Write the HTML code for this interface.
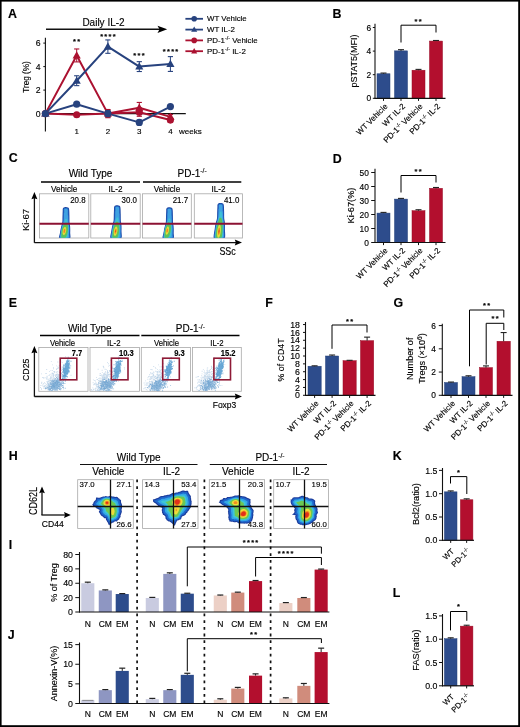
<!DOCTYPE html>
<html><head><meta charset="utf-8"><style>
html,body{margin:0;padding:0;background:#fff;}
svg{display:block;filter:blur(0.3px);font-family:"Liberation Sans", sans-serif;}
text{stroke:#000;stroke-width:0.14px;}
</style></head><body>
<svg width="520" height="727" viewBox="0 0 520 727">
<defs><clipPath id="cclip"><rect x="0" y="193.8" width="520" height="44"/></clipPath></defs>
<rect width="520" height="727" fill="#fff"/>
<rect x="0" y="0" width="520" height="1.6" fill="#000"/>
<rect x="0" y="0" width="1.6" height="727" fill="#000"/>
<rect x="518.2" y="0" width="1.8" height="727" fill="#000"/>
<rect x="0" y="725.2" width="520" height="1.8" fill="#000"/>
<text x="8" y="18" font-size="12.4" font-weight="bold" fill="#000">A</text>
<text x="332.5" y="18.3" font-size="12.4" font-weight="bold" fill="#000">B</text>
<text x="8.7" y="161.5" font-size="12.4" font-weight="bold" fill="#000">C</text>
<text x="332.8" y="163.3" font-size="12.4" font-weight="bold" fill="#000">D</text>
<text x="8.7" y="306.5" font-size="12.4" font-weight="bold" fill="#000">E</text>
<text x="265.3" y="306.5" font-size="12.4" font-weight="bold" fill="#000">F</text>
<text x="393.5" y="306.5" font-size="12.4" font-weight="bold" fill="#000">G</text>
<text x="8.7" y="460.3" font-size="12.4" font-weight="bold" fill="#000">H</text>
<text x="8.7" y="549" font-size="12.4" font-weight="bold" fill="#000">I</text>
<text x="7.8" y="638.5" font-size="12.4" font-weight="bold" fill="#000">J</text>
<text x="392.8" y="460" font-size="12.4" font-weight="bold" fill="#000">K</text>
<text x="392.8" y="597" font-size="12.4" font-weight="bold" fill="#000">L</text>
<text x="103.5" y="26" font-size="10" text-anchor="middle" fill="#000">Daily IL-2</text>
<line x1="46" y1="29.3" x2="160" y2="29.3" stroke="#111" stroke-width="1.4"/>
<path d="M167.2 29.3 L157.5 25.7 L159.5 29.3 L157.5 32.9 Z" fill="#000"/>
<line x1="45.4" y1="37.8" x2="45.4" y2="131.5" stroke="#111" stroke-width="1.1"/>
<line x1="43.3" y1="113.6" x2="45.4" y2="113.6" stroke="#111" stroke-width="1"/>
<text x="40.6" y="116.7" font-size="8.7" text-anchor="end" fill="#000">0</text>
<line x1="43.3" y1="90.1" x2="45.4" y2="90.1" stroke="#111" stroke-width="1"/>
<text x="40.6" y="93.2" font-size="8.7" text-anchor="end" fill="#000">2</text>
<line x1="43.3" y1="66.6" x2="45.4" y2="66.6" stroke="#111" stroke-width="1"/>
<text x="40.6" y="69.7" font-size="8.7" text-anchor="end" fill="#000">4</text>
<line x1="43.3" y1="43.1" x2="45.4" y2="43.1" stroke="#111" stroke-width="1"/>
<text x="40.6" y="46.2" font-size="8.7" text-anchor="end" fill="#000">6</text>
<line x1="45.4" y1="113.6" x2="185.8" y2="113.6" stroke="#111" stroke-width="1.1"/>
<text x="76.7" y="134.3" font-size="8" text-anchor="middle" fill="#000">1</text>
<text x="107.9" y="134.3" font-size="8" text-anchor="middle" fill="#000">2</text>
<text x="139.3" y="134.3" font-size="8" text-anchor="middle" fill="#000">3</text>
<text x="170.4" y="134.3" font-size="8" text-anchor="middle" fill="#000">4</text>
<text x="179" y="134.3" font-size="8" fill="#000">weeks</text>
<text x="28.5" y="77" font-size="8.2" text-anchor="middle" fill="#000" transform="rotate(-90 28.5 77)">Treg (%)</text>
<polyline points="45.4,113.6 76.7,114.77 107.9,113.6 139.3,112.19 170.4,120.06" fill="none" stroke="#ab1130" stroke-width="2" stroke-linejoin="round"/>
<polyline points="45.4,113.6 76.7,55.44 107.9,113.6 139.3,107.72 170.4,116.89" fill="none" stroke="#ab1130" stroke-width="2" stroke-linejoin="round"/>
<polyline points="45.4,113.6 76.7,104.2 107.9,113.6 139.3,122.41 170.4,106.55" fill="none" stroke="#27427e" stroke-width="2" stroke-linejoin="round"/>
<polyline points="45.4,113.6 76.7,80.7 107.9,46.62 139.3,66.6 170.4,64.02" fill="none" stroke="#27427e" stroke-width="2" stroke-linejoin="round"/>
<circle cx="45.4" cy="113.6" r="3.6" fill="#ab1130"/>
<circle cx="76.7" cy="114.77" r="3.6" fill="#ab1130"/>
<line x1="107.9" y1="110.07" x2="107.9" y2="117.12" stroke="#ab1130" stroke-width="1"/>
<line x1="105.3" y1="110.07" x2="110.5" y2="110.07" stroke="#ab1130" stroke-width="1.1"/>
<line x1="105.3" y1="117.12" x2="110.5" y2="117.12" stroke="#ab1130" stroke-width="1.1"/>
<circle cx="107.9" cy="113.6" r="3.6" fill="#ab1130"/>
<line x1="139.3" y1="108.08" x2="139.3" y2="116.3" stroke="#ab1130" stroke-width="1"/>
<line x1="136.7" y1="108.08" x2="141.9" y2="108.08" stroke="#ab1130" stroke-width="1.1"/>
<line x1="136.7" y1="116.3" x2="141.9" y2="116.3" stroke="#ab1130" stroke-width="1.1"/>
<circle cx="139.3" cy="112.19" r="3.6" fill="#ab1130"/>
<line x1="170.4" y1="117.71" x2="170.4" y2="122.41" stroke="#ab1130" stroke-width="1"/>
<line x1="167.8" y1="117.71" x2="173" y2="117.71" stroke="#ab1130" stroke-width="1.1"/>
<line x1="167.8" y1="122.41" x2="173" y2="122.41" stroke="#ab1130" stroke-width="1.1"/>
<circle cx="170.4" cy="120.06" r="3.6" fill="#ab1130"/>
<path d="M45.4 109.3 L41.31 116.61 L49.48 116.61 Z" fill="#ab1130"/>
<line x1="76.7" y1="48.97" x2="76.7" y2="61.9" stroke="#ab1130" stroke-width="1"/>
<line x1="74.1" y1="48.97" x2="79.3" y2="48.97" stroke="#ab1130" stroke-width="1.1"/>
<line x1="74.1" y1="61.9" x2="79.3" y2="61.9" stroke="#ab1130" stroke-width="1.1"/>
<path d="M76.7 51.14 L72.62 58.45 L80.78 58.45 Z" fill="#ab1130"/>
<line x1="107.9" y1="109.49" x2="107.9" y2="117.71" stroke="#ab1130" stroke-width="1"/>
<line x1="105.3" y1="109.49" x2="110.5" y2="109.49" stroke="#ab1130" stroke-width="1.1"/>
<line x1="105.3" y1="117.71" x2="110.5" y2="117.71" stroke="#ab1130" stroke-width="1.1"/>
<path d="M107.9 109.3 L103.82 116.61 L111.98 116.61 Z" fill="#ab1130"/>
<line x1="139.3" y1="102.44" x2="139.3" y2="113.01" stroke="#ab1130" stroke-width="1"/>
<line x1="136.7" y1="102.44" x2="141.9" y2="102.44" stroke="#ab1130" stroke-width="1.1"/>
<line x1="136.7" y1="113.01" x2="141.9" y2="113.01" stroke="#ab1130" stroke-width="1.1"/>
<path d="M139.3 103.42 L135.22 110.73 L143.39 110.73 Z" fill="#ab1130"/>
<line x1="170.4" y1="114.54" x2="170.4" y2="119.24" stroke="#ab1130" stroke-width="1"/>
<line x1="167.8" y1="114.54" x2="173" y2="114.54" stroke="#ab1130" stroke-width="1.1"/>
<line x1="167.8" y1="119.24" x2="173" y2="119.24" stroke="#ab1130" stroke-width="1.1"/>
<path d="M170.4 112.59 L166.31 119.9 L174.49 119.9 Z" fill="#ab1130"/>
<circle cx="45.4" cy="113.6" r="3.6" fill="#27427e"/>
<circle cx="76.7" cy="104.2" r="3.6" fill="#27427e"/>
<line x1="107.9" y1="110.66" x2="107.9" y2="116.54" stroke="#27427e" stroke-width="1"/>
<line x1="105.3" y1="110.66" x2="110.5" y2="110.66" stroke="#27427e" stroke-width="1.1"/>
<line x1="105.3" y1="116.54" x2="110.5" y2="116.54" stroke="#27427e" stroke-width="1.1"/>
<circle cx="107.9" cy="113.6" r="3.6" fill="#27427e"/>
<line x1="139.3" y1="120.06" x2="139.3" y2="124.76" stroke="#27427e" stroke-width="1"/>
<line x1="136.7" y1="120.06" x2="141.9" y2="120.06" stroke="#27427e" stroke-width="1.1"/>
<line x1="136.7" y1="124.76" x2="141.9" y2="124.76" stroke="#27427e" stroke-width="1.1"/>
<circle cx="139.3" cy="122.41" r="3.6" fill="#27427e"/>
<circle cx="170.4" cy="106.55" r="3.6" fill="#27427e"/>
<path d="M45.4 109.3 L41.31 116.61 L49.48 116.61 Z" fill="#27427e"/>
<line x1="76.7" y1="75.77" x2="76.7" y2="85.63" stroke="#27427e" stroke-width="1"/>
<line x1="74.1" y1="75.77" x2="79.3" y2="75.77" stroke="#27427e" stroke-width="1.1"/>
<line x1="74.1" y1="85.63" x2="79.3" y2="85.63" stroke="#27427e" stroke-width="1.1"/>
<path d="M76.7 76.4 L72.62 83.71 L80.78 83.71 Z" fill="#27427e"/>
<line x1="107.9" y1="39.93" x2="107.9" y2="53.32" stroke="#27427e" stroke-width="1"/>
<line x1="105.3" y1="39.93" x2="110.5" y2="39.93" stroke="#27427e" stroke-width="1.1"/>
<line x1="105.3" y1="53.32" x2="110.5" y2="53.32" stroke="#27427e" stroke-width="1.1"/>
<path d="M107.9 42.32 L103.82 49.63 L111.98 49.63 Z" fill="#27427e"/>
<line x1="139.3" y1="61.66" x2="139.3" y2="71.53" stroke="#27427e" stroke-width="1"/>
<line x1="136.7" y1="61.66" x2="141.9" y2="61.66" stroke="#27427e" stroke-width="1.1"/>
<line x1="136.7" y1="71.53" x2="141.9" y2="71.53" stroke="#27427e" stroke-width="1.1"/>
<path d="M139.3 62.3 L135.22 69.61 L143.39 69.61 Z" fill="#27427e"/>
<line x1="170.4" y1="56.61" x2="170.4" y2="71.42" stroke="#27427e" stroke-width="1"/>
<line x1="167.8" y1="56.61" x2="173" y2="56.61" stroke="#27427e" stroke-width="1.1"/>
<line x1="167.8" y1="71.42" x2="173" y2="71.42" stroke="#27427e" stroke-width="1.1"/>
<path d="M170.4 59.72 L166.31 67.03 L174.49 67.03 Z" fill="#27427e"/>
<text x="74.5" y="43.71" font-size="7.4" font-weight="bold" text-anchor="middle">*</text>
<text x="78.7" y="43.71" font-size="7.4" font-weight="bold" text-anchor="middle">*</text>
<text x="101.6" y="38.91" font-size="7.4" font-weight="bold" text-anchor="middle">*</text>
<text x="105.8" y="38.91" font-size="7.4" font-weight="bold" text-anchor="middle">*</text>
<text x="110" y="38.91" font-size="7.4" font-weight="bold" text-anchor="middle">*</text>
<text x="114.2" y="38.91" font-size="7.4" font-weight="bold" text-anchor="middle">*</text>
<text x="134.8" y="57.71" font-size="7.4" font-weight="bold" text-anchor="middle">*</text>
<text x="139" y="57.71" font-size="7.4" font-weight="bold" text-anchor="middle">*</text>
<text x="143.2" y="57.71" font-size="7.4" font-weight="bold" text-anchor="middle">*</text>
<text x="164.2" y="54.11" font-size="7.4" font-weight="bold" text-anchor="middle">*</text>
<text x="168.4" y="54.11" font-size="7.4" font-weight="bold" text-anchor="middle">*</text>
<text x="172.6" y="54.11" font-size="7.4" font-weight="bold" text-anchor="middle">*</text>
<text x="176.8" y="54.11" font-size="7.4" font-weight="bold" text-anchor="middle">*</text>
<line x1="185.4" y1="18.8" x2="203" y2="18.8" stroke="#27427e" stroke-width="1.8"/>
<circle cx="194.2" cy="18.8" r="2.8" fill="#27427e"/>
<text x="207" y="21.3" font-size="7.9" fill="#000" stroke-width="0.25">WT Vehicle</text>
<line x1="185.4" y1="29.6" x2="203" y2="29.6" stroke="#27427e" stroke-width="1.8"/>
<path d="M194.2 26.4 L191.16 31.84 L197.24 31.84 Z" fill="#27427e"/>
<text x="207" y="32.1" font-size="7.9" fill="#000" stroke-width="0.25">WT IL-2</text>
<line x1="185.4" y1="40.4" x2="203" y2="40.4" stroke="#ab1130" stroke-width="1.8"/>
<circle cx="194.2" cy="40.4" r="2.8" fill="#ab1130"/>
<text x="207" y="42.9" font-size="7.9" fill="#000" stroke-width="0.25">PD-1<tspan font-size="5.3" dy="-2.81">-/-</tspan><tspan dy="2.81"> Vehicle</tspan></text>
<line x1="185.4" y1="51.2" x2="203" y2="51.2" stroke="#ab1130" stroke-width="1.8"/>
<path d="M194.2 48 L191.16 53.44 L197.24 53.44 Z" fill="#ab1130"/>
<text x="207" y="53.7" font-size="7.9" fill="#000" stroke-width="0.25">PD-1<tspan font-size="5.3" dy="-2.81">-/-</tspan><tspan dy="2.81"> IL-2</tspan></text>
<line x1="375" y1="23.8" x2="375" y2="98.8" stroke="#111" stroke-width="1.1"/>
<line x1="372.8" y1="98.3" x2="375" y2="98.3" stroke="#111" stroke-width="1"/>
<text x="371.2" y="101.32" font-size="8.4" text-anchor="end" fill="#000">0</text>
<line x1="372.8" y1="74.7" x2="375" y2="74.7" stroke="#111" stroke-width="1"/>
<text x="371.2" y="77.72" font-size="8.4" text-anchor="end" fill="#000">2</text>
<line x1="372.8" y1="51.1" x2="375" y2="51.1" stroke="#111" stroke-width="1"/>
<text x="371.2" y="54.12" font-size="8.4" text-anchor="end" fill="#000">4</text>
<line x1="372.8" y1="27.5" x2="375" y2="27.5" stroke="#111" stroke-width="1"/>
<text x="371.2" y="30.52" font-size="8.4" text-anchor="end" fill="#000">6</text>
<rect x="377" y="73.76" width="13" height="24.54" fill="#2d4c8c" stroke="#24417a" stroke-width="0.5"/>
<line x1="383.5" y1="73.05" x2="383.5" y2="73.76" stroke="#222" stroke-width="1"/>
<line x1="380.5" y1="73.05" x2="386.5" y2="73.05" stroke="#222" stroke-width="1.1"/>
<line x1="383.5" y1="98.3" x2="383.5" y2="100.9" stroke="#111" stroke-width="1"/>
<rect x="394.5" y="50.86" width="13" height="47.44" fill="#2d4c8c" stroke="#24417a" stroke-width="0.5"/>
<line x1="401" y1="49.68" x2="401" y2="50.86" stroke="#222" stroke-width="1"/>
<line x1="398" y1="49.68" x2="404" y2="49.68" stroke="#222" stroke-width="1.1"/>
<line x1="401" y1="98.3" x2="401" y2="100.9" stroke="#111" stroke-width="1"/>
<rect x="412" y="70.22" width="13" height="28.08" fill="#b30f2e" stroke="#980a24" stroke-width="0.5"/>
<line x1="418.5" y1="69.39" x2="418.5" y2="70.22" stroke="#222" stroke-width="1"/>
<line x1="415.5" y1="69.39" x2="421.5" y2="69.39" stroke="#222" stroke-width="1.1"/>
<line x1="418.5" y1="98.3" x2="418.5" y2="100.9" stroke="#111" stroke-width="1"/>
<rect x="429.5" y="41.07" width="13" height="57.23" fill="#b30f2e" stroke="#980a24" stroke-width="0.5"/>
<line x1="436" y1="40.48" x2="436" y2="41.07" stroke="#222" stroke-width="1"/>
<line x1="433" y1="40.48" x2="439" y2="40.48" stroke="#222" stroke-width="1.1"/>
<line x1="436" y1="98.3" x2="436" y2="100.9" stroke="#111" stroke-width="1"/>
<line x1="374.5" y1="98.3" x2="445.5" y2="98.3" stroke="#111" stroke-width="1.2"/>
<path d="M401 42.5 L401 25.2 L436 25.2 L436 32.5" fill="none" stroke="#000" stroke-width="1"/>
<text x="416" y="24.11" font-size="7.4" font-weight="bold" text-anchor="middle">*</text>
<text x="420.2" y="24.11" font-size="7.4" font-weight="bold" text-anchor="middle">*</text>
<text x="357" y="61" font-size="9" text-anchor="middle" fill="#000" transform="rotate(-90 357 61)">pSTAT5(MFI)</text>
<text x="388.1" y="106.9" font-size="8" text-anchor="end" fill="#000" transform="rotate(-45 388.1 106.9)">WT Vehicle</text>
<text x="405.6" y="106.9" font-size="8" text-anchor="end" fill="#000" transform="rotate(-45 405.6 106.9)">WT IL-2</text>
<text x="423.1" y="106.9" font-size="8" text-anchor="end" fill="#000" transform="rotate(-45 423.1 106.9)">PD-1<tspan font-size="5.44" dy="-2.88">-/-</tspan><tspan dy="2.88"> Vehicle</tspan></text>
<text x="440.6" y="106.9" font-size="8" text-anchor="end" fill="#000" transform="rotate(-45 440.6 106.9)">PD-1<tspan font-size="5.44" dy="-2.88">-/-</tspan><tspan dy="2.88"> IL-2</tspan></text>
<line x1="375" y1="168.8" x2="375" y2="243" stroke="#111" stroke-width="1.1"/>
<line x1="371.2" y1="242.5" x2="375" y2="242.5" stroke="#111" stroke-width="1"/>
<text x="368.9" y="245.52" font-size="8.4" text-anchor="end" fill="#000">0</text>
<line x1="371.2" y1="228.5" x2="375" y2="228.5" stroke="#111" stroke-width="1"/>
<text x="368.9" y="231.52" font-size="8.4" text-anchor="end" fill="#000">10</text>
<line x1="371.2" y1="214.5" x2="375" y2="214.5" stroke="#111" stroke-width="1"/>
<text x="368.9" y="217.52" font-size="8.4" text-anchor="end" fill="#000">20</text>
<line x1="371.2" y1="200.5" x2="375" y2="200.5" stroke="#111" stroke-width="1"/>
<text x="368.9" y="203.52" font-size="8.4" text-anchor="end" fill="#000">30</text>
<line x1="371.2" y1="186.5" x2="375" y2="186.5" stroke="#111" stroke-width="1"/>
<text x="368.9" y="189.52" font-size="8.4" text-anchor="end" fill="#000">40</text>
<line x1="371.2" y1="172.5" x2="375" y2="172.5" stroke="#111" stroke-width="1"/>
<text x="368.9" y="175.52" font-size="8.4" text-anchor="end" fill="#000">50</text>
<rect x="377" y="213.1" width="13" height="29.4" fill="#2d4c8c" stroke="#24417a" stroke-width="0.5"/>
<line x1="383.5" y1="212.4" x2="383.5" y2="213.1" stroke="#222" stroke-width="1"/>
<line x1="380.5" y1="212.4" x2="386.5" y2="212.4" stroke="#222" stroke-width="1.1"/>
<line x1="383.5" y1="242.5" x2="383.5" y2="245.1" stroke="#111" stroke-width="1"/>
<rect x="394.5" y="199.1" width="13" height="43.4" fill="#2d4c8c" stroke="#24417a" stroke-width="0.5"/>
<line x1="401" y1="198.4" x2="401" y2="199.1" stroke="#222" stroke-width="1"/>
<line x1="398" y1="198.4" x2="404" y2="198.4" stroke="#222" stroke-width="1.1"/>
<line x1="401" y1="242.5" x2="401" y2="245.1" stroke="#111" stroke-width="1"/>
<rect x="412" y="210.72" width="13" height="31.78" fill="#b30f2e" stroke="#980a24" stroke-width="0.5"/>
<line x1="418.5" y1="209.74" x2="418.5" y2="210.72" stroke="#222" stroke-width="1"/>
<line x1="415.5" y1="209.74" x2="421.5" y2="209.74" stroke="#222" stroke-width="1.1"/>
<line x1="418.5" y1="242.5" x2="418.5" y2="245.1" stroke="#111" stroke-width="1"/>
<rect x="429.5" y="188.32" width="13" height="54.18" fill="#b30f2e" stroke="#980a24" stroke-width="0.5"/>
<line x1="436" y1="187.48" x2="436" y2="188.32" stroke="#222" stroke-width="1"/>
<line x1="433" y1="187.48" x2="439" y2="187.48" stroke="#222" stroke-width="1.1"/>
<line x1="436" y1="242.5" x2="436" y2="245.1" stroke="#111" stroke-width="1"/>
<line x1="374.5" y1="242.5" x2="445.5" y2="242.5" stroke="#111" stroke-width="1.2"/>
<path d="M401 192.5 L401 175.5 L436 175.5 L436 182.5" fill="none" stroke="#000" stroke-width="1"/>
<text x="416" y="173.71" font-size="7.4" font-weight="bold" text-anchor="middle">*</text>
<text x="420.2" y="173.71" font-size="7.4" font-weight="bold" text-anchor="middle">*</text>
<text x="354" y="205.5" font-size="9.2" text-anchor="middle" fill="#000" transform="rotate(-90 354 205.5)">Ki-67(%)</text>
<text x="388.1" y="251.1" font-size="8" text-anchor="end" fill="#000" transform="rotate(-45 388.1 251.1)">WT Vehicle</text>
<text x="405.6" y="251.1" font-size="8" text-anchor="end" fill="#000" transform="rotate(-45 405.6 251.1)">WT IL-2</text>
<text x="423.1" y="251.1" font-size="8" text-anchor="end" fill="#000" transform="rotate(-45 423.1 251.1)">PD-1<tspan font-size="5.44" dy="-2.88">-/-</tspan><tspan dy="2.88"> Vehicle</tspan></text>
<text x="440.6" y="251.1" font-size="8" text-anchor="end" fill="#000" transform="rotate(-45 440.6 251.1)">PD-1<tspan font-size="5.44" dy="-2.88">-/-</tspan><tspan dy="2.88"> IL-2</tspan></text>
<line x1="305.5" y1="322" x2="305.5" y2="395.8" stroke="#111" stroke-width="1.1"/>
<line x1="303" y1="395.3" x2="305.5" y2="395.3" stroke="#111" stroke-width="1"/>
<text x="300" y="398.47" font-size="8.8" text-anchor="end" fill="#000">0</text>
<line x1="303" y1="387.44" x2="305.5" y2="387.44" stroke="#111" stroke-width="1"/>
<text x="300" y="390.61" font-size="8.8" text-anchor="end" fill="#000">2</text>
<line x1="303" y1="379.58" x2="305.5" y2="379.58" stroke="#111" stroke-width="1"/>
<text x="300" y="382.75" font-size="8.8" text-anchor="end" fill="#000">4</text>
<line x1="303" y1="371.72" x2="305.5" y2="371.72" stroke="#111" stroke-width="1"/>
<text x="300" y="374.89" font-size="8.8" text-anchor="end" fill="#000">6</text>
<line x1="303" y1="363.86" x2="305.5" y2="363.86" stroke="#111" stroke-width="1"/>
<text x="300" y="367.03" font-size="8.8" text-anchor="end" fill="#000">8</text>
<line x1="303" y1="356" x2="305.5" y2="356" stroke="#111" stroke-width="1"/>
<text x="300" y="359.17" font-size="8.8" text-anchor="end" fill="#000">10</text>
<line x1="303" y1="348.14" x2="305.5" y2="348.14" stroke="#111" stroke-width="1"/>
<text x="300" y="351.31" font-size="8.8" text-anchor="end" fill="#000">12</text>
<line x1="303" y1="340.28" x2="305.5" y2="340.28" stroke="#111" stroke-width="1"/>
<text x="300" y="343.45" font-size="8.8" text-anchor="end" fill="#000">14</text>
<line x1="303" y1="332.42" x2="305.5" y2="332.42" stroke="#111" stroke-width="1"/>
<text x="300" y="335.59" font-size="8.8" text-anchor="end" fill="#000">16</text>
<line x1="303" y1="324.56" x2="305.5" y2="324.56" stroke="#111" stroke-width="1"/>
<text x="300" y="327.73" font-size="8.8" text-anchor="end" fill="#000">18</text>
<rect x="308" y="366.22" width="13.2" height="29.08" fill="#2d4c8c" stroke="#24417a" stroke-width="0.5"/>
<line x1="314.6" y1="365.82" x2="314.6" y2="366.22" stroke="#222" stroke-width="1"/>
<line x1="311.6" y1="365.82" x2="317.6" y2="365.82" stroke="#222" stroke-width="1.1"/>
<line x1="314.6" y1="395.3" x2="314.6" y2="397.9" stroke="#111" stroke-width="1"/>
<rect x="325.5" y="356" width="13.2" height="39.3" fill="#2d4c8c" stroke="#24417a" stroke-width="0.5"/>
<line x1="332.1" y1="355.02" x2="332.1" y2="356" stroke="#222" stroke-width="1"/>
<line x1="329.1" y1="355.02" x2="335.1" y2="355.02" stroke="#222" stroke-width="1.1"/>
<line x1="332.1" y1="395.3" x2="332.1" y2="397.9" stroke="#111" stroke-width="1"/>
<rect x="343" y="360.72" width="13.2" height="34.58" fill="#b30f2e" stroke="#980a24" stroke-width="0.5"/>
<line x1="349.6" y1="360.32" x2="349.6" y2="360.72" stroke="#222" stroke-width="1"/>
<line x1="346.6" y1="360.32" x2="352.6" y2="360.32" stroke="#222" stroke-width="1.1"/>
<line x1="349.6" y1="395.3" x2="349.6" y2="397.9" stroke="#111" stroke-width="1"/>
<rect x="360.5" y="340.67" width="13.2" height="54.63" fill="#b30f2e" stroke="#980a24" stroke-width="0.5"/>
<line x1="367.1" y1="337.14" x2="367.1" y2="340.67" stroke="#222" stroke-width="1"/>
<line x1="364.1" y1="337.14" x2="370.1" y2="337.14" stroke="#222" stroke-width="1.1"/>
<line x1="367.1" y1="395.3" x2="367.1" y2="397.9" stroke="#111" stroke-width="1"/>
<line x1="305" y1="395.3" x2="375.5" y2="395.3" stroke="#111" stroke-width="1.2"/>
<path d="M332 348.8 L332 325 L367 325 L367 332.5" fill="none" stroke="#000" stroke-width="1"/>
<text x="347.4" y="323.71" font-size="7.4" font-weight="bold" text-anchor="middle">*</text>
<text x="351.6" y="323.71" font-size="7.4" font-weight="bold" text-anchor="middle">*</text>
<text x="284.3" y="360" font-size="8.8" text-anchor="middle" fill="#000" transform="rotate(-90 284.3 360)">% of CD4T</text>
<text x="319.2" y="403.9" font-size="8" text-anchor="end" fill="#000" transform="rotate(-45 319.2 403.9)">WT Vehicle</text>
<text x="336.7" y="403.9" font-size="8" text-anchor="end" fill="#000" transform="rotate(-45 336.7 403.9)">WT IL-2</text>
<text x="354.2" y="403.9" font-size="8" text-anchor="end" fill="#000" transform="rotate(-45 354.2 403.9)">PD-1<tspan font-size="5.44" dy="-2.88">-/-</tspan><tspan dy="2.88"> Vehicle</tspan></text>
<text x="371.7" y="403.9" font-size="8" text-anchor="end" fill="#000" transform="rotate(-45 371.7 403.9)">PD-1<tspan font-size="5.44" dy="-2.88">-/-</tspan><tspan dy="2.88"> IL-2</tspan></text>
<line x1="442.3" y1="323.7" x2="442.3" y2="395.8" stroke="#111" stroke-width="1.1"/>
<line x1="438.8" y1="395.3" x2="442.3" y2="395.3" stroke="#111" stroke-width="1"/>
<text x="436" y="398.32" font-size="8.4" text-anchor="end" fill="#000">0</text>
<line x1="438.8" y1="372.06" x2="442.3" y2="372.06" stroke="#111" stroke-width="1"/>
<text x="436" y="375.08" font-size="8.4" text-anchor="end" fill="#000">2</text>
<line x1="438.8" y1="348.82" x2="442.3" y2="348.82" stroke="#111" stroke-width="1"/>
<text x="436" y="351.84" font-size="8.4" text-anchor="end" fill="#000">4</text>
<line x1="438.8" y1="325.58" x2="442.3" y2="325.58" stroke="#111" stroke-width="1"/>
<text x="436" y="328.6" font-size="8.4" text-anchor="end" fill="#000">6</text>
<rect x="444.5" y="382.52" width="13" height="12.78" fill="#2d4c8c" stroke="#24417a" stroke-width="0.5"/>
<line x1="451" y1="382.05" x2="451" y2="382.52" stroke="#222" stroke-width="1"/>
<line x1="448" y1="382.05" x2="454" y2="382.05" stroke="#222" stroke-width="1.1"/>
<line x1="451" y1="395.3" x2="451" y2="397.9" stroke="#111" stroke-width="1"/>
<rect x="462" y="376.71" width="13" height="18.59" fill="#2d4c8c" stroke="#24417a" stroke-width="0.5"/>
<line x1="468.5" y1="375.78" x2="468.5" y2="376.71" stroke="#222" stroke-width="1"/>
<line x1="465.5" y1="375.78" x2="471.5" y2="375.78" stroke="#222" stroke-width="1.1"/>
<line x1="468.5" y1="395.3" x2="468.5" y2="397.9" stroke="#111" stroke-width="1"/>
<rect x="479.5" y="367.64" width="13" height="27.66" fill="#b30f2e" stroke="#980a24" stroke-width="0.5"/>
<line x1="486" y1="365.9" x2="486" y2="367.64" stroke="#222" stroke-width="1"/>
<line x1="483" y1="365.9" x2="489" y2="365.9" stroke="#222" stroke-width="1.1"/>
<line x1="486" y1="395.3" x2="486" y2="397.9" stroke="#111" stroke-width="1"/>
<rect x="497" y="341.27" width="13.3" height="54.03" fill="#b30f2e" stroke="#980a24" stroke-width="0.5"/>
<line x1="503.65" y1="332.55" x2="503.65" y2="341.27" stroke="#222" stroke-width="1"/>
<line x1="500.65" y1="332.55" x2="506.65" y2="332.55" stroke="#222" stroke-width="1.1"/>
<line x1="503.65" y1="395.3" x2="503.65" y2="397.9" stroke="#111" stroke-width="1"/>
<line x1="441.8" y1="395.3" x2="512.5" y2="395.3" stroke="#111" stroke-width="1.2"/>
<path d="M469.5 366.3 L469.5 310 L503.8 310 L503.8 317.5" fill="none" stroke="#000" stroke-width="1"/>
<path d="M486.2 364.5 L486.2 323.3 L503.8 323.3 L503.8 330" fill="none" stroke="#000" stroke-width="1"/>
<text x="484.4" y="307.51" font-size="7.4" font-weight="bold" text-anchor="middle">*</text>
<text x="488.6" y="307.51" font-size="7.4" font-weight="bold" text-anchor="middle">*</text>
<text x="492.9" y="320.71" font-size="7.4" font-weight="bold" text-anchor="middle">*</text>
<text x="497.1" y="320.71" font-size="7.4" font-weight="bold" text-anchor="middle">*</text>
<text x="413.3" y="358.8" font-size="9.1" text-anchor="middle" fill="#000" transform="rotate(-90 413.3 358.8)">Number of</text>
<text x="425.2" y="358.5" font-size="9.1" text-anchor="middle" fill="#000" transform="rotate(-90 425.2 358.5)">Tregs (×10<tspan font-size="6.8" dy="-3.4">6</tspan><tspan dy="3.4">)</tspan></text>
<text x="455.6" y="403.9" font-size="8" text-anchor="end" fill="#000" transform="rotate(-45 455.6 403.9)">WT Vehicle</text>
<text x="473.1" y="403.9" font-size="8" text-anchor="end" fill="#000" transform="rotate(-45 473.1 403.9)">WT IL-2</text>
<text x="490.6" y="403.9" font-size="8" text-anchor="end" fill="#000" transform="rotate(-45 490.6 403.9)">PD-1<tspan font-size="5.44" dy="-2.88">-/-</tspan><tspan dy="2.88"> Vehicle</tspan></text>
<text x="508.25" y="403.9" font-size="8" text-anchor="end" fill="#000" transform="rotate(-45 508.25 403.9)">PD-1<tspan font-size="5.44" dy="-2.88">-/-</tspan><tspan dy="2.88"> IL-2</tspan></text>
<line x1="442.5" y1="468" x2="442.5" y2="540.8" stroke="#111" stroke-width="1.1"/>
<line x1="439" y1="540.3" x2="442.5" y2="540.3" stroke="#111" stroke-width="1"/>
<text x="437.4" y="543.47" font-size="8.8" text-anchor="end" fill="#000">0.0</text>
<line x1="439" y1="517" x2="442.5" y2="517" stroke="#111" stroke-width="1"/>
<text x="437.4" y="520.17" font-size="8.8" text-anchor="end" fill="#000">0.5</text>
<line x1="439" y1="493.7" x2="442.5" y2="493.7" stroke="#111" stroke-width="1"/>
<text x="437.4" y="496.87" font-size="8.8" text-anchor="end" fill="#000">1.0</text>
<line x1="439" y1="470.4" x2="442.5" y2="470.4" stroke="#111" stroke-width="1"/>
<text x="437.4" y="473.57" font-size="8.8" text-anchor="end" fill="#000">1.5</text>
<rect x="444.4" y="491.84" width="12.6" height="48.46" fill="#2d4c8c" stroke="#24417a" stroke-width="0.5"/>
<line x1="450.7" y1="490.9" x2="450.7" y2="491.84" stroke="#222" stroke-width="1"/>
<line x1="447.7" y1="490.9" x2="453.7" y2="490.9" stroke="#222" stroke-width="1.1"/>
<line x1="450.7" y1="540.3" x2="450.7" y2="542.9" stroke="#111" stroke-width="1"/>
<rect x="460.4" y="499.76" width="12.5" height="40.54" fill="#b30f2e" stroke="#980a24" stroke-width="0.5"/>
<line x1="466.65" y1="498.83" x2="466.65" y2="499.76" stroke="#222" stroke-width="1"/>
<line x1="463.65" y1="498.83" x2="469.65" y2="498.83" stroke="#222" stroke-width="1.1"/>
<line x1="466.65" y1="540.3" x2="466.65" y2="542.9" stroke="#111" stroke-width="1"/>
<line x1="442" y1="540.3" x2="474" y2="540.3" stroke="#111" stroke-width="1.2"/>
<path d="M450.5 483.5 L450.5 476.6 L466.8 476.6 L466.8 494" fill="none" stroke="#000" stroke-width="1"/>
<text x="458.5" y="474.61" font-size="7.4" font-weight="bold" text-anchor="middle">*</text>
<text x="419.3" y="504" font-size="9.2" text-anchor="middle" fill="#000" transform="rotate(-90 419.3 504)">Bcl2(ratio)</text>
<text x="454.5" y="551.8" font-size="7.8" text-anchor="end" fill="#000" transform="rotate(-45 454.5 551.8)">WT</text>
<text x="470.5" y="551.3" font-size="7.8" text-anchor="end" fill="#000" transform="rotate(-45 470.5 551.3)">PD-1<tspan font-size="5.3" dy="-2.81">-/-</tspan><tspan dy="2.81"></tspan></text>
<line x1="442.5" y1="614" x2="442.5" y2="686.3" stroke="#111" stroke-width="1.1"/>
<line x1="439" y1="685.8" x2="442.5" y2="685.8" stroke="#111" stroke-width="1"/>
<text x="437.4" y="688.97" font-size="8.8" text-anchor="end" fill="#000">0.0</text>
<line x1="439" y1="662.5" x2="442.5" y2="662.5" stroke="#111" stroke-width="1"/>
<text x="437.4" y="665.67" font-size="8.8" text-anchor="end" fill="#000">0.5</text>
<line x1="439" y1="639.2" x2="442.5" y2="639.2" stroke="#111" stroke-width="1"/>
<text x="437.4" y="642.37" font-size="8.8" text-anchor="end" fill="#000">1.0</text>
<line x1="439" y1="615.9" x2="442.5" y2="615.9" stroke="#111" stroke-width="1"/>
<text x="437.4" y="619.07" font-size="8.8" text-anchor="end" fill="#000">1.5</text>
<rect x="444.4" y="638.73" width="12.6" height="47.07" fill="#2d4c8c" stroke="#24417a" stroke-width="0.5"/>
<line x1="450.7" y1="637.8" x2="450.7" y2="638.73" stroke="#222" stroke-width="1"/>
<line x1="447.7" y1="637.8" x2="453.7" y2="637.8" stroke="#222" stroke-width="1.1"/>
<line x1="450.7" y1="685.8" x2="450.7" y2="688.4" stroke="#111" stroke-width="1"/>
<rect x="460.4" y="626.15" width="12.5" height="59.65" fill="#b30f2e" stroke="#980a24" stroke-width="0.5"/>
<line x1="466.65" y1="625.22" x2="466.65" y2="626.15" stroke="#222" stroke-width="1"/>
<line x1="463.65" y1="625.22" x2="469.65" y2="625.22" stroke="#222" stroke-width="1.1"/>
<line x1="466.65" y1="685.8" x2="466.65" y2="688.4" stroke="#111" stroke-width="1"/>
<line x1="442" y1="685.8" x2="474" y2="685.8" stroke="#111" stroke-width="1.2"/>
<path d="M450.5 630.4 L450.5 611.5 L466.8 611.5 L466.8 620.8" fill="none" stroke="#000" stroke-width="1"/>
<text x="458.5" y="609.11" font-size="7.4" font-weight="bold" text-anchor="middle">*</text>
<text x="419.3" y="650" font-size="9.2" text-anchor="middle" fill="#000" transform="rotate(-90 419.3 650)">FAS(ratio)</text>
<text x="454.5" y="697.3" font-size="7.8" text-anchor="end" fill="#000" transform="rotate(-45 454.5 697.3)">WT</text>
<text x="470.5" y="696.8" font-size="7.8" text-anchor="end" fill="#000" transform="rotate(-45 470.5 696.8)">PD-1<tspan font-size="5.3" dy="-2.81">-/-</tspan><tspan dy="2.81"></tspan></text>
<text x="90.5" y="177" font-size="10" text-anchor="middle" fill="#000" transform="translate(90.5 177) scale(1 1.06) translate(-90.5 -177)">Wild Type</text>
<text x="192.15" y="177" font-size="10" text-anchor="middle" fill="#000" transform="translate(192.15 177) scale(1 1.06) translate(-192.15 -177)">PD-1<tspan font-size="6.8" dy="-3.6">-/-</tspan><tspan dy="3.6"></tspan></text>
<line x1="41" y1="182" x2="140" y2="182" stroke="#000" stroke-width="1.4"/>
<line x1="143" y1="182" x2="241.3" y2="182" stroke="#000" stroke-width="1.4"/>
<text x="64.2" y="191.9" font-size="8.2" text-anchor="middle" fill="#000" transform="translate(64.2 191.9) scale(1 1.12) translate(-64.2 -191.9)">Vehicle</text>
<text x="115.6" y="191.9" font-size="8.2" text-anchor="middle" fill="#000" transform="translate(115.6 191.9) scale(1 1.12) translate(-115.6 -191.9)">IL-2</text>
<text x="167" y="191.9" font-size="8.2" text-anchor="middle" fill="#000" transform="translate(167 191.9) scale(1 1.12) translate(-167 -191.9)">Vehicle</text>
<text x="218.5" y="191.9" font-size="8.2" text-anchor="middle" fill="#000" transform="translate(218.5 191.9) scale(1 1.12) translate(-218.5 -191.9)">IL-2</text>
<rect x="39.5" y="193.8" width="49.3" height="44.2" fill="#fff" stroke="#a8a8a8" stroke-width="0.8"/>
<text x="85.6" y="202.9" font-size="7.9" text-anchor="end" fill="#000" transform="translate(85.6 202.9) scale(1 1.1) translate(-85.6 -202.9)">20.8</text>
<rect x="90.8" y="193.8" width="49.4" height="44.2" fill="#fff" stroke="#a8a8a8" stroke-width="0.8"/>
<text x="137" y="202.9" font-size="7.9" text-anchor="end" fill="#000" transform="translate(137 202.9) scale(1 1.1) translate(-137 -202.9)">30.0</text>
<rect x="142.5" y="193.8" width="48.8" height="44.2" fill="#fff" stroke="#a8a8a8" stroke-width="0.8"/>
<text x="188.1" y="202.9" font-size="7.9" text-anchor="end" fill="#000" transform="translate(188.1 202.9) scale(1 1.1) translate(-188.1 -202.9)">21.7</text>
<rect x="194.3" y="193.8" width="48.2" height="44.2" fill="#fff" stroke="#a8a8a8" stroke-width="0.8"/>
<text x="239.3" y="202.9" font-size="7.9" text-anchor="end" fill="#000" transform="translate(239.3 202.9) scale(1 1.1) translate(-239.3 -202.9)">41.0</text>
<g clip-path="url(#cclip)">
<path d="M62.9 208.5 L63.02 208.26 L63.17 208.04 L63.34 207.84 L63.54 207.67 L63.75 207.52 L63.98 207.39 L64.23 207.29 L64.5 207.2 L64.8 207.14 L65.14 207.09 L65.51 207.07 L65.89 207.08 L66.28 207.1 L66.65 207.14 L66.99 207.21 L67.3 207.3 L67.57 207.39 L67.83 207.46 L68.08 207.54 L68.3 207.65 L68.51 207.81 L68.69 208.04 L68.86 208.36 L69 208.8 L69.11 209.37 L69.2 210.06 L69.26 210.85 L69.3 211.71 L69.33 212.61 L69.35 213.52 L69.37 214.43 L69.4 215.3 L69.42 216.17 L69.43 217.09 L69.44 218.02 L69.44 218.96 L69.44 219.87 L69.45 220.75 L69.47 221.57 L69.5 222.3 L69.55 222.93 L69.63 223.46 L69.71 223.93 L69.8 224.36 L69.89 224.79 L69.97 225.23 L70.05 225.72 L70.1 226.3 L70.14 226.94 L70.18 227.62 L70.21 228.33 L70.23 229.07 L70.24 229.84 L70.24 230.63 L70.23 231.45 L70.2 232.3 L70.21 233.23 L70.3 234.29 L70.4 235.4 L70.48 236.53 L70.48 237.6 L70.35 238.58 L70.04 239.39 L69.5 240 L68.62 240.42 L67.41 240.72 L65.97 240.9 L64.42 240.96 L62.88 240.9 L61.47 240.72 L60.31 240.42 L59.5 240 L59.06 239.39 L58.89 238.58 L58.92 237.6 L59.1 236.53 L59.37 235.4 L59.66 234.29 L59.92 233.23 L60.1 232.3 L60.22 231.45 L60.36 230.63 L60.51 229.84 L60.68 229.07 L60.84 228.33 L61 227.62 L61.16 226.94 L61.3 226.3 L61.44 225.72 L61.58 225.21 L61.72 224.74 L61.86 224.3 L61.99 223.86 L62.11 223.39 L62.21 222.88 L62.3 222.3 L62.36 221.64 L62.41 220.92 L62.43 220.15 L62.45 219.36 L62.46 218.56 L62.47 217.78 L62.48 217.02 L62.5 216.3 L62.53 215.61 L62.55 214.93 L62.58 214.26 L62.6 213.6 L62.62 212.97 L62.65 212.37 L62.67 211.81 L62.7 211.3 L62.72 210.83 L62.72 210.41 L62.71 210.02 L62.71 209.67 L62.72 209.34 L62.75 209.04 L62.81 208.76Z" fill="#1b47a4"/>
<path d="M65.39 240.34 L64.89 240.39 L64.39 240.43 L63.89 240.46 L63.39 240.47 L62.89 240.48 L62.45 240.32 L62.14 240.24 L61.64 240.21 L61.27 240.07 L60.89 239.92 L60.41 239.82 L60.14 239.65 L59.89 239.45 L59.7 239.07 L59.64 238.6 L59.63 238.32 L59.62 237.82 L59.61 237.32 L59.64 236.84 L59.76 236.57 L59.8 236.07 L59.82 235.57 L59.96 235.32 L60.02 234.82 L60.16 234.57 L60.2 234.07 L60.36 233.57 L60.42 233.32 L60.42 232.82 L60.43 232.32 L60.64 231.85 L60.65 231.57 L60.66 231.07 L60.82 230.57 L60.89 230.32 L60.91 229.82 L61.07 229.32 L61.15 229.07 L61.17 228.57 L61.39 228.13 L61.42 227.82 L61.45 227.32 L61.64 227.01 L61.7 226.57 L61.89 226.09 L61.96 225.82 L62.01 225.32 L62.18 225.07 L62.29 224.57 L62.45 224.32 L62.54 223.82 L62.64 223.51 L62.81 223.07 L62.85 222.57 L62.89 222.09 L62.9 221.82 L63.12 221.32 L63.17 221.07 L63.19 220.57 L63.21 220.07 L63.23 219.57 L63.24 219.07 L63.24 218.57 L63.25 218.07 L63.25 217.57 L63.26 217.07 L63.26 216.57 L63.26 216.07 L63.26 215.57 L63.26 215.07 L63.26 214.57 L63.26 214.07 L63.26 213.57 L63.36 213.07 L63.48 212.82 L63.51 212.32 L63.51 211.82 L63.51 211.32 L63.51 210.82 L63.51 210.32 L63.51 209.82 L63.51 209.32 L63.61 208.82 L63.86 208.57 L64.1 208.32 L64.39 208.16 L64.64 208.05 L65.14 207.95 L65.64 207.95 L66.14 207.95 L66.64 207.95 L66.93 208.07 L67.39 208.2 L67.89 208.3 L68.05 208.57 L68.17 208.82 L68.27 209.32 L68.3 209.82 L68.42 210.07 L68.52 210.57 L68.52 211.07 L68.52 211.57 L68.52 212.07 L68.52 212.57 L68.52 213.07 L68.52 213.57 L68.52 214.07 L68.52 214.57 L68.56 215.07 L68.67 215.32 L68.77 215.82 L68.78 216.32 L68.78 216.82 L68.78 217.32 L68.79 217.82 L68.8 218.32 L68.8 218.82 L68.81 219.32 L68.82 219.82 L68.84 220.32 L68.85 220.82 L68.86 221.32 L68.87 221.82 L68.89 222.32 L68.9 222.57 L68.91 223.07 L68.97 223.57 L69.14 223.97 L69.17 224.32 L69.22 224.82 L69.39 225.27 L69.4 225.57 L69.41 226.07 L69.41 226.57 L69.46 227.07 L69.63 227.57 L69.63 228.07 L69.62 228.57 L69.62 229.07 L69.62 229.57 L69.61 230.07 L69.6 230.57 L69.6 231.07 L69.59 231.57 L69.58 232.07 L69.57 232.57 L69.57 233.07 L69.56 233.57 L69.55 234.07 L69.55 234.57 L69.54 235.07 L69.64 235.49 L69.78 235.82 L69.78 236.32 L69.77 236.82 L69.77 237.32 L69.67 237.82 L69.56 238.07 L69.52 238.57 L69.39 238.86 L69.14 239.13 L68.89 239.36 L68.46 239.57 L68.14 239.71 L67.74 239.82 L67.39 239.98 L66.89 240 L66.39 240.07 L66.14 240.23 L65.64 240.32 L65.39 240.34Z" fill="#2569c6" fill-rule="evenodd"/>
<path d="M65.64 239.84 L65.14 239.9 L64.64 239.96 L64.14 240 L63.64 240.03 L63.14 240.05 L62.64 239.95 L62.26 239.82 L61.89 239.79 L61.39 239.63 L61.14 239.51 L60.64 239.41 L60.39 239.24 L60.14 238.91 L60.09 238.57 L60.07 238.07 L60.05 237.57 L60.03 237.07 L60.14 236.77 L60.21 236.32 L60.2 235.82 L60.36 235.32 L60.39 235.06 L60.54 234.57 L60.57 234.07 L60.65 233.82 L60.76 233.32 L60.76 232.82 L60.85 232.32 L60.94 232.07 L60.98 231.57 L61 231.07 L61.14 230.69 L61.22 230.32 L61.25 229.82 L61.39 229.45 L61.48 229.07 L61.58 228.57 L61.7 228.32 L61.76 227.82 L61.89 227.32 L61.99 227.07 L62.07 226.57 L62.17 226.32 L62.34 225.82 L62.39 225.51 L62.59 225.07 L62.64 224.82 L62.88 224.32 L62.93 224.07 L63.08 223.57 L63.2 223.32 L63.28 222.82 L63.33 222.32 L63.38 221.82 L63.55 221.57 L63.64 221.27 L63.72 220.82 L63.78 220.32 L63.82 219.82 L63.86 219.32 L63.89 218.82 L63.9 218.57 L63.92 218.07 L63.94 217.57 L63.95 217.07 L63.95 216.57 L63.96 216.07 L63.96 215.57 L63.96 215.07 L63.97 214.57 L63.97 214.07 L63.97 213.57 L64.14 213.07 L64.2 212.82 L64.22 212.32 L64.22 211.82 L64.22 211.32 L64.22 210.82 L64.22 210.32 L64.22 209.82 L64.22 209.32 L64.39 209.03 L64.64 208.82 L65.14 208.65 L65.64 208.65 L66.14 208.65 L66.64 208.71 L66.9 208.82 L67.39 208.93 L67.56 209.32 L67.58 209.82 L67.64 210.07 L67.81 210.57 L67.81 211.07 L67.81 211.57 L67.81 212.07 L67.81 212.57 L67.81 213.07 L67.82 213.57 L67.82 214.07 L67.82 214.57 L67.85 215.07 L67.91 215.32 L68.08 215.82 L68.09 216.32 L68.1 216.82 L68.11 217.32 L68.13 217.82 L68.14 218.1 L68.16 218.57 L68.19 219.07 L68.22 219.57 L68.26 220.07 L68.29 220.57 L68.34 221.07 L68.38 221.57 L68.4 221.82 L68.43 222.32 L68.45 222.82 L68.48 223.32 L68.6 223.82 L68.72 224.07 L68.74 224.57 L68.85 225.07 L68.97 225.32 L68.98 225.82 L68.99 226.32 L68.99 226.82 L69.08 227.32 L69.19 227.57 L69.19 228.07 L69.19 228.57 L69.18 229.07 L69.17 229.57 L69.16 230.07 L69.15 230.57 L69.14 230.82 L69.12 231.32 L69.09 231.82 L69.07 232.32 L69.04 232.82 L69.02 233.32 L68.99 233.82 L68.97 234.32 L68.94 234.82 L68.94 235.32 L69.08 235.82 L69.12 236.32 L69.11 236.82 L69.1 237.32 L68.93 237.82 L68.86 238.07 L68.71 238.57 L68.47 238.82 L68.14 238.99 L67.89 239.08 L67.39 239.3 L67.14 239.37 L66.64 239.45 L66.26 239.57 L65.89 239.8 L65.64 239.84Z" fill="#3fa2e2" fill-rule="evenodd"/>
<path d="M63.64 239.35 L63.14 239.38 L62.88 239.32 L62.39 239.17 L61.95 239.07 L61.64 238.93 L61.39 238.78 L60.96 238.57 L60.88 238.32 L60.82 237.82 L60.76 237.32 L60.81 236.82 L60.81 236.32 L60.8 235.82 L60.86 235.32 L60.89 235 L60.95 234.57 L60.95 234.07 L61.08 233.57 L61.09 233.07 L61.1 232.57 L61.2 232.32 L61.29 231.82 L61.31 231.32 L61.39 230.9 L61.51 230.57 L61.55 230.07 L61.64 229.65 L61.77 229.32 L61.82 228.82 L61.95 228.57 L62.07 228.07 L62.13 227.57 L62.28 227.32 L62.39 226.87 L62.47 226.57 L62.64 226.21 L62.77 225.82 L62.89 225.51 L63.1 225.07 L63.21 224.82 L63.39 224.48 L63.55 224.07 L63.67 223.82 L63.89 223.4 L64.01 223.07 L64.14 222.61 L64.22 222.32 L64.39 221.9 L64.56 221.57 L64.65 221.32 L64.77 220.82 L64.86 220.32 L64.9 220.07 L65.05 219.57 L65.14 219.24 L65.56 219.07 L65.89 218.98 L66.39 218.94 L66.89 219.02 L66.96 219.32 L67.1 219.82 L67.16 220.07 L67.23 220.57 L67.3 221.07 L67.39 221.57 L67.43 221.82 L67.52 222.32 L67.6 222.82 L67.64 223.07 L67.73 223.57 L67.89 224.06 L67.99 224.32 L68.05 224.82 L68.14 225.18 L68.26 225.57 L68.29 226.07 L68.32 226.57 L68.34 227.07 L68.39 227.4 L68.48 227.82 L68.48 228.32 L68.47 228.82 L68.45 229.32 L68.43 229.82 L68.41 230.32 L68.39 230.57 L68.36 231.07 L68.32 231.57 L68.28 232.07 L68.24 232.57 L68.19 233.07 L68.14 233.54 L68.11 233.82 L68.06 234.32 L68.01 234.82 L67.97 235.32 L68 235.82 L68 236.32 L67.93 236.82 L67.88 237.07 L67.67 237.57 L67.57 237.82 L67.39 238.08 L66.89 238.32 L66.64 238.39 L66.14 238.57 L65.89 238.71 L65.64 238.87 L65.14 239.03 L64.89 239.1 L64.39 239.22 L63.89 239.32 L63.64 239.35Z" fill="#3cc2d6" fill-rule="evenodd"/>
<path d="M64.39 238.59 L63.89 238.69 L63.39 238.75 L62.89 238.66 L62.6 238.57 L62.14 238.45 L61.85 238.32 L61.49 238.07 L61.39 237.74 L61.34 237.32 L61.35 236.82 L61.31 236.32 L61.31 235.82 L61.32 235.32 L61.37 234.82 L61.37 234.32 L61.39 234.07 L61.45 233.57 L61.45 233.07 L61.48 232.57 L61.57 232.07 L61.62 231.57 L61.64 231.29 L61.74 230.82 L61.84 230.32 L61.89 229.98 L62.01 229.57 L62.13 229.07 L62.19 228.82 L62.36 228.32 L62.43 228.07 L62.57 227.57 L62.68 227.32 L62.84 226.82 L62.95 226.57 L63.14 226.14 L63.26 225.82 L63.39 225.56 L63.63 225.07 L63.78 224.82 L63.92 224.57 L64.14 224.11 L64.32 223.82 L64.47 223.57 L64.64 223.21 L64.89 222.88 L65.14 222.77 L65.64 222.66 L66.14 222.72 L66.4 222.82 L66.77 223.07 L66.95 223.32 L67.14 223.69 L67.27 224.07 L67.39 224.34 L67.5 224.82 L67.63 225.32 L67.72 225.57 L67.78 226.07 L67.82 226.57 L67.86 227.07 L67.89 227.33 L67.99 227.82 L68 228.32 L68 228.82 L67.98 229.32 L67.96 229.82 L67.93 230.32 L67.89 230.82 L67.87 231.07 L67.81 231.57 L67.73 232.07 L67.65 232.57 L67.59 232.82 L67.46 233.32 L67.38 233.57 L67.23 234.07 L67.14 234.32 L66.96 234.82 L66.86 235.07 L66.65 235.57 L66.54 235.82 L66.39 236.13 L66.16 236.57 L66.02 236.82 L65.87 237.07 L65.64 237.43 L65.39 237.78 L65.16 238.07 L64.93 238.32 L64.64 238.48 L64.39 238.59Z" fill="#5ec25a" fill-rule="evenodd"/>
<path d="M64.14 234.96 L63.64 235.05 L63.22 234.82 L63.01 234.57 L62.87 234.32 L62.7 233.82 L62.64 233.54 L62.59 233.07 L62.58 232.57 L62.62 232.07 L62.64 231.66 L62.68 231.32 L62.78 230.82 L62.87 230.32 L62.93 230.07 L63.07 229.57 L63.14 229.32 L63.32 228.82 L63.43 228.57 L63.64 228.11 L63.83 227.82 L64.02 227.57 L64.26 227.32 L64.6 227.07 L64.89 226.96 L65.39 227.03 L65.64 227.22 L65.88 227.57 L65.98 227.82 L66.13 228.32 L66.18 228.57 L66.23 229.07 L66.25 229.57 L66.24 230.07 L66.19 230.57 L66.14 230.97 L66.08 231.32 L65.97 231.82 L65.89 232.12 L65.75 232.57 L65.64 232.87 L65.45 233.32 L65.33 233.57 L65.14 233.92 L64.89 234.29 L64.65 234.57 L64.39 234.81 L64.14 234.96Z" fill="#e6dc38" fill-rule="evenodd"/>
<path d="M64.39 232.95 L63.89 233.03 L63.64 232.74 L63.52 232.32 L63.46 231.82 L63.48 231.32 L63.55 230.82 L63.64 230.43 L63.76 230.07 L63.89 229.75 L64.14 229.33 L64.38 229.07 L64.64 228.94 L65.01 229.07 L65.18 229.32 L65.31 229.82 L65.34 230.32 L65.31 230.82 L65.22 231.32 L65.14 231.64 L64.98 232.07 L64.87 232.32 L64.64 232.69 L64.39 232.95Z" fill="#f08a22" fill-rule="evenodd"/>
</g>
<g clip-path="url(#cclip)">
<path d="M114.2 206.7 L114.32 206.46 L114.47 206.24 L114.64 206.04 L114.84 205.87 L115.05 205.72 L115.28 205.59 L115.53 205.49 L115.8 205.4 L116.1 205.34 L116.44 205.29 L116.81 205.27 L117.19 205.28 L117.58 205.3 L117.95 205.34 L118.29 205.41 L118.6 205.5 L118.87 205.59 L119.13 205.66 L119.38 205.74 L119.6 205.85 L119.81 206.01 L119.99 206.24 L120.16 206.56 L120.3 207 L120.41 207.57 L120.5 208.26 L120.56 209.05 L120.6 209.91 L120.63 210.81 L120.65 211.72 L120.67 212.63 L120.7 213.5 L120.72 214.37 L120.73 215.29 L120.74 216.22 L120.74 217.16 L120.74 218.07 L120.75 218.95 L120.77 219.77 L120.8 220.5 L120.85 221.13 L120.93 221.66 L121.01 222.13 L121.1 222.56 L121.19 222.99 L121.27 223.43 L121.35 223.92 L121.4 224.5 L121.44 225.13 L121.48 225.78 L121.51 226.45 L121.53 227.16 L121.54 227.91 L121.54 228.71 L121.53 229.57 L121.5 230.5 L121.51 231.58 L121.6 232.85 L121.7 234.22 L121.78 235.62 L121.78 236.98 L121.65 238.21 L121.34 239.24 L120.8 240 L119.92 240.52 L118.71 240.89 L117.27 241.11 L115.72 241.19 L114.18 241.11 L112.77 240.89 L111.61 240.52 L110.8 240 L110.36 239.24 L110.19 238.21 L110.22 236.98 L110.4 235.62 L110.67 234.22 L110.96 232.85 L111.22 231.58 L111.4 230.5 L111.52 229.57 L111.66 228.71 L111.81 227.91 L111.98 227.16 L112.14 226.45 L112.3 225.78 L112.46 225.13 L112.6 224.5 L112.74 223.92 L112.88 223.41 L113.02 222.94 L113.16 222.5 L113.29 222.06 L113.41 221.59 L113.51 221.08 L113.6 220.5 L113.66 219.84 L113.71 219.12 L113.73 218.35 L113.75 217.56 L113.76 216.76 L113.77 215.98 L113.78 215.22 L113.8 214.5 L113.83 213.81 L113.85 213.13 L113.88 212.46 L113.9 211.8 L113.93 211.17 L113.95 210.57 L113.97 210.01 L114 209.5 L114.02 209.03 L114.02 208.61 L114.01 208.22 L114.01 207.87 L114.02 207.54 L114.05 207.24 L114.11 206.96Z" fill="#1b47a4"/>
<path d="M114.44 240.78 L113.94 240.77 L113.69 240.61 L113.4 240.52 L112.94 240.5 L112.45 240.27 L112.19 240.19 L111.81 240.02 L111.59 239.77 L111.19 239.54 L111.09 239.27 L110.94 238.97 L110.9 238.52 L110.89 238.02 L110.88 237.52 L110.87 237.02 L110.87 236.52 L110.86 236.02 L110.94 235.71 L111.07 235.27 L111.07 234.77 L111.19 234.37 L111.28 234.02 L111.28 233.52 L111.44 233.05 L111.5 232.77 L111.51 232.27 L111.68 231.77 L111.73 231.52 L111.74 231.02 L111.77 230.52 L111.94 230.21 L111.98 229.77 L112 229.27 L112.19 228.77 L112.24 228.52 L112.26 228.02 L112.44 227.54 L112.5 227.27 L112.53 226.77 L112.69 226.33 L112.78 226.02 L112.83 225.52 L112.99 225.27 L113.06 224.77 L113.19 224.41 L113.32 224.02 L113.39 223.52 L113.55 223.27 L113.66 222.77 L113.82 222.52 L113.9 222.02 L113.96 221.77 L114.17 221.27 L114.19 220.93 L114.21 220.52 L114.23 220.02 L114.44 219.55 L114.49 219.27 L114.51 218.77 L114.52 218.27 L114.53 217.77 L114.54 217.27 L114.55 216.77 L114.55 216.27 L114.56 215.77 L114.56 215.27 L114.56 214.77 L114.56 214.27 L114.56 213.77 L114.56 213.27 L114.56 212.77 L114.56 212.27 L114.56 211.77 L114.66 211.27 L114.78 211.02 L114.81 210.52 L114.81 210.02 L114.81 209.52 L114.81 209.02 L114.81 208.52 L114.81 208.02 L114.81 207.52 L114.91 207.02 L115.16 206.77 L115.4 206.52 L115.69 206.36 L115.94 206.25 L116.44 206.15 L116.94 206.15 L117.44 206.15 L117.94 206.15 L118.23 206.27 L118.69 206.4 L119.19 206.5 L119.35 206.77 L119.47 207.02 L119.57 207.52 L119.6 208.02 L119.72 208.27 L119.82 208.77 L119.82 209.27 L119.82 209.77 L119.82 210.27 L119.82 210.77 L119.82 211.27 L119.82 211.77 L119.82 212.27 L119.82 212.77 L119.86 213.27 L119.97 213.52 L120.07 214.02 L120.08 214.52 L120.08 215.02 L120.08 215.52 L120.09 216.02 L120.09 216.52 L120.1 217.02 L120.1 217.52 L120.11 218.02 L120.12 218.52 L120.13 219.02 L120.14 219.52 L120.15 220.02 L120.16 220.52 L120.17 221.02 L120.18 221.52 L120.23 221.77 L120.43 222.27 L120.44 222.77 L120.49 223.02 L120.68 223.52 L120.68 224.02 L120.69 224.52 L120.69 225.02 L120.74 225.27 L120.92 225.77 L120.92 226.27 L120.92 226.77 L120.92 227.27 L120.92 227.77 L120.92 228.27 L120.91 228.77 L120.91 229.27 L120.91 229.77 L120.9 230.27 L120.9 230.77 L120.89 231.27 L120.88 231.77 L120.88 232.27 L120.87 232.77 L120.87 233.27 L120.86 233.77 L120.89 234.27 L121.01 234.52 L121.09 235.02 L121.08 235.52 L121.08 236.02 L121.08 236.52 L121.08 237.02 L120.98 237.52 L120.86 237.77 L120.82 238.27 L120.69 238.59 L120.48 239.02 L120.36 239.27 L120.02 239.52 L119.69 239.71 L119.44 239.84 L118.94 239.98 L118.69 240.13 L118.19 240.23 L117.85 240.27 L117.44 240.49 L117.19 240.57 L116.69 240.63 L116.19 240.68 L115.69 240.72 L115.19 240.75 L114.69 240.77 L114.44 240.78Z" fill="#2569c6" fill-rule="evenodd"/>
<path d="M115.94 240.28 L115.44 240.33 L114.94 240.37 L114.44 240.39 L113.94 240.29 L113.69 240.18 L113.19 240.11 L112.83 240.02 L112.44 239.82 L112.19 239.74 L111.94 239.52 L111.63 239.27 L111.44 239.01 L111.32 238.52 L111.31 238.02 L111.3 237.52 L111.29 237.02 L111.28 236.52 L111.27 236.02 L111.44 235.52 L111.46 235.27 L111.46 234.77 L111.62 234.27 L111.65 233.77 L111.69 233.43 L111.82 233.02 L111.86 232.52 L111.94 232.06 L112.04 231.77 L112.08 231.27 L112.1 230.77 L112.19 230.52 L112.32 230.02 L112.35 229.52 L112.44 229.07 L112.55 228.77 L112.61 228.27 L112.69 227.86 L112.82 227.52 L112.89 227.02 L112.94 226.69 L113.11 226.27 L113.18 225.77 L113.29 225.52 L113.44 225.04 L113.47 224.77 L113.69 224.27 L113.73 224.02 L113.87 223.52 L113.99 223.27 L114.16 222.77 L114.27 222.52 L114.34 222.02 L114.48 221.77 L114.62 221.27 L114.67 220.77 L114.69 220.49 L114.76 220.02 L114.94 219.69 L115.05 219.27 L115.1 218.77 L115.13 218.27 L115.17 217.77 L115.19 217.28 L115.2 217.02 L115.22 216.52 L115.23 216.02 L115.24 215.52 L115.25 215.02 L115.26 214.52 L115.26 214.02 L115.26 213.52 L115.26 213.02 L115.27 212.52 L115.27 212.02 L115.33 211.52 L115.44 211.26 L115.52 210.77 L115.52 210.27 L115.52 209.77 L115.52 209.27 L115.52 208.77 L115.52 208.27 L115.52 207.77 L115.66 207.27 L115.94 207.02 L116.19 206.91 L116.69 206.85 L117.19 206.85 L117.69 206.85 L118.19 207.02 L118.44 207.08 L118.8 207.27 L118.86 207.77 L118.94 208.26 L119.05 208.52 L119.11 209.02 L119.11 209.52 L119.11 210.02 L119.11 210.52 L119.12 211.02 L119.12 211.52 L119.12 212.02 L119.12 212.52 L119.12 213.02 L119.19 213.45 L119.32 213.77 L119.38 214.27 L119.39 214.77 L119.4 215.27 L119.41 215.77 L119.43 216.27 L119.44 216.68 L119.45 217.02 L119.48 217.52 L119.5 218.02 L119.53 218.52 L119.56 219.02 L119.59 219.52 L119.63 220.02 L119.67 220.52 L119.69 220.83 L119.71 221.27 L119.75 221.77 L119.94 222.21 L119.98 222.52 L120.01 223.02 L120.19 223.45 L120.23 223.77 L120.24 224.27 L120.25 224.77 L120.28 225.27 L120.44 225.7 L120.47 226.02 L120.48 226.52 L120.48 227.02 L120.48 227.52 L120.47 228.02 L120.47 228.52 L120.46 229.02 L120.45 229.52 L120.45 230.02 L120.44 230.27 L120.42 230.77 L120.41 231.27 L120.39 231.77 L120.37 232.27 L120.34 232.77 L120.32 233.27 L120.3 233.77 L120.3 234.27 L120.44 234.77 L120.46 235.02 L120.45 235.52 L120.44 235.86 L120.43 236.27 L120.42 236.77 L120.36 237.27 L120.19 237.75 L120.16 238.02 L119.99 238.52 L119.86 238.77 L119.58 239.02 L119.19 239.25 L118.94 239.34 L118.57 239.52 L118.19 239.69 L117.85 239.77 L117.44 239.92 L117.19 240.1 L116.69 240.17 L116.19 240.25 L115.94 240.28Z" fill="#3fa2e2" fill-rule="evenodd"/>
<path d="M115.44 239.78 L114.94 239.88 L114.44 239.92 L113.94 239.79 L113.69 239.7 L113.19 239.56 L112.94 239.44 L112.69 239.25 L112.38 239.02 L112.18 238.77 L112 238.27 L111.96 237.77 L111.94 237.52 L111.9 237.02 L111.87 236.52 L111.88 236.02 L111.94 235.63 L111.95 235.27 L111.97 234.77 L112.05 234.27 L112.06 233.77 L112.15 233.27 L112.19 232.95 L112.21 232.52 L112.33 232.02 L112.41 231.52 L112.43 231.02 L112.44 230.77 L112.63 230.27 L112.67 229.77 L112.69 229.49 L112.84 229.02 L112.94 228.52 L112.97 228.27 L113.13 227.77 L113.19 227.52 L113.29 227.02 L113.44 226.57 L113.55 226.27 L113.68 225.77 L113.8 225.52 L113.94 225.07 L114.04 224.77 L114.19 224.45 L114.33 224.02 L114.44 223.75 L114.65 223.27 L114.78 223.02 L114.94 222.7 L115.09 222.27 L115.22 222.02 L115.44 221.53 L115.52 221.27 L115.63 220.77 L115.69 220.48 L115.88 220.02 L115.99 219.77 L116.12 219.27 L116.19 218.8 L116.27 218.52 L116.4 218.02 L116.55 217.77 L116.94 217.62 L117.44 217.54 L117.94 217.58 L118.21 217.77 L118.33 218.27 L118.44 218.74 L118.47 219.02 L118.53 219.52 L118.6 220.02 L118.67 220.52 L118.71 220.77 L118.78 221.27 L118.87 221.77 L118.94 222.03 L119.13 222.52 L119.19 222.94 L119.26 223.27 L119.43 223.77 L119.45 224.02 L119.49 224.52 L119.52 225.02 L119.59 225.52 L119.69 225.92 L119.72 226.27 L119.74 226.77 L119.74 227.27 L119.74 227.77 L119.74 228.27 L119.73 228.77 L119.72 229.27 L119.7 229.77 L119.69 230.02 L119.66 230.52 L119.64 231.02 L119.61 231.52 L119.57 232.02 L119.54 232.52 L119.5 233.02 L119.46 233.52 L119.44 233.77 L119.4 234.27 L119.43 234.77 L119.48 235.02 L119.47 235.52 L119.44 235.87 L119.39 236.27 L119.32 236.77 L119.23 237.27 L119.13 237.52 L118.99 238.02 L118.74 238.27 L118.44 238.43 L118.19 238.59 L117.76 238.77 L117.44 238.93 L117.19 239.1 L116.94 239.28 L116.44 239.47 L116.19 239.56 L115.69 239.72 L115.44 239.78Z" fill="#3cc2d6" fill-rule="evenodd"/>
<path d="M114.69 239.29 L114.36 239.27 L113.94 239.13 L113.61 239.02 L113.19 238.87 L112.94 238.68 L112.69 238.49 L112.52 238.02 L112.45 237.52 L112.43 237.27 L112.37 236.77 L112.34 236.27 L112.39 235.77 L112.39 235.27 L112.42 234.77 L112.45 234.52 L112.47 234.02 L112.51 233.52 L112.58 233.02 L112.61 232.52 L112.69 232.07 L112.74 231.77 L112.78 231.27 L112.85 230.77 L112.94 230.44 L113.01 230.02 L113.08 229.52 L113.19 229.11 L113.28 228.77 L113.37 228.27 L113.45 228.02 L113.61 227.52 L113.69 227.18 L113.82 226.77 L113.94 226.45 L114.07 226.02 L114.19 225.74 L114.38 225.27 L114.45 225.02 L114.69 224.53 L114.79 224.27 L114.94 223.92 L115.15 223.52 L115.28 223.27 L115.44 223 L115.67 222.52 L115.84 222.27 L116.02 222.02 L116.44 221.82 L116.69 221.75 L117.19 221.75 L117.44 221.83 L117.78 222.02 L118.05 222.27 L118.26 222.52 L118.44 222.8 L118.62 223.27 L118.73 223.52 L118.86 224.02 L118.94 224.49 L118.97 224.77 L119.03 225.27 L119.12 225.77 L119.19 226.07 L119.23 226.52 L119.25 227.02 L119.26 227.52 L119.26 228.02 L119.26 228.52 L119.25 229.02 L119.23 229.52 L119.21 230.02 L119.19 230.38 L119.16 230.77 L119.11 231.27 L119.06 231.77 L118.99 232.27 L118.94 232.62 L118.86 233.02 L118.75 233.52 L118.68 233.77 L118.56 234.27 L118.44 234.68 L118.34 235.02 L118.19 235.48 L118.09 235.77 L117.94 236.19 L117.81 236.52 L117.69 236.82 L117.49 237.27 L117.37 237.52 L117.19 237.89 L116.98 238.27 L116.84 238.52 L116.52 238.77 L116.19 238.91 L115.89 239.02 L115.44 239.16 L114.94 239.26 L114.69 239.29Z" fill="#5ec25a" fill-rule="evenodd"/>
<path d="M115.19 235.84 L114.69 235.83 L114.44 235.67 L114.19 235.34 L114.04 235.02 L113.94 234.74 L113.83 234.27 L113.76 233.77 L113.72 233.27 L113.71 232.77 L113.72 232.27 L113.79 231.77 L113.84 231.27 L113.91 230.77 L113.97 230.52 L114.08 230.02 L114.18 229.52 L114.26 229.27 L114.43 228.77 L114.53 228.52 L114.69 228.14 L114.88 227.77 L115.03 227.52 L115.19 227.27 L115.44 226.97 L115.69 226.74 L116.18 226.52 L116.22 226.52 L116.69 226.67 L116.94 226.95 L117.11 227.27 L117.22 227.52 L117.35 228.02 L117.43 228.52 L117.46 228.77 L117.49 229.27 L117.49 229.77 L117.47 230.27 L117.44 230.6 L117.39 231.02 L117.32 231.52 L117.23 232.02 L117.17 232.27 L117.04 232.77 L116.94 233.13 L116.81 233.52 L116.69 233.84 L116.5 234.27 L116.38 234.52 L116.19 234.85 L115.94 235.22 L115.69 235.5 L115.44 235.71 L115.19 235.84Z" fill="#e6dc38" fill-rule="evenodd"/>
<path d="M115.44 233.67 L114.94 233.57 L114.77 233.27 L114.68 233.02 L114.61 232.52 L114.59 232.02 L114.61 231.52 L114.67 231.02 L114.72 230.77 L114.85 230.27 L114.94 229.97 L115.13 229.52 L115.27 229.27 L115.44 229 L115.69 228.77 L116.19 228.76 L116.38 229.02 L116.48 229.27 L116.58 229.77 L116.61 230.27 L116.6 230.77 L116.54 231.27 L116.45 231.77 L116.38 232.02 L116.22 232.52 L116.12 232.77 L115.94 233.13 L115.69 233.47 L115.44 233.67Z" fill="#f08a22" fill-rule="evenodd"/>
<path d="M115.44 232.12 L115.37 232.02 L115.27 231.77 L115.24 231.52 L115.26 231.27 L115.3 231.02 L115.37 230.77 L115.44 230.55 L115.47 230.52 L115.69 230.28 L115.93 230.52 L115.94 230.54 L115.96 230.77 L115.96 231.02 L115.94 231.27 L115.94 231.27 L115.86 231.52 L115.77 231.77 L115.69 231.96 L115.59 232.02 L115.44 232.12Z" fill="#e0301c" fill-rule="evenodd"/>
</g>
<g clip-path="url(#cclip)">
<path d="M166.4 208.7 L166.52 208.46 L166.67 208.24 L166.84 208.04 L167.04 207.87 L167.25 207.72 L167.48 207.59 L167.73 207.49 L168 207.4 L168.3 207.34 L168.64 207.29 L169.01 207.27 L169.39 207.28 L169.78 207.3 L170.15 207.34 L170.49 207.41 L170.8 207.5 L171.07 207.59 L171.33 207.66 L171.58 207.74 L171.8 207.85 L172.01 208.01 L172.19 208.24 L172.36 208.56 L172.5 209 L172.61 209.57 L172.7 210.26 L172.76 211.05 L172.8 211.91 L172.83 212.81 L172.85 213.72 L172.87 214.63 L172.9 215.5 L172.92 216.37 L172.93 217.29 L172.94 218.22 L172.94 219.16 L172.94 220.07 L172.95 220.95 L172.97 221.77 L173 222.5 L173.05 223.13 L173.13 223.66 L173.21 224.13 L173.3 224.56 L173.39 224.99 L173.47 225.43 L173.55 225.92 L173.6 226.5 L173.64 227.14 L173.68 227.82 L173.71 228.54 L173.73 229.28 L173.74 230.05 L173.74 230.85 L173.73 231.66 L173.7 232.5 L173.71 233.42 L173.8 234.45 L173.9 235.53 L173.98 236.62 L173.98 237.67 L173.85 238.62 L173.54 239.41 L173 240 L172.12 240.41 L170.91 240.7 L169.47 240.88 L167.92 240.94 L166.38 240.88 L164.97 240.7 L163.81 240.41 L163 240 L162.56 239.41 L162.39 238.62 L162.42 237.67 L162.6 236.62 L162.87 235.53 L163.16 234.45 L163.42 233.42 L163.6 232.5 L163.72 231.66 L163.86 230.85 L164.01 230.05 L164.18 229.28 L164.34 228.54 L164.5 227.82 L164.66 227.14 L164.8 226.5 L164.94 225.92 L165.08 225.41 L165.22 224.94 L165.36 224.5 L165.49 224.06 L165.61 223.59 L165.71 223.08 L165.8 222.5 L165.86 221.84 L165.91 221.12 L165.93 220.35 L165.95 219.56 L165.96 218.76 L165.97 217.98 L165.98 217.22 L166 216.5 L166.03 215.81 L166.05 215.13 L166.07 214.46 L166.1 213.8 L166.13 213.17 L166.15 212.57 L166.18 212.01 L166.2 211.5 L166.22 211.03 L166.22 210.61 L166.21 210.22 L166.21 209.87 L166.22 209.54 L166.25 209.24 L166.31 208.96Z" fill="#1b47a4"/>
<path d="M167.89 240.29 L167.39 240.33 L166.89 240.36 L166.39 240.39 L165.89 240.37 L165.64 240.22 L165.14 240.16 L164.64 240.12 L164.39 239.95 L163.89 239.83 L163.64 239.65 L163.38 239.52 L163.14 239.04 L163.08 238.77 L163.06 238.27 L163.04 237.77 L163.02 237.27 L163.03 236.77 L163.17 236.52 L163.2 236.02 L163.34 235.52 L163.4 235.27 L163.39 234.84 L163.39 234.77 L163.58 234.27 L163.64 233.91 L163.78 233.52 L163.78 233.02 L163.78 232.52 L163.92 232.27 L164 231.77 L164.01 231.27 L164.14 230.79 L164.23 230.52 L164.25 230.02 L164.39 229.54 L164.48 229.27 L164.5 228.77 L164.65 228.52 L164.75 228.02 L164.78 227.52 L164.93 227.27 L165.03 226.77 L165.14 226.38 L165.3 226.02 L165.34 225.52 L165.5 225.27 L165.62 224.77 L165.78 224.52 L165.89 224.14 L165.93 223.77 L166.14 223.43 L166.2 223.02 L166.25 222.52 L166.29 222.02 L166.39 221.72 L166.58 221.27 L166.62 220.77 L166.64 220.52 L166.67 220.02 L166.69 219.52 L166.71 219.02 L166.72 218.52 L166.73 218.02 L166.74 217.52 L166.75 217.02 L166.75 216.52 L166.76 216.02 L166.76 215.52 L166.76 215.02 L166.76 214.52 L166.76 214.02 L166.76 213.52 L166.89 213.23 L167.01 212.77 L167.01 212.27 L167.01 211.77 L167.01 211.27 L167.01 210.77 L167.01 210.27 L167.01 209.77 L167.01 209.27 L167.14 209 L167.39 208.73 L167.64 208.5 L168.1 208.27 L168.39 208.15 L168.89 208.15 L169.39 208.15 L169.89 208.15 L170.39 208.25 L170.64 208.36 L171.14 208.4 L171.42 208.52 L171.64 208.98 L171.77 209.27 L171.77 209.77 L171.89 210.23 L172.02 210.52 L172.02 211.02 L172.02 211.52 L172.02 212.02 L172.02 212.52 L172.02 213.02 L172.02 213.52 L172.02 214.02 L172.02 214.52 L172.02 215.02 L172.14 215.47 L172.27 215.77 L172.27 216.27 L172.28 216.77 L172.28 217.27 L172.28 217.77 L172.29 218.27 L172.29 218.77 L172.3 219.27 L172.31 219.77 L172.31 220.27 L172.32 220.77 L172.33 221.27 L172.34 221.77 L172.35 222.27 L172.35 222.77 L172.36 223.27 L172.39 223.72 L172.54 224.02 L172.6 224.52 L172.64 225.02 L172.77 225.27 L172.84 225.77 L172.84 226.27 L172.84 226.77 L172.87 227.27 L173 227.52 L173.07 228.02 L173.07 228.52 L173.06 229.02 L173.06 229.52 L173.06 230.02 L173.05 230.52 L173.05 231.02 L173.04 231.52 L173.04 232.02 L173.04 232.52 L173.03 233.02 L173.03 233.52 L173.03 234.02 L173.03 234.52 L173.02 235.02 L173.06 235.52 L173.17 235.77 L173.27 236.27 L173.27 236.77 L173.27 237.27 L173.27 237.77 L173.14 238.07 L173.02 238.52 L172.89 238.82 L172.67 239.27 L172.39 239.44 L172.14 239.55 L171.64 239.69 L171.39 239.81 L170.89 239.91 L170.39 239.92 L170.01 240.02 L169.64 240.19 L169.14 240.21 L168.64 240.24 L168.14 240.27 L167.89 240.29Z" fill="#2569c6" fill-rule="evenodd"/>
<path d="M168.14 239.79 L167.64 239.85 L167.14 239.9 L166.64 239.93 L166.14 239.95 L165.66 239.77 L165.39 239.73 L164.89 239.71 L164.49 239.52 L164.14 239.42 L163.87 239.27 L163.64 239.02 L163.5 238.52 L163.47 238.02 L163.44 237.52 L163.42 237.02 L163.57 236.52 L163.57 236.02 L163.65 235.77 L163.74 235.27 L163.79 234.77 L163.9 234.52 L163.96 234.02 L164.1 233.52 L164.1 233.02 L164.14 232.52 L164.25 232.27 L164.3 231.77 L164.31 231.27 L164.39 230.96 L164.53 230.52 L164.55 230.02 L164.64 229.7 L164.78 229.27 L164.84 228.77 L164.98 228.52 L165.06 228.02 L165.14 227.52 L165.28 227.27 L165.36 226.77 L165.43 226.52 L165.64 226.02 L165.66 225.77 L165.89 225.27 L165.95 225.02 L166.14 224.61 L166.24 224.27 L166.39 223.77 L166.51 223.52 L166.61 223.02 L166.64 222.77 L166.7 222.27 L166.87 221.77 L166.99 221.52 L167.07 221.02 L167.12 220.52 L167.15 220.27 L167.22 219.77 L167.28 219.27 L167.33 218.77 L167.36 218.27 L167.39 217.83 L167.41 217.52 L167.42 217.02 L167.44 216.52 L167.45 216.02 L167.45 215.52 L167.46 215.02 L167.46 214.52 L167.47 214.02 L167.53 213.52 L167.64 213.25 L167.72 212.77 L167.72 212.27 L167.72 211.77 L167.72 211.27 L167.72 210.77 L167.72 210.27 L167.72 209.77 L167.86 209.27 L168.14 209.02 L168.39 208.91 L168.89 208.85 L169.39 208.85 L169.89 208.85 L170.39 209.02 L170.64 209.08 L171 209.27 L171.06 209.77 L171.14 210.26 L171.25 210.52 L171.31 211.02 L171.31 211.52 L171.31 212.02 L171.31 212.52 L171.32 213.02 L171.32 213.52 L171.32 214.02 L171.32 214.52 L171.33 215.02 L171.39 215.44 L171.53 215.77 L171.59 216.27 L171.6 216.77 L171.61 217.27 L171.62 217.77 L171.63 218.27 L171.64 218.52 L171.66 219.02 L171.68 219.52 L171.71 220.02 L171.74 220.52 L171.76 221.02 L171.79 221.52 L171.82 222.02 L171.85 222.52 L171.88 223.02 L171.89 223.3 L171.92 223.77 L172.12 224.27 L172.14 224.77 L172.15 225.02 L172.33 225.52 L172.35 226.02 L172.35 226.52 L172.35 227.02 L172.39 227.4 L172.52 227.77 L172.53 228.27 L172.52 228.77 L172.51 229.27 L172.5 229.77 L172.48 230.27 L172.47 230.77 L172.45 231.27 L172.44 231.77 L172.42 232.27 L172.41 232.77 L172.39 233.27 L172.39 233.52 L172.38 234.02 L172.36 234.52 L172.36 235.02 L172.37 235.52 L172.42 235.77 L172.58 236.27 L172.57 236.77 L172.57 237.27 L172.51 237.77 L172.39 238.07 L172.26 238.52 L172.14 238.78 L171.64 238.98 L171.39 239.05 L170.89 239.23 L170.39 239.26 L170.14 239.3 L169.65 239.52 L169.39 239.6 L168.89 239.68 L168.39 239.76 L168.14 239.79Z" fill="#3fa2e2" fill-rule="evenodd"/>
<path d="M167.39 239.03 L166.89 239.13 L166.39 239.2 L165.89 239.1 L165.39 239.03 L165.14 239 L164.64 238.78 L164.39 238.67 L164.22 238.27 L164.14 237.87 L164.08 237.52 L164.03 237.02 L164.06 236.52 L164.01 236.02 L164.09 235.52 L164.08 235.02 L164.16 234.77 L164.23 234.27 L164.38 233.77 L164.4 233.52 L164.39 233.13 L164.39 232.77 L164.47 232.52 L164.57 232.02 L164.58 231.52 L164.64 231.13 L164.76 230.77 L164.81 230.27 L164.89 229.85 L165.01 229.52 L165.07 229.02 L165.17 228.77 L165.32 228.27 L165.37 227.77 L165.47 227.52 L165.64 227.02 L165.66 226.77 L165.89 226.28 L165.95 226.02 L166.11 225.52 L166.23 225.27 L166.39 224.83 L166.56 224.52 L166.64 224.12 L166.87 223.77 L167 223.52 L167.14 223.18 L167.29 222.77 L167.39 222.48 L167.62 222.02 L167.78 221.77 L167.9 221.52 L168.06 221.02 L168.14 220.69 L168.24 220.27 L168.33 219.77 L168.39 219.41 L168.52 219.02 L168.64 218.59 L169.14 218.54 L169.64 218.6 L170.08 218.77 L170.39 218.95 L170.46 219.27 L170.56 219.77 L170.64 220.11 L170.69 220.52 L170.75 221.02 L170.81 221.52 L170.87 222.02 L170.9 222.27 L170.96 222.77 L171.01 223.27 L171.07 223.77 L171.14 224.07 L171.29 224.52 L171.33 225.02 L171.39 225.35 L171.51 225.77 L171.53 226.27 L171.54 226.77 L171.55 227.27 L171.62 227.77 L171.68 228.02 L171.67 228.52 L171.66 229.02 L171.64 229.46 L171.63 229.77 L171.6 230.27 L171.58 230.77 L171.55 231.27 L171.51 231.77 L171.48 232.27 L171.44 232.77 L171.41 233.27 L171.39 233.52 L171.33 234.02 L171.26 234.52 L171.2 235.02 L171.14 235.46 L171.04 235.77 L170.89 236.15 L170.75 236.52 L170.64 236.78 L170.43 237.27 L170.32 237.52 L170.14 237.89 L169.89 238.15 L169.64 238.34 L169.28 238.52 L168.89 238.64 L168.39 238.77 L168.14 238.84 L167.64 238.97 L167.39 239.03Z" fill="#3cc2d6" fill-rule="evenodd"/>
<path d="M166.64 238.53 L166.31 238.52 L165.89 238.45 L165.39 238.38 L165.06 238.27 L164.81 238.02 L164.68 237.52 L164.62 237.27 L164.61 236.77 L164.54 236.27 L164.55 235.77 L164.5 235.27 L164.51 234.77 L164.51 234.27 L164.59 233.77 L164.59 233.27 L164.58 232.77 L164.67 232.52 L164.76 232.02 L164.77 231.52 L164.87 231.02 L164.95 230.77 L165 230.27 L165.11 229.77 L165.2 229.52 L165.26 229.02 L165.39 228.71 L165.51 228.27 L165.56 227.77 L165.69 227.52 L165.84 227.02 L165.89 226.74 L166.13 226.27 L166.21 226.02 L166.39 225.64 L166.6 225.27 L166.73 225.02 L166.9 224.77 L167.14 224.32 L167.34 224.02 L167.52 223.77 L167.67 223.52 L167.89 223.08 L168.03 222.77 L168.14 222.52 L168.39 222.27 L168.68 222.27 L169.14 222.39 L169.39 222.53 L169.68 222.77 L169.9 223.02 L170.14 223.39 L170.34 223.77 L170.43 224.02 L170.61 224.52 L170.67 224.77 L170.76 225.27 L170.88 225.77 L170.91 226.02 L170.94 226.52 L170.96 227.02 L170.99 227.52 L171.01 228.02 L170.99 228.52 L170.96 229.02 L170.91 229.52 L170.88 229.77 L170.82 230.27 L170.74 230.77 L170.65 231.27 L170.6 231.52 L170.49 232.02 L170.39 232.41 L170.3 232.77 L170.15 233.27 L170.08 233.52 L169.9 234.02 L169.82 234.27 L169.64 234.72 L169.52 235.02 L169.39 235.31 L169.17 235.77 L169.04 236.02 L168.89 236.3 L168.64 236.72 L168.45 237.02 L168.27 237.27 L168.08 237.52 L167.87 237.77 L167.64 238.02 L167.37 238.27 L166.89 238.46 L166.64 238.53Z" fill="#5ec25a" fill-rule="evenodd"/>
<path d="M166.89 234.59 L166.39 234.64 L166.13 234.52 L165.88 234.27 L165.79 233.77 L165.7 233.27 L165.69 232.77 L165.7 232.27 L165.69 231.77 L165.74 231.27 L165.83 230.77 L165.88 230.27 L165.96 230.02 L166.09 229.52 L166.15 229.27 L166.34 228.77 L166.43 228.52 L166.6 228.02 L166.74 227.77 L166.89 227.48 L167.14 227.02 L167.34 226.77 L167.64 226.57 L168.14 226.6 L168.39 226.77 L168.64 227.1 L168.82 227.52 L168.9 227.77 L168.99 228.27 L169.04 228.77 L169.05 229.27 L169.03 229.77 L168.98 230.27 L168.91 230.77 L168.86 231.02 L168.74 231.52 L168.64 231.89 L168.51 232.27 L168.39 232.6 L168.2 233.02 L168.08 233.27 L167.89 233.6 L167.64 233.96 L167.39 234.24 L167.14 234.45 L166.89 234.59Z" fill="#e6dc38" fill-rule="evenodd"/>
<path d="M167.14 232.58 L166.64 232.59 L166.41 232.27 L166.35 232.02 L166.31 231.52 L166.35 231.02 L166.39 230.64 L166.47 230.27 L166.6 229.77 L166.69 229.52 L166.88 229.02 L167.1 228.77 L167.39 228.55 L167.89 228.74 L168.02 229.02 L168.13 229.52 L168.15 229.77 L168.14 230.09 L168.09 230.52 L167.99 231.02 L167.89 231.4 L167.74 231.77 L167.61 232.02 L167.39 232.36 L167.14 232.58Z" fill="#f08a22" fill-rule="evenodd"/>
</g>
<g clip-path="url(#cclip)">
<path d="M217.6 204.4 L217.72 204.16 L217.87 203.94 L218.04 203.74 L218.24 203.57 L218.45 203.42 L218.68 203.29 L218.93 203.19 L219.2 203.1 L219.5 203.04 L219.84 202.99 L220.21 202.97 L220.59 202.97 L220.98 203 L221.35 203.04 L221.69 203.11 L222 203.2 L222.27 203.29 L222.53 203.36 L222.78 203.44 L223 203.55 L223.21 203.71 L223.39 203.94 L223.56 204.26 L223.7 204.7 L223.81 205.27 L223.9 205.96 L223.96 206.75 L224 207.61 L224.03 208.51 L224.05 209.42 L224.07 210.33 L224.1 211.2 L224.12 212.07 L224.13 212.99 L224.14 213.92 L224.14 214.86 L224.14 215.77 L224.15 216.65 L224.17 217.47 L224.2 218.2 L224.25 218.83 L224.33 219.36 L224.41 219.83 L224.5 220.26 L224.59 220.69 L224.67 221.13 L224.75 221.62 L224.8 222.2 L224.84 222.81 L224.88 223.42 L224.91 224.05 L224.93 224.71 L224.94 225.44 L224.94 226.25 L224.93 227.16 L224.9 228.2 L224.91 229.48 L225 231.02 L225.1 232.72 L225.18 234.47 L225.18 236.18 L225.05 237.74 L224.74 239.05 L224.2 240 L223.32 240.65 L222.11 241.11 L220.67 241.38 L219.12 241.47 L217.58 241.38 L216.17 241.11 L215.01 240.65 L214.2 240 L213.76 239.05 L213.59 237.74 L213.62 236.18 L213.8 234.47 L214.07 232.72 L214.36 231.02 L214.62 229.48 L214.8 228.2 L214.92 227.16 L215.06 226.25 L215.21 225.44 L215.38 224.71 L215.54 224.05 L215.7 223.42 L215.86 222.81 L216 222.2 L216.14 221.62 L216.28 221.11 L216.42 220.64 L216.56 220.2 L216.69 219.76 L216.81 219.29 L216.91 218.78 L217 218.2 L217.06 217.54 L217.11 216.82 L217.13 216.05 L217.15 215.26 L217.16 214.46 L217.17 213.68 L217.18 212.92 L217.2 212.2 L217.22 211.51 L217.25 210.83 L217.27 210.16 L217.3 209.5 L217.32 208.87 L217.35 208.27 L217.37 207.71 L217.4 207.2 L217.42 206.73 L217.42 206.31 L217.41 205.92 L217.41 205.57 L217.42 205.24 L217.45 204.94 L217.51 204.66Z" fill="#1b47a4"/>
<path d="M220.59 240.99 L220.09 241.07 L219.59 241.12 L219.09 241.16 L218.59 241.18 L218.09 241.19 L217.59 241.19 L217.09 241.17 L216.77 240.97 L216.34 240.87 L215.94 240.72 L215.59 240.51 L215.34 240.3 L215.09 240.17 L214.84 239.92 L214.59 239.6 L214.48 239.22 L214.34 238.78 L214.26 238.47 L214.26 237.97 L214.26 237.47 L214.26 236.97 L214.26 236.47 L214.26 235.97 L214.27 235.47 L214.27 234.97 L214.31 234.47 L214.44 234.22 L214.49 233.72 L214.49 233.22 L214.59 232.87 L214.71 232.47 L214.71 231.97 L214.75 231.47 L214.89 231.22 L214.94 230.72 L214.95 230.22 L215.09 229.8 L215.17 229.47 L215.18 228.97 L215.2 228.47 L215.34 228.04 L215.42 227.72 L215.44 227.22 L215.45 226.72 L215.59 226.31 L215.68 225.97 L215.7 225.47 L215.84 225.06 L215.94 224.72 L215.98 224.22 L216.13 223.97 L216.19 223.47 L216.34 223.05 L216.43 222.72 L216.48 222.22 L216.64 221.97 L216.7 221.47 L216.84 221.07 L216.95 220.72 L217.09 220.32 L217.2 219.97 L217.25 219.47 L217.41 219.22 L217.48 218.72 L217.51 218.22 L217.53 217.72 L217.59 217.47 L217.79 216.97 L217.82 216.47 L217.84 215.97 L217.85 215.72 L217.86 215.22 L217.88 214.72 L217.89 214.22 L217.9 213.72 L217.91 213.22 L217.92 212.72 L217.93 212.22 L217.93 211.72 L217.94 211.22 L217.94 210.72 L217.95 210.22 L217.95 209.72 L217.95 209.22 L218.09 208.91 L218.21 208.47 L218.21 207.97 L218.21 207.47 L218.21 206.97 L218.21 206.47 L218.21 205.97 L218.21 205.47 L218.21 204.97 L218.34 204.7 L218.59 204.43 L218.84 204.2 L219.29 203.97 L219.59 203.85 L220.09 203.85 L220.59 203.84 L221.09 203.84 L221.59 203.94 L221.84 204.06 L222.34 204.09 L222.62 204.22 L222.84 204.67 L222.97 204.97 L222.97 205.47 L223.09 205.91 L223.22 206.22 L223.23 206.72 L223.23 207.22 L223.23 207.72 L223.23 208.22 L223.23 208.72 L223.24 209.22 L223.24 209.72 L223.25 210.22 L223.25 210.72 L223.34 211.09 L223.5 211.47 L223.51 211.97 L223.51 212.47 L223.52 212.97 L223.53 213.47 L223.53 213.97 L223.54 214.47 L223.55 214.97 L223.56 215.47 L223.56 215.97 L223.57 216.47 L223.58 216.97 L223.59 217.47 L223.59 217.77 L223.6 218.22 L223.61 218.72 L223.62 219.22 L223.8 219.72 L223.85 219.97 L223.86 220.47 L224.04 220.97 L224.09 221.47 L224.09 221.97 L224.09 222.38 L224.09 222.72 L224.27 223.22 L224.32 223.72 L224.32 224.22 L224.32 224.72 L224.32 225.22 L224.32 225.72 L224.32 226.22 L224.32 226.72 L224.32 227.22 L224.31 227.72 L224.31 228.22 L224.31 228.72 L224.31 229.22 L224.3 229.72 L224.3 230.22 L224.29 230.72 L224.29 231.22 L224.29 231.72 L224.28 232.22 L224.31 232.72 L224.43 232.97 L224.51 233.47 L224.5 233.97 L224.5 234.47 L224.5 234.97 L224.49 235.47 L224.49 235.97 L224.49 236.47 L224.4 236.97 L224.28 237.22 L224.24 237.72 L224.15 238.22 L224.03 238.47 L223.91 238.97 L223.78 239.22 L223.59 239.55 L223.26 239.72 L222.97 239.97 L222.59 240.2 L222.34 240.27 L222.04 240.47 L221.59 240.59 L221.28 240.72 L220.84 240.95 L220.59 240.99Z" fill="#2569c6" fill-rule="evenodd"/>
<path d="M219.84 240.72 L219.34 240.8 L218.84 240.85 L218.34 240.88 L217.84 240.88 L217.34 240.86 L216.99 240.72 L216.59 240.54 L216.29 240.47 L215.89 240.22 L215.59 240.01 L215.34 239.83 L215.09 239.59 L214.88 239.22 L214.84 238.94 L214.67 238.47 L214.67 237.97 L214.67 237.47 L214.66 236.97 L214.66 236.47 L214.67 235.97 L214.67 235.47 L214.67 234.97 L214.76 234.47 L214.85 234.22 L214.88 233.72 L214.88 233.22 L215.06 232.72 L215.09 232.4 L215.1 231.97 L215.19 231.47 L215.31 230.97 L215.32 230.47 L215.34 230.2 L215.5 229.72 L215.55 229.22 L215.57 228.72 L215.59 228.44 L215.75 227.97 L215.8 227.47 L215.83 226.97 L215.84 226.72 L216.02 226.22 L216.07 225.72 L216.09 225.47 L216.28 224.97 L216.33 224.47 L216.43 224.22 L216.57 223.72 L216.59 223.45 L216.78 222.97 L216.84 222.47 L216.94 222.22 L217.09 221.72 L217.1 221.47 L217.31 220.97 L217.35 220.72 L217.57 220.22 L217.61 219.97 L217.74 219.47 L217.85 219.22 L217.91 218.72 L217.94 218.22 L217.98 217.72 L218.1 217.47 L218.25 216.97 L218.28 216.47 L218.31 215.97 L218.34 215.47 L218.36 215.22 L218.4 214.72 L218.44 214.22 L218.47 213.72 L218.5 213.22 L218.53 212.72 L218.55 212.22 L218.57 211.72 L218.59 211.23 L218.6 210.97 L218.61 210.47 L218.62 209.97 L218.63 209.47 L218.8 208.97 L218.87 208.72 L218.89 208.22 L218.9 207.72 L218.9 207.22 L218.91 206.72 L218.91 206.22 L218.91 205.72 L218.91 205.22 L219.09 204.93 L219.34 204.71 L219.84 204.55 L220.34 204.54 L220.84 204.54 L221.34 204.6 L221.65 204.72 L222.09 204.82 L222.28 205.22 L222.3 205.72 L222.36 205.97 L222.53 206.47 L222.54 206.97 L222.54 207.47 L222.55 207.97 L222.56 208.47 L222.57 208.97 L222.58 209.47 L222.59 209.97 L222.6 210.22 L222.61 210.72 L222.71 211.22 L222.84 211.52 L222.89 211.97 L222.91 212.47 L222.93 212.97 L222.95 213.47 L222.97 213.97 L222.99 214.47 L223.02 214.97 L223.04 215.47 L223.07 215.97 L223.09 216.34 L223.1 216.72 L223.12 217.22 L223.13 217.72 L223.15 218.22 L223.17 218.72 L223.18 219.22 L223.28 219.72 L223.41 219.97 L223.42 220.47 L223.52 220.97 L223.64 221.22 L223.65 221.72 L223.66 222.22 L223.66 222.72 L223.75 223.22 L223.87 223.47 L223.87 223.97 L223.88 224.47 L223.88 224.97 L223.88 225.47 L223.88 225.97 L223.87 226.47 L223.87 226.97 L223.87 227.47 L223.86 227.97 L223.86 228.47 L223.85 228.97 L223.85 229.47 L223.84 229.94 L223.83 230.22 L223.82 230.72 L223.81 231.22 L223.8 231.72 L223.78 232.22 L223.79 232.72 L223.84 232.99 L223.94 233.47 L223.93 233.97 L223.92 234.47 L223.91 234.97 L223.9 235.47 L223.88 235.97 L223.87 236.47 L223.83 236.72 L223.66 237.22 L223.63 237.72 L223.58 237.97 L223.41 238.47 L223.34 238.74 L223.09 239.15 L222.84 239.33 L222.59 239.62 L222.34 239.74 L221.97 239.97 L221.59 240.12 L221.31 240.22 L220.93 240.47 L220.59 240.58 L220.09 240.68 L219.84 240.72Z" fill="#3fa2e2" fill-rule="evenodd"/>
<path d="M219.09 240.49 L218.59 240.54 L218.09 240.56 L217.59 240.54 L217.24 240.47 L216.84 240.25 L216.59 240.17 L216.15 239.97 L215.84 239.73 L215.66 239.47 L215.49 239.22 L215.35 238.72 L215.29 238.47 L215.24 237.97 L215.23 237.47 L215.22 236.97 L215.22 236.47 L215.22 235.97 L215.22 235.47 L215.22 234.97 L215.31 234.47 L215.35 234.22 L215.37 233.72 L215.41 233.22 L215.51 232.72 L215.54 232.22 L215.58 231.72 L215.64 231.47 L215.71 230.97 L215.74 230.47 L215.84 230 L215.9 229.72 L215.94 229.22 L215.98 228.72 L216.09 228.25 L216.15 227.97 L216.21 227.47 L216.26 226.97 L216.34 226.62 L216.45 226.22 L216.52 225.72 L216.59 225.41 L216.72 224.97 L216.81 224.47 L216.91 224.22 L217.02 223.72 L217.09 223.45 L217.25 222.97 L217.34 222.57 L217.47 222.22 L217.59 221.76 L217.67 221.47 L217.84 221.03 L217.95 220.72 L218.09 220.39 L218.21 219.97 L218.34 219.63 L218.5 219.22 L218.59 218.81 L218.65 218.47 L218.75 217.97 L218.86 217.72 L219.06 217.22 L219.12 216.97 L219.2 216.47 L219.28 215.97 L219.34 215.55 L219.39 215.22 L219.45 214.72 L219.51 214.22 L219.56 213.72 L219.59 213.41 L219.68 212.97 L219.77 212.47 L219.84 212.01 L220.09 211.84 L220.34 211.72 L220.84 211.6 L221.34 211.66 L221.59 211.77 L221.66 212.22 L221.74 212.72 L221.82 213.22 L221.85 213.47 L221.89 213.97 L221.94 214.47 L221.98 214.97 L222.03 215.47 L222.08 215.97 L222.11 216.22 L222.16 216.72 L222.21 217.22 L222.26 217.72 L222.31 218.22 L222.34 218.56 L222.38 218.97 L222.44 219.47 L222.57 219.97 L222.65 220.22 L222.69 220.72 L222.81 221.22 L222.88 221.47 L222.91 221.97 L222.93 222.47 L222.96 222.97 L223.05 223.47 L223.11 223.72 L223.13 224.22 L223.13 224.72 L223.14 225.22 L223.14 225.72 L223.14 226.22 L223.14 226.72 L223.14 227.22 L223.13 227.72 L223.12 228.22 L223.11 228.72 L223.1 229.22 L223.09 229.49 L223.08 229.97 L223.06 230.47 L223.04 230.97 L223.02 231.47 L223 231.97 L222.97 232.47 L222.99 232.97 L223.07 233.47 L223.05 233.97 L223.03 234.47 L223 234.97 L222.98 235.47 L222.95 235.97 L222.9 236.47 L222.82 236.72 L222.72 237.22 L222.65 237.72 L222.57 237.97 L222.36 238.47 L222.15 238.72 L221.85 238.97 L221.59 239.21 L221.34 239.38 L221.09 239.58 L220.84 239.84 L220.59 240.05 L220.33 240.22 L219.84 240.36 L219.34 240.46 L219.09 240.49Z" fill="#3cc2d6" fill-rule="evenodd"/>
<path d="M219.09 240.25 L218.59 240.31 L218.09 240.33 L217.59 240.3 L217.25 240.22 L216.88 239.97 L216.59 239.75 L216.34 239.5 L216.13 239.22 L215.96 238.97 L215.83 238.72 L215.72 238.22 L215.69 237.72 L215.68 237.22 L215.67 236.72 L215.66 236.22 L215.66 235.72 L215.66 235.22 L215.7 234.72 L215.77 234.22 L215.79 233.72 L215.84 233.22 L215.88 232.97 L215.93 232.47 L215.95 231.97 L216.05 231.47 L216.09 231.21 L216.13 230.72 L216.2 230.22 L216.29 229.72 L216.34 229.28 L216.37 228.97 L216.45 228.47 L216.56 227.97 L216.6 227.72 L216.65 227.22 L216.75 226.72 L216.84 226.38 L216.91 225.97 L217.02 225.47 L217.1 225.22 L217.21 224.72 L217.34 224.31 L217.44 223.97 L217.58 223.47 L217.66 223.22 L217.79 222.72 L217.89 222.47 L218.06 221.97 L218.12 221.72 L218.33 221.22 L218.42 220.97 L218.59 220.61 L218.74 220.22 L218.84 219.92 L219.06 219.47 L219.15 219.22 L219.28 218.72 L219.34 218.47 L219.57 217.97 L219.84 217.77 L220.09 217.67 L220.59 217.68 L220.84 217.78 L221.09 217.97 L221.34 218.26 L221.59 218.65 L221.67 218.97 L221.8 219.47 L221.88 219.72 L222.02 220.22 L222.09 220.48 L222.17 220.97 L222.3 221.47 L222.35 221.72 L222.39 222.22 L222.42 222.72 L222.47 223.22 L222.58 223.72 L222.61 223.97 L222.63 224.47 L222.64 224.97 L222.65 225.47 L222.66 225.97 L222.66 226.47 L222.66 226.97 L222.66 227.47 L222.65 227.97 L222.64 228.47 L222.63 228.97 L222.61 229.47 L222.6 229.97 L222.58 230.22 L222.56 230.72 L222.52 231.22 L222.49 231.72 L222.45 232.22 L222.41 232.72 L222.36 233.22 L222.32 233.47 L222.26 233.97 L222.18 234.47 L222.09 234.97 L222.05 235.22 L221.96 235.72 L221.86 236.22 L221.81 236.47 L221.71 236.97 L221.59 237.47 L221.53 237.72 L221.41 238.22 L221.34 238.48 L221.09 238.82 L220.84 239.06 L220.59 239.34 L220.34 239.53 L220.06 239.72 L219.68 239.97 L219.34 240.17 L219.09 240.25Z" fill="#5ec25a" fill-rule="evenodd"/>
<path d="M218.59 237.99 L218.09 237.98 L217.84 237.75 L217.69 237.47 L217.57 237.22 L217.42 236.72 L217.34 236.41 L217.27 235.97 L217.2 235.47 L217.16 234.97 L217.13 234.47 L217.11 233.97 L217.11 233.47 L217.12 232.97 L217.14 232.47 L217.17 231.97 L217.21 231.47 L217.26 230.97 L217.32 230.47 L217.36 230.22 L217.43 229.72 L217.52 229.22 L217.59 228.84 L217.67 228.47 L217.79 227.97 L217.85 227.72 L217.99 227.22 L218.09 226.89 L218.24 226.47 L218.34 226.19 L218.55 225.72 L218.68 225.47 L218.84 225.2 L219.09 224.87 L219.34 224.65 L219.84 224.58 L220.09 224.77 L220.34 225.16 L220.46 225.47 L220.59 225.89 L220.66 226.22 L220.75 226.72 L220.81 227.22 L220.84 227.55 L220.87 227.97 L220.89 228.47 L220.89 228.97 L220.88 229.47 L220.87 229.97 L220.84 230.45 L220.82 230.72 L220.78 231.22 L220.73 231.72 L220.66 232.22 L220.59 232.72 L220.55 232.97 L220.46 233.47 L220.36 233.97 L220.31 234.22 L220.19 234.72 L220.09 235.1 L219.98 235.47 L219.84 235.92 L219.73 236.22 L219.59 236.57 L219.4 236.97 L219.26 237.22 L219.09 237.51 L218.84 237.8 L218.59 237.99Z" fill="#e6dc38" fill-rule="evenodd"/>
<path d="M218.84 234.87 L218.34 234.72 L218.24 234.47 L218.09 233.98 L218.05 233.72 L218.01 233.22 L217.99 232.72 L217.99 232.22 L218.02 231.72 L218.06 231.22 L218.09 230.9 L218.16 230.47 L218.25 229.97 L218.34 229.53 L218.43 229.22 L218.58 228.72 L218.69 228.47 L218.84 228.13 L219.09 227.79 L219.34 227.66 L219.59 227.78 L219.8 228.22 L219.87 228.47 L219.95 228.97 L220 229.47 L220.01 229.97 L220 230.47 L219.98 230.97 L219.93 231.47 L219.87 231.97 L219.83 232.22 L219.73 232.72 L219.62 233.22 L219.55 233.47 L219.38 233.97 L219.27 234.22 L219.09 234.58 L218.84 234.87Z" fill="#f08a22" fill-rule="evenodd"/>
<path d="M218.84 232.63 L218.76 232.47 L218.68 232.22 L218.65 231.97 L218.64 231.72 L218.65 231.47 L218.68 231.22 L218.71 230.97 L218.76 230.72 L218.81 230.47 L218.84 230.37 L218.93 230.22 L219.09 229.97 L219.09 229.97 L219.1 229.97 L219.29 230.22 L219.34 230.36 L219.35 230.47 L219.37 230.72 L219.37 230.97 L219.35 231.22 L219.34 231.39 L219.33 231.47 L219.27 231.72 L219.21 231.97 L219.14 232.22 L219.09 232.4 L219.01 232.47 L218.84 232.63Z" fill="#e0301c" fill-rule="evenodd"/>
</g>
<line x1="39.5" y1="223.7" x2="88.8" y2="223.7" stroke="#8c1233" stroke-width="1.9"/>
<line x1="90.8" y1="223.7" x2="140.2" y2="223.7" stroke="#8c1233" stroke-width="1.9"/>
<line x1="142.5" y1="223.7" x2="191.3" y2="223.7" stroke="#8c1233" stroke-width="1.9"/>
<line x1="194.3" y1="223.7" x2="242.5" y2="223.7" stroke="#8c1233" stroke-width="1.9"/>
<line x1="34.4" y1="196" x2="34.4" y2="242.8" stroke="#111" stroke-width="1.3"/>
<path d="M34.4 192 L31.4 199.2 L34.4 198.2 L37.4 199.2 Z" fill="#000"/>
<line x1="34.4" y1="242.6" x2="237" y2="242.6" stroke="#111" stroke-width="1.3"/>
<path d="M242 242.6 L234.8 239.6 L235.8 242.6 L234.8 245.6 Z" fill="#000"/>
<text x="29.1" y="220" font-size="9.5" text-anchor="middle" fill="#000" transform="rotate(-90 29.1 220)">Ki-67</text>
<text x="227.6" y="254.8" font-size="8.9" text-anchor="middle" fill="#000" transform="translate(227.6 254.8) scale(1 1.14) translate(-227.6 -254.8)">SSc</text>
<text x="89.75" y="332.5" font-size="10" text-anchor="middle" fill="#000" transform="translate(89.75 332.5) scale(1 1.06) translate(-89.75 -332.5)">Wild Type</text>
<text x="190.4" y="332.5" font-size="10" text-anchor="middle" fill="#000" transform="translate(190.4 332.5) scale(1 1.06) translate(-190.4 -332.5)">PD-1<tspan font-size="6.8" dy="-3.6">-/-</tspan><tspan dy="3.6"></tspan></text>
<line x1="40" y1="335.5" x2="139.5" y2="335.5" stroke="#000" stroke-width="1.4"/>
<line x1="141.3" y1="335.5" x2="239.5" y2="335.5" stroke="#000" stroke-width="1.4"/>
<text x="62.5" y="345.8" font-size="7.8" text-anchor="middle" fill="#000" transform="translate(62.5 345.8) scale(1 1.12) translate(-62.5 -345.8)">Vehicle</text>
<text x="113.8" y="345.8" font-size="7.8" text-anchor="middle" fill="#000" transform="translate(113.8 345.8) scale(1 1.12) translate(-113.8 -345.8)">IL-2</text>
<text x="166.5" y="345.8" font-size="7.8" text-anchor="middle" fill="#000" transform="translate(166.5 345.8) scale(1 1.12) translate(-166.5 -345.8)">Vehicle</text>
<text x="217" y="345.8" font-size="7.8" text-anchor="middle" fill="#000" transform="translate(217 345.8) scale(1 1.12) translate(-217 -345.8)">IL-2</text>
<rect x="38.8" y="347.5" width="49.2" height="43.8" fill="#fff" stroke="#a8a8a8" stroke-width="0.8"/>
<path d="M51.6 384.2h.85v.85h-.85zM51.8 379.1h.85v.85h-.85zM47.3 382.9h.85v.85h-.85zM60.5 377.5h.85v.85h-.85zM60.0 376.8h.85v.85h-.85zM55.9 379.3h.85v.85h-.85zM56.6 380.7h.85v.85h-.85zM42.3 377.1h.85v.85h-.85zM47.5 381.2h.85v.85h-.85zM55.3 378.4h.85v.85h-.85zM56.7 373.8h.85v.85h-.85zM55.3 381.0h.85v.85h-.85zM56.9 384.7h.85v.85h-.85zM49.3 378.4h.85v.85h-.85zM51.1 380.9h.85v.85h-.85zM57.4 378.6h.85v.85h-.85zM50.4 376.3h.85v.85h-.85zM49.9 389.7h.85v.85h-.85zM48.0 385.1h.85v.85h-.85zM56.1 369.1h.85v.85h-.85zM53.6 387.6h.85v.85h-.85zM40.2 387.1h.85v.85h-.85zM52.6 375.6h.85v.85h-.85zM56.5 377.4h.85v.85h-.85zM57.7 382.7h.85v.85h-.85zM62.7 375.7h.85v.85h-.85zM54.1 371.7h.85v.85h-.85zM57.3 373.6h.85v.85h-.85zM50.4 374.4h.85v.85h-.85zM47.0 381.2h.85v.85h-.85zM61.7 362.0h.85v.85h-.85zM43.8 388.0h.85v.85h-.85zM62.7 377.0h.85v.85h-.85zM41.0 373.4h.85v.85h-.85zM55.6 374.0h.85v.85h-.85zM60.5 376.0h.85v.85h-.85zM54.9 381.5h.85v.85h-.85zM63.7 376.5h.85v.85h-.85zM56.7 381.0h.85v.85h-.85zM59.5 378.9h.85v.85h-.85zM40.5 385.1h.85v.85h-.85zM58.8 365.3h.85v.85h-.85zM52.1 386.9h.85v.85h-.85zM56.9 376.6h.85v.85h-.85zM55.4 382.4h.85v.85h-.85zM54.1 386.3h.85v.85h-.85zM49.0 380.5h.85v.85h-.85zM60.1 375.5h.85v.85h-.85zM47.6 389.6h.85v.85h-.85zM62.8 370.7h.85v.85h-.85zM44.3 385.4h.85v.85h-.85zM52.3 378.9h.85v.85h-.85zM62.4 367.5h.85v.85h-.85zM61.5 366.7h.85v.85h-.85zM48.2 387.3h.85v.85h-.85zM60.6 380.1h.85v.85h-.85zM55.5 379.3h.85v.85h-.85zM54.3 382.8h.85v.85h-.85zM52.2 382.5h.85v.85h-.85zM57.0 377.4h.85v.85h-.85zM58.3 380.0h.85v.85h-.85zM66.4 372.9h.85v.85h-.85zM50.5 379.7h.85v.85h-.85zM53.2 385.6h.85v.85h-.85zM51.1 383.8h.85v.85h-.85zM65.2 356.3h.85v.85h-.85zM46.0 386.5h.85v.85h-.85zM55.9 379.6h.85v.85h-.85zM50.5 385.9h.85v.85h-.85zM55.1 375.6h.85v.85h-.85zM69.1 371.2h.85v.85h-.85zM49.7 381.9h.85v.85h-.85zM51.8 380.6h.85v.85h-.85zM59.9 368.5h.85v.85h-.85zM52.9 386.0h.85v.85h-.85zM58.9 385.1h.85v.85h-.85zM42.2 385.5h.85v.85h-.85zM51.1 385.3h.85v.85h-.85zM60.4 359.0h.85v.85h-.85zM60.4 366.4h.85v.85h-.85zM57.7 368.0h.85v.85h-.85zM54.4 386.4h.85v.85h-.85zM52.3 381.8h.85v.85h-.85zM58.5 377.3h.85v.85h-.85zM52.7 389.6h.85v.85h-.85zM60.1 373.5h.85v.85h-.85zM71.1 360.8h.85v.85h-.85zM59.2 374.3h.85v.85h-.85zM54.2 383.6h.85v.85h-.85zM54.7 382.8h.85v.85h-.85zM43.4 377.8h.85v.85h-.85zM57.3 371.5h.85v.85h-.85zM46.6 375.8h.85v.85h-.85zM61.5 378.8h.85v.85h-.85zM62.9 367.7h.85v.85h-.85zM53.3 373.2h.85v.85h-.85zM58.3 386.1h.85v.85h-.85zM59.7 374.5h.85v.85h-.85zM52.7 376.8h.85v.85h-.85zM55.9 380.7h.85v.85h-.85zM63.0 367.1h.85v.85h-.85zM60.7 383.8h.85v.85h-.85zM62.7 372.4h.85v.85h-.85zM48.5 389.5h.85v.85h-.85zM54.0 380.2h.85v.85h-.85zM62.6 372.0h.85v.85h-.85zM55.4 374.9h.85v.85h-.85zM53.2 385.0h.85v.85h-.85zM53.8 387.6h.85v.85h-.85zM52.9 386.5h.85v.85h-.85zM63.0 382.9h.85v.85h-.85zM48.9 388.3h.85v.85h-.85zM41.1 381.9h.85v.85h-.85zM45.3 385.5h.85v.85h-.85zM52.1 380.7h.85v.85h-.85zM49.5 384.1h.85v.85h-.85zM64.9 372.2h.85v.85h-.85zM56.8 383.6h.85v.85h-.85zM52.0 373.3h.85v.85h-.85zM49.7 388.9h.85v.85h-.85zM42.6 383.8h.85v.85h-.85zM59.8 380.2h.85v.85h-.85zM53.3 384.8h.85v.85h-.85zM54.4 372.2h.85v.85h-.85zM43.1 383.2h.85v.85h-.85zM59.3 372.5h.85v.85h-.85zM47.4 379.4h.85v.85h-.85zM43.3 386.2h.85v.85h-.85zM45.6 387.5h.85v.85h-.85zM49.1 371.2h.85v.85h-.85zM58.0 375.1h.85v.85h-.85zM55.2 375.9h.85v.85h-.85zM58.4 381.0h.85v.85h-.85zM57.6 379.0h.85v.85h-.85zM62.0 378.0h.85v.85h-.85zM56.2 365.5h.85v.85h-.85zM59.1 383.8h.85v.85h-.85zM51.4 378.5h.85v.85h-.85zM65.9 360.7h.85v.85h-.85zM47.3 388.3h.85v.85h-.85zM65.6 370.8h.85v.85h-.85zM56.9 382.9h.85v.85h-.85zM47.4 383.5h.85v.85h-.85zM55.2 383.6h.85v.85h-.85zM53.1 379.0h.85v.85h-.85zM46.7 382.4h.85v.85h-.85zM59.1 376.6h.85v.85h-.85zM47.8 378.8h.85v.85h-.85zM70.6 374.8h.85v.85h-.85zM57.4 361.6h.85v.85h-.85zM57.3 380.1h.85v.85h-.85zM64.2 375.0h.85v.85h-.85zM52.9 383.4h.85v.85h-.85zM55.4 374.3h.85v.85h-.85zM61.9 384.9h.85v.85h-.85zM44.2 382.3h.85v.85h-.85zM55.2 379.8h.85v.85h-.85zM50.7 375.9h.85v.85h-.85zM67.1 376.7h.85v.85h-.85zM45.5 377.3h.85v.85h-.85zM64.4 378.3h.85v.85h-.85zM65.1 376.7h.85v.85h-.85zM47.6 385.5h.85v.85h-.85zM52.9 383.4h.85v.85h-.85zM48.6 382.5h.85v.85h-.85zM56.3 380.2h.85v.85h-.85zM57.4 378.4h.85v.85h-.85zM51.2 386.2h.85v.85h-.85zM53.6 374.8h.85v.85h-.85zM49.2 382.8h.85v.85h-.85zM52.6 381.4h.85v.85h-.85zM53.3 381.1h.85v.85h-.85zM52.4 373.1h.85v.85h-.85zM56.0 384.4h.85v.85h-.85zM56.1 376.9h.85v.85h-.85zM56.2 372.2h.85v.85h-.85zM41.0 388.9h.85v.85h-.85zM47.3 388.6h.85v.85h-.85zM46.3 369.1h.85v.85h-.85zM50.8 373.5h.85v.85h-.85zM48.3 386.6h.85v.85h-.85zM56.5 378.8h.85v.85h-.85zM62.9 377.6h.85v.85h-.85zM53.2 383.7h.85v.85h-.85zM64.1 378.4h.85v.85h-.85zM60.0 368.9h.85v.85h-.85zM52.3 385.0h.85v.85h-.85zM51.4 387.7h.85v.85h-.85zM57.2 382.8h.85v.85h-.85zM61.4 373.1h.85v.85h-.85zM51.1 386.8h.85v.85h-.85zM59.7 375.6h.85v.85h-.85zM45.7 386.4h.85v.85h-.85zM55.6 385.2h.85v.85h-.85zM58.4 376.6h.85v.85h-.85zM58.8 379.4h.85v.85h-.85zM54.6 379.4h.85v.85h-.85zM51.7 385.2h.85v.85h-.85zM46.4 381.0h.85v.85h-.85zM53.3 371.2h.85v.85h-.85zM50.5 369.9h.85v.85h-.85zM48.9 386.5h.85v.85h-.85zM57.0 377.1h.85v.85h-.85zM51.8 372.5h.85v.85h-.85zM65.2 374.9h.85v.85h-.85zM60.4 369.8h.85v.85h-.85zM52.1 369.9h.85v.85h-.85zM58.4 382.1h.85v.85h-.85zM41.0 388.2h.85v.85h-.85zM57.4 366.6h.85v.85h-.85zM41.4 381.8h.85v.85h-.85zM49.2 374.4h.85v.85h-.85zM53.5 381.4h.85v.85h-.85zM57.4 381.4h.85v.85h-.85zM63.1 380.2h.85v.85h-.85zM44.8 382.9h.85v.85h-.85zM46.4 378.3h.85v.85h-.85zM52.8 380.4h.85v.85h-.85zM56.5 368.3h.85v.85h-.85zM45.3 385.4h.85v.85h-.85zM52.0 379.0h.85v.85h-.85zM52.9 375.7h.85v.85h-.85zM57.9 379.0h.85v.85h-.85zM52.7 376.4h.85v.85h-.85zM52.2 364.5h.85v.85h-.85zM46.9 384.6h.85v.85h-.85zM43.5 388.0h.85v.85h-.85zM54.3 371.1h.85v.85h-.85zM51.7 379.2h.85v.85h-.85zM56.3 381.6h.85v.85h-.85zM53.1 375.1h.85v.85h-.85zM52.4 380.3h.85v.85h-.85zM58.1 378.5h.85v.85h-.85zM48.6 375.1h.85v.85h-.85zM50.9 377.2h.85v.85h-.85zM46.1 384.3h.85v.85h-.85zM50.1 382.8h.85v.85h-.85zM56.7 375.2h.85v.85h-.85zM68.4 367.6h.85v.85h-.85zM60.5 375.8h.85v.85h-.85zM60.6 360.7h.85v.85h-.85zM48.4 384.9h.85v.85h-.85zM55.4 386.2h.85v.85h-.85zM58.3 382.2h.85v.85h-.85zM56.6 376.8h.85v.85h-.85zM56.6 371.2h.85v.85h-.85zM61.0 368.6h.85v.85h-.85zM51.8 381.1h.85v.85h-.85zM60.9 374.9h.85v.85h-.85zM48.1 385.2h.85v.85h-.85zM57.1 381.6h.85v.85h-.85zM64.1 372.6h.85v.85h-.85zM55.0 376.2h.85v.85h-.85zM62.5 369.4h.85v.85h-.85zM57.7 374.1h.85v.85h-.85zM48.8 387.4h.85v.85h-.85zM62.0 373.9h.85v.85h-.85zM48.9 387.9h.85v.85h-.85zM53.0 382.1h.85v.85h-.85zM63.2 379.9h.85v.85h-.85zM53.3 384.7h.85v.85h-.85zM49.1 382.6h.85v.85h-.85zM62.2 366.6h.85v.85h-.85zM43.5 377.0h.85v.85h-.85zM60.9 372.0h.85v.85h-.85zM52.9 378.4h.85v.85h-.85zM52.5 374.0h.85v.85h-.85zM53.5 371.3h.85v.85h-.85zM52.8 382.2h.85v.85h-.85zM56.3 376.5h.85v.85h-.85zM47.4 385.0h.85v.85h-.85zM58.3 375.9h.85v.85h-.85zM50.2 377.9h.85v.85h-.85zM47.2 382.1h.85v.85h-.85zM55.2 381.8h.85v.85h-.85zM57.0 390.0h.85v.85h-.85zM48.7 383.2h.85v.85h-.85zM71.5 356.2h.85v.85h-.85zM49.9 383.4h.85v.85h-.85zM54.3 381.8h.85v.85h-.85zM51.7 383.3h.85v.85h-.85zM53.6 384.4h.85v.85h-.85zM41.0 383.2h.85v.85h-.85zM53.3 373.8h.85v.85h-.85zM46.5 388.5h.85v.85h-.85zM49.1 386.7h.85v.85h-.85zM58.1 378.5h.85v.85h-.85zM56.6 377.1h.85v.85h-.85zM44.1 386.2h.85v.85h-.85zM56.3 374.8h.85v.85h-.85zM52.7 384.9h.85v.85h-.85zM47.6 387.8h.85v.85h-.85zM65.4 368.3h.85v.85h-.85zM54.3 378.4h.85v.85h-.85zM63.3 375.0h.85v.85h-.85zM59.1 371.8h.85v.85h-.85zM53.2 380.0h.85v.85h-.85zM59.1 365.5h.85v.85h-.85zM58.1 375.9h.85v.85h-.85zM56.2 380.2h.85v.85h-.85zM43.6 385.5h.85v.85h-.85zM63.0 369.8h.85v.85h-.85zM46.7 376.4h.85v.85h-.85zM45.4 387.5h.85v.85h-.85zM64.3 375.0h.85v.85h-.85zM49.9 378.3h.85v.85h-.85zM56.7 380.9h.85v.85h-.85zM46.7 377.5h.85v.85h-.85zM55.2 380.2h.85v.85h-.85zM44.8 384.7h.85v.85h-.85zM49.8 385.2h.85v.85h-.85zM52.5 380.0h.85v.85h-.85zM51.0 387.9h.85v.85h-.85zM62.3 371.5h.85v.85h-.85zM58.8 371.6h.85v.85h-.85zM53.8 384.2h.85v.85h-.85zM63.1 370.9h.85v.85h-.85zM52.8 381.5h.85v.85h-.85zM43.6 386.8h.85v.85h-.85zM48.9 385.3h.85v.85h-.85zM46.0 373.2h.85v.85h-.85zM53.5 381.4h.85v.85h-.85zM49.7 387.8h.85v.85h-.85zM51.5 377.6h.85v.85h-.85zM56.4 368.4h.85v.85h-.85zM48.9 382.9h.85v.85h-.85zM58.8 375.2h.85v.85h-.85zM55.3 374.7h.85v.85h-.85zM55.3 388.6h.85v.85h-.85zM49.1 383.0h.85v.85h-.85zM54.4 385.4h.85v.85h-.85zM45.3 373.0h.85v.85h-.85zM57.2 382.0h.85v.85h-.85zM54.6 380.6h.85v.85h-.85zM59.3 378.0h.85v.85h-.85zM64.1 365.1h.85v.85h-.85zM50.9 361.0h.85v.85h-.85zM58.6 374.1h.85v.85h-.85zM59.3 388.8h.85v.85h-.85zM53.3 378.5h.85v.85h-.85zM50.1 377.2h.85v.85h-.85zM49.2 386.7h.85v.85h-.85zM53.5 380.2h.85v.85h-.85zM52.2 386.3h.85v.85h-.85zM56.5 376.9h.85v.85h-.85zM57.6 376.1h.85v.85h-.85zM56.3 372.2h.85v.85h-.85zM60.3 377.2h.85v.85h-.85zM55.5 383.8h.85v.85h-.85zM54.6 378.2h.85v.85h-.85zM53.5 378.1h.85v.85h-.85zM55.6 378.9h.85v.85h-.85zM57.7 374.7h.85v.85h-.85zM53.1 367.3h.85v.85h-.85zM50.5 386.0h.85v.85h-.85zM62.0 371.8h.85v.85h-.85zM52.5 390.0h.85v.85h-.85zM51.2 385.9h.85v.85h-.85zM64.2 372.7h.85v.85h-.85zM61.3 370.2h.85v.85h-.85zM54.6 378.6h.85v.85h-.85zM54.0 386.3h.85v.85h-.85zM68.8 365.3h.85v.85h-.85zM49.6 385.6h.85v.85h-.85zM46.4 387.7h.85v.85h-.85zM57.0 375.8h.85v.85h-.85zM56.8 368.3h.85v.85h-.85zM58.2 367.3h.85v.85h-.85zM48.8 379.8h.85v.85h-.85zM50.7 387.0h.85v.85h-.85zM53.8 377.2h.85v.85h-.85zM56.8 387.0h.85v.85h-.85zM53.3 382.2h.85v.85h-.85zM61.4 376.0h.85v.85h-.85zM67.7 358.2h.85v.85h-.85zM53.0 382.7h.85v.85h-.85zM59.6 379.7h.85v.85h-.85zM51.5 374.9h.85v.85h-.85zM54.0 385.7h.85v.85h-.85zM46.2 378.7h.85v.85h-.85zM53.1 368.5h.85v.85h-.85zM51.6 378.6h.85v.85h-.85zM56.2 373.8h.85v.85h-.85zM47.6 381.6h.85v.85h-.85zM53.0 376.2h.85v.85h-.85zM53.4 384.4h.85v.85h-.85z" fill="#7fa9d0" fill-opacity="0.45"/>
<path d="M59.8 388.5h.85v.85h-.85zM52.3 384.6h.85v.85h-.85zM52.5 385.7h.85v.85h-.85zM57.3 380.6h.85v.85h-.85zM57.1 384.4h.85v.85h-.85zM48.4 387.7h.85v.85h-.85zM59.8 378.5h.85v.85h-.85zM58.4 384.7h.85v.85h-.85zM57.1 385.7h.85v.85h-.85zM60.3 383.0h.85v.85h-.85zM58.6 382.9h.85v.85h-.85zM58.1 381.9h.85v.85h-.85zM54.9 390.0h.85v.85h-.85zM57.0 384.1h.85v.85h-.85zM50.9 384.0h.85v.85h-.85zM56.0 387.4h.85v.85h-.85zM56.9 386.0h.85v.85h-.85zM55.1 388.8h.85v.85h-.85zM53.8 383.9h.85v.85h-.85zM58.7 384.2h.85v.85h-.85zM54.2 383.7h.85v.85h-.85zM54.3 387.0h.85v.85h-.85zM56.6 381.2h.85v.85h-.85zM56.9 385.1h.85v.85h-.85zM51.5 388.2h.85v.85h-.85zM54.2 384.4h.85v.85h-.85zM58.3 387.9h.85v.85h-.85zM52.7 387.0h.85v.85h-.85zM53.4 388.9h.85v.85h-.85zM52.8 388.0h.85v.85h-.85zM63.7 375.5h.85v.85h-.85zM53.6 386.9h.85v.85h-.85zM54.9 383.2h.85v.85h-.85zM63.5 383.0h.85v.85h-.85zM49.1 389.1h.85v.85h-.85zM48.8 390.0h.85v.85h-.85zM53.1 386.0h.85v.85h-.85zM60.1 384.0h.85v.85h-.85zM50.0 381.7h.85v.85h-.85zM59.8 385.8h.85v.85h-.85zM52.2 388.3h.85v.85h-.85zM57.2 386.3h.85v.85h-.85zM46.7 386.5h.85v.85h-.85zM58.7 386.1h.85v.85h-.85zM58.6 377.2h.85v.85h-.85zM55.9 386.2h.85v.85h-.85zM65.0 379.6h.85v.85h-.85zM54.0 385.4h.85v.85h-.85zM58.7 382.8h.85v.85h-.85zM59.7 381.6h.85v.85h-.85zM56.3 383.2h.85v.85h-.85zM55.9 382.9h.85v.85h-.85zM49.2 389.7h.85v.85h-.85zM56.5 383.1h.85v.85h-.85zM56.1 387.6h.85v.85h-.85zM51.6 385.7h.85v.85h-.85zM57.3 385.9h.85v.85h-.85zM54.0 379.4h.85v.85h-.85zM60.0 384.6h.85v.85h-.85zM55.3 384.2h.85v.85h-.85zM56.3 383.5h.85v.85h-.85zM51.4 384.0h.85v.85h-.85zM53.0 383.9h.85v.85h-.85zM50.9 388.0h.85v.85h-.85zM50.3 388.2h.85v.85h-.85zM51.4 387.1h.85v.85h-.85zM60.5 384.1h.85v.85h-.85zM52.5 385.9h.85v.85h-.85zM55.9 380.0h.85v.85h-.85zM53.0 386.1h.85v.85h-.85zM53.5 385.7h.85v.85h-.85zM58.1 386.4h.85v.85h-.85zM58.7 385.7h.85v.85h-.85zM54.2 385.3h.85v.85h-.85zM54.3 384.4h.85v.85h-.85zM54.6 380.3h.85v.85h-.85zM54.0 385.3h.85v.85h-.85zM51.6 386.0h.85v.85h-.85zM57.3 384.0h.85v.85h-.85zM63.2 375.5h.85v.85h-.85zM54.5 380.1h.85v.85h-.85zM45.8 388.0h.85v.85h-.85zM57.3 383.6h.85v.85h-.85zM57.4 378.1h.85v.85h-.85zM58.5 385.2h.85v.85h-.85zM55.4 383.3h.85v.85h-.85zM57.7 383.0h.85v.85h-.85zM56.1 383.3h.85v.85h-.85zM46.8 387.3h.85v.85h-.85zM56.1 386.9h.85v.85h-.85zM52.0 385.8h.85v.85h-.85zM57.6 384.8h.85v.85h-.85zM60.0 389.3h.85v.85h-.85zM51.8 380.6h.85v.85h-.85zM58.6 388.4h.85v.85h-.85zM58.8 386.3h.85v.85h-.85zM52.9 383.6h.85v.85h-.85zM58.7 381.5h.85v.85h-.85zM48.4 384.1h.85v.85h-.85zM64.8 387.8h.85v.85h-.85zM52.7 383.7h.85v.85h-.85zM56.2 382.7h.85v.85h-.85zM60.3 383.4h.85v.85h-.85zM51.2 389.8h.85v.85h-.85zM53.1 386.2h.85v.85h-.85zM55.3 384.1h.85v.85h-.85zM56.5 382.7h.85v.85h-.85zM48.3 380.7h.85v.85h-.85zM50.5 384.2h.85v.85h-.85zM55.2 385.2h.85v.85h-.85zM57.4 384.8h.85v.85h-.85zM52.3 383.8h.85v.85h-.85zM47.2 386.7h.85v.85h-.85zM57.1 386.0h.85v.85h-.85zM54.8 384.6h.85v.85h-.85zM58.9 384.1h.85v.85h-.85zM58.1 385.9h.85v.85h-.85zM56.1 388.4h.85v.85h-.85zM53.1 384.6h.85v.85h-.85zM52.2 383.6h.85v.85h-.85zM61.2 388.3h.85v.85h-.85zM55.4 386.6h.85v.85h-.85zM59.8 386.0h.85v.85h-.85zM59.9 380.2h.85v.85h-.85zM52.9 386.9h.85v.85h-.85zM60.8 383.8h.85v.85h-.85zM52.0 384.9h.85v.85h-.85zM52.8 383.3h.85v.85h-.85zM61.0 381.7h.85v.85h-.85zM59.8 384.7h.85v.85h-.85zM53.0 386.8h.85v.85h-.85zM61.5 385.0h.85v.85h-.85zM60.1 384.0h.85v.85h-.85zM57.3 383.9h.85v.85h-.85zM56.9 388.2h.85v.85h-.85zM49.9 386.3h.85v.85h-.85zM56.2 383.1h.85v.85h-.85zM54.1 387.5h.85v.85h-.85zM62.9 384.7h.85v.85h-.85zM56.5 380.3h.85v.85h-.85zM62.6 383.2h.85v.85h-.85zM55.2 381.9h.85v.85h-.85zM55.1 382.0h.85v.85h-.85zM55.6 386.2h.85v.85h-.85zM55.4 385.8h.85v.85h-.85zM52.1 389.9h.85v.85h-.85zM52.8 380.6h.85v.85h-.85zM54.6 383.1h.85v.85h-.85zM51.5 385.1h.85v.85h-.85zM56.4 381.4h.85v.85h-.85zM54.8 389.2h.85v.85h-.85zM57.9 383.9h.85v.85h-.85zM55.8 384.5h.85v.85h-.85zM55.1 387.1h.85v.85h-.85zM54.9 378.3h.85v.85h-.85zM55.2 382.5h.85v.85h-.85zM57.8 382.6h.85v.85h-.85zM51.3 382.9h.85v.85h-.85zM49.9 379.8h.85v.85h-.85zM48.2 388.0h.85v.85h-.85zM52.9 380.4h.85v.85h-.85zM49.7 388.3h.85v.85h-.85zM52.4 384.8h.85v.85h-.85zM56.6 388.5h.85v.85h-.85zM62.7 385.9h.85v.85h-.85zM55.8 385.4h.85v.85h-.85zM62.1 387.1h.85v.85h-.85zM54.1 386.6h.85v.85h-.85zM56.4 384.8h.85v.85h-.85zM53.4 381.8h.85v.85h-.85zM53.3 381.2h.85v.85h-.85zM60.0 385.2h.85v.85h-.85zM50.7 390.2h.85v.85h-.85zM58.7 378.7h.85v.85h-.85zM62.3 385.3h.85v.85h-.85zM63.1 379.4h.85v.85h-.85zM57.3 385.6h.85v.85h-.85zM56.1 385.3h.85v.85h-.85zM59.3 379.7h.85v.85h-.85zM50.6 382.4h.85v.85h-.85zM53.2 383.9h.85v.85h-.85zM56.7 385.4h.85v.85h-.85zM55.4 383.1h.85v.85h-.85zM53.6 388.1h.85v.85h-.85zM58.2 384.5h.85v.85h-.85zM54.1 389.7h.85v.85h-.85zM53.0 387.4h.85v.85h-.85zM59.7 383.0h.85v.85h-.85zM58.4 381.0h.85v.85h-.85zM59.1 384.5h.85v.85h-.85zM49.3 388.5h.85v.85h-.85zM51.9 389.5h.85v.85h-.85zM52.7 385.3h.85v.85h-.85zM56.4 383.8h.85v.85h-.85zM56.3 383.2h.85v.85h-.85zM57.9 384.3h.85v.85h-.85zM56.1 377.0h.85v.85h-.85zM59.7 383.9h.85v.85h-.85zM48.5 387.1h.85v.85h-.85zM57.1 387.5h.85v.85h-.85zM54.7 387.1h.85v.85h-.85zM53.9 382.2h.85v.85h-.85zM59.5 386.4h.85v.85h-.85zM61.1 385.8h.85v.85h-.85zM53.1 380.9h.85v.85h-.85zM52.8 383.8h.85v.85h-.85zM52.2 387.5h.85v.85h-.85zM56.5 383.9h.85v.85h-.85zM56.0 384.4h.85v.85h-.85zM56.1 386.9h.85v.85h-.85zM58.9 382.1h.85v.85h-.85zM55.7 388.0h.85v.85h-.85zM49.1 385.8h.85v.85h-.85zM55.4 380.9h.85v.85h-.85zM53.3 387.6h.85v.85h-.85zM59.4 388.3h.85v.85h-.85zM52.0 382.0h.85v.85h-.85zM57.3 387.1h.85v.85h-.85zM56.0 381.1h.85v.85h-.85zM58.3 386.4h.85v.85h-.85zM57.4 383.1h.85v.85h-.85zM56.5 386.9h.85v.85h-.85zM53.2 380.4h.85v.85h-.85zM56.5 386.0h.85v.85h-.85zM55.4 387.5h.85v.85h-.85zM53.1 385.4h.85v.85h-.85zM54.1 386.9h.85v.85h-.85zM61.4 382.6h.85v.85h-.85zM63.1 387.1h.85v.85h-.85zM58.3 385.8h.85v.85h-.85zM62.0 382.6h.85v.85h-.85zM54.9 382.1h.85v.85h-.85zM57.1 388.3h.85v.85h-.85zM57.3 385.6h.85v.85h-.85zM54.5 385.7h.85v.85h-.85zM49.9 389.4h.85v.85h-.85zM53.7 382.3h.85v.85h-.85zM52.4 383.5h.85v.85h-.85zM58.6 387.1h.85v.85h-.85zM50.1 389.0h.85v.85h-.85zM58.7 382.4h.85v.85h-.85zM49.7 384.5h.85v.85h-.85zM52.9 386.6h.85v.85h-.85zM53.9 379.7h.85v.85h-.85zM56.2 380.4h.85v.85h-.85zM58.7 380.7h.85v.85h-.85zM52.7 383.3h.85v.85h-.85zM53.2 389.2h.85v.85h-.85zM58.5 385.8h.85v.85h-.85zM56.5 380.3h.85v.85h-.85zM53.3 384.0h.85v.85h-.85zM51.6 387.5h.85v.85h-.85zM52.5 383.8h.85v.85h-.85zM51.3 380.3h.85v.85h-.85zM57.6 388.1h.85v.85h-.85zM56.0 382.1h.85v.85h-.85zM45.0 388.3h.85v.85h-.85zM59.9 384.6h.85v.85h-.85zM58.8 388.2h.85v.85h-.85zM59.6 382.6h.85v.85h-.85zM59.3 386.1h.85v.85h-.85zM49.5 385.5h.85v.85h-.85zM49.9 386.2h.85v.85h-.85zM57.5 381.4h.85v.85h-.85zM56.7 388.7h.85v.85h-.85zM50.3 389.4h.85v.85h-.85zM63.2 388.5h.85v.85h-.85zM54.5 386.0h.85v.85h-.85zM54.7 388.0h.85v.85h-.85zM59.2 384.2h.85v.85h-.85zM50.1 388.5h.85v.85h-.85zM53.5 387.3h.85v.85h-.85zM56.3 389.3h.85v.85h-.85zM59.6 382.5h.85v.85h-.85zM56.6 389.6h.85v.85h-.85zM53.3 386.8h.85v.85h-.85zM59.8 387.3h.85v.85h-.85zM57.3 380.7h.85v.85h-.85zM50.5 387.0h.85v.85h-.85zM52.0 389.1h.85v.85h-.85zM58.2 379.5h.85v.85h-.85zM52.2 386.3h.85v.85h-.85zM53.4 385.1h.85v.85h-.85zM57.1 382.2h.85v.85h-.85zM57.1 382.7h.85v.85h-.85zM53.2 387.1h.85v.85h-.85zM53.1 386.4h.85v.85h-.85zM61.4 383.4h.85v.85h-.85zM54.7 387.2h.85v.85h-.85zM53.9 388.4h.85v.85h-.85zM50.4 388.1h.85v.85h-.85zM53.4 383.3h.85v.85h-.85zM62.0 380.8h.85v.85h-.85zM62.0 385.0h.85v.85h-.85zM60.8 380.7h.85v.85h-.85zM59.9 387.8h.85v.85h-.85zM54.9 384.8h.85v.85h-.85zM64.6 382.9h.85v.85h-.85zM53.7 383.7h.85v.85h-.85zM57.0 385.5h.85v.85h-.85zM56.0 389.7h.85v.85h-.85zM54.1 386.7h.85v.85h-.85zM60.8 380.6h.85v.85h-.85zM59.2 389.1h.85v.85h-.85zM50.2 383.3h.85v.85h-.85zM51.4 380.9h.85v.85h-.85zM57.0 379.3h.85v.85h-.85zM57.2 388.6h.85v.85h-.85zM49.2 385.8h.85v.85h-.85zM48.0 389.2h.85v.85h-.85zM52.5 385.0h.85v.85h-.85zM55.5 386.5h.85v.85h-.85zM54.0 385.4h.85v.85h-.85zM53.2 385.9h.85v.85h-.85zM50.8 386.4h.85v.85h-.85zM48.0 385.7h.85v.85h-.85zM62.6 383.2h.85v.85h-.85zM50.5 387.0h.85v.85h-.85zM51.6 381.4h.85v.85h-.85zM52.5 387.8h.85v.85h-.85zM56.8 384.3h.85v.85h-.85zM51.8 382.9h.85v.85h-.85zM60.4 384.3h.85v.85h-.85zM51.7 380.1h.85v.85h-.85zM50.9 386.0h.85v.85h-.85zM56.1 384.3h.85v.85h-.85zM54.2 381.4h.85v.85h-.85zM52.4 388.2h.85v.85h-.85zM48.9 386.0h.85v.85h-.85zM56.3 387.6h.85v.85h-.85zM51.0 387.9h.85v.85h-.85zM56.8 382.5h.85v.85h-.85zM57.1 382.0h.85v.85h-.85zM52.3 385.8h.85v.85h-.85zM45.0 387.5h.85v.85h-.85zM51.5 381.9h.85v.85h-.85zM53.7 387.6h.85v.85h-.85zM53.8 389.0h.85v.85h-.85zM50.9 382.5h.85v.85h-.85zM61.2 384.5h.85v.85h-.85zM58.9 381.7h.85v.85h-.85zM58.4 384.9h.85v.85h-.85zM57.8 384.4h.85v.85h-.85zM59.9 381.9h.85v.85h-.85zM51.6 381.9h.85v.85h-.85zM59.7 381.7h.85v.85h-.85zM51.3 383.5h.85v.85h-.85zM53.6 381.9h.85v.85h-.85zM54.2 383.5h.85v.85h-.85zM53.2 382.9h.85v.85h-.85zM55.4 383.7h.85v.85h-.85zM55.7 385.6h.85v.85h-.85zM56.6 378.5h.85v.85h-.85zM53.3 383.3h.85v.85h-.85zM58.2 379.8h.85v.85h-.85zM52.6 384.9h.85v.85h-.85zM54.0 388.1h.85v.85h-.85zM53.6 388.2h.85v.85h-.85zM49.7 381.4h.85v.85h-.85zM59.9 384.9h.85v.85h-.85zM57.2 384.8h.85v.85h-.85zM57.1 381.1h.85v.85h-.85zM58.9 382.5h.85v.85h-.85zM59.0 384.2h.85v.85h-.85zM47.8 383.5h.85v.85h-.85zM59.6 383.4h.85v.85h-.85zM53.8 386.1h.85v.85h-.85zM53.7 383.9h.85v.85h-.85z" fill="#3f86c2" fill-opacity="0.6"/>
<path d="M66.0 369.5h.85v.85h-.85zM68.1 366.3h.85v.85h-.85zM68.6 371.7h.85v.85h-.85zM68.4 369.4h.85v.85h-.85zM66.0 369.4h.85v.85h-.85zM65.6 366.9h.85v.85h-.85zM65.7 367.1h.85v.85h-.85zM68.3 367.7h.85v.85h-.85zM65.1 363.3h.85v.85h-.85zM65.7 367.8h.85v.85h-.85zM64.2 367.4h.85v.85h-.85zM62.4 375.8h.85v.85h-.85zM65.7 378.5h.85v.85h-.85zM65.8 368.7h.85v.85h-.85zM68.0 366.7h.85v.85h-.85zM66.1 367.5h.85v.85h-.85zM64.9 375.8h.85v.85h-.85zM67.3 373.2h.85v.85h-.85zM65.3 370.0h.85v.85h-.85zM64.5 374.4h.85v.85h-.85zM63.7 374.1h.85v.85h-.85zM67.4 372.0h.85v.85h-.85zM64.4 375.0h.85v.85h-.85zM64.7 368.0h.85v.85h-.85zM63.8 376.0h.85v.85h-.85zM68.3 363.7h.85v.85h-.85zM64.7 369.6h.85v.85h-.85zM69.6 367.6h.85v.85h-.85zM65.0 363.9h.85v.85h-.85zM64.8 374.8h.85v.85h-.85zM68.6 364.4h.85v.85h-.85zM64.8 368.8h.85v.85h-.85zM63.0 376.3h.85v.85h-.85zM64.2 375.2h.85v.85h-.85zM63.2 368.2h.85v.85h-.85zM66.2 365.9h.85v.85h-.85zM67.0 367.6h.85v.85h-.85zM64.0 373.8h.85v.85h-.85zM67.1 360.7h.85v.85h-.85zM68.5 367.2h.85v.85h-.85zM66.9 361.0h.85v.85h-.85zM64.7 369.4h.85v.85h-.85zM67.4 361.8h.85v.85h-.85zM64.5 363.8h.85v.85h-.85zM65.4 370.9h.85v.85h-.85zM63.3 370.6h.85v.85h-.85zM66.6 373.8h.85v.85h-.85zM66.8 366.8h.85v.85h-.85zM64.0 368.3h.85v.85h-.85zM64.8 371.1h.85v.85h-.85zM65.7 375.2h.85v.85h-.85zM66.2 364.8h.85v.85h-.85zM68.1 369.4h.85v.85h-.85zM66.0 366.4h.85v.85h-.85zM63.0 369.4h.85v.85h-.85zM67.2 364.5h.85v.85h-.85zM63.8 372.6h.85v.85h-.85zM66.2 370.9h.85v.85h-.85zM66.8 372.9h.85v.85h-.85zM64.5 374.4h.85v.85h-.85zM64.3 373.7h.85v.85h-.85zM66.1 369.7h.85v.85h-.85zM67.3 367.2h.85v.85h-.85zM67.5 370.0h.85v.85h-.85zM66.0 366.9h.85v.85h-.85zM64.7 368.9h.85v.85h-.85zM65.5 369.5h.85v.85h-.85zM70.3 365.4h.85v.85h-.85zM67.0 364.6h.85v.85h-.85zM64.7 369.5h.85v.85h-.85zM66.1 365.1h.85v.85h-.85zM68.2 363.9h.85v.85h-.85zM67.4 358.7h.85v.85h-.85zM65.8 370.2h.85v.85h-.85zM66.1 370.9h.85v.85h-.85zM66.2 369.2h.85v.85h-.85zM63.0 370.5h.85v.85h-.85zM62.3 376.2h.85v.85h-.85zM66.3 367.9h.85v.85h-.85zM64.6 368.8h.85v.85h-.85zM68.6 371.6h.85v.85h-.85zM65.7 373.9h.85v.85h-.85zM63.4 365.6h.85v.85h-.85zM65.1 367.1h.85v.85h-.85zM65.0 371.0h.85v.85h-.85zM70.3 360.7h.85v.85h-.85zM65.9 370.1h.85v.85h-.85zM65.7 372.6h.85v.85h-.85zM68.5 361.1h.85v.85h-.85zM66.0 367.9h.85v.85h-.85zM66.3 363.0h.85v.85h-.85zM63.2 364.6h.85v.85h-.85zM66.6 368.8h.85v.85h-.85zM65.9 360.6h.85v.85h-.85zM65.2 367.3h.85v.85h-.85zM63.7 368.8h.85v.85h-.85zM66.8 369.7h.85v.85h-.85zM65.8 371.1h.85v.85h-.85zM64.9 370.7h.85v.85h-.85zM65.9 371.1h.85v.85h-.85zM65.7 368.8h.85v.85h-.85zM65.6 367.2h.85v.85h-.85zM69.2 366.4h.85v.85h-.85zM66.4 376.5h.85v.85h-.85zM67.9 360.8h.85v.85h-.85zM66.8 370.7h.85v.85h-.85zM68.6 370.0h.85v.85h-.85zM67.0 363.4h.85v.85h-.85zM64.5 371.9h.85v.85h-.85zM66.6 364.5h.85v.85h-.85zM65.2 368.6h.85v.85h-.85zM65.9 370.3h.85v.85h-.85zM65.4 365.4h.85v.85h-.85zM67.7 372.3h.85v.85h-.85zM65.6 373.1h.85v.85h-.85zM66.5 370.6h.85v.85h-.85zM66.5 365.5h.85v.85h-.85zM66.7 371.6h.85v.85h-.85zM64.5 378.0h.85v.85h-.85zM68.9 371.4h.85v.85h-.85zM68.8 367.8h.85v.85h-.85zM65.3 367.8h.85v.85h-.85zM64.6 371.3h.85v.85h-.85zM65.8 371.6h.85v.85h-.85zM62.8 381.6h.85v.85h-.85zM69.2 364.4h.85v.85h-.85zM66.8 369.5h.85v.85h-.85zM66.2 367.9h.85v.85h-.85zM65.6 366.5h.85v.85h-.85zM66.1 368.7h.85v.85h-.85zM66.3 365.5h.85v.85h-.85zM65.9 369.3h.85v.85h-.85zM66.7 364.2h.85v.85h-.85zM66.4 371.8h.85v.85h-.85zM66.7 366.7h.85v.85h-.85zM65.1 369.4h.85v.85h-.85zM66.9 373.2h.85v.85h-.85zM65.6 367.2h.85v.85h-.85zM66.4 369.2h.85v.85h-.85zM64.4 368.4h.85v.85h-.85zM65.6 371.8h.85v.85h-.85zM64.0 368.0h.85v.85h-.85zM66.5 363.8h.85v.85h-.85zM66.0 370.2h.85v.85h-.85zM65.6 365.8h.85v.85h-.85zM65.7 368.1h.85v.85h-.85zM66.3 365.5h.85v.85h-.85zM67.4 361.0h.85v.85h-.85zM65.5 369.6h.85v.85h-.85zM67.2 365.1h.85v.85h-.85zM66.6 366.1h.85v.85h-.85zM66.9 373.9h.85v.85h-.85zM65.2 371.6h.85v.85h-.85zM64.4 374.6h.85v.85h-.85zM67.6 366.8h.85v.85h-.85zM64.1 373.0h.85v.85h-.85zM67.5 370.7h.85v.85h-.85zM67.0 361.0h.85v.85h-.85zM64.8 375.6h.85v.85h-.85zM64.0 375.7h.85v.85h-.85zM68.6 368.0h.85v.85h-.85zM67.5 365.7h.85v.85h-.85zM64.0 371.3h.85v.85h-.85zM65.5 369.4h.85v.85h-.85zM66.8 367.3h.85v.85h-.85zM66.1 370.3h.85v.85h-.85zM65.8 375.8h.85v.85h-.85zM66.5 368.6h.85v.85h-.85zM65.5 367.4h.85v.85h-.85zM67.8 367.0h.85v.85h-.85zM64.2 369.4h.85v.85h-.85zM65.6 367.9h.85v.85h-.85zM67.4 362.9h.85v.85h-.85zM66.5 368.7h.85v.85h-.85zM64.0 371.8h.85v.85h-.85zM65.7 371.2h.85v.85h-.85zM65.1 371.2h.85v.85h-.85zM63.3 368.8h.85v.85h-.85zM67.0 371.3h.85v.85h-.85zM65.8 367.1h.85v.85h-.85zM67.4 359.6h.85v.85h-.85zM64.6 373.2h.85v.85h-.85zM66.8 364.2h.85v.85h-.85zM63.0 378.2h.85v.85h-.85zM66.0 365.7h.85v.85h-.85zM65.9 372.3h.85v.85h-.85zM61.9 378.5h.85v.85h-.85zM66.9 360.3h.85v.85h-.85zM67.0 361.3h.85v.85h-.85zM67.5 368.3h.85v.85h-.85zM69.2 362.4h.85v.85h-.85zM65.8 372.9h.85v.85h-.85zM64.8 368.0h.85v.85h-.85zM65.2 369.7h.85v.85h-.85zM64.2 373.1h.85v.85h-.85zM66.6 368.3h.85v.85h-.85zM68.4 364.6h.85v.85h-.85zM67.8 364.6h.85v.85h-.85zM66.9 360.8h.85v.85h-.85zM66.1 368.2h.85v.85h-.85zM65.1 368.0h.85v.85h-.85zM65.3 367.4h.85v.85h-.85zM62.5 371.6h.85v.85h-.85zM65.0 368.5h.85v.85h-.85zM64.2 370.9h.85v.85h-.85zM67.0 366.7h.85v.85h-.85zM65.1 375.0h.85v.85h-.85zM67.3 370.5h.85v.85h-.85zM67.5 365.7h.85v.85h-.85zM65.6 373.4h.85v.85h-.85zM65.0 369.9h.85v.85h-.85zM66.4 369.7h.85v.85h-.85zM65.4 373.3h.85v.85h-.85zM65.5 372.1h.85v.85h-.85zM67.4 369.3h.85v.85h-.85zM66.9 363.6h.85v.85h-.85zM63.8 369.7h.85v.85h-.85zM66.5 373.6h.85v.85h-.85zM64.0 372.8h.85v.85h-.85zM64.5 368.4h.85v.85h-.85zM65.4 372.2h.85v.85h-.85zM66.1 373.0h.85v.85h-.85zM64.3 374.4h.85v.85h-.85zM67.2 367.5h.85v.85h-.85zM66.5 366.2h.85v.85h-.85zM64.2 370.0h.85v.85h-.85zM64.8 380.8h.85v.85h-.85zM65.1 376.1h.85v.85h-.85zM66.1 369.9h.85v.85h-.85zM66.9 364.9h.85v.85h-.85zM67.2 368.7h.85v.85h-.85zM63.5 374.4h.85v.85h-.85zM66.6 369.7h.85v.85h-.85zM68.2 364.5h.85v.85h-.85zM66.6 370.8h.85v.85h-.85zM64.4 375.3h.85v.85h-.85zM63.6 367.6h.85v.85h-.85zM66.6 364.3h.85v.85h-.85zM65.6 363.6h.85v.85h-.85zM65.9 365.0h.85v.85h-.85zM66.3 363.1h.85v.85h-.85zM66.5 367.3h.85v.85h-.85zM65.9 368.8h.85v.85h-.85zM66.0 364.2h.85v.85h-.85zM62.0 374.6h.85v.85h-.85zM64.4 369.5h.85v.85h-.85zM66.4 361.3h.85v.85h-.85zM64.7 368.6h.85v.85h-.85zM64.2 372.5h.85v.85h-.85zM65.6 366.6h.85v.85h-.85zM64.3 374.1h.85v.85h-.85zM64.8 372.6h.85v.85h-.85zM66.5 361.6h.85v.85h-.85zM64.2 371.4h.85v.85h-.85zM66.3 371.3h.85v.85h-.85zM67.0 371.2h.85v.85h-.85zM65.2 369.2h.85v.85h-.85zM67.0 366.1h.85v.85h-.85zM67.4 361.4h.85v.85h-.85zM66.8 367.2h.85v.85h-.85zM62.8 376.7h.85v.85h-.85zM66.3 368.6h.85v.85h-.85zM64.2 369.8h.85v.85h-.85zM68.1 363.2h.85v.85h-.85zM60.6 373.3h.85v.85h-.85zM64.0 371.2h.85v.85h-.85zM65.2 366.8h.85v.85h-.85zM64.5 374.6h.85v.85h-.85zM63.6 379.1h.85v.85h-.85zM65.0 366.4h.85v.85h-.85zM67.0 369.6h.85v.85h-.85zM64.2 374.0h.85v.85h-.85zM63.0 369.7h.85v.85h-.85zM67.5 366.0h.85v.85h-.85zM63.8 373.7h.85v.85h-.85zM67.2 367.2h.85v.85h-.85zM63.1 371.7h.85v.85h-.85zM66.4 371.1h.85v.85h-.85zM68.6 364.5h.85v.85h-.85zM65.1 370.1h.85v.85h-.85zM67.6 363.4h.85v.85h-.85zM67.8 356.8h.85v.85h-.85zM67.0 365.2h.85v.85h-.85zM66.5 370.7h.85v.85h-.85zM64.0 371.3h.85v.85h-.85zM66.2 370.8h.85v.85h-.85zM64.4 367.6h.85v.85h-.85zM62.9 382.2h.85v.85h-.85zM65.5 368.8h.85v.85h-.85zM63.6 375.6h.85v.85h-.85zM65.0 375.4h.85v.85h-.85zM67.1 367.5h.85v.85h-.85zM66.9 363.8h.85v.85h-.85zM65.3 367.8h.85v.85h-.85zM63.9 371.9h.85v.85h-.85zM65.6 374.6h.85v.85h-.85zM60.8 373.7h.85v.85h-.85zM64.4 369.4h.85v.85h-.85zM66.4 369.8h.85v.85h-.85zM65.8 367.5h.85v.85h-.85zM66.5 369.5h.85v.85h-.85zM63.0 372.0h.85v.85h-.85zM63.7 367.8h.85v.85h-.85zM66.0 369.1h.85v.85h-.85zM66.0 365.9h.85v.85h-.85zM65.5 366.4h.85v.85h-.85zM66.4 370.9h.85v.85h-.85zM68.4 370.1h.85v.85h-.85zM64.6 369.2h.85v.85h-.85zM64.4 372.2h.85v.85h-.85zM68.8 367.7h.85v.85h-.85zM62.5 369.2h.85v.85h-.85zM63.9 373.7h.85v.85h-.85zM65.8 370.3h.85v.85h-.85zM68.5 362.6h.85v.85h-.85zM64.5 377.9h.85v.85h-.85zM66.3 365.7h.85v.85h-.85zM62.8 367.9h.85v.85h-.85zM62.1 374.5h.85v.85h-.85zM65.9 372.6h.85v.85h-.85zM65.6 367.0h.85v.85h-.85zM64.7 377.5h.85v.85h-.85zM63.2 373.4h.85v.85h-.85zM65.8 371.3h.85v.85h-.85zM65.2 371.8h.85v.85h-.85zM67.0 367.0h.85v.85h-.85zM65.1 369.5h.85v.85h-.85zM64.4 370.4h.85v.85h-.85zM65.3 370.6h.85v.85h-.85zM67.8 371.1h.85v.85h-.85zM65.1 372.3h.85v.85h-.85zM66.2 371.3h.85v.85h-.85zM65.8 370.1h.85v.85h-.85zM65.1 367.4h.85v.85h-.85zM67.1 372.0h.85v.85h-.85zM66.8 369.4h.85v.85h-.85zM66.2 367.1h.85v.85h-.85zM63.1 375.2h.85v.85h-.85zM66.1 366.8h.85v.85h-.85zM64.4 375.7h.85v.85h-.85zM63.1 379.2h.85v.85h-.85zM66.8 376.3h.85v.85h-.85zM64.7 370.6h.85v.85h-.85zM65.0 370.8h.85v.85h-.85zM65.5 367.0h.85v.85h-.85zM67.4 364.2h.85v.85h-.85zM65.0 372.2h.85v.85h-.85zM65.0 368.8h.85v.85h-.85zM66.3 367.2h.85v.85h-.85zM63.9 371.4h.85v.85h-.85zM65.5 375.7h.85v.85h-.85zM64.2 374.9h.85v.85h-.85zM64.6 369.5h.85v.85h-.85zM65.3 370.8h.85v.85h-.85zM67.1 373.6h.85v.85h-.85zM64.8 375.2h.85v.85h-.85zM67.3 370.0h.85v.85h-.85zM64.7 374.0h.85v.85h-.85zM65.6 370.7h.85v.85h-.85zM65.4 372.1h.85v.85h-.85zM67.5 370.9h.85v.85h-.85zM65.5 373.2h.85v.85h-.85zM68.0 362.9h.85v.85h-.85zM68.0 361.4h.85v.85h-.85zM66.6 370.2h.85v.85h-.85zM68.0 367.1h.85v.85h-.85zM65.1 367.4h.85v.85h-.85zM63.9 374.5h.85v.85h-.85zM65.4 367.1h.85v.85h-.85zM66.6 365.4h.85v.85h-.85zM65.1 368.5h.85v.85h-.85zM68.3 371.0h.85v.85h-.85zM65.6 363.9h.85v.85h-.85zM66.2 368.9h.85v.85h-.85zM66.3 370.5h.85v.85h-.85zM65.3 373.1h.85v.85h-.85zM67.1 368.2h.85v.85h-.85zM65.2 368.3h.85v.85h-.85zM66.8 363.9h.85v.85h-.85zM65.6 366.9h.85v.85h-.85zM63.7 374.2h.85v.85h-.85zM65.8 369.4h.85v.85h-.85zM67.1 362.1h.85v.85h-.85zM65.7 370.4h.85v.85h-.85zM67.0 363.6h.85v.85h-.85zM66.9 368.5h.85v.85h-.85zM67.8 370.5h.85v.85h-.85zM66.6 375.7h.85v.85h-.85zM65.8 367.7h.85v.85h-.85zM65.3 366.6h.85v.85h-.85zM65.8 362.6h.85v.85h-.85zM65.7 370.9h.85v.85h-.85zM67.3 365.9h.85v.85h-.85zM67.9 364.0h.85v.85h-.85zM65.6 362.8h.85v.85h-.85zM64.7 368.0h.85v.85h-.85zM68.0 368.0h.85v.85h-.85zM64.2 373.3h.85v.85h-.85zM66.5 367.4h.85v.85h-.85zM65.8 368.1h.85v.85h-.85zM65.0 364.1h.85v.85h-.85zM65.7 373.8h.85v.85h-.85zM67.9 365.4h.85v.85h-.85zM64.7 370.0h.85v.85h-.85zM67.1 368.6h.85v.85h-.85zM64.9 371.6h.85v.85h-.85zM65.5 371.4h.85v.85h-.85zM65.2 364.9h.85v.85h-.85zM65.9 371.7h.85v.85h-.85zM64.2 371.0h.85v.85h-.85zM67.1 366.1h.85v.85h-.85zM64.8 377.5h.85v.85h-.85zM67.0 371.1h.85v.85h-.85zM64.4 376.7h.85v.85h-.85zM63.4 370.7h.85v.85h-.85zM66.9 372.3h.85v.85h-.85zM64.4 368.8h.85v.85h-.85zM66.1 362.1h.85v.85h-.85zM66.7 369.9h.85v.85h-.85zM65.1 371.9h.85v.85h-.85zM66.9 368.7h.85v.85h-.85zM66.6 373.4h.85v.85h-.85zM65.1 370.7h.85v.85h-.85zM65.0 373.8h.85v.85h-.85zM65.2 371.6h.85v.85h-.85zM66.0 369.2h.85v.85h-.85zM68.3 365.5h.85v.85h-.85zM67.9 369.2h.85v.85h-.85zM67.7 366.0h.85v.85h-.85zM67.1 370.0h.85v.85h-.85zM64.9 371.3h.85v.85h-.85zM65.6 369.3h.85v.85h-.85zM67.7 364.1h.85v.85h-.85zM63.4 366.6h.85v.85h-.85zM65.1 367.9h.85v.85h-.85zM65.8 371.1h.85v.85h-.85zM68.3 366.8h.85v.85h-.85zM66.5 365.8h.85v.85h-.85zM66.6 372.7h.85v.85h-.85zM67.7 359.9h.85v.85h-.85zM67.1 372.9h.85v.85h-.85zM67.0 362.4h.85v.85h-.85zM65.4 371.8h.85v.85h-.85zM66.4 365.6h.85v.85h-.85zM64.5 374.3h.85v.85h-.85zM63.9 376.7h.85v.85h-.85zM65.8 370.2h.85v.85h-.85zM63.9 369.8h.85v.85h-.85zM66.8 362.8h.85v.85h-.85zM68.8 360.3h.85v.85h-.85zM64.0 371.8h.85v.85h-.85zM66.5 370.8h.85v.85h-.85zM65.3 369.2h.85v.85h-.85zM65.5 367.7h.85v.85h-.85zM62.1 377.6h.85v.85h-.85zM66.2 369.2h.85v.85h-.85zM64.9 371.3h.85v.85h-.85zM65.8 369.0h.85v.85h-.85zM67.4 361.1h.85v.85h-.85zM66.2 365.1h.85v.85h-.85zM65.3 374.9h.85v.85h-.85zM64.2 371.0h.85v.85h-.85zM64.9 373.6h.85v.85h-.85zM64.4 365.4h.85v.85h-.85zM66.5 367.0h.85v.85h-.85zM65.3 373.5h.85v.85h-.85zM64.5 369.7h.85v.85h-.85zM66.0 370.3h.85v.85h-.85zM65.1 373.7h.85v.85h-.85zM69.0 363.4h.85v.85h-.85zM68.5 358.3h.85v.85h-.85zM67.8 365.3h.85v.85h-.85zM66.0 367.8h.85v.85h-.85zM64.9 366.1h.85v.85h-.85zM65.2 374.4h.85v.85h-.85zM67.4 365.8h.85v.85h-.85zM65.0 367.8h.85v.85h-.85zM64.1 377.7h.85v.85h-.85zM66.8 368.3h.85v.85h-.85zM65.1 366.7h.85v.85h-.85z" fill="#2f86c6" fill-opacity="0.72"/>
<rect x="60.2" y="358.2" width="16.6" height="21.6" fill="none" stroke="#8e1a36" stroke-width="1.6"/>
<text x="82.2" y="356" font-size="7.6" text-anchor="end" font-weight="bold" fill="#000" transform="translate(82.2 356) scale(1 1.1) translate(-82.2 -356)">7.7</text>
<rect x="90" y="347.5" width="49.5" height="43.8" fill="#fff" stroke="#a8a8a8" stroke-width="0.8"/>
<path d="M112.7 378.8h.85v.85h-.85zM98.6 389.8h.85v.85h-.85zM97.6 388.5h.85v.85h-.85zM98.5 381.8h.85v.85h-.85zM107.6 380.4h.85v.85h-.85zM110.8 370.8h.85v.85h-.85zM114.4 380.9h.85v.85h-.85zM104.4 382.7h.85v.85h-.85zM99.6 382.5h.85v.85h-.85zM96.3 386.2h.85v.85h-.85zM105.7 386.9h.85v.85h-.85zM110.4 380.6h.85v.85h-.85zM102.2 380.3h.85v.85h-.85zM102.4 382.8h.85v.85h-.85zM94.7 383.8h.85v.85h-.85zM104.6 376.9h.85v.85h-.85zM114.9 372.3h.85v.85h-.85zM114.3 380.0h.85v.85h-.85zM101.4 384.5h.85v.85h-.85zM112.6 372.5h.85v.85h-.85zM105.1 376.4h.85v.85h-.85zM104.9 377.7h.85v.85h-.85zM105.0 385.4h.85v.85h-.85zM113.2 374.7h.85v.85h-.85zM105.8 384.1h.85v.85h-.85zM102.7 375.2h.85v.85h-.85zM111.4 369.8h.85v.85h-.85zM110.3 370.4h.85v.85h-.85zM115.9 366.1h.85v.85h-.85zM109.8 385.0h.85v.85h-.85zM99.4 373.4h.85v.85h-.85zM109.0 380.9h.85v.85h-.85zM103.2 366.3h.85v.85h-.85zM104.2 378.5h.85v.85h-.85zM102.1 380.0h.85v.85h-.85zM93.3 384.5h.85v.85h-.85zM115.7 381.1h.85v.85h-.85zM102.2 377.5h.85v.85h-.85zM107.0 384.4h.85v.85h-.85zM109.0 370.1h.85v.85h-.85zM105.5 380.1h.85v.85h-.85zM113.5 380.7h.85v.85h-.85zM107.8 384.7h.85v.85h-.85zM101.8 384.1h.85v.85h-.85zM110.2 370.8h.85v.85h-.85zM100.1 372.9h.85v.85h-.85zM105.5 379.0h.85v.85h-.85zM102.5 384.3h.85v.85h-.85zM91.3 389.0h.85v.85h-.85zM105.0 378.1h.85v.85h-.85zM109.5 386.7h.85v.85h-.85zM101.7 376.5h.85v.85h-.85zM100.7 383.1h.85v.85h-.85zM108.2 372.5h.85v.85h-.85zM110.7 369.8h.85v.85h-.85zM109.7 378.9h.85v.85h-.85zM102.9 380.2h.85v.85h-.85zM107.5 382.9h.85v.85h-.85zM96.1 387.4h.85v.85h-.85zM99.9 386.8h.85v.85h-.85zM113.0 374.4h.85v.85h-.85zM103.8 381.5h.85v.85h-.85zM108.0 378.5h.85v.85h-.85zM102.0 377.5h.85v.85h-.85zM103.4 387.8h.85v.85h-.85zM103.9 388.2h.85v.85h-.85zM106.2 378.7h.85v.85h-.85zM94.1 383.3h.85v.85h-.85zM112.3 367.2h.85v.85h-.85zM98.3 378.0h.85v.85h-.85zM101.1 386.1h.85v.85h-.85zM108.2 365.7h.85v.85h-.85zM113.6 370.3h.85v.85h-.85zM104.0 373.2h.85v.85h-.85zM100.5 378.6h.85v.85h-.85zM98.2 382.4h.85v.85h-.85zM110.0 378.2h.85v.85h-.85zM98.3 384.9h.85v.85h-.85zM104.7 384.2h.85v.85h-.85zM102.5 384.0h.85v.85h-.85zM117.6 371.5h.85v.85h-.85zM97.7 386.6h.85v.85h-.85zM99.5 381.3h.85v.85h-.85zM105.7 381.1h.85v.85h-.85zM102.7 386.1h.85v.85h-.85zM103.3 373.3h.85v.85h-.85zM110.0 374.1h.85v.85h-.85zM112.1 371.0h.85v.85h-.85zM108.1 379.3h.85v.85h-.85zM111.3 378.1h.85v.85h-.85zM108.7 374.2h.85v.85h-.85zM104.4 381.3h.85v.85h-.85zM107.1 382.3h.85v.85h-.85zM103.2 376.9h.85v.85h-.85zM101.0 384.8h.85v.85h-.85zM94.1 380.0h.85v.85h-.85zM101.9 378.6h.85v.85h-.85zM102.8 365.8h.85v.85h-.85zM102.4 380.0h.85v.85h-.85zM109.3 365.2h.85v.85h-.85zM102.6 384.1h.85v.85h-.85zM107.6 384.8h.85v.85h-.85zM111.1 369.4h.85v.85h-.85zM108.5 375.3h.85v.85h-.85zM100.6 377.8h.85v.85h-.85zM102.0 376.8h.85v.85h-.85zM110.8 377.8h.85v.85h-.85zM113.3 376.3h.85v.85h-.85zM100.7 388.7h.85v.85h-.85zM100.4 380.2h.85v.85h-.85zM103.5 381.0h.85v.85h-.85zM112.0 371.3h.85v.85h-.85zM106.7 378.3h.85v.85h-.85zM96.6 379.1h.85v.85h-.85zM103.1 383.3h.85v.85h-.85zM106.5 381.4h.85v.85h-.85zM104.8 377.2h.85v.85h-.85zM107.2 372.4h.85v.85h-.85zM96.1 383.9h.85v.85h-.85zM95.5 383.2h.85v.85h-.85zM99.8 380.0h.85v.85h-.85zM104.2 375.6h.85v.85h-.85zM101.9 371.9h.85v.85h-.85zM105.4 374.3h.85v.85h-.85zM107.0 361.9h.85v.85h-.85zM99.5 384.9h.85v.85h-.85zM105.1 380.2h.85v.85h-.85zM95.1 387.8h.85v.85h-.85zM105.4 373.7h.85v.85h-.85zM109.2 376.5h.85v.85h-.85zM104.6 377.3h.85v.85h-.85zM107.9 378.2h.85v.85h-.85zM111.6 377.7h.85v.85h-.85zM100.6 381.4h.85v.85h-.85zM110.3 373.9h.85v.85h-.85zM106.9 381.4h.85v.85h-.85zM103.4 367.3h.85v.85h-.85zM105.3 380.7h.85v.85h-.85zM105.4 375.0h.85v.85h-.85zM112.1 374.0h.85v.85h-.85zM100.6 378.6h.85v.85h-.85zM106.8 372.1h.85v.85h-.85zM112.7 380.4h.85v.85h-.85zM113.1 377.5h.85v.85h-.85zM112.3 377.5h.85v.85h-.85zM113.1 371.2h.85v.85h-.85zM105.3 384.0h.85v.85h-.85zM104.0 386.8h.85v.85h-.85zM105.0 383.7h.85v.85h-.85zM105.0 371.0h.85v.85h-.85zM106.3 386.4h.85v.85h-.85zM111.7 385.0h.85v.85h-.85zM108.0 374.1h.85v.85h-.85zM104.6 368.8h.85v.85h-.85zM103.3 386.1h.85v.85h-.85zM109.7 384.1h.85v.85h-.85zM98.7 380.2h.85v.85h-.85zM92.7 382.3h.85v.85h-.85zM107.9 389.7h.85v.85h-.85zM107.2 375.3h.85v.85h-.85zM118.3 355.7h.85v.85h-.85zM104.1 381.6h.85v.85h-.85zM117.9 381.2h.85v.85h-.85zM118.8 370.9h.85v.85h-.85zM110.7 383.7h.85v.85h-.85zM107.7 379.9h.85v.85h-.85zM103.3 378.4h.85v.85h-.85zM101.7 369.8h.85v.85h-.85zM106.2 378.6h.85v.85h-.85zM105.6 389.8h.85v.85h-.85zM103.8 378.9h.85v.85h-.85zM99.8 383.1h.85v.85h-.85zM101.7 383.1h.85v.85h-.85zM124.2 368.6h.85v.85h-.85zM110.0 381.0h.85v.85h-.85zM109.0 381.7h.85v.85h-.85zM108.8 385.3h.85v.85h-.85zM110.9 383.5h.85v.85h-.85zM101.3 382.2h.85v.85h-.85zM99.9 388.8h.85v.85h-.85zM109.8 373.6h.85v.85h-.85zM112.3 368.1h.85v.85h-.85zM103.9 384.1h.85v.85h-.85zM104.3 382.4h.85v.85h-.85zM112.0 376.7h.85v.85h-.85zM97.6 389.0h.85v.85h-.85zM103.9 381.1h.85v.85h-.85zM100.9 374.4h.85v.85h-.85zM96.6 383.4h.85v.85h-.85zM97.7 368.8h.85v.85h-.85zM111.8 368.2h.85v.85h-.85zM99.9 386.3h.85v.85h-.85zM99.6 387.2h.85v.85h-.85zM101.5 383.9h.85v.85h-.85zM105.2 379.5h.85v.85h-.85zM92.9 379.4h.85v.85h-.85zM104.2 388.4h.85v.85h-.85zM101.0 385.5h.85v.85h-.85zM105.5 382.1h.85v.85h-.85zM110.8 366.9h.85v.85h-.85zM106.2 377.8h.85v.85h-.85zM102.5 376.4h.85v.85h-.85zM99.5 377.4h.85v.85h-.85zM115.3 372.6h.85v.85h-.85zM109.2 371.0h.85v.85h-.85zM105.4 387.8h.85v.85h-.85zM104.2 374.3h.85v.85h-.85zM103.0 375.2h.85v.85h-.85zM95.7 384.8h.85v.85h-.85zM102.0 377.0h.85v.85h-.85zM98.9 378.4h.85v.85h-.85zM106.0 387.1h.85v.85h-.85zM94.3 388.7h.85v.85h-.85zM97.2 384.1h.85v.85h-.85zM105.1 382.8h.85v.85h-.85zM111.7 371.8h.85v.85h-.85zM96.6 384.3h.85v.85h-.85zM106.4 374.6h.85v.85h-.85zM110.2 385.9h.85v.85h-.85zM95.5 388.4h.85v.85h-.85zM110.9 364.3h.85v.85h-.85zM105.8 377.8h.85v.85h-.85zM105.9 376.2h.85v.85h-.85zM107.3 381.8h.85v.85h-.85zM109.4 380.0h.85v.85h-.85zM107.1 371.3h.85v.85h-.85zM101.8 382.6h.85v.85h-.85zM102.1 375.5h.85v.85h-.85zM93.0 389.4h.85v.85h-.85zM104.7 376.4h.85v.85h-.85zM101.9 376.6h.85v.85h-.85zM99.8 382.7h.85v.85h-.85zM100.4 386.8h.85v.85h-.85zM103.6 381.4h.85v.85h-.85zM107.1 385.7h.85v.85h-.85zM108.3 378.7h.85v.85h-.85zM103.5 376.0h.85v.85h-.85zM102.3 385.5h.85v.85h-.85zM105.9 376.7h.85v.85h-.85zM96.1 376.9h.85v.85h-.85zM106.5 384.6h.85v.85h-.85zM106.9 370.3h.85v.85h-.85zM103.2 382.2h.85v.85h-.85zM98.7 386.1h.85v.85h-.85zM103.2 376.0h.85v.85h-.85zM96.6 390.2h.85v.85h-.85zM106.8 373.2h.85v.85h-.85zM98.1 389.7h.85v.85h-.85zM108.3 375.6h.85v.85h-.85zM114.6 371.3h.85v.85h-.85zM103.3 382.8h.85v.85h-.85zM104.7 374.0h.85v.85h-.85zM97.0 384.1h.85v.85h-.85zM113.4 368.0h.85v.85h-.85zM113.1 375.3h.85v.85h-.85zM97.5 386.4h.85v.85h-.85zM108.1 372.3h.85v.85h-.85zM97.5 387.4h.85v.85h-.85zM92.4 387.5h.85v.85h-.85zM99.4 374.9h.85v.85h-.85zM103.0 382.1h.85v.85h-.85zM101.0 375.5h.85v.85h-.85zM105.8 368.9h.85v.85h-.85zM107.9 380.5h.85v.85h-.85zM115.1 377.8h.85v.85h-.85zM106.7 380.0h.85v.85h-.85zM104.7 372.1h.85v.85h-.85zM113.7 376.7h.85v.85h-.85zM102.7 374.6h.85v.85h-.85zM113.9 376.6h.85v.85h-.85zM97.0 389.1h.85v.85h-.85zM116.5 371.6h.85v.85h-.85zM107.0 375.8h.85v.85h-.85zM100.5 389.0h.85v.85h-.85zM123.9 367.2h.85v.85h-.85zM103.7 385.2h.85v.85h-.85zM102.6 385.6h.85v.85h-.85zM109.7 370.5h.85v.85h-.85zM97.7 384.3h.85v.85h-.85zM109.8 378.0h.85v.85h-.85zM112.3 366.6h.85v.85h-.85zM107.6 374.2h.85v.85h-.85zM105.1 381.4h.85v.85h-.85zM98.4 382.9h.85v.85h-.85zM97.2 386.6h.85v.85h-.85zM99.1 380.8h.85v.85h-.85zM105.9 375.2h.85v.85h-.85zM111.7 371.3h.85v.85h-.85zM109.9 377.9h.85v.85h-.85zM98.0 383.2h.85v.85h-.85zM99.2 381.5h.85v.85h-.85zM107.3 370.4h.85v.85h-.85zM111.0 377.8h.85v.85h-.85zM103.2 379.5h.85v.85h-.85zM106.1 377.1h.85v.85h-.85zM101.1 380.2h.85v.85h-.85zM111.9 371.3h.85v.85h-.85zM106.9 371.7h.85v.85h-.85zM100.0 375.1h.85v.85h-.85zM103.3 384.8h.85v.85h-.85zM106.4 375.8h.85v.85h-.85zM108.3 375.3h.85v.85h-.85zM106.8 380.0h.85v.85h-.85zM107.9 363.3h.85v.85h-.85zM96.3 390.2h.85v.85h-.85zM103.0 377.8h.85v.85h-.85zM113.9 376.7h.85v.85h-.85zM116.4 374.7h.85v.85h-.85zM103.2 385.1h.85v.85h-.85zM99.5 380.8h.85v.85h-.85zM101.0 381.1h.85v.85h-.85zM109.4 373.8h.85v.85h-.85zM106.5 375.7h.85v.85h-.85zM110.1 360.2h.85v.85h-.85zM103.2 381.9h.85v.85h-.85zM105.9 386.5h.85v.85h-.85zM110.5 379.5h.85v.85h-.85zM103.6 374.3h.85v.85h-.85zM103.1 378.3h.85v.85h-.85zM106.1 376.2h.85v.85h-.85zM123.7 357.4h.85v.85h-.85zM111.9 372.2h.85v.85h-.85zM103.0 386.4h.85v.85h-.85zM104.5 373.0h.85v.85h-.85zM107.1 377.1h.85v.85h-.85zM91.6 390.1h.85v.85h-.85zM97.9 380.3h.85v.85h-.85zM107.5 379.6h.85v.85h-.85zM107.1 374.6h.85v.85h-.85zM106.0 378.3h.85v.85h-.85zM103.3 379.2h.85v.85h-.85zM101.0 388.1h.85v.85h-.85zM104.7 389.8h.85v.85h-.85zM109.4 386.1h.85v.85h-.85zM103.8 382.7h.85v.85h-.85zM101.8 380.9h.85v.85h-.85zM93.6 384.1h.85v.85h-.85zM98.5 380.4h.85v.85h-.85zM112.1 376.2h.85v.85h-.85zM112.2 379.6h.85v.85h-.85zM110.3 381.8h.85v.85h-.85zM100.7 387.3h.85v.85h-.85zM102.5 378.3h.85v.85h-.85zM112.0 387.3h.85v.85h-.85zM109.7 371.5h.85v.85h-.85zM106.2 381.0h.85v.85h-.85zM106.9 376.3h.85v.85h-.85zM96.4 385.8h.85v.85h-.85zM109.9 380.8h.85v.85h-.85zM108.6 383.5h.85v.85h-.85zM98.3 384.1h.85v.85h-.85zM106.6 384.3h.85v.85h-.85zM105.5 382.3h.85v.85h-.85zM90.8 389.3h.85v.85h-.85zM120.0 370.6h.85v.85h-.85zM93.0 388.7h.85v.85h-.85zM95.5 382.3h.85v.85h-.85zM105.9 388.9h.85v.85h-.85zM107.4 381.9h.85v.85h-.85zM110.9 376.7h.85v.85h-.85zM99.1 383.1h.85v.85h-.85zM106.6 376.9h.85v.85h-.85zM100.3 380.8h.85v.85h-.85zM95.1 380.6h.85v.85h-.85zM103.9 378.3h.85v.85h-.85zM104.7 387.9h.85v.85h-.85zM106.4 378.5h.85v.85h-.85zM97.2 378.9h.85v.85h-.85zM106.9 373.3h.85v.85h-.85zM107.2 371.9h.85v.85h-.85zM105.3 379.0h.85v.85h-.85zM110.7 373.4h.85v.85h-.85zM102.2 383.0h.85v.85h-.85zM104.8 389.5h.85v.85h-.85zM102.9 378.0h.85v.85h-.85zM102.5 384.1h.85v.85h-.85zM106.0 383.0h.85v.85h-.85zM116.0 371.9h.85v.85h-.85z" fill="#7fa9d0" fill-opacity="0.45"/>
<path d="M102.1 386.6h.85v.85h-.85zM108.0 378.5h.85v.85h-.85zM106.5 381.0h.85v.85h-.85zM108.2 388.3h.85v.85h-.85zM110.3 379.9h.85v.85h-.85zM111.6 386.1h.85v.85h-.85zM105.2 386.7h.85v.85h-.85zM112.0 382.6h.85v.85h-.85zM106.4 383.5h.85v.85h-.85zM110.7 378.0h.85v.85h-.85zM111.7 380.9h.85v.85h-.85zM109.9 379.7h.85v.85h-.85zM103.1 384.3h.85v.85h-.85zM109.5 379.8h.85v.85h-.85zM108.7 382.7h.85v.85h-.85zM111.0 382.9h.85v.85h-.85zM108.3 384.0h.85v.85h-.85zM113.1 382.2h.85v.85h-.85zM106.4 390.4h.85v.85h-.85zM106.8 386.8h.85v.85h-.85zM103.8 386.3h.85v.85h-.85zM98.2 387.6h.85v.85h-.85zM104.1 381.6h.85v.85h-.85zM101.3 389.5h.85v.85h-.85zM108.1 380.5h.85v.85h-.85zM113.1 381.3h.85v.85h-.85zM105.2 386.0h.85v.85h-.85zM102.3 381.8h.85v.85h-.85zM103.8 388.9h.85v.85h-.85zM110.0 379.8h.85v.85h-.85zM110.9 383.9h.85v.85h-.85zM108.3 384.6h.85v.85h-.85zM108.0 381.9h.85v.85h-.85zM103.2 384.0h.85v.85h-.85zM105.2 387.0h.85v.85h-.85zM104.2 384.0h.85v.85h-.85zM109.1 385.5h.85v.85h-.85zM105.3 382.4h.85v.85h-.85zM102.8 381.7h.85v.85h-.85zM110.7 386.8h.85v.85h-.85zM113.3 384.5h.85v.85h-.85zM107.7 386.7h.85v.85h-.85zM110.0 383.3h.85v.85h-.85zM100.3 382.9h.85v.85h-.85zM103.0 388.0h.85v.85h-.85zM110.8 382.9h.85v.85h-.85zM109.0 384.2h.85v.85h-.85zM107.6 383.2h.85v.85h-.85zM106.4 385.0h.85v.85h-.85zM110.6 389.9h.85v.85h-.85zM99.9 388.3h.85v.85h-.85zM106.5 387.6h.85v.85h-.85zM110.4 386.0h.85v.85h-.85zM109.5 381.6h.85v.85h-.85zM110.9 381.2h.85v.85h-.85zM111.2 385.5h.85v.85h-.85zM97.5 389.9h.85v.85h-.85zM102.9 389.2h.85v.85h-.85zM104.0 383.7h.85v.85h-.85zM100.8 386.0h.85v.85h-.85zM110.2 382.2h.85v.85h-.85zM113.3 385.0h.85v.85h-.85zM104.5 382.3h.85v.85h-.85zM100.5 388.2h.85v.85h-.85zM111.3 380.8h.85v.85h-.85zM106.5 384.2h.85v.85h-.85zM105.6 386.6h.85v.85h-.85zM114.2 381.2h.85v.85h-.85zM109.6 387.1h.85v.85h-.85zM105.5 384.9h.85v.85h-.85zM101.6 389.3h.85v.85h-.85zM104.6 383.8h.85v.85h-.85zM106.7 382.6h.85v.85h-.85zM102.7 385.2h.85v.85h-.85zM111.9 382.9h.85v.85h-.85zM108.4 380.5h.85v.85h-.85zM105.0 381.2h.85v.85h-.85zM106.1 386.8h.85v.85h-.85zM100.2 384.4h.85v.85h-.85zM107.5 382.2h.85v.85h-.85zM109.4 386.8h.85v.85h-.85zM108.1 383.4h.85v.85h-.85zM106.3 383.3h.85v.85h-.85zM106.0 386.0h.85v.85h-.85zM105.4 387.9h.85v.85h-.85zM116.0 380.9h.85v.85h-.85zM107.8 386.9h.85v.85h-.85zM108.9 383.7h.85v.85h-.85zM104.7 388.2h.85v.85h-.85zM108.8 385.7h.85v.85h-.85zM103.6 387.5h.85v.85h-.85zM109.4 383.7h.85v.85h-.85zM108.9 390.2h.85v.85h-.85zM99.6 388.6h.85v.85h-.85zM102.2 382.5h.85v.85h-.85zM105.6 386.7h.85v.85h-.85zM106.7 381.8h.85v.85h-.85zM101.2 384.9h.85v.85h-.85zM106.6 382.7h.85v.85h-.85zM103.4 385.4h.85v.85h-.85zM104.5 384.0h.85v.85h-.85zM106.6 384.2h.85v.85h-.85zM108.8 381.2h.85v.85h-.85zM106.2 387.2h.85v.85h-.85zM110.8 385.3h.85v.85h-.85zM106.6 380.7h.85v.85h-.85zM100.6 389.3h.85v.85h-.85zM109.0 385.9h.85v.85h-.85zM100.4 380.9h.85v.85h-.85zM102.6 382.9h.85v.85h-.85zM107.1 382.1h.85v.85h-.85zM112.3 381.7h.85v.85h-.85zM104.4 387.9h.85v.85h-.85zM107.7 382.2h.85v.85h-.85zM109.5 389.4h.85v.85h-.85zM102.0 385.6h.85v.85h-.85zM102.5 380.8h.85v.85h-.85zM108.8 386.3h.85v.85h-.85zM110.1 385.2h.85v.85h-.85zM99.1 387.0h.85v.85h-.85zM104.0 382.5h.85v.85h-.85zM102.4 388.2h.85v.85h-.85zM108.2 379.3h.85v.85h-.85zM109.8 387.5h.85v.85h-.85zM106.6 381.7h.85v.85h-.85zM113.0 379.6h.85v.85h-.85zM106.2 379.9h.85v.85h-.85zM101.9 381.6h.85v.85h-.85zM110.5 387.1h.85v.85h-.85zM105.0 381.7h.85v.85h-.85zM106.3 386.1h.85v.85h-.85zM100.9 383.4h.85v.85h-.85zM106.1 387.0h.85v.85h-.85zM106.8 386.2h.85v.85h-.85zM101.9 379.5h.85v.85h-.85zM107.7 382.2h.85v.85h-.85zM106.0 384.1h.85v.85h-.85zM108.3 382.4h.85v.85h-.85zM111.9 383.6h.85v.85h-.85zM108.5 386.2h.85v.85h-.85zM110.3 385.0h.85v.85h-.85zM100.0 385.1h.85v.85h-.85zM113.4 384.4h.85v.85h-.85zM108.6 385.7h.85v.85h-.85zM104.1 383.8h.85v.85h-.85zM104.1 388.8h.85v.85h-.85zM107.9 389.5h.85v.85h-.85zM108.4 389.7h.85v.85h-.85zM108.2 381.3h.85v.85h-.85zM113.0 384.1h.85v.85h-.85zM110.9 384.4h.85v.85h-.85zM105.3 385.8h.85v.85h-.85zM102.3 382.9h.85v.85h-.85zM103.2 384.5h.85v.85h-.85zM101.4 386.1h.85v.85h-.85zM107.6 390.3h.85v.85h-.85zM113.4 383.0h.85v.85h-.85zM109.8 383.5h.85v.85h-.85zM108.0 384.5h.85v.85h-.85zM104.5 385.8h.85v.85h-.85zM101.0 387.7h.85v.85h-.85zM105.4 382.3h.85v.85h-.85zM105.2 386.9h.85v.85h-.85zM104.0 387.0h.85v.85h-.85zM108.6 388.7h.85v.85h-.85zM102.4 385.8h.85v.85h-.85zM108.4 388.6h.85v.85h-.85zM107.5 386.8h.85v.85h-.85zM101.0 384.9h.85v.85h-.85zM112.7 382.5h.85v.85h-.85zM114.6 380.7h.85v.85h-.85zM105.5 380.9h.85v.85h-.85zM108.9 385.1h.85v.85h-.85zM114.1 383.4h.85v.85h-.85zM105.6 381.4h.85v.85h-.85zM106.2 387.7h.85v.85h-.85zM109.3 387.6h.85v.85h-.85zM109.7 384.0h.85v.85h-.85zM108.8 384.9h.85v.85h-.85zM107.9 381.7h.85v.85h-.85zM107.9 385.4h.85v.85h-.85zM110.2 388.0h.85v.85h-.85zM95.1 389.7h.85v.85h-.85zM112.2 380.8h.85v.85h-.85zM99.5 387.7h.85v.85h-.85zM107.8 385.6h.85v.85h-.85zM102.3 384.9h.85v.85h-.85zM107.2 386.9h.85v.85h-.85zM114.7 383.5h.85v.85h-.85zM104.2 379.1h.85v.85h-.85zM110.5 383.5h.85v.85h-.85zM106.1 382.4h.85v.85h-.85zM109.3 379.2h.85v.85h-.85zM106.9 385.2h.85v.85h-.85zM107.6 388.3h.85v.85h-.85zM106.1 385.4h.85v.85h-.85zM109.7 379.8h.85v.85h-.85zM105.4 385.5h.85v.85h-.85zM110.1 381.8h.85v.85h-.85zM109.5 385.2h.85v.85h-.85zM100.9 382.4h.85v.85h-.85zM101.1 386.9h.85v.85h-.85zM107.3 386.8h.85v.85h-.85zM109.6 382.6h.85v.85h-.85zM110.5 386.2h.85v.85h-.85zM108.3 385.8h.85v.85h-.85zM101.6 387.4h.85v.85h-.85zM102.6 382.7h.85v.85h-.85zM105.2 385.8h.85v.85h-.85zM106.3 384.1h.85v.85h-.85zM102.7 386.6h.85v.85h-.85zM103.7 381.8h.85v.85h-.85zM106.9 389.0h.85v.85h-.85zM105.0 382.5h.85v.85h-.85zM111.7 388.3h.85v.85h-.85zM105.4 384.7h.85v.85h-.85zM107.0 387.6h.85v.85h-.85zM108.2 379.4h.85v.85h-.85zM102.3 382.7h.85v.85h-.85zM108.1 384.8h.85v.85h-.85zM113.3 382.4h.85v.85h-.85zM107.7 384.9h.85v.85h-.85zM107.6 388.8h.85v.85h-.85zM111.4 381.9h.85v.85h-.85zM109.1 383.2h.85v.85h-.85zM106.9 385.3h.85v.85h-.85zM106.6 383.7h.85v.85h-.85zM112.4 382.6h.85v.85h-.85zM109.2 389.0h.85v.85h-.85zM108.9 387.2h.85v.85h-.85zM111.8 386.6h.85v.85h-.85zM113.0 379.2h.85v.85h-.85zM113.9 383.0h.85v.85h-.85zM99.9 385.0h.85v.85h-.85zM101.2 386.4h.85v.85h-.85zM100.9 383.7h.85v.85h-.85zM107.6 385.1h.85v.85h-.85zM103.5 385.2h.85v.85h-.85zM106.1 385.3h.85v.85h-.85zM106.5 384.4h.85v.85h-.85zM109.8 379.6h.85v.85h-.85zM104.6 385.9h.85v.85h-.85zM105.0 383.9h.85v.85h-.85zM104.8 386.0h.85v.85h-.85zM111.2 383.2h.85v.85h-.85zM105.5 386.3h.85v.85h-.85zM105.6 379.8h.85v.85h-.85zM107.5 383.7h.85v.85h-.85zM104.3 387.4h.85v.85h-.85zM106.7 383.4h.85v.85h-.85zM98.2 382.5h.85v.85h-.85zM106.6 384.7h.85v.85h-.85zM108.2 385.2h.85v.85h-.85zM104.7 381.9h.85v.85h-.85zM102.3 385.8h.85v.85h-.85zM102.1 388.3h.85v.85h-.85zM101.5 381.4h.85v.85h-.85zM105.8 380.2h.85v.85h-.85zM112.7 380.5h.85v.85h-.85zM106.3 384.4h.85v.85h-.85zM103.4 380.9h.85v.85h-.85zM99.4 389.4h.85v.85h-.85zM110.4 390.0h.85v.85h-.85zM100.9 388.1h.85v.85h-.85zM106.4 387.4h.85v.85h-.85zM104.5 387.6h.85v.85h-.85zM109.9 385.8h.85v.85h-.85zM112.0 383.0h.85v.85h-.85zM112.4 381.4h.85v.85h-.85zM112.8 375.5h.85v.85h-.85zM106.6 382.7h.85v.85h-.85zM106.5 387.9h.85v.85h-.85zM109.2 384.5h.85v.85h-.85zM113.0 379.1h.85v.85h-.85zM103.4 390.1h.85v.85h-.85zM107.7 378.8h.85v.85h-.85zM107.8 381.3h.85v.85h-.85zM112.1 386.7h.85v.85h-.85zM104.4 389.2h.85v.85h-.85zM103.3 388.5h.85v.85h-.85zM108.7 384.0h.85v.85h-.85zM101.1 385.7h.85v.85h-.85zM97.8 385.8h.85v.85h-.85zM99.5 390.4h.85v.85h-.85zM102.8 379.2h.85v.85h-.85zM108.7 385.4h.85v.85h-.85zM109.4 384.4h.85v.85h-.85zM104.0 377.4h.85v.85h-.85zM108.3 387.2h.85v.85h-.85zM104.3 381.7h.85v.85h-.85zM106.3 380.3h.85v.85h-.85zM106.5 387.2h.85v.85h-.85zM112.2 384.2h.85v.85h-.85zM107.2 386.9h.85v.85h-.85zM111.8 382.6h.85v.85h-.85zM101.8 384.1h.85v.85h-.85zM101.7 383.8h.85v.85h-.85zM106.0 386.1h.85v.85h-.85zM107.1 385.0h.85v.85h-.85zM105.1 386.6h.85v.85h-.85zM109.9 386.2h.85v.85h-.85zM112.2 382.6h.85v.85h-.85zM105.5 390.0h.85v.85h-.85zM107.3 385.9h.85v.85h-.85zM105.2 388.1h.85v.85h-.85zM105.0 382.6h.85v.85h-.85zM106.3 383.8h.85v.85h-.85zM109.7 383.1h.85v.85h-.85zM107.0 384.3h.85v.85h-.85zM107.8 382.9h.85v.85h-.85zM110.7 379.8h.85v.85h-.85zM105.0 383.4h.85v.85h-.85zM109.0 384.4h.85v.85h-.85zM108.3 383.6h.85v.85h-.85zM103.8 382.6h.85v.85h-.85zM105.2 383.8h.85v.85h-.85zM107.6 385.7h.85v.85h-.85zM110.2 383.7h.85v.85h-.85zM103.7 382.8h.85v.85h-.85zM106.7 385.9h.85v.85h-.85zM113.9 383.5h.85v.85h-.85zM113.2 388.4h.85v.85h-.85zM102.5 389.5h.85v.85h-.85zM110.8 387.6h.85v.85h-.85zM106.5 387.7h.85v.85h-.85zM104.7 385.3h.85v.85h-.85zM106.6 390.0h.85v.85h-.85zM105.7 387.9h.85v.85h-.85zM106.8 382.9h.85v.85h-.85zM107.4 386.6h.85v.85h-.85zM103.8 387.5h.85v.85h-.85zM103.8 383.3h.85v.85h-.85zM107.3 384.1h.85v.85h-.85zM102.8 381.5h.85v.85h-.85zM106.6 385.7h.85v.85h-.85zM104.8 386.0h.85v.85h-.85zM100.7 387.7h.85v.85h-.85zM108.1 385.3h.85v.85h-.85zM104.2 385.9h.85v.85h-.85zM107.0 387.9h.85v.85h-.85zM107.5 385.4h.85v.85h-.85zM103.8 388.2h.85v.85h-.85zM111.0 382.4h.85v.85h-.85zM108.9 385.2h.85v.85h-.85zM106.3 381.4h.85v.85h-.85zM113.2 377.9h.85v.85h-.85zM107.7 383.6h.85v.85h-.85zM110.8 382.6h.85v.85h-.85zM106.6 386.7h.85v.85h-.85zM108.2 383.1h.85v.85h-.85zM109.1 385.4h.85v.85h-.85zM110.3 382.5h.85v.85h-.85zM106.3 384.0h.85v.85h-.85zM103.3 386.6h.85v.85h-.85zM108.1 388.6h.85v.85h-.85zM105.3 386.4h.85v.85h-.85zM110.8 383.5h.85v.85h-.85zM106.7 385.3h.85v.85h-.85zM103.9 383.0h.85v.85h-.85zM110.7 384.3h.85v.85h-.85zM106.2 381.6h.85v.85h-.85zM106.9 388.2h.85v.85h-.85zM102.1 383.7h.85v.85h-.85zM110.7 387.8h.85v.85h-.85zM112.4 381.8h.85v.85h-.85zM108.8 382.3h.85v.85h-.85zM108.5 383.4h.85v.85h-.85zM107.2 388.5h.85v.85h-.85z" fill="#3f86c2" fill-opacity="0.6"/>
<path d="M117.5 367.7h.85v.85h-.85zM117.1 370.0h.85v.85h-.85zM116.2 371.0h.85v.85h-.85zM117.9 373.5h.85v.85h-.85zM113.9 369.2h.85v.85h-.85zM115.2 374.8h.85v.85h-.85zM120.6 364.9h.85v.85h-.85zM117.2 373.0h.85v.85h-.85zM113.4 373.5h.85v.85h-.85zM112.4 376.1h.85v.85h-.85zM116.2 368.5h.85v.85h-.85zM117.5 366.4h.85v.85h-.85zM118.7 366.9h.85v.85h-.85zM117.6 377.4h.85v.85h-.85zM116.3 373.4h.85v.85h-.85zM115.8 375.3h.85v.85h-.85zM118.4 367.7h.85v.85h-.85zM118.5 372.9h.85v.85h-.85zM119.1 366.4h.85v.85h-.85zM116.9 373.2h.85v.85h-.85zM114.8 370.1h.85v.85h-.85zM117.7 370.2h.85v.85h-.85zM119.8 371.6h.85v.85h-.85zM117.5 370.1h.85v.85h-.85zM115.0 371.2h.85v.85h-.85zM117.4 367.9h.85v.85h-.85zM117.1 371.2h.85v.85h-.85zM115.6 369.1h.85v.85h-.85zM114.4 376.8h.85v.85h-.85zM115.4 365.4h.85v.85h-.85zM118.1 366.9h.85v.85h-.85zM118.4 365.9h.85v.85h-.85zM120.2 367.4h.85v.85h-.85zM117.2 369.3h.85v.85h-.85zM116.7 372.5h.85v.85h-.85zM120.0 363.7h.85v.85h-.85zM115.4 373.5h.85v.85h-.85zM118.6 361.8h.85v.85h-.85zM116.0 367.1h.85v.85h-.85zM117.8 369.8h.85v.85h-.85zM115.9 366.7h.85v.85h-.85zM118.0 360.6h.85v.85h-.85zM118.0 367.4h.85v.85h-.85zM119.8 368.8h.85v.85h-.85zM116.1 369.4h.85v.85h-.85zM116.6 367.2h.85v.85h-.85zM117.1 372.4h.85v.85h-.85zM114.8 371.5h.85v.85h-.85zM119.2 368.8h.85v.85h-.85zM115.8 368.0h.85v.85h-.85zM115.7 365.3h.85v.85h-.85zM118.7 367.1h.85v.85h-.85zM116.0 365.6h.85v.85h-.85zM116.4 368.2h.85v.85h-.85zM119.5 364.1h.85v.85h-.85zM117.2 372.7h.85v.85h-.85zM118.0 367.2h.85v.85h-.85zM113.8 378.5h.85v.85h-.85zM117.9 366.5h.85v.85h-.85zM116.9 366.0h.85v.85h-.85zM115.7 365.8h.85v.85h-.85zM117.7 370.0h.85v.85h-.85zM117.3 371.6h.85v.85h-.85zM117.8 368.5h.85v.85h-.85zM115.7 373.0h.85v.85h-.85zM118.8 369.0h.85v.85h-.85zM118.8 365.0h.85v.85h-.85zM115.6 375.5h.85v.85h-.85zM116.1 371.2h.85v.85h-.85zM116.7 369.7h.85v.85h-.85zM116.6 367.9h.85v.85h-.85zM114.4 379.4h.85v.85h-.85zM117.3 362.1h.85v.85h-.85zM115.7 367.1h.85v.85h-.85zM115.9 361.8h.85v.85h-.85zM117.8 373.8h.85v.85h-.85zM116.6 372.3h.85v.85h-.85zM117.9 363.7h.85v.85h-.85zM118.8 360.9h.85v.85h-.85zM116.2 369.1h.85v.85h-.85zM118.8 367.1h.85v.85h-.85zM116.8 366.7h.85v.85h-.85zM117.1 369.2h.85v.85h-.85zM118.1 372.6h.85v.85h-.85zM118.1 367.8h.85v.85h-.85zM116.8 375.1h.85v.85h-.85zM117.3 368.7h.85v.85h-.85zM119.6 371.0h.85v.85h-.85zM117.8 367.7h.85v.85h-.85zM116.1 374.2h.85v.85h-.85zM116.3 373.4h.85v.85h-.85zM115.9 371.1h.85v.85h-.85zM117.6 368.9h.85v.85h-.85zM117.3 370.1h.85v.85h-.85zM115.4 367.6h.85v.85h-.85zM116.8 375.8h.85v.85h-.85zM116.8 366.2h.85v.85h-.85zM116.0 370.6h.85v.85h-.85zM118.7 364.9h.85v.85h-.85zM117.8 368.7h.85v.85h-.85zM116.5 366.6h.85v.85h-.85zM116.8 367.0h.85v.85h-.85zM117.8 362.0h.85v.85h-.85zM118.7 369.6h.85v.85h-.85zM117.8 373.2h.85v.85h-.85zM117.9 362.1h.85v.85h-.85zM117.1 370.7h.85v.85h-.85zM116.0 366.6h.85v.85h-.85zM117.6 370.1h.85v.85h-.85zM116.4 369.2h.85v.85h-.85zM116.3 368.2h.85v.85h-.85zM116.9 373.0h.85v.85h-.85zM114.6 371.2h.85v.85h-.85zM119.4 367.1h.85v.85h-.85zM117.2 371.8h.85v.85h-.85zM115.5 367.0h.85v.85h-.85zM114.6 367.5h.85v.85h-.85zM117.4 371.6h.85v.85h-.85zM116.4 367.7h.85v.85h-.85zM117.6 370.5h.85v.85h-.85zM117.4 362.1h.85v.85h-.85zM116.2 361.5h.85v.85h-.85zM117.4 365.8h.85v.85h-.85zM116.0 375.7h.85v.85h-.85zM118.9 368.2h.85v.85h-.85zM117.4 369.2h.85v.85h-.85zM116.1 370.2h.85v.85h-.85zM119.8 362.4h.85v.85h-.85zM116.0 371.1h.85v.85h-.85zM118.3 370.3h.85v.85h-.85zM115.6 370.7h.85v.85h-.85zM116.6 365.5h.85v.85h-.85zM117.1 367.4h.85v.85h-.85zM118.3 368.9h.85v.85h-.85zM115.9 371.0h.85v.85h-.85zM116.5 367.7h.85v.85h-.85zM116.3 373.8h.85v.85h-.85zM116.4 364.1h.85v.85h-.85zM115.9 373.5h.85v.85h-.85zM120.1 361.3h.85v.85h-.85zM116.5 368.8h.85v.85h-.85zM114.9 373.4h.85v.85h-.85zM116.9 370.3h.85v.85h-.85zM120.3 363.8h.85v.85h-.85zM118.2 370.5h.85v.85h-.85zM116.1 368.4h.85v.85h-.85zM119.3 368.6h.85v.85h-.85zM117.2 365.1h.85v.85h-.85zM118.3 369.3h.85v.85h-.85zM120.2 369.9h.85v.85h-.85zM118.2 368.5h.85v.85h-.85zM117.1 367.2h.85v.85h-.85zM117.5 369.4h.85v.85h-.85zM118.0 371.7h.85v.85h-.85zM117.5 366.7h.85v.85h-.85zM118.2 373.0h.85v.85h-.85zM115.8 372.3h.85v.85h-.85zM117.8 370.0h.85v.85h-.85zM117.7 367.9h.85v.85h-.85zM116.9 375.2h.85v.85h-.85zM119.5 360.9h.85v.85h-.85zM113.3 375.8h.85v.85h-.85zM116.0 368.8h.85v.85h-.85zM114.7 373.6h.85v.85h-.85zM116.9 367.4h.85v.85h-.85zM118.3 375.8h.85v.85h-.85zM119.2 370.3h.85v.85h-.85zM116.4 372.3h.85v.85h-.85zM116.9 373.3h.85v.85h-.85zM117.8 367.9h.85v.85h-.85zM117.8 365.6h.85v.85h-.85zM118.2 372.8h.85v.85h-.85zM116.5 371.8h.85v.85h-.85zM114.6 375.8h.85v.85h-.85zM118.3 363.9h.85v.85h-.85zM119.5 366.1h.85v.85h-.85zM114.5 367.9h.85v.85h-.85zM118.3 366.5h.85v.85h-.85zM118.6 361.7h.85v.85h-.85zM116.9 372.8h.85v.85h-.85zM116.0 372.9h.85v.85h-.85zM116.5 371.1h.85v.85h-.85zM117.5 376.3h.85v.85h-.85zM115.2 374.4h.85v.85h-.85zM118.9 362.7h.85v.85h-.85zM117.1 377.0h.85v.85h-.85zM118.5 356.9h.85v.85h-.85zM116.7 363.8h.85v.85h-.85zM117.4 366.1h.85v.85h-.85zM116.2 367.4h.85v.85h-.85zM117.4 367.0h.85v.85h-.85zM115.7 370.2h.85v.85h-.85zM117.6 365.4h.85v.85h-.85zM118.6 361.3h.85v.85h-.85zM117.6 367.0h.85v.85h-.85zM119.3 363.8h.85v.85h-.85zM116.0 365.9h.85v.85h-.85zM119.9 367.4h.85v.85h-.85zM115.4 370.2h.85v.85h-.85zM115.6 376.4h.85v.85h-.85zM117.6 361.3h.85v.85h-.85zM117.3 371.9h.85v.85h-.85zM117.0 370.8h.85v.85h-.85zM116.8 370.1h.85v.85h-.85zM117.3 366.3h.85v.85h-.85zM117.5 369.1h.85v.85h-.85zM116.9 366.9h.85v.85h-.85zM115.5 372.1h.85v.85h-.85zM118.2 359.2h.85v.85h-.85zM116.2 374.9h.85v.85h-.85zM118.3 364.9h.85v.85h-.85zM119.0 363.1h.85v.85h-.85zM115.8 377.5h.85v.85h-.85zM116.4 369.3h.85v.85h-.85zM114.6 369.0h.85v.85h-.85zM115.3 371.1h.85v.85h-.85zM114.3 376.5h.85v.85h-.85zM116.5 367.8h.85v.85h-.85zM116.1 373.0h.85v.85h-.85zM119.2 364.7h.85v.85h-.85zM119.4 371.5h.85v.85h-.85zM119.0 367.6h.85v.85h-.85zM114.8 374.5h.85v.85h-.85zM116.4 370.7h.85v.85h-.85zM114.3 372.0h.85v.85h-.85zM117.3 365.5h.85v.85h-.85zM117.4 374.4h.85v.85h-.85zM117.3 366.4h.85v.85h-.85zM120.5 357.0h.85v.85h-.85zM115.7 372.4h.85v.85h-.85zM116.1 362.5h.85v.85h-.85zM117.4 371.6h.85v.85h-.85zM115.8 375.9h.85v.85h-.85zM117.7 372.3h.85v.85h-.85zM114.8 372.2h.85v.85h-.85zM119.3 373.0h.85v.85h-.85zM118.9 366.6h.85v.85h-.85zM117.3 366.7h.85v.85h-.85zM118.6 364.6h.85v.85h-.85zM117.2 361.8h.85v.85h-.85zM114.8 378.4h.85v.85h-.85zM117.1 369.8h.85v.85h-.85zM113.8 373.5h.85v.85h-.85zM120.0 359.9h.85v.85h-.85zM113.5 373.4h.85v.85h-.85zM116.2 369.5h.85v.85h-.85zM115.2 367.0h.85v.85h-.85zM115.2 373.9h.85v.85h-.85zM116.9 372.1h.85v.85h-.85zM115.4 373.4h.85v.85h-.85zM116.4 370.4h.85v.85h-.85zM118.4 367.4h.85v.85h-.85zM116.5 364.1h.85v.85h-.85zM117.1 371.8h.85v.85h-.85zM116.1 370.2h.85v.85h-.85zM114.4 368.1h.85v.85h-.85zM117.6 372.9h.85v.85h-.85zM116.5 364.0h.85v.85h-.85zM116.4 364.5h.85v.85h-.85zM116.6 376.5h.85v.85h-.85zM117.4 368.1h.85v.85h-.85zM118.5 365.8h.85v.85h-.85zM117.5 369.2h.85v.85h-.85zM117.7 363.2h.85v.85h-.85zM118.0 370.8h.85v.85h-.85zM113.6 364.3h.85v.85h-.85zM115.7 376.2h.85v.85h-.85zM117.0 371.5h.85v.85h-.85zM117.8 371.2h.85v.85h-.85zM116.1 368.4h.85v.85h-.85zM117.6 370.6h.85v.85h-.85zM117.8 369.2h.85v.85h-.85zM116.3 374.0h.85v.85h-.85zM117.7 372.0h.85v.85h-.85zM113.3 377.8h.85v.85h-.85zM113.4 374.9h.85v.85h-.85zM116.0 371.0h.85v.85h-.85zM116.3 369.1h.85v.85h-.85zM117.3 370.0h.85v.85h-.85zM115.8 362.0h.85v.85h-.85zM115.8 372.7h.85v.85h-.85zM115.8 372.4h.85v.85h-.85zM116.5 366.6h.85v.85h-.85zM118.7 372.6h.85v.85h-.85zM116.8 369.2h.85v.85h-.85zM118.4 362.6h.85v.85h-.85zM115.7 374.9h.85v.85h-.85zM118.3 365.6h.85v.85h-.85zM115.8 372.0h.85v.85h-.85zM114.9 370.3h.85v.85h-.85zM116.7 361.0h.85v.85h-.85zM117.9 370.7h.85v.85h-.85zM118.6 362.0h.85v.85h-.85zM115.1 368.9h.85v.85h-.85zM115.1 379.1h.85v.85h-.85zM115.6 370.1h.85v.85h-.85zM117.3 370.4h.85v.85h-.85zM119.2 362.4h.85v.85h-.85zM118.3 367.9h.85v.85h-.85zM115.3 372.1h.85v.85h-.85zM114.9 377.8h.85v.85h-.85zM115.9 374.2h.85v.85h-.85zM118.9 364.4h.85v.85h-.85zM115.7 371.5h.85v.85h-.85zM115.4 374.5h.85v.85h-.85zM117.3 366.2h.85v.85h-.85zM116.0 373.2h.85v.85h-.85zM114.8 378.1h.85v.85h-.85zM115.8 370.1h.85v.85h-.85zM115.6 376.8h.85v.85h-.85zM118.2 372.1h.85v.85h-.85zM118.0 368.2h.85v.85h-.85zM119.5 368.1h.85v.85h-.85zM117.7 370.3h.85v.85h-.85zM118.1 368.7h.85v.85h-.85zM116.8 363.9h.85v.85h-.85zM120.1 360.4h.85v.85h-.85zM113.8 371.1h.85v.85h-.85zM119.9 369.6h.85v.85h-.85zM116.1 371.4h.85v.85h-.85zM117.0 362.2h.85v.85h-.85zM116.5 370.9h.85v.85h-.85zM118.8 362.5h.85v.85h-.85zM113.6 368.2h.85v.85h-.85zM117.5 368.8h.85v.85h-.85zM117.2 369.4h.85v.85h-.85zM116.5 365.1h.85v.85h-.85zM117.7 369.6h.85v.85h-.85zM117.9 372.4h.85v.85h-.85zM115.1 363.4h.85v.85h-.85zM114.3 380.4h.85v.85h-.85zM115.6 372.5h.85v.85h-.85zM117.0 371.8h.85v.85h-.85zM121.8 360.8h.85v.85h-.85zM116.7 367.4h.85v.85h-.85zM117.4 370.5h.85v.85h-.85zM115.5 375.9h.85v.85h-.85zM118.7 368.4h.85v.85h-.85zM116.8 368.6h.85v.85h-.85zM114.5 374.9h.85v.85h-.85zM115.5 369.4h.85v.85h-.85zM118.5 363.9h.85v.85h-.85zM116.2 373.3h.85v.85h-.85zM119.8 362.9h.85v.85h-.85zM118.7 364.6h.85v.85h-.85zM117.6 370.1h.85v.85h-.85zM115.3 375.2h.85v.85h-.85zM119.7 365.7h.85v.85h-.85zM117.4 364.5h.85v.85h-.85zM119.7 365.8h.85v.85h-.85zM115.1 374.5h.85v.85h-.85zM114.8 369.8h.85v.85h-.85zM113.8 378.5h.85v.85h-.85zM120.3 362.4h.85v.85h-.85zM116.0 368.5h.85v.85h-.85zM116.2 372.3h.85v.85h-.85zM119.2 362.6h.85v.85h-.85zM117.7 361.9h.85v.85h-.85zM119.3 365.8h.85v.85h-.85zM115.9 376.1h.85v.85h-.85zM116.8 374.3h.85v.85h-.85zM118.6 372.9h.85v.85h-.85zM115.8 371.0h.85v.85h-.85zM117.6 367.8h.85v.85h-.85zM119.3 363.5h.85v.85h-.85zM118.5 372.0h.85v.85h-.85zM114.1 369.8h.85v.85h-.85zM115.6 369.1h.85v.85h-.85zM117.6 367.8h.85v.85h-.85zM117.1 367.4h.85v.85h-.85zM116.9 371.1h.85v.85h-.85zM118.1 364.9h.85v.85h-.85zM116.8 366.7h.85v.85h-.85zM116.7 364.5h.85v.85h-.85zM118.4 369.6h.85v.85h-.85zM116.8 367.0h.85v.85h-.85zM116.3 367.8h.85v.85h-.85zM114.7 378.2h.85v.85h-.85zM121.9 358.1h.85v.85h-.85zM115.2 373.6h.85v.85h-.85zM117.9 362.4h.85v.85h-.85zM114.1 375.1h.85v.85h-.85zM114.0 378.3h.85v.85h-.85zM116.3 370.5h.85v.85h-.85zM117.0 367.2h.85v.85h-.85zM116.8 368.4h.85v.85h-.85zM118.9 366.3h.85v.85h-.85zM117.0 367.4h.85v.85h-.85zM116.0 367.9h.85v.85h-.85zM117.0 375.7h.85v.85h-.85zM118.7 367.8h.85v.85h-.85zM119.5 369.4h.85v.85h-.85zM117.3 368.2h.85v.85h-.85zM115.4 372.3h.85v.85h-.85zM116.5 364.2h.85v.85h-.85zM115.1 378.7h.85v.85h-.85zM117.3 370.5h.85v.85h-.85zM117.3 367.1h.85v.85h-.85zM117.7 372.1h.85v.85h-.85zM116.5 371.7h.85v.85h-.85zM118.5 365.4h.85v.85h-.85zM117.3 366.2h.85v.85h-.85zM117.9 366.7h.85v.85h-.85zM118.7 364.1h.85v.85h-.85zM119.5 364.6h.85v.85h-.85zM115.7 367.7h.85v.85h-.85zM118.0 364.8h.85v.85h-.85zM119.7 370.1h.85v.85h-.85zM117.8 363.1h.85v.85h-.85zM117.0 366.7h.85v.85h-.85zM114.3 374.4h.85v.85h-.85zM120.3 362.8h.85v.85h-.85zM118.2 372.1h.85v.85h-.85zM115.6 370.0h.85v.85h-.85zM117.4 370.3h.85v.85h-.85zM115.3 372.3h.85v.85h-.85zM116.8 372.8h.85v.85h-.85zM114.6 370.5h.85v.85h-.85zM116.2 369.1h.85v.85h-.85zM118.1 365.5h.85v.85h-.85zM121.1 361.1h.85v.85h-.85zM118.3 371.1h.85v.85h-.85zM118.4 366.5h.85v.85h-.85zM115.8 370.0h.85v.85h-.85zM118.0 368.3h.85v.85h-.85zM117.9 370.0h.85v.85h-.85zM115.7 367.7h.85v.85h-.85zM119.2 364.5h.85v.85h-.85zM114.6 379.1h.85v.85h-.85zM115.7 367.6h.85v.85h-.85zM118.5 363.2h.85v.85h-.85zM115.7 374.7h.85v.85h-.85zM115.8 379.8h.85v.85h-.85zM117.1 378.5h.85v.85h-.85zM117.2 369.1h.85v.85h-.85zM116.0 369.7h.85v.85h-.85zM116.2 370.1h.85v.85h-.85zM118.2 363.1h.85v.85h-.85zM115.6 363.6h.85v.85h-.85zM119.3 365.9h.85v.85h-.85zM117.0 369.0h.85v.85h-.85zM118.5 368.3h.85v.85h-.85zM118.3 366.9h.85v.85h-.85zM116.8 369.3h.85v.85h-.85zM114.2 376.9h.85v.85h-.85zM114.6 368.9h.85v.85h-.85zM118.0 368.0h.85v.85h-.85zM118.2 373.6h.85v.85h-.85zM119.8 370.3h.85v.85h-.85zM116.7 376.9h.85v.85h-.85zM115.7 370.7h.85v.85h-.85zM118.5 366.4h.85v.85h-.85zM116.8 368.2h.85v.85h-.85zM119.0 357.6h.85v.85h-.85zM118.9 370.4h.85v.85h-.85zM116.9 371.3h.85v.85h-.85zM115.5 375.1h.85v.85h-.85zM121.6 359.7h.85v.85h-.85zM119.1 366.1h.85v.85h-.85zM116.5 368.2h.85v.85h-.85zM116.7 365.1h.85v.85h-.85zM115.0 377.9h.85v.85h-.85zM117.0 371.2h.85v.85h-.85zM117.5 370.3h.85v.85h-.85zM114.7 369.0h.85v.85h-.85zM117.9 371.4h.85v.85h-.85zM115.3 369.5h.85v.85h-.85zM115.4 373.7h.85v.85h-.85zM117.5 368.6h.85v.85h-.85zM116.0 371.8h.85v.85h-.85zM117.0 366.5h.85v.85h-.85zM117.5 366.2h.85v.85h-.85zM118.4 369.5h.85v.85h-.85zM116.0 372.7h.85v.85h-.85zM117.1 366.6h.85v.85h-.85zM115.6 365.2h.85v.85h-.85zM115.3 372.7h.85v.85h-.85zM118.8 364.5h.85v.85h-.85zM117.2 370.1h.85v.85h-.85zM118.2 369.2h.85v.85h-.85zM118.8 369.4h.85v.85h-.85zM115.9 372.2h.85v.85h-.85zM113.5 373.4h.85v.85h-.85zM117.0 371.2h.85v.85h-.85zM116.5 372.8h.85v.85h-.85zM119.0 363.5h.85v.85h-.85zM116.2 371.2h.85v.85h-.85zM117.7 368.7h.85v.85h-.85zM118.2 363.3h.85v.85h-.85zM118.2 371.8h.85v.85h-.85zM118.7 368.4h.85v.85h-.85zM116.6 371.1h.85v.85h-.85zM116.9 363.7h.85v.85h-.85zM116.1 370.3h.85v.85h-.85zM116.2 366.9h.85v.85h-.85zM116.7 368.4h.85v.85h-.85zM117.1 368.9h.85v.85h-.85zM117.3 372.4h.85v.85h-.85zM117.2 370.4h.85v.85h-.85zM115.2 361.2h.85v.85h-.85zM116.4 372.4h.85v.85h-.85zM116.5 367.7h.85v.85h-.85zM115.1 374.9h.85v.85h-.85zM116.2 371.2h.85v.85h-.85zM118.7 368.8h.85v.85h-.85zM120.4 364.1h.85v.85h-.85zM118.4 369.7h.85v.85h-.85zM116.0 370.7h.85v.85h-.85zM116.2 366.7h.85v.85h-.85zM117.4 365.8h.85v.85h-.85zM119.5 363.1h.85v.85h-.85zM116.2 370.6h.85v.85h-.85zM116.2 370.5h.85v.85h-.85zM116.1 365.4h.85v.85h-.85zM113.4 369.6h.85v.85h-.85zM119.3 367.7h.85v.85h-.85zM117.2 367.2h.85v.85h-.85zM116.8 370.6h.85v.85h-.85zM114.9 369.2h.85v.85h-.85zM115.7 375.5h.85v.85h-.85zM115.4 375.5h.85v.85h-.85zM116.3 379.8h.85v.85h-.85zM116.9 369.5h.85v.85h-.85zM119.0 369.5h.85v.85h-.85zM118.4 363.5h.85v.85h-.85zM118.7 372.8h.85v.85h-.85zM116.8 367.7h.85v.85h-.85zM115.4 375.1h.85v.85h-.85zM117.4 368.6h.85v.85h-.85zM115.1 377.5h.85v.85h-.85zM118.3 367.3h.85v.85h-.85zM119.2 362.8h.85v.85h-.85zM118.3 363.8h.85v.85h-.85zM119.1 365.3h.85v.85h-.85zM118.8 365.2h.85v.85h-.85zM117.6 372.4h.85v.85h-.85zM115.6 371.4h.85v.85h-.85zM115.7 373.9h.85v.85h-.85zM116.1 369.1h.85v.85h-.85zM116.7 373.8h.85v.85h-.85zM115.4 371.2h.85v.85h-.85zM116.5 367.9h.85v.85h-.85zM115.8 370.2h.85v.85h-.85zM117.3 363.3h.85v.85h-.85zM117.4 364.5h.85v.85h-.85zM117.0 377.3h.85v.85h-.85zM115.5 370.9h.85v.85h-.85zM116.6 373.2h.85v.85h-.85zM116.3 363.8h.85v.85h-.85zM114.6 373.1h.85v.85h-.85zM117.4 372.5h.85v.85h-.85zM116.2 372.7h.85v.85h-.85zM115.4 376.0h.85v.85h-.85zM116.9 366.9h.85v.85h-.85zM117.3 375.0h.85v.85h-.85zM115.7 366.5h.85v.85h-.85zM115.5 367.2h.85v.85h-.85zM116.9 370.5h.85v.85h-.85zM116.8 370.2h.85v.85h-.85zM118.8 365.7h.85v.85h-.85zM115.1 363.7h.85v.85h-.85zM117.4 366.3h.85v.85h-.85zM116.6 371.2h.85v.85h-.85zM117.7 362.7h.85v.85h-.85zM115.6 371.4h.85v.85h-.85zM116.8 373.6h.85v.85h-.85zM116.2 362.9h.85v.85h-.85zM118.8 361.0h.85v.85h-.85zM115.5 372.6h.85v.85h-.85zM115.4 380.2h.85v.85h-.85zM117.4 370.6h.85v.85h-.85zM116.3 378.0h.85v.85h-.85zM117.8 365.5h.85v.85h-.85zM118.9 360.6h.85v.85h-.85zM116.1 371.4h.85v.85h-.85zM117.2 365.5h.85v.85h-.85zM119.4 371.2h.85v.85h-.85zM115.6 372.4h.85v.85h-.85zM116.0 369.0h.85v.85h-.85zM118.5 367.6h.85v.85h-.85zM116.8 369.8h.85v.85h-.85zM115.2 375.9h.85v.85h-.85zM115.9 375.4h.85v.85h-.85zM116.3 368.5h.85v.85h-.85zM119.2 366.8h.85v.85h-.85zM116.0 368.6h.85v.85h-.85zM117.9 374.6h.85v.85h-.85zM117.9 366.5h.85v.85h-.85zM115.3 369.1h.85v.85h-.85zM116.8 370.3h.85v.85h-.85zM116.0 375.1h.85v.85h-.85zM115.6 368.6h.85v.85h-.85zM117.7 369.9h.85v.85h-.85zM116.4 373.4h.85v.85h-.85zM114.9 377.9h.85v.85h-.85zM120.3 371.6h.85v.85h-.85zM117.2 375.9h.85v.85h-.85zM117.1 373.8h.85v.85h-.85zM116.7 370.3h.85v.85h-.85zM117.8 361.9h.85v.85h-.85zM116.7 375.7h.85v.85h-.85zM112.6 376.6h.85v.85h-.85zM118.4 368.5h.85v.85h-.85zM117.3 373.7h.85v.85h-.85zM117.5 361.8h.85v.85h-.85zM115.6 370.1h.85v.85h-.85zM117.2 367.3h.85v.85h-.85zM116.8 375.3h.85v.85h-.85zM112.6 379.3h.85v.85h-.85zM118.4 369.4h.85v.85h-.85zM117.0 369.4h.85v.85h-.85zM117.5 369.3h.85v.85h-.85zM115.9 373.5h.85v.85h-.85zM115.8 370.7h.85v.85h-.85zM116.5 365.8h.85v.85h-.85zM117.9 367.7h.85v.85h-.85zM115.3 371.3h.85v.85h-.85zM114.9 377.1h.85v.85h-.85zM117.8 375.2h.85v.85h-.85zM116.2 372.9h.85v.85h-.85z" fill="#2f86c6" fill-opacity="0.72"/>
<rect x="111.4" y="358.2" width="16.6" height="21.6" fill="none" stroke="#8e1a36" stroke-width="1.6"/>
<text x="133.7" y="356" font-size="7.6" text-anchor="end" font-weight="bold" fill="#000" transform="translate(133.7 356) scale(1 1.1) translate(-133.7 -356)">10.3</text>
<rect x="141.3" y="347.5" width="49.2" height="43.8" fill="#fff" stroke="#a8a8a8" stroke-width="0.8"/>
<path d="M149.5 379.2h.85v.85h-.85zM155.2 382.9h.85v.85h-.85zM161.8 374.2h.85v.85h-.85zM163.0 380.8h.85v.85h-.85zM150.1 382.9h.85v.85h-.85zM152.2 387.8h.85v.85h-.85zM161.7 374.4h.85v.85h-.85zM152.6 384.2h.85v.85h-.85zM150.8 375.9h.85v.85h-.85zM149.5 386.4h.85v.85h-.85zM157.0 389.7h.85v.85h-.85zM160.3 377.6h.85v.85h-.85zM165.3 371.2h.85v.85h-.85zM152.4 376.1h.85v.85h-.85zM151.6 383.6h.85v.85h-.85zM160.2 384.6h.85v.85h-.85zM154.1 376.8h.85v.85h-.85zM153.6 378.9h.85v.85h-.85zM152.8 379.7h.85v.85h-.85zM150.2 383.6h.85v.85h-.85zM152.5 381.3h.85v.85h-.85zM146.8 387.1h.85v.85h-.85zM159.5 381.3h.85v.85h-.85zM152.3 375.7h.85v.85h-.85zM147.4 378.8h.85v.85h-.85zM151.6 381.0h.85v.85h-.85zM145.9 382.8h.85v.85h-.85zM151.1 388.2h.85v.85h-.85zM167.7 369.7h.85v.85h-.85zM154.0 378.9h.85v.85h-.85zM154.5 379.9h.85v.85h-.85zM171.7 362.5h.85v.85h-.85zM155.1 375.8h.85v.85h-.85zM158.1 375.3h.85v.85h-.85zM159.5 371.0h.85v.85h-.85zM169.4 371.8h.85v.85h-.85zM152.8 375.2h.85v.85h-.85zM158.6 375.0h.85v.85h-.85zM160.6 373.5h.85v.85h-.85zM161.6 376.9h.85v.85h-.85zM158.1 379.3h.85v.85h-.85zM153.5 379.5h.85v.85h-.85zM158.7 382.2h.85v.85h-.85zM166.7 365.7h.85v.85h-.85zM162.8 374.7h.85v.85h-.85zM157.3 374.3h.85v.85h-.85zM166.4 367.8h.85v.85h-.85zM155.3 376.1h.85v.85h-.85zM168.2 378.8h.85v.85h-.85zM147.3 383.2h.85v.85h-.85zM158.1 375.8h.85v.85h-.85zM153.5 375.2h.85v.85h-.85zM157.4 372.4h.85v.85h-.85zM158.2 374.4h.85v.85h-.85zM153.6 375.9h.85v.85h-.85zM156.5 383.6h.85v.85h-.85zM161.8 374.2h.85v.85h-.85zM148.1 384.9h.85v.85h-.85zM166.5 374.2h.85v.85h-.85zM155.4 368.0h.85v.85h-.85zM153.0 385.1h.85v.85h-.85zM152.2 377.4h.85v.85h-.85zM152.1 382.0h.85v.85h-.85zM162.2 372.2h.85v.85h-.85zM144.4 387.5h.85v.85h-.85zM159.1 386.8h.85v.85h-.85zM160.1 379.7h.85v.85h-.85zM150.9 378.2h.85v.85h-.85zM149.7 389.7h.85v.85h-.85zM157.2 385.3h.85v.85h-.85zM167.4 372.1h.85v.85h-.85zM147.5 383.2h.85v.85h-.85zM153.4 379.4h.85v.85h-.85zM156.7 374.4h.85v.85h-.85zM163.2 366.9h.85v.85h-.85zM150.6 373.7h.85v.85h-.85zM146.8 389.7h.85v.85h-.85zM159.8 376.1h.85v.85h-.85zM161.2 379.9h.85v.85h-.85zM152.1 382.3h.85v.85h-.85zM158.1 390.2h.85v.85h-.85zM153.0 384.2h.85v.85h-.85zM159.3 384.8h.85v.85h-.85zM158.5 384.5h.85v.85h-.85zM149.0 383.2h.85v.85h-.85zM143.4 388.3h.85v.85h-.85zM170.7 371.1h.85v.85h-.85zM156.4 381.2h.85v.85h-.85zM156.7 371.6h.85v.85h-.85zM151.4 382.1h.85v.85h-.85zM156.9 374.2h.85v.85h-.85zM155.1 376.2h.85v.85h-.85zM147.4 382.0h.85v.85h-.85zM150.7 388.5h.85v.85h-.85zM164.4 377.5h.85v.85h-.85zM154.4 377.7h.85v.85h-.85zM145.8 383.9h.85v.85h-.85zM165.8 379.9h.85v.85h-.85zM157.2 377.6h.85v.85h-.85zM155.8 382.5h.85v.85h-.85zM155.8 382.6h.85v.85h-.85zM150.9 383.7h.85v.85h-.85zM153.6 387.9h.85v.85h-.85zM155.3 377.5h.85v.85h-.85zM155.9 380.7h.85v.85h-.85zM154.3 383.6h.85v.85h-.85zM152.1 372.7h.85v.85h-.85zM160.2 376.8h.85v.85h-.85zM166.4 374.9h.85v.85h-.85zM151.4 386.3h.85v.85h-.85zM170.0 376.6h.85v.85h-.85zM148.8 384.3h.85v.85h-.85zM159.4 371.6h.85v.85h-.85zM158.7 383.5h.85v.85h-.85zM161.0 372.6h.85v.85h-.85zM151.4 376.5h.85v.85h-.85zM147.5 387.6h.85v.85h-.85zM156.1 387.5h.85v.85h-.85zM157.6 376.9h.85v.85h-.85zM156.9 379.1h.85v.85h-.85zM149.4 378.4h.85v.85h-.85zM159.8 371.6h.85v.85h-.85zM159.5 381.1h.85v.85h-.85zM153.4 372.3h.85v.85h-.85zM158.4 386.4h.85v.85h-.85zM150.5 376.3h.85v.85h-.85zM162.8 376.1h.85v.85h-.85zM151.8 390.0h.85v.85h-.85zM154.0 383.9h.85v.85h-.85zM153.2 377.4h.85v.85h-.85zM157.2 374.1h.85v.85h-.85zM144.5 384.7h.85v.85h-.85zM163.7 381.0h.85v.85h-.85zM169.7 376.2h.85v.85h-.85zM166.1 374.4h.85v.85h-.85zM153.0 384.7h.85v.85h-.85zM149.7 388.5h.85v.85h-.85zM152.9 383.5h.85v.85h-.85zM150.4 383.0h.85v.85h-.85zM162.1 374.5h.85v.85h-.85zM151.5 384.7h.85v.85h-.85zM161.4 375.1h.85v.85h-.85zM148.3 376.1h.85v.85h-.85zM155.2 383.2h.85v.85h-.85zM162.6 377.0h.85v.85h-.85zM158.9 375.0h.85v.85h-.85zM155.2 383.8h.85v.85h-.85zM149.0 383.9h.85v.85h-.85zM168.6 366.3h.85v.85h-.85zM156.4 387.2h.85v.85h-.85zM154.3 381.8h.85v.85h-.85zM153.0 389.5h.85v.85h-.85zM155.2 378.3h.85v.85h-.85zM158.6 376.8h.85v.85h-.85zM162.1 376.4h.85v.85h-.85zM161.0 381.3h.85v.85h-.85zM159.5 377.8h.85v.85h-.85zM156.3 382.1h.85v.85h-.85zM159.4 379.6h.85v.85h-.85zM152.3 382.1h.85v.85h-.85zM158.7 372.4h.85v.85h-.85zM155.7 384.5h.85v.85h-.85zM156.9 377.7h.85v.85h-.85zM155.7 377.4h.85v.85h-.85zM162.1 373.6h.85v.85h-.85zM145.2 380.4h.85v.85h-.85zM157.7 380.0h.85v.85h-.85zM152.8 374.6h.85v.85h-.85zM154.9 375.9h.85v.85h-.85zM151.6 383.0h.85v.85h-.85zM150.9 385.3h.85v.85h-.85zM151.1 380.7h.85v.85h-.85zM154.4 389.5h.85v.85h-.85zM165.8 378.6h.85v.85h-.85zM151.1 383.4h.85v.85h-.85zM161.6 380.7h.85v.85h-.85zM145.4 386.9h.85v.85h-.85zM151.1 387.7h.85v.85h-.85zM159.9 374.2h.85v.85h-.85zM169.4 369.1h.85v.85h-.85zM171.3 368.4h.85v.85h-.85zM152.5 379.7h.85v.85h-.85zM165.2 373.4h.85v.85h-.85zM158.8 370.8h.85v.85h-.85zM167.2 377.9h.85v.85h-.85zM158.1 382.6h.85v.85h-.85zM152.6 379.6h.85v.85h-.85zM145.8 389.1h.85v.85h-.85zM163.7 379.6h.85v.85h-.85zM161.7 380.1h.85v.85h-.85zM149.9 376.7h.85v.85h-.85zM159.9 378.2h.85v.85h-.85zM162.1 374.2h.85v.85h-.85zM150.2 386.5h.85v.85h-.85zM152.3 373.2h.85v.85h-.85zM151.9 377.7h.85v.85h-.85zM148.7 381.9h.85v.85h-.85zM161.8 389.4h.85v.85h-.85zM166.8 370.1h.85v.85h-.85zM163.1 374.7h.85v.85h-.85zM158.4 374.5h.85v.85h-.85zM155.3 370.8h.85v.85h-.85zM167.2 367.8h.85v.85h-.85zM159.5 374.2h.85v.85h-.85zM157.5 372.2h.85v.85h-.85zM153.4 387.0h.85v.85h-.85zM159.6 366.4h.85v.85h-.85zM161.2 368.9h.85v.85h-.85zM157.6 381.8h.85v.85h-.85zM151.7 381.1h.85v.85h-.85zM154.2 383.5h.85v.85h-.85zM161.6 383.9h.85v.85h-.85zM157.9 390.0h.85v.85h-.85zM154.1 385.6h.85v.85h-.85zM155.0 381.1h.85v.85h-.85zM150.0 386.4h.85v.85h-.85zM168.7 372.0h.85v.85h-.85zM155.7 380.2h.85v.85h-.85zM160.3 375.8h.85v.85h-.85zM155.8 381.3h.85v.85h-.85zM164.1 379.8h.85v.85h-.85zM149.1 381.1h.85v.85h-.85zM155.9 384.8h.85v.85h-.85zM162.0 374.7h.85v.85h-.85zM169.3 369.8h.85v.85h-.85zM164.7 382.0h.85v.85h-.85zM166.0 374.2h.85v.85h-.85zM159.5 368.9h.85v.85h-.85zM144.5 384.5h.85v.85h-.85zM160.4 383.0h.85v.85h-.85zM155.1 386.5h.85v.85h-.85zM159.5 386.2h.85v.85h-.85zM145.7 382.4h.85v.85h-.85zM149.7 378.4h.85v.85h-.85zM166.3 367.6h.85v.85h-.85zM150.5 381.5h.85v.85h-.85zM161.4 373.6h.85v.85h-.85zM160.5 380.0h.85v.85h-.85zM151.7 369.5h.85v.85h-.85zM150.0 377.0h.85v.85h-.85zM166.2 368.8h.85v.85h-.85zM149.0 387.0h.85v.85h-.85zM156.1 374.5h.85v.85h-.85zM162.8 380.5h.85v.85h-.85zM157.6 374.5h.85v.85h-.85zM150.2 372.3h.85v.85h-.85zM158.2 380.6h.85v.85h-.85zM149.9 384.3h.85v.85h-.85zM176.7 359.2h.85v.85h-.85zM153.1 379.2h.85v.85h-.85zM159.8 376.6h.85v.85h-.85zM162.1 378.6h.85v.85h-.85zM163.2 375.6h.85v.85h-.85zM157.4 371.1h.85v.85h-.85zM156.2 384.8h.85v.85h-.85zM149.3 384.8h.85v.85h-.85zM151.1 377.6h.85v.85h-.85zM151.9 390.1h.85v.85h-.85zM160.2 376.9h.85v.85h-.85zM155.3 381.2h.85v.85h-.85zM157.6 379.9h.85v.85h-.85zM150.3 369.0h.85v.85h-.85zM160.3 370.1h.85v.85h-.85zM154.9 380.2h.85v.85h-.85zM152.0 385.7h.85v.85h-.85zM154.1 379.7h.85v.85h-.85zM149.7 382.7h.85v.85h-.85zM149.2 384.9h.85v.85h-.85zM164.2 380.0h.85v.85h-.85zM158.5 370.4h.85v.85h-.85zM162.4 380.9h.85v.85h-.85zM169.0 358.1h.85v.85h-.85zM155.9 378.1h.85v.85h-.85zM162.7 369.1h.85v.85h-.85zM162.2 364.3h.85v.85h-.85zM155.9 387.8h.85v.85h-.85zM151.9 386.2h.85v.85h-.85zM156.4 371.3h.85v.85h-.85zM151.8 389.3h.85v.85h-.85zM163.4 371.4h.85v.85h-.85zM163.0 371.0h.85v.85h-.85zM157.4 378.8h.85v.85h-.85zM147.8 387.4h.85v.85h-.85zM153.3 366.1h.85v.85h-.85zM150.5 378.9h.85v.85h-.85zM150.5 378.2h.85v.85h-.85zM151.4 369.1h.85v.85h-.85zM161.5 376.5h.85v.85h-.85zM157.4 377.4h.85v.85h-.85zM156.2 378.3h.85v.85h-.85zM148.8 376.2h.85v.85h-.85zM156.3 385.5h.85v.85h-.85zM157.3 388.2h.85v.85h-.85zM147.1 384.6h.85v.85h-.85zM151.9 389.8h.85v.85h-.85zM166.6 369.6h.85v.85h-.85zM160.5 375.4h.85v.85h-.85zM149.4 383.8h.85v.85h-.85zM159.6 384.2h.85v.85h-.85zM158.1 364.5h.85v.85h-.85zM160.9 377.0h.85v.85h-.85zM162.3 385.4h.85v.85h-.85zM149.3 389.1h.85v.85h-.85zM157.9 377.6h.85v.85h-.85zM154.0 384.3h.85v.85h-.85zM159.5 381.2h.85v.85h-.85zM153.2 374.3h.85v.85h-.85zM164.2 381.6h.85v.85h-.85zM152.2 382.3h.85v.85h-.85zM161.0 366.4h.85v.85h-.85zM157.5 374.8h.85v.85h-.85zM168.9 371.0h.85v.85h-.85zM157.2 376.6h.85v.85h-.85zM157.0 368.9h.85v.85h-.85zM147.6 377.2h.85v.85h-.85zM161.6 375.5h.85v.85h-.85zM163.2 363.2h.85v.85h-.85zM150.7 372.8h.85v.85h-.85zM151.0 381.3h.85v.85h-.85zM155.7 387.6h.85v.85h-.85zM164.3 383.1h.85v.85h-.85zM159.5 374.6h.85v.85h-.85zM152.6 373.7h.85v.85h-.85zM163.9 381.6h.85v.85h-.85zM156.4 374.5h.85v.85h-.85zM160.1 379.8h.85v.85h-.85zM156.8 372.7h.85v.85h-.85zM157.3 375.7h.85v.85h-.85zM160.5 380.2h.85v.85h-.85zM158.6 375.6h.85v.85h-.85zM165.5 377.7h.85v.85h-.85zM163.9 379.2h.85v.85h-.85zM160.0 379.3h.85v.85h-.85zM149.0 374.3h.85v.85h-.85zM149.8 387.7h.85v.85h-.85zM161.6 377.0h.85v.85h-.85zM156.4 390.2h.85v.85h-.85zM153.3 371.5h.85v.85h-.85zM145.9 385.0h.85v.85h-.85zM160.3 381.1h.85v.85h-.85zM154.4 385.7h.85v.85h-.85zM155.5 376.1h.85v.85h-.85zM153.4 386.0h.85v.85h-.85zM161.9 369.3h.85v.85h-.85zM149.5 385.1h.85v.85h-.85zM169.4 363.9h.85v.85h-.85zM147.8 387.9h.85v.85h-.85zM159.0 374.2h.85v.85h-.85zM155.6 382.9h.85v.85h-.85zM144.7 387.6h.85v.85h-.85zM159.6 382.7h.85v.85h-.85zM163.2 374.4h.85v.85h-.85zM160.7 372.9h.85v.85h-.85zM162.4 381.4h.85v.85h-.85zM154.9 367.0h.85v.85h-.85zM152.8 377.7h.85v.85h-.85zM150.5 383.2h.85v.85h-.85zM148.9 387.0h.85v.85h-.85zM167.8 364.8h.85v.85h-.85zM162.4 372.4h.85v.85h-.85zM159.3 376.9h.85v.85h-.85zM164.0 370.3h.85v.85h-.85zM160.5 372.3h.85v.85h-.85zM157.3 378.9h.85v.85h-.85zM162.7 366.1h.85v.85h-.85zM158.3 388.1h.85v.85h-.85zM149.2 385.8h.85v.85h-.85zM159.6 387.5h.85v.85h-.85zM155.5 377.7h.85v.85h-.85zM160.4 376.3h.85v.85h-.85zM151.0 387.7h.85v.85h-.85zM143.7 382.6h.85v.85h-.85zM164.5 371.1h.85v.85h-.85zM153.7 383.6h.85v.85h-.85zM162.9 378.1h.85v.85h-.85zM149.7 381.0h.85v.85h-.85zM162.5 374.7h.85v.85h-.85zM151.8 387.8h.85v.85h-.85zM163.1 387.5h.85v.85h-.85zM149.0 380.7h.85v.85h-.85zM151.4 385.1h.85v.85h-.85zM152.8 388.5h.85v.85h-.85zM151.7 381.2h.85v.85h-.85zM159.4 378.7h.85v.85h-.85zM159.5 374.6h.85v.85h-.85zM157.1 372.7h.85v.85h-.85z" fill="#7fa9d0" fill-opacity="0.45"/>
<path d="M153.2 385.5h.85v.85h-.85zM159.2 384.9h.85v.85h-.85zM154.9 382.1h.85v.85h-.85zM159.2 382.5h.85v.85h-.85zM162.2 385.2h.85v.85h-.85zM156.3 383.8h.85v.85h-.85zM162.0 384.7h.85v.85h-.85zM163.9 384.3h.85v.85h-.85zM155.6 384.0h.85v.85h-.85zM155.2 386.4h.85v.85h-.85zM158.7 386.4h.85v.85h-.85zM159.5 381.7h.85v.85h-.85zM157.0 382.7h.85v.85h-.85zM159.6 381.0h.85v.85h-.85zM155.6 383.3h.85v.85h-.85zM155.5 384.9h.85v.85h-.85zM163.4 382.8h.85v.85h-.85zM152.5 385.7h.85v.85h-.85zM160.6 385.7h.85v.85h-.85zM158.7 390.1h.85v.85h-.85zM161.9 384.1h.85v.85h-.85zM162.3 380.1h.85v.85h-.85zM157.2 382.8h.85v.85h-.85zM158.5 389.2h.85v.85h-.85zM156.0 389.8h.85v.85h-.85zM154.0 389.9h.85v.85h-.85zM151.5 384.4h.85v.85h-.85zM161.5 383.7h.85v.85h-.85zM158.3 384.8h.85v.85h-.85zM158.5 384.3h.85v.85h-.85zM154.2 385.2h.85v.85h-.85zM158.2 382.5h.85v.85h-.85zM159.5 389.3h.85v.85h-.85zM151.7 385.2h.85v.85h-.85zM156.8 385.3h.85v.85h-.85zM158.2 382.9h.85v.85h-.85zM157.7 385.1h.85v.85h-.85zM157.5 389.2h.85v.85h-.85zM158.3 380.9h.85v.85h-.85zM152.0 388.2h.85v.85h-.85zM156.5 383.7h.85v.85h-.85zM152.8 385.6h.85v.85h-.85zM157.5 383.2h.85v.85h-.85zM156.5 387.7h.85v.85h-.85zM160.7 385.7h.85v.85h-.85zM157.2 381.5h.85v.85h-.85zM160.7 388.2h.85v.85h-.85zM162.5 386.8h.85v.85h-.85zM158.8 385.7h.85v.85h-.85zM157.8 388.4h.85v.85h-.85zM160.7 383.3h.85v.85h-.85zM157.8 380.7h.85v.85h-.85zM155.1 384.9h.85v.85h-.85zM166.8 380.3h.85v.85h-.85zM161.2 384.3h.85v.85h-.85zM156.7 387.0h.85v.85h-.85zM150.4 389.6h.85v.85h-.85zM164.9 383.8h.85v.85h-.85zM157.6 385.5h.85v.85h-.85zM160.2 383.0h.85v.85h-.85zM158.2 386.2h.85v.85h-.85zM156.5 386.4h.85v.85h-.85zM159.0 386.6h.85v.85h-.85zM154.2 384.6h.85v.85h-.85zM156.2 388.7h.85v.85h-.85zM158.7 380.3h.85v.85h-.85zM159.1 381.2h.85v.85h-.85zM154.4 386.3h.85v.85h-.85zM163.1 387.9h.85v.85h-.85zM156.5 384.6h.85v.85h-.85zM164.9 380.4h.85v.85h-.85zM163.6 384.3h.85v.85h-.85zM158.1 388.4h.85v.85h-.85zM159.6 382.3h.85v.85h-.85zM152.2 386.6h.85v.85h-.85zM159.7 388.2h.85v.85h-.85zM160.1 388.5h.85v.85h-.85zM160.7 384.8h.85v.85h-.85zM159.4 385.6h.85v.85h-.85zM155.5 385.3h.85v.85h-.85zM158.3 383.7h.85v.85h-.85zM152.4 382.6h.85v.85h-.85zM159.7 385.9h.85v.85h-.85zM158.2 381.7h.85v.85h-.85zM160.9 383.1h.85v.85h-.85zM159.8 383.3h.85v.85h-.85zM149.1 385.5h.85v.85h-.85zM163.3 387.2h.85v.85h-.85zM158.8 380.1h.85v.85h-.85zM156.4 384.6h.85v.85h-.85zM159.5 384.2h.85v.85h-.85zM159.1 380.2h.85v.85h-.85zM155.4 389.5h.85v.85h-.85zM152.4 389.0h.85v.85h-.85zM166.3 384.4h.85v.85h-.85zM152.7 389.8h.85v.85h-.85zM151.0 387.8h.85v.85h-.85zM156.3 388.8h.85v.85h-.85zM162.1 384.3h.85v.85h-.85zM164.4 385.8h.85v.85h-.85zM156.0 382.8h.85v.85h-.85zM166.9 381.4h.85v.85h-.85zM159.3 384.3h.85v.85h-.85zM156.1 381.1h.85v.85h-.85zM157.3 384.8h.85v.85h-.85zM161.4 382.6h.85v.85h-.85zM152.0 383.7h.85v.85h-.85zM157.7 385.7h.85v.85h-.85zM160.5 383.2h.85v.85h-.85zM159.8 384.8h.85v.85h-.85zM164.0 383.1h.85v.85h-.85zM158.3 386.4h.85v.85h-.85zM162.3 381.3h.85v.85h-.85zM156.1 384.7h.85v.85h-.85zM161.8 384.0h.85v.85h-.85zM170.2 385.0h.85v.85h-.85zM165.3 387.2h.85v.85h-.85zM161.1 380.2h.85v.85h-.85zM163.5 384.6h.85v.85h-.85zM153.4 386.4h.85v.85h-.85zM160.6 386.9h.85v.85h-.85zM158.4 383.4h.85v.85h-.85zM160.6 382.2h.85v.85h-.85zM157.5 387.1h.85v.85h-.85zM152.5 387.5h.85v.85h-.85zM150.6 384.5h.85v.85h-.85zM153.3 386.0h.85v.85h-.85zM160.4 384.1h.85v.85h-.85zM161.2 384.3h.85v.85h-.85zM157.0 386.5h.85v.85h-.85zM156.9 385.6h.85v.85h-.85zM161.6 382.4h.85v.85h-.85zM162.1 380.8h.85v.85h-.85zM157.0 380.5h.85v.85h-.85zM155.8 389.8h.85v.85h-.85zM159.1 388.1h.85v.85h-.85zM152.4 383.8h.85v.85h-.85zM159.5 386.8h.85v.85h-.85zM160.9 379.6h.85v.85h-.85zM159.7 384.3h.85v.85h-.85zM158.2 386.2h.85v.85h-.85zM156.8 380.7h.85v.85h-.85zM153.9 382.2h.85v.85h-.85zM152.9 386.0h.85v.85h-.85zM162.6 381.7h.85v.85h-.85zM155.0 382.7h.85v.85h-.85zM151.4 386.9h.85v.85h-.85zM156.0 384.8h.85v.85h-.85zM154.2 387.3h.85v.85h-.85zM153.4 387.7h.85v.85h-.85zM155.4 387.8h.85v.85h-.85zM154.5 387.1h.85v.85h-.85zM159.4 384.3h.85v.85h-.85zM163.8 383.8h.85v.85h-.85zM154.5 387.8h.85v.85h-.85zM154.8 384.4h.85v.85h-.85zM157.8 385.5h.85v.85h-.85zM164.1 378.5h.85v.85h-.85zM156.8 388.3h.85v.85h-.85zM157.2 386.0h.85v.85h-.85zM163.4 380.1h.85v.85h-.85zM158.0 387.1h.85v.85h-.85zM155.6 380.8h.85v.85h-.85zM154.1 386.5h.85v.85h-.85zM158.5 389.8h.85v.85h-.85zM162.7 379.4h.85v.85h-.85zM161.6 386.4h.85v.85h-.85zM163.8 382.9h.85v.85h-.85zM155.7 386.0h.85v.85h-.85zM163.5 385.1h.85v.85h-.85zM164.1 385.4h.85v.85h-.85zM155.6 382.9h.85v.85h-.85zM164.7 379.0h.85v.85h-.85zM156.5 384.5h.85v.85h-.85zM154.4 384.4h.85v.85h-.85zM157.6 383.6h.85v.85h-.85zM158.3 387.4h.85v.85h-.85zM154.8 384.7h.85v.85h-.85zM151.3 388.7h.85v.85h-.85zM160.3 388.4h.85v.85h-.85zM161.0 383.4h.85v.85h-.85zM156.4 384.6h.85v.85h-.85zM153.3 388.3h.85v.85h-.85zM155.6 383.7h.85v.85h-.85zM159.7 384.8h.85v.85h-.85zM155.6 385.0h.85v.85h-.85zM156.0 389.2h.85v.85h-.85zM161.5 382.0h.85v.85h-.85zM157.7 388.8h.85v.85h-.85zM156.7 390.1h.85v.85h-.85zM159.4 386.4h.85v.85h-.85zM150.1 389.4h.85v.85h-.85zM159.1 386.2h.85v.85h-.85zM159.6 385.9h.85v.85h-.85zM155.9 388.0h.85v.85h-.85zM158.0 382.1h.85v.85h-.85zM154.0 386.5h.85v.85h-.85zM159.0 378.7h.85v.85h-.85zM150.2 390.0h.85v.85h-.85zM152.1 385.9h.85v.85h-.85zM155.6 387.1h.85v.85h-.85zM163.0 387.9h.85v.85h-.85zM154.1 389.4h.85v.85h-.85zM153.3 387.1h.85v.85h-.85zM158.4 386.5h.85v.85h-.85zM154.8 389.5h.85v.85h-.85zM157.5 385.0h.85v.85h-.85zM156.8 382.4h.85v.85h-.85zM160.5 385.2h.85v.85h-.85zM159.5 389.6h.85v.85h-.85zM154.6 385.1h.85v.85h-.85zM157.8 387.3h.85v.85h-.85zM157.1 387.7h.85v.85h-.85zM159.5 379.7h.85v.85h-.85zM155.3 380.2h.85v.85h-.85zM156.7 384.2h.85v.85h-.85zM160.0 384.9h.85v.85h-.85zM157.6 388.5h.85v.85h-.85zM160.0 381.0h.85v.85h-.85zM155.2 386.6h.85v.85h-.85zM164.1 382.7h.85v.85h-.85zM157.2 385.9h.85v.85h-.85zM160.7 384.0h.85v.85h-.85zM158.9 383.6h.85v.85h-.85zM155.8 383.4h.85v.85h-.85zM160.2 382.8h.85v.85h-.85zM159.8 385.5h.85v.85h-.85zM161.4 376.7h.85v.85h-.85zM154.2 382.7h.85v.85h-.85zM157.2 387.4h.85v.85h-.85zM167.2 386.6h.85v.85h-.85zM162.8 384.6h.85v.85h-.85zM156.4 386.9h.85v.85h-.85zM149.7 389.8h.85v.85h-.85zM157.8 386.7h.85v.85h-.85zM154.0 383.1h.85v.85h-.85zM155.4 385.5h.85v.85h-.85zM159.1 383.7h.85v.85h-.85zM159.1 386.5h.85v.85h-.85zM153.5 385.9h.85v.85h-.85zM152.0 385.1h.85v.85h-.85zM161.2 382.1h.85v.85h-.85zM164.7 384.5h.85v.85h-.85zM161.1 384.4h.85v.85h-.85zM161.0 387.1h.85v.85h-.85zM158.2 383.4h.85v.85h-.85zM157.1 383.9h.85v.85h-.85zM155.2 381.1h.85v.85h-.85zM155.9 386.4h.85v.85h-.85zM156.0 383.4h.85v.85h-.85zM159.3 385.8h.85v.85h-.85zM156.2 386.3h.85v.85h-.85zM154.2 388.3h.85v.85h-.85zM154.1 385.1h.85v.85h-.85zM158.3 383.7h.85v.85h-.85zM163.4 378.7h.85v.85h-.85zM158.3 381.4h.85v.85h-.85zM159.0 381.1h.85v.85h-.85zM160.0 385.9h.85v.85h-.85zM164.1 386.5h.85v.85h-.85zM156.1 388.1h.85v.85h-.85zM156.1 385.2h.85v.85h-.85zM155.9 380.7h.85v.85h-.85zM160.0 378.8h.85v.85h-.85zM156.9 386.7h.85v.85h-.85zM158.2 380.6h.85v.85h-.85zM155.4 387.5h.85v.85h-.85zM161.9 388.2h.85v.85h-.85zM151.1 388.1h.85v.85h-.85zM156.0 387.6h.85v.85h-.85zM151.5 386.3h.85v.85h-.85zM160.4 382.5h.85v.85h-.85zM156.5 382.7h.85v.85h-.85zM161.9 380.2h.85v.85h-.85zM154.4 385.0h.85v.85h-.85zM158.8 382.4h.85v.85h-.85zM160.0 385.3h.85v.85h-.85zM158.8 384.5h.85v.85h-.85zM159.5 381.3h.85v.85h-.85zM153.3 385.1h.85v.85h-.85zM153.7 388.1h.85v.85h-.85zM165.0 386.4h.85v.85h-.85zM159.5 385.5h.85v.85h-.85zM155.3 382.1h.85v.85h-.85zM159.8 380.4h.85v.85h-.85zM158.9 384.3h.85v.85h-.85zM160.6 384.4h.85v.85h-.85zM158.2 383.3h.85v.85h-.85zM151.4 385.8h.85v.85h-.85zM160.4 387.1h.85v.85h-.85zM162.9 380.9h.85v.85h-.85zM154.3 387.9h.85v.85h-.85zM159.0 380.5h.85v.85h-.85zM155.7 389.9h.85v.85h-.85zM151.0 387.3h.85v.85h-.85zM156.1 382.6h.85v.85h-.85zM151.5 384.8h.85v.85h-.85zM148.3 386.3h.85v.85h-.85zM165.9 383.0h.85v.85h-.85zM156.8 382.1h.85v.85h-.85zM159.1 383.4h.85v.85h-.85zM154.7 389.7h.85v.85h-.85zM159.4 382.1h.85v.85h-.85zM163.3 383.3h.85v.85h-.85zM159.7 384.9h.85v.85h-.85zM162.2 385.5h.85v.85h-.85zM156.5 387.3h.85v.85h-.85zM156.3 385.8h.85v.85h-.85zM163.9 380.4h.85v.85h-.85zM154.0 385.0h.85v.85h-.85zM155.9 389.1h.85v.85h-.85zM163.7 382.1h.85v.85h-.85zM158.5 383.8h.85v.85h-.85zM160.3 386.1h.85v.85h-.85zM160.6 386.3h.85v.85h-.85zM165.0 382.6h.85v.85h-.85zM160.4 383.8h.85v.85h-.85zM157.9 385.6h.85v.85h-.85zM157.6 386.0h.85v.85h-.85zM154.6 385.5h.85v.85h-.85zM155.6 382.4h.85v.85h-.85zM155.2 384.4h.85v.85h-.85zM157.2 380.9h.85v.85h-.85zM156.8 382.2h.85v.85h-.85zM154.8 386.4h.85v.85h-.85zM161.9 384.6h.85v.85h-.85zM156.0 384.3h.85v.85h-.85zM162.8 379.2h.85v.85h-.85zM162.0 379.7h.85v.85h-.85zM155.4 385.8h.85v.85h-.85zM157.0 389.8h.85v.85h-.85zM159.6 384.4h.85v.85h-.85zM161.3 384.1h.85v.85h-.85zM154.8 388.9h.85v.85h-.85zM163.4 387.0h.85v.85h-.85zM156.3 387.5h.85v.85h-.85zM162.2 390.3h.85v.85h-.85zM151.8 383.9h.85v.85h-.85zM162.2 385.1h.85v.85h-.85zM156.6 377.3h.85v.85h-.85zM159.4 384.0h.85v.85h-.85zM148.5 386.0h.85v.85h-.85zM157.8 385.6h.85v.85h-.85zM160.6 383.5h.85v.85h-.85zM154.5 384.9h.85v.85h-.85zM150.0 384.1h.85v.85h-.85zM165.2 381.1h.85v.85h-.85zM157.5 390.3h.85v.85h-.85zM161.7 384.3h.85v.85h-.85zM160.5 383.5h.85v.85h-.85zM154.4 388.7h.85v.85h-.85zM158.3 389.3h.85v.85h-.85zM156.8 384.2h.85v.85h-.85zM159.1 384.1h.85v.85h-.85zM156.6 382.9h.85v.85h-.85zM158.7 385.6h.85v.85h-.85zM164.6 383.0h.85v.85h-.85zM151.3 388.1h.85v.85h-.85zM166.3 381.4h.85v.85h-.85zM154.8 385.4h.85v.85h-.85zM147.1 387.0h.85v.85h-.85zM157.1 381.0h.85v.85h-.85z" fill="#3f86c2" fill-opacity="0.6"/>
<path d="M169.1 365.0h.85v.85h-.85zM165.6 370.4h.85v.85h-.85zM169.2 374.6h.85v.85h-.85zM170.1 367.4h.85v.85h-.85zM167.5 369.3h.85v.85h-.85zM169.7 365.5h.85v.85h-.85zM168.9 371.7h.85v.85h-.85zM167.0 369.0h.85v.85h-.85zM169.0 368.3h.85v.85h-.85zM168.1 367.6h.85v.85h-.85zM168.2 375.8h.85v.85h-.85zM170.3 360.9h.85v.85h-.85zM168.4 369.4h.85v.85h-.85zM168.4 364.3h.85v.85h-.85zM168.1 370.0h.85v.85h-.85zM167.3 371.7h.85v.85h-.85zM164.7 368.9h.85v.85h-.85zM168.4 370.4h.85v.85h-.85zM168.1 367.9h.85v.85h-.85zM168.6 372.6h.85v.85h-.85zM169.6 367.1h.85v.85h-.85zM167.6 373.8h.85v.85h-.85zM169.1 371.2h.85v.85h-.85zM167.9 366.8h.85v.85h-.85zM168.6 366.7h.85v.85h-.85zM170.0 369.9h.85v.85h-.85zM165.1 375.9h.85v.85h-.85zM170.3 370.1h.85v.85h-.85zM167.6 367.2h.85v.85h-.85zM169.7 370.8h.85v.85h-.85zM168.4 365.1h.85v.85h-.85zM166.1 373.2h.85v.85h-.85zM167.1 368.5h.85v.85h-.85zM169.0 372.0h.85v.85h-.85zM165.3 371.0h.85v.85h-.85zM170.2 366.4h.85v.85h-.85zM167.8 372.1h.85v.85h-.85zM166.6 367.2h.85v.85h-.85zM168.3 374.6h.85v.85h-.85zM169.8 367.1h.85v.85h-.85zM169.8 365.7h.85v.85h-.85zM166.6 365.7h.85v.85h-.85zM168.7 371.8h.85v.85h-.85zM168.8 368.3h.85v.85h-.85zM167.7 373.8h.85v.85h-.85zM168.2 364.3h.85v.85h-.85zM170.3 364.2h.85v.85h-.85zM168.9 368.4h.85v.85h-.85zM169.9 367.9h.85v.85h-.85zM170.1 367.5h.85v.85h-.85zM167.6 368.4h.85v.85h-.85zM169.3 365.0h.85v.85h-.85zM169.7 366.5h.85v.85h-.85zM166.9 368.0h.85v.85h-.85zM168.1 375.6h.85v.85h-.85zM169.4 367.7h.85v.85h-.85zM167.0 377.7h.85v.85h-.85zM167.9 369.8h.85v.85h-.85zM167.7 374.7h.85v.85h-.85zM168.6 367.3h.85v.85h-.85zM168.6 365.4h.85v.85h-.85zM166.7 370.8h.85v.85h-.85zM164.1 379.1h.85v.85h-.85zM171.2 361.3h.85v.85h-.85zM168.1 364.0h.85v.85h-.85zM168.6 369.6h.85v.85h-.85zM169.4 363.1h.85v.85h-.85zM167.4 368.2h.85v.85h-.85zM167.9 377.6h.85v.85h-.85zM168.0 369.5h.85v.85h-.85zM167.6 373.0h.85v.85h-.85zM172.1 368.1h.85v.85h-.85zM170.6 362.4h.85v.85h-.85zM169.9 367.2h.85v.85h-.85zM170.1 370.4h.85v.85h-.85zM169.3 362.0h.85v.85h-.85zM168.5 367.2h.85v.85h-.85zM169.0 368.4h.85v.85h-.85zM169.8 361.5h.85v.85h-.85zM167.2 370.4h.85v.85h-.85zM168.8 367.1h.85v.85h-.85zM168.3 369.5h.85v.85h-.85zM169.8 366.7h.85v.85h-.85zM168.7 362.4h.85v.85h-.85zM164.4 369.4h.85v.85h-.85zM168.8 360.5h.85v.85h-.85zM168.9 368.0h.85v.85h-.85zM168.3 366.7h.85v.85h-.85zM167.7 372.9h.85v.85h-.85zM168.8 368.4h.85v.85h-.85zM167.6 370.9h.85v.85h-.85zM170.1 366.7h.85v.85h-.85zM167.8 365.8h.85v.85h-.85zM168.4 365.8h.85v.85h-.85zM166.2 375.1h.85v.85h-.85zM167.4 363.4h.85v.85h-.85zM167.2 377.1h.85v.85h-.85zM168.1 364.8h.85v.85h-.85zM166.7 373.9h.85v.85h-.85zM168.9 369.1h.85v.85h-.85zM168.0 371.3h.85v.85h-.85zM170.6 367.8h.85v.85h-.85zM168.1 364.7h.85v.85h-.85zM169.0 373.8h.85v.85h-.85zM169.3 363.5h.85v.85h-.85zM168.6 373.4h.85v.85h-.85zM167.4 372.2h.85v.85h-.85zM170.1 372.5h.85v.85h-.85zM166.0 366.3h.85v.85h-.85zM168.9 370.9h.85v.85h-.85zM167.8 369.8h.85v.85h-.85zM167.7 374.2h.85v.85h-.85zM165.0 374.6h.85v.85h-.85zM166.4 369.4h.85v.85h-.85zM166.0 369.1h.85v.85h-.85zM168.3 369.3h.85v.85h-.85zM170.9 364.8h.85v.85h-.85zM168.8 369.7h.85v.85h-.85zM168.7 373.8h.85v.85h-.85zM168.5 369.4h.85v.85h-.85zM168.1 369.4h.85v.85h-.85zM168.2 372.8h.85v.85h-.85zM168.3 369.4h.85v.85h-.85zM168.2 371.9h.85v.85h-.85zM167.6 373.4h.85v.85h-.85zM167.5 372.8h.85v.85h-.85zM171.1 366.1h.85v.85h-.85zM168.2 365.2h.85v.85h-.85zM169.4 367.8h.85v.85h-.85zM169.6 365.1h.85v.85h-.85zM169.1 374.5h.85v.85h-.85zM168.9 367.2h.85v.85h-.85zM166.4 371.8h.85v.85h-.85zM169.3 370.0h.85v.85h-.85zM166.6 367.9h.85v.85h-.85zM166.9 367.6h.85v.85h-.85zM167.9 370.7h.85v.85h-.85zM171.1 366.0h.85v.85h-.85zM170.5 360.5h.85v.85h-.85zM170.6 368.9h.85v.85h-.85zM169.0 371.2h.85v.85h-.85zM169.2 374.7h.85v.85h-.85zM169.5 361.5h.85v.85h-.85zM165.7 378.4h.85v.85h-.85zM168.2 374.0h.85v.85h-.85zM167.8 367.6h.85v.85h-.85zM167.8 371.0h.85v.85h-.85zM168.6 366.7h.85v.85h-.85zM169.1 370.3h.85v.85h-.85zM166.9 367.2h.85v.85h-.85zM165.4 372.1h.85v.85h-.85zM168.3 366.7h.85v.85h-.85zM167.4 370.0h.85v.85h-.85zM168.3 371.1h.85v.85h-.85zM169.5 369.0h.85v.85h-.85zM170.0 363.5h.85v.85h-.85zM169.2 369.3h.85v.85h-.85zM166.8 368.9h.85v.85h-.85zM169.0 368.6h.85v.85h-.85zM166.4 369.8h.85v.85h-.85zM170.6 369.1h.85v.85h-.85zM168.4 373.8h.85v.85h-.85zM167.0 370.4h.85v.85h-.85zM169.7 366.1h.85v.85h-.85zM166.6 373.5h.85v.85h-.85zM170.7 357.1h.85v.85h-.85zM168.5 364.5h.85v.85h-.85zM167.9 364.9h.85v.85h-.85zM172.2 361.5h.85v.85h-.85zM168.4 366.6h.85v.85h-.85zM166.8 369.6h.85v.85h-.85zM168.6 374.9h.85v.85h-.85zM168.7 374.1h.85v.85h-.85zM166.7 371.6h.85v.85h-.85zM167.7 364.6h.85v.85h-.85zM173.8 360.8h.85v.85h-.85zM168.7 366.1h.85v.85h-.85zM167.4 366.7h.85v.85h-.85zM169.8 365.7h.85v.85h-.85zM168.1 370.1h.85v.85h-.85zM166.5 372.5h.85v.85h-.85zM168.0 371.1h.85v.85h-.85zM167.7 370.1h.85v.85h-.85zM169.1 371.5h.85v.85h-.85zM167.3 374.0h.85v.85h-.85zM166.8 370.5h.85v.85h-.85zM168.5 369.4h.85v.85h-.85zM164.6 370.8h.85v.85h-.85zM168.0 372.8h.85v.85h-.85zM167.3 375.9h.85v.85h-.85zM165.6 373.1h.85v.85h-.85zM169.1 368.2h.85v.85h-.85zM168.7 371.9h.85v.85h-.85zM167.1 372.9h.85v.85h-.85zM169.9 366.2h.85v.85h-.85zM164.9 369.7h.85v.85h-.85zM167.0 367.2h.85v.85h-.85zM168.9 365.5h.85v.85h-.85zM172.0 366.2h.85v.85h-.85zM166.4 370.8h.85v.85h-.85zM170.6 368.5h.85v.85h-.85zM166.8 374.9h.85v.85h-.85zM167.6 377.9h.85v.85h-.85zM167.5 372.4h.85v.85h-.85zM169.1 366.5h.85v.85h-.85zM168.1 373.6h.85v.85h-.85zM169.0 368.0h.85v.85h-.85zM169.0 374.4h.85v.85h-.85zM169.7 369.0h.85v.85h-.85zM168.8 363.0h.85v.85h-.85zM168.5 367.2h.85v.85h-.85zM169.4 365.6h.85v.85h-.85zM169.0 364.6h.85v.85h-.85zM169.6 364.8h.85v.85h-.85zM168.3 371.3h.85v.85h-.85zM167.8 369.9h.85v.85h-.85zM169.9 373.3h.85v.85h-.85zM165.6 369.7h.85v.85h-.85zM169.3 371.1h.85v.85h-.85zM167.6 370.5h.85v.85h-.85zM168.0 377.6h.85v.85h-.85zM168.0 365.4h.85v.85h-.85zM166.0 367.9h.85v.85h-.85zM170.2 365.2h.85v.85h-.85zM171.2 367.5h.85v.85h-.85zM168.9 370.7h.85v.85h-.85zM169.5 370.8h.85v.85h-.85zM166.9 369.2h.85v.85h-.85zM167.5 370.7h.85v.85h-.85zM167.9 365.4h.85v.85h-.85zM167.3 376.9h.85v.85h-.85zM171.4 361.9h.85v.85h-.85zM168.9 368.3h.85v.85h-.85zM167.0 373.4h.85v.85h-.85zM168.2 375.2h.85v.85h-.85zM169.0 367.2h.85v.85h-.85zM164.4 374.2h.85v.85h-.85zM169.6 365.0h.85v.85h-.85zM169.6 369.8h.85v.85h-.85zM165.7 372.1h.85v.85h-.85zM168.8 371.2h.85v.85h-.85zM168.5 368.8h.85v.85h-.85zM167.8 368.9h.85v.85h-.85zM168.3 365.5h.85v.85h-.85zM169.3 366.8h.85v.85h-.85zM169.1 366.4h.85v.85h-.85zM168.9 368.8h.85v.85h-.85zM169.6 369.0h.85v.85h-.85zM169.7 366.7h.85v.85h-.85zM168.2 368.4h.85v.85h-.85zM166.4 371.3h.85v.85h-.85zM169.9 369.7h.85v.85h-.85zM167.0 372.0h.85v.85h-.85zM169.4 362.9h.85v.85h-.85zM168.8 369.6h.85v.85h-.85zM169.4 368.6h.85v.85h-.85zM165.7 365.7h.85v.85h-.85zM171.2 363.8h.85v.85h-.85zM170.2 371.1h.85v.85h-.85zM168.4 365.0h.85v.85h-.85zM170.3 366.3h.85v.85h-.85zM169.1 369.8h.85v.85h-.85zM169.7 370.8h.85v.85h-.85zM166.2 367.1h.85v.85h-.85zM168.5 368.9h.85v.85h-.85zM169.5 367.2h.85v.85h-.85zM168.0 376.7h.85v.85h-.85zM170.3 370.5h.85v.85h-.85zM169.8 364.3h.85v.85h-.85zM168.2 369.1h.85v.85h-.85zM166.7 368.4h.85v.85h-.85zM168.5 364.6h.85v.85h-.85zM169.1 369.8h.85v.85h-.85zM168.0 368.5h.85v.85h-.85zM169.2 369.7h.85v.85h-.85zM168.8 364.2h.85v.85h-.85zM165.9 379.6h.85v.85h-.85zM167.3 369.2h.85v.85h-.85zM165.6 370.1h.85v.85h-.85zM167.2 373.5h.85v.85h-.85zM164.4 369.7h.85v.85h-.85zM167.7 368.3h.85v.85h-.85zM167.2 369.2h.85v.85h-.85zM166.0 373.3h.85v.85h-.85zM170.1 367.3h.85v.85h-.85zM167.5 374.7h.85v.85h-.85zM169.0 364.6h.85v.85h-.85zM167.5 368.2h.85v.85h-.85zM168.2 373.5h.85v.85h-.85zM167.3 370.1h.85v.85h-.85zM168.5 364.8h.85v.85h-.85zM167.6 372.3h.85v.85h-.85zM170.0 360.4h.85v.85h-.85zM169.3 366.8h.85v.85h-.85zM170.2 368.8h.85v.85h-.85zM171.2 366.3h.85v.85h-.85zM167.7 367.1h.85v.85h-.85zM166.2 374.0h.85v.85h-.85zM169.1 371.0h.85v.85h-.85zM168.8 363.3h.85v.85h-.85zM167.7 369.2h.85v.85h-.85zM168.5 371.6h.85v.85h-.85zM170.4 367.3h.85v.85h-.85zM165.2 369.8h.85v.85h-.85zM165.1 370.9h.85v.85h-.85zM166.5 372.5h.85v.85h-.85zM168.0 373.5h.85v.85h-.85zM169.9 365.4h.85v.85h-.85zM169.7 367.3h.85v.85h-.85zM169.0 373.0h.85v.85h-.85zM166.6 371.3h.85v.85h-.85zM170.6 363.4h.85v.85h-.85zM168.6 369.2h.85v.85h-.85zM167.7 365.5h.85v.85h-.85zM167.3 367.2h.85v.85h-.85zM169.9 367.9h.85v.85h-.85zM169.3 363.6h.85v.85h-.85zM169.0 368.7h.85v.85h-.85zM169.9 364.6h.85v.85h-.85zM169.5 372.3h.85v.85h-.85zM171.0 362.3h.85v.85h-.85zM166.6 366.4h.85v.85h-.85zM169.7 369.3h.85v.85h-.85zM168.8 365.5h.85v.85h-.85zM170.2 372.3h.85v.85h-.85zM168.2 368.9h.85v.85h-.85zM170.1 368.6h.85v.85h-.85zM170.3 365.1h.85v.85h-.85zM168.8 367.3h.85v.85h-.85zM167.5 369.3h.85v.85h-.85zM167.9 371.5h.85v.85h-.85zM167.9 370.1h.85v.85h-.85zM167.1 366.6h.85v.85h-.85zM170.4 362.9h.85v.85h-.85zM171.0 368.8h.85v.85h-.85zM164.9 371.6h.85v.85h-.85zM167.7 370.1h.85v.85h-.85zM168.0 367.5h.85v.85h-.85zM170.2 366.2h.85v.85h-.85zM169.7 364.9h.85v.85h-.85zM167.3 375.2h.85v.85h-.85zM167.9 366.0h.85v.85h-.85zM168.0 373.2h.85v.85h-.85zM168.1 367.0h.85v.85h-.85zM169.2 371.3h.85v.85h-.85zM168.0 368.5h.85v.85h-.85zM167.8 379.3h.85v.85h-.85zM168.0 375.6h.85v.85h-.85zM168.1 370.9h.85v.85h-.85zM165.3 373.9h.85v.85h-.85zM168.4 368.0h.85v.85h-.85zM167.7 365.3h.85v.85h-.85zM166.1 372.8h.85v.85h-.85zM167.4 370.2h.85v.85h-.85zM168.0 367.8h.85v.85h-.85zM167.2 377.1h.85v.85h-.85zM166.7 369.7h.85v.85h-.85zM167.9 365.8h.85v.85h-.85zM166.9 374.1h.85v.85h-.85zM169.7 367.8h.85v.85h-.85zM173.1 365.5h.85v.85h-.85zM170.1 363.9h.85v.85h-.85zM169.9 372.9h.85v.85h-.85zM167.7 376.2h.85v.85h-.85zM167.1 366.9h.85v.85h-.85zM168.2 366.5h.85v.85h-.85zM169.2 364.1h.85v.85h-.85zM168.4 362.2h.85v.85h-.85zM168.3 372.9h.85v.85h-.85zM167.9 370.8h.85v.85h-.85zM169.9 363.2h.85v.85h-.85zM166.4 372.1h.85v.85h-.85zM168.7 367.7h.85v.85h-.85zM166.9 375.4h.85v.85h-.85zM166.6 370.6h.85v.85h-.85zM168.2 371.8h.85v.85h-.85zM167.6 367.3h.85v.85h-.85zM171.3 362.2h.85v.85h-.85zM169.5 367.0h.85v.85h-.85zM167.6 370.0h.85v.85h-.85zM167.9 370.8h.85v.85h-.85zM164.5 374.3h.85v.85h-.85zM168.4 365.7h.85v.85h-.85zM167.7 378.1h.85v.85h-.85zM171.0 367.7h.85v.85h-.85zM168.6 367.7h.85v.85h-.85zM170.4 364.8h.85v.85h-.85zM167.1 373.3h.85v.85h-.85zM166.9 368.4h.85v.85h-.85zM170.4 360.7h.85v.85h-.85zM168.2 369.7h.85v.85h-.85zM168.7 363.6h.85v.85h-.85zM168.0 368.5h.85v.85h-.85zM171.2 368.8h.85v.85h-.85zM167.2 373.8h.85v.85h-.85zM169.3 367.5h.85v.85h-.85zM167.9 368.7h.85v.85h-.85zM166.0 370.1h.85v.85h-.85zM169.7 372.3h.85v.85h-.85zM171.1 364.1h.85v.85h-.85zM169.2 359.6h.85v.85h-.85zM167.9 365.4h.85v.85h-.85zM169.5 361.8h.85v.85h-.85zM166.8 367.5h.85v.85h-.85zM168.9 371.3h.85v.85h-.85zM166.9 377.3h.85v.85h-.85zM168.5 366.0h.85v.85h-.85zM168.8 368.4h.85v.85h-.85zM169.5 368.7h.85v.85h-.85zM171.5 368.8h.85v.85h-.85zM167.4 373.2h.85v.85h-.85zM169.4 364.2h.85v.85h-.85zM167.2 367.9h.85v.85h-.85zM164.7 376.4h.85v.85h-.85zM168.0 373.9h.85v.85h-.85zM167.5 370.6h.85v.85h-.85zM169.4 371.1h.85v.85h-.85zM168.8 364.9h.85v.85h-.85zM171.6 367.7h.85v.85h-.85zM170.3 372.0h.85v.85h-.85zM170.4 367.8h.85v.85h-.85zM169.0 370.4h.85v.85h-.85zM166.1 375.1h.85v.85h-.85zM166.9 372.6h.85v.85h-.85zM166.8 373.7h.85v.85h-.85zM167.6 378.8h.85v.85h-.85zM168.6 370.6h.85v.85h-.85zM167.0 370.0h.85v.85h-.85zM168.2 368.3h.85v.85h-.85zM167.7 367.0h.85v.85h-.85zM169.4 366.3h.85v.85h-.85zM167.1 372.1h.85v.85h-.85zM167.1 370.2h.85v.85h-.85zM167.6 367.0h.85v.85h-.85zM168.0 366.8h.85v.85h-.85zM166.5 372.9h.85v.85h-.85zM167.9 364.7h.85v.85h-.85zM167.7 370.6h.85v.85h-.85zM168.9 369.6h.85v.85h-.85zM168.7 370.7h.85v.85h-.85zM167.6 367.4h.85v.85h-.85zM169.2 366.5h.85v.85h-.85zM168.3 371.4h.85v.85h-.85zM169.7 371.5h.85v.85h-.85zM167.3 369.3h.85v.85h-.85zM169.1 363.1h.85v.85h-.85zM166.5 373.8h.85v.85h-.85zM167.4 367.2h.85v.85h-.85zM169.5 369.4h.85v.85h-.85zM169.7 366.2h.85v.85h-.85zM167.9 368.6h.85v.85h-.85zM168.8 361.6h.85v.85h-.85zM167.3 373.0h.85v.85h-.85zM167.2 370.5h.85v.85h-.85zM168.5 370.7h.85v.85h-.85zM167.6 366.2h.85v.85h-.85zM172.0 361.7h.85v.85h-.85zM170.8 359.7h.85v.85h-.85zM168.5 368.3h.85v.85h-.85zM171.1 372.4h.85v.85h-.85zM169.8 363.7h.85v.85h-.85zM167.1 368.2h.85v.85h-.85zM167.6 371.1h.85v.85h-.85zM167.2 369.9h.85v.85h-.85zM170.5 371.2h.85v.85h-.85zM165.6 369.7h.85v.85h-.85zM167.8 374.4h.85v.85h-.85zM167.8 376.4h.85v.85h-.85zM168.9 373.4h.85v.85h-.85zM167.0 369.8h.85v.85h-.85zM169.8 369.1h.85v.85h-.85zM165.6 372.0h.85v.85h-.85zM168.6 371.0h.85v.85h-.85zM167.4 376.5h.85v.85h-.85zM168.5 373.9h.85v.85h-.85zM168.9 368.7h.85v.85h-.85zM167.8 365.8h.85v.85h-.85zM169.6 370.1h.85v.85h-.85zM169.7 366.0h.85v.85h-.85zM166.8 369.9h.85v.85h-.85z" fill="#2f86c6" fill-opacity="0.72"/>
<rect x="162.7" y="358.2" width="16.6" height="21.6" fill="none" stroke="#8e1a36" stroke-width="1.6"/>
<text x="184.7" y="356" font-size="7.6" text-anchor="end" font-weight="bold" fill="#000" transform="translate(184.7 356) scale(1 1.1) translate(-184.7 -356)">9.3</text>
<rect x="192.5" y="347.5" width="48.8" height="43.8" fill="#fff" stroke="#a8a8a8" stroke-width="0.8"/>
<path d="M205.1 381.3h.85v.85h-.85zM213.3 370.3h.85v.85h-.85zM204.0 386.1h.85v.85h-.85zM212.8 388.9h.85v.85h-.85zM210.4 372.7h.85v.85h-.85zM200.4 380.0h.85v.85h-.85zM207.5 381.1h.85v.85h-.85zM206.6 376.7h.85v.85h-.85zM205.9 380.3h.85v.85h-.85zM210.9 377.8h.85v.85h-.85zM201.9 376.7h.85v.85h-.85zM216.5 372.9h.85v.85h-.85zM206.0 380.6h.85v.85h-.85zM214.3 373.2h.85v.85h-.85zM208.2 377.8h.85v.85h-.85zM210.8 371.5h.85v.85h-.85zM208.4 385.0h.85v.85h-.85zM214.6 378.3h.85v.85h-.85zM209.0 387.8h.85v.85h-.85zM211.6 385.0h.85v.85h-.85zM199.4 378.9h.85v.85h-.85zM212.2 374.9h.85v.85h-.85zM204.3 376.3h.85v.85h-.85zM216.5 366.5h.85v.85h-.85zM207.8 371.4h.85v.85h-.85zM222.6 366.3h.85v.85h-.85zM201.6 373.4h.85v.85h-.85zM209.3 372.2h.85v.85h-.85zM202.4 377.0h.85v.85h-.85zM208.2 378.1h.85v.85h-.85zM214.2 375.6h.85v.85h-.85zM217.2 379.5h.85v.85h-.85zM218.4 378.6h.85v.85h-.85zM207.5 382.8h.85v.85h-.85zM207.2 370.8h.85v.85h-.85zM199.6 389.4h.85v.85h-.85zM198.9 385.2h.85v.85h-.85zM200.5 386.0h.85v.85h-.85zM205.8 378.1h.85v.85h-.85zM201.7 370.8h.85v.85h-.85zM207.6 372.1h.85v.85h-.85zM205.2 383.4h.85v.85h-.85zM213.8 379.4h.85v.85h-.85zM216.5 365.2h.85v.85h-.85zM211.4 386.1h.85v.85h-.85zM209.6 371.8h.85v.85h-.85zM209.6 375.2h.85v.85h-.85zM203.0 389.0h.85v.85h-.85zM206.0 374.2h.85v.85h-.85zM201.7 387.6h.85v.85h-.85zM208.2 385.9h.85v.85h-.85zM205.3 375.7h.85v.85h-.85zM203.0 376.8h.85v.85h-.85zM223.6 369.7h.85v.85h-.85zM205.1 388.7h.85v.85h-.85zM211.3 376.0h.85v.85h-.85zM211.1 378.8h.85v.85h-.85zM214.3 384.6h.85v.85h-.85zM205.1 381.1h.85v.85h-.85zM205.9 387.8h.85v.85h-.85zM209.5 382.8h.85v.85h-.85zM212.8 372.3h.85v.85h-.85zM207.9 387.4h.85v.85h-.85zM213.0 380.6h.85v.85h-.85zM205.3 379.1h.85v.85h-.85zM201.7 382.1h.85v.85h-.85zM206.7 371.9h.85v.85h-.85zM214.5 370.4h.85v.85h-.85zM208.7 382.3h.85v.85h-.85zM203.6 371.9h.85v.85h-.85zM213.2 378.1h.85v.85h-.85zM205.5 387.6h.85v.85h-.85zM212.8 370.5h.85v.85h-.85zM206.6 370.1h.85v.85h-.85zM205.4 389.3h.85v.85h-.85zM201.8 388.4h.85v.85h-.85zM197.5 384.9h.85v.85h-.85zM213.1 385.8h.85v.85h-.85zM210.0 382.3h.85v.85h-.85zM218.0 358.2h.85v.85h-.85zM222.8 372.6h.85v.85h-.85zM207.5 381.2h.85v.85h-.85zM207.3 376.2h.85v.85h-.85zM207.0 379.3h.85v.85h-.85zM211.4 381.0h.85v.85h-.85zM213.3 379.0h.85v.85h-.85zM209.2 375.4h.85v.85h-.85zM219.0 365.4h.85v.85h-.85zM199.7 382.1h.85v.85h-.85zM209.8 382.7h.85v.85h-.85zM207.8 383.3h.85v.85h-.85zM202.7 379.5h.85v.85h-.85zM207.9 371.6h.85v.85h-.85zM208.3 376.8h.85v.85h-.85zM211.4 371.1h.85v.85h-.85zM203.8 379.0h.85v.85h-.85zM204.8 375.8h.85v.85h-.85zM205.5 373.2h.85v.85h-.85zM210.5 381.5h.85v.85h-.85zM207.0 378.9h.85v.85h-.85zM201.5 378.3h.85v.85h-.85zM205.7 375.7h.85v.85h-.85zM199.7 386.1h.85v.85h-.85zM207.0 377.7h.85v.85h-.85zM202.0 383.2h.85v.85h-.85zM202.7 380.5h.85v.85h-.85zM208.3 383.3h.85v.85h-.85zM211.9 373.1h.85v.85h-.85zM214.7 368.0h.85v.85h-.85zM206.0 388.2h.85v.85h-.85zM222.1 370.3h.85v.85h-.85zM204.8 379.3h.85v.85h-.85zM199.5 384.4h.85v.85h-.85zM204.4 377.4h.85v.85h-.85zM214.7 370.2h.85v.85h-.85zM217.8 377.4h.85v.85h-.85zM211.1 373.7h.85v.85h-.85zM203.9 370.6h.85v.85h-.85zM208.8 377.2h.85v.85h-.85zM209.5 374.4h.85v.85h-.85zM210.2 369.1h.85v.85h-.85zM213.9 357.0h.85v.85h-.85zM215.2 372.3h.85v.85h-.85zM206.1 371.7h.85v.85h-.85zM200.8 388.4h.85v.85h-.85zM202.5 382.9h.85v.85h-.85zM212.7 368.4h.85v.85h-.85zM204.1 375.4h.85v.85h-.85zM198.4 382.0h.85v.85h-.85zM214.0 375.4h.85v.85h-.85zM211.3 376.2h.85v.85h-.85zM204.4 382.3h.85v.85h-.85zM218.4 374.3h.85v.85h-.85zM210.9 365.8h.85v.85h-.85zM202.1 388.1h.85v.85h-.85zM214.8 372.3h.85v.85h-.85zM205.7 378.3h.85v.85h-.85zM212.1 376.6h.85v.85h-.85zM216.5 380.3h.85v.85h-.85zM205.2 377.8h.85v.85h-.85zM205.6 375.9h.85v.85h-.85zM204.5 381.4h.85v.85h-.85zM212.7 366.9h.85v.85h-.85zM198.3 381.5h.85v.85h-.85zM205.2 383.9h.85v.85h-.85zM203.8 381.0h.85v.85h-.85zM207.4 386.5h.85v.85h-.85zM209.0 378.8h.85v.85h-.85zM203.7 383.3h.85v.85h-.85zM209.6 376.2h.85v.85h-.85zM206.9 369.4h.85v.85h-.85zM203.8 389.1h.85v.85h-.85zM216.0 373.4h.85v.85h-.85zM204.5 387.6h.85v.85h-.85zM214.3 368.7h.85v.85h-.85zM205.7 373.9h.85v.85h-.85zM208.8 376.4h.85v.85h-.85zM197.7 380.4h.85v.85h-.85zM208.6 370.0h.85v.85h-.85zM213.9 377.9h.85v.85h-.85zM206.0 388.9h.85v.85h-.85zM201.3 388.0h.85v.85h-.85zM198.6 383.9h.85v.85h-.85zM211.1 374.1h.85v.85h-.85zM206.4 384.2h.85v.85h-.85zM216.6 380.9h.85v.85h-.85zM209.9 376.5h.85v.85h-.85zM218.8 359.3h.85v.85h-.85zM212.5 375.9h.85v.85h-.85zM211.5 378.7h.85v.85h-.85zM205.9 380.8h.85v.85h-.85zM206.8 386.9h.85v.85h-.85zM205.4 377.9h.85v.85h-.85zM211.2 380.9h.85v.85h-.85zM209.8 379.7h.85v.85h-.85zM216.3 380.1h.85v.85h-.85zM208.4 377.8h.85v.85h-.85zM211.2 366.2h.85v.85h-.85zM203.8 378.1h.85v.85h-.85zM208.1 377.0h.85v.85h-.85zM222.5 373.6h.85v.85h-.85zM207.1 378.1h.85v.85h-.85zM214.8 379.5h.85v.85h-.85zM212.9 383.0h.85v.85h-.85zM204.8 377.7h.85v.85h-.85zM202.6 383.7h.85v.85h-.85zM213.3 369.5h.85v.85h-.85zM203.7 374.5h.85v.85h-.85zM219.6 376.0h.85v.85h-.85zM208.4 371.9h.85v.85h-.85zM200.6 380.7h.85v.85h-.85zM207.3 372.4h.85v.85h-.85zM205.6 388.1h.85v.85h-.85zM207.1 380.5h.85v.85h-.85zM194.0 387.4h.85v.85h-.85zM206.1 376.6h.85v.85h-.85zM198.4 385.5h.85v.85h-.85zM200.7 381.2h.85v.85h-.85zM197.1 386.3h.85v.85h-.85zM212.7 371.1h.85v.85h-.85zM209.1 369.7h.85v.85h-.85zM210.7 380.6h.85v.85h-.85zM204.6 386.8h.85v.85h-.85zM201.6 384.0h.85v.85h-.85zM217.6 372.5h.85v.85h-.85zM210.4 376.0h.85v.85h-.85zM195.7 376.8h.85v.85h-.85zM208.9 373.7h.85v.85h-.85zM214.3 383.5h.85v.85h-.85zM201.8 386.4h.85v.85h-.85zM196.8 389.3h.85v.85h-.85zM218.4 363.9h.85v.85h-.85zM207.4 376.0h.85v.85h-.85zM206.5 380.9h.85v.85h-.85zM208.8 384.0h.85v.85h-.85zM210.3 383.9h.85v.85h-.85zM213.4 382.0h.85v.85h-.85zM202.8 385.3h.85v.85h-.85zM204.7 376.7h.85v.85h-.85zM219.3 373.2h.85v.85h-.85zM207.3 367.5h.85v.85h-.85zM205.6 385.5h.85v.85h-.85zM205.8 377.7h.85v.85h-.85zM216.3 371.8h.85v.85h-.85zM205.0 380.8h.85v.85h-.85zM205.6 387.1h.85v.85h-.85zM210.6 377.1h.85v.85h-.85zM204.8 380.2h.85v.85h-.85zM217.6 370.9h.85v.85h-.85zM211.1 367.9h.85v.85h-.85zM209.1 382.6h.85v.85h-.85zM215.0 376.3h.85v.85h-.85zM210.7 379.4h.85v.85h-.85zM213.7 387.3h.85v.85h-.85zM208.3 374.3h.85v.85h-.85zM210.8 376.7h.85v.85h-.85zM211.0 381.7h.85v.85h-.85zM208.0 376.7h.85v.85h-.85zM209.0 371.3h.85v.85h-.85zM208.8 373.6h.85v.85h-.85zM209.9 378.7h.85v.85h-.85zM205.7 373.9h.85v.85h-.85zM207.4 375.8h.85v.85h-.85zM206.2 384.6h.85v.85h-.85zM213.0 368.3h.85v.85h-.85zM212.9 383.9h.85v.85h-.85zM214.1 376.7h.85v.85h-.85zM205.1 372.4h.85v.85h-.85zM207.6 381.2h.85v.85h-.85zM200.6 377.3h.85v.85h-.85zM219.4 372.1h.85v.85h-.85zM211.9 373.2h.85v.85h-.85zM197.6 385.4h.85v.85h-.85zM215.4 370.3h.85v.85h-.85zM195.9 386.7h.85v.85h-.85zM205.3 381.3h.85v.85h-.85zM200.6 382.6h.85v.85h-.85zM203.7 387.5h.85v.85h-.85zM208.0 384.4h.85v.85h-.85zM206.8 367.7h.85v.85h-.85zM212.5 381.3h.85v.85h-.85zM206.6 369.8h.85v.85h-.85zM204.0 384.4h.85v.85h-.85zM215.6 372.0h.85v.85h-.85zM203.6 377.8h.85v.85h-.85zM213.4 380.7h.85v.85h-.85zM201.3 375.3h.85v.85h-.85zM197.2 382.6h.85v.85h-.85zM221.5 384.9h.85v.85h-.85zM199.3 381.4h.85v.85h-.85zM208.1 381.7h.85v.85h-.85zM204.1 372.7h.85v.85h-.85zM204.5 377.7h.85v.85h-.85zM195.9 388.5h.85v.85h-.85zM198.0 376.1h.85v.85h-.85zM216.5 378.9h.85v.85h-.85zM216.1 374.4h.85v.85h-.85zM204.5 381.2h.85v.85h-.85zM198.6 390.2h.85v.85h-.85zM208.8 377.0h.85v.85h-.85zM195.4 387.4h.85v.85h-.85zM217.2 381.4h.85v.85h-.85zM212.5 374.1h.85v.85h-.85zM207.9 382.6h.85v.85h-.85zM208.3 385.2h.85v.85h-.85zM202.9 369.2h.85v.85h-.85zM198.5 389.8h.85v.85h-.85zM213.8 375.3h.85v.85h-.85zM210.4 378.1h.85v.85h-.85zM208.2 376.4h.85v.85h-.85zM204.6 388.7h.85v.85h-.85zM205.4 380.9h.85v.85h-.85zM214.5 380.6h.85v.85h-.85zM204.6 383.1h.85v.85h-.85zM200.8 385.1h.85v.85h-.85zM209.0 378.6h.85v.85h-.85zM208.1 381.4h.85v.85h-.85zM207.5 376.7h.85v.85h-.85zM201.1 382.7h.85v.85h-.85zM217.1 371.7h.85v.85h-.85zM203.0 379.9h.85v.85h-.85zM199.7 387.9h.85v.85h-.85zM200.9 389.5h.85v.85h-.85zM212.7 379.4h.85v.85h-.85zM213.5 375.0h.85v.85h-.85zM196.1 387.2h.85v.85h-.85zM211.1 368.1h.85v.85h-.85zM209.8 386.0h.85v.85h-.85zM211.2 377.5h.85v.85h-.85zM209.7 383.1h.85v.85h-.85zM206.9 378.8h.85v.85h-.85zM209.0 376.7h.85v.85h-.85zM222.1 365.1h.85v.85h-.85zM197.6 378.9h.85v.85h-.85zM213.6 373.1h.85v.85h-.85zM208.1 378.0h.85v.85h-.85zM208.8 370.2h.85v.85h-.85zM207.6 376.2h.85v.85h-.85zM213.9 378.9h.85v.85h-.85zM199.2 379.7h.85v.85h-.85zM210.6 384.5h.85v.85h-.85zM211.9 375.7h.85v.85h-.85zM214.0 361.3h.85v.85h-.85zM203.7 376.5h.85v.85h-.85zM200.6 387.7h.85v.85h-.85zM208.8 380.4h.85v.85h-.85zM206.3 384.2h.85v.85h-.85zM212.0 373.2h.85v.85h-.85zM212.9 370.4h.85v.85h-.85zM218.1 364.7h.85v.85h-.85zM205.3 374.8h.85v.85h-.85zM207.3 387.5h.85v.85h-.85zM215.9 376.1h.85v.85h-.85zM203.4 387.8h.85v.85h-.85zM213.1 375.5h.85v.85h-.85zM222.7 365.2h.85v.85h-.85zM198.7 384.5h.85v.85h-.85zM210.7 387.4h.85v.85h-.85zM196.0 388.5h.85v.85h-.85zM215.0 370.5h.85v.85h-.85zM204.2 374.8h.85v.85h-.85zM211.9 381.5h.85v.85h-.85zM210.8 378.8h.85v.85h-.85zM213.3 374.9h.85v.85h-.85zM211.6 381.6h.85v.85h-.85zM215.3 377.3h.85v.85h-.85zM207.6 383.7h.85v.85h-.85zM197.3 376.3h.85v.85h-.85zM217.3 373.7h.85v.85h-.85zM200.5 381.1h.85v.85h-.85zM206.1 381.0h.85v.85h-.85zM202.3 389.1h.85v.85h-.85zM211.3 367.1h.85v.85h-.85zM199.4 385.6h.85v.85h-.85zM208.8 376.3h.85v.85h-.85zM207.2 380.8h.85v.85h-.85zM199.9 385.3h.85v.85h-.85zM221.4 366.2h.85v.85h-.85zM200.7 388.3h.85v.85h-.85zM215.6 380.2h.85v.85h-.85zM203.1 382.3h.85v.85h-.85zM208.4 377.8h.85v.85h-.85zM209.6 384.6h.85v.85h-.85zM210.6 377.5h.85v.85h-.85zM211.8 377.2h.85v.85h-.85zM214.8 380.0h.85v.85h-.85zM220.3 360.2h.85v.85h-.85zM207.7 377.7h.85v.85h-.85zM202.5 383.6h.85v.85h-.85zM210.5 380.7h.85v.85h-.85zM206.2 372.7h.85v.85h-.85zM210.6 381.1h.85v.85h-.85zM220.6 376.1h.85v.85h-.85zM207.2 373.1h.85v.85h-.85zM224.4 363.9h.85v.85h-.85zM208.3 383.5h.85v.85h-.85zM210.3 385.6h.85v.85h-.85zM200.5 380.4h.85v.85h-.85zM208.2 371.9h.85v.85h-.85zM209.0 378.0h.85v.85h-.85zM203.4 382.7h.85v.85h-.85zM206.9 373.7h.85v.85h-.85zM212.1 368.9h.85v.85h-.85zM215.3 372.3h.85v.85h-.85z" fill="#7fa9d0" fill-opacity="0.45"/>
<path d="M200.5 383.0h.85v.85h-.85zM210.1 382.3h.85v.85h-.85zM215.8 387.0h.85v.85h-.85zM216.9 385.3h.85v.85h-.85zM214.1 381.9h.85v.85h-.85zM213.9 382.4h.85v.85h-.85zM208.9 381.3h.85v.85h-.85zM209.3 386.0h.85v.85h-.85zM208.8 382.0h.85v.85h-.85zM212.4 386.6h.85v.85h-.85zM208.7 387.3h.85v.85h-.85zM212.8 381.2h.85v.85h-.85zM208.9 379.8h.85v.85h-.85zM205.2 387.3h.85v.85h-.85zM205.7 387.0h.85v.85h-.85zM210.4 378.9h.85v.85h-.85zM207.2 389.7h.85v.85h-.85zM209.1 385.3h.85v.85h-.85zM206.4 381.3h.85v.85h-.85zM208.4 382.8h.85v.85h-.85zM209.5 379.5h.85v.85h-.85zM214.3 388.3h.85v.85h-.85zM206.2 386.7h.85v.85h-.85zM205.6 388.3h.85v.85h-.85zM205.9 385.5h.85v.85h-.85zM214.0 385.1h.85v.85h-.85zM207.8 381.1h.85v.85h-.85zM203.0 390.0h.85v.85h-.85zM211.0 384.6h.85v.85h-.85zM213.8 384.1h.85v.85h-.85zM206.3 385.5h.85v.85h-.85zM208.7 385.0h.85v.85h-.85zM218.5 384.0h.85v.85h-.85zM210.1 384.0h.85v.85h-.85zM206.5 382.9h.85v.85h-.85zM201.9 385.7h.85v.85h-.85zM203.3 381.4h.85v.85h-.85zM205.5 380.3h.85v.85h-.85zM214.3 387.0h.85v.85h-.85zM211.6 377.2h.85v.85h-.85zM209.1 382.2h.85v.85h-.85zM202.4 386.1h.85v.85h-.85zM213.4 385.0h.85v.85h-.85zM203.5 384.7h.85v.85h-.85zM206.2 389.0h.85v.85h-.85zM208.7 382.3h.85v.85h-.85zM205.6 380.4h.85v.85h-.85zM205.8 388.4h.85v.85h-.85zM201.8 387.5h.85v.85h-.85zM208.6 387.4h.85v.85h-.85zM204.7 388.7h.85v.85h-.85zM214.9 389.8h.85v.85h-.85zM202.8 386.6h.85v.85h-.85zM208.2 385.6h.85v.85h-.85zM205.3 388.4h.85v.85h-.85zM218.0 386.8h.85v.85h-.85zM205.4 384.4h.85v.85h-.85zM211.8 384.6h.85v.85h-.85zM206.1 389.3h.85v.85h-.85zM211.0 387.3h.85v.85h-.85zM208.4 388.8h.85v.85h-.85zM207.3 382.3h.85v.85h-.85zM209.0 381.1h.85v.85h-.85zM213.8 385.7h.85v.85h-.85zM202.6 387.2h.85v.85h-.85zM212.3 383.1h.85v.85h-.85zM210.6 382.9h.85v.85h-.85zM208.8 384.8h.85v.85h-.85zM210.9 381.8h.85v.85h-.85zM204.7 387.1h.85v.85h-.85zM207.1 387.0h.85v.85h-.85zM207.1 381.8h.85v.85h-.85zM211.8 385.0h.85v.85h-.85zM211.8 383.3h.85v.85h-.85zM207.7 388.9h.85v.85h-.85zM211.0 384.3h.85v.85h-.85zM209.4 386.6h.85v.85h-.85zM206.1 386.6h.85v.85h-.85zM205.4 380.8h.85v.85h-.85zM209.8 385.1h.85v.85h-.85zM211.5 385.9h.85v.85h-.85zM211.7 386.5h.85v.85h-.85zM205.0 389.5h.85v.85h-.85zM219.2 380.6h.85v.85h-.85zM204.2 388.3h.85v.85h-.85zM212.5 386.9h.85v.85h-.85zM214.9 379.5h.85v.85h-.85zM210.5 385.9h.85v.85h-.85zM213.8 381.2h.85v.85h-.85zM209.1 383.9h.85v.85h-.85zM208.4 384.8h.85v.85h-.85zM208.4 380.2h.85v.85h-.85zM208.9 385.2h.85v.85h-.85zM207.5 375.4h.85v.85h-.85zM206.4 383.9h.85v.85h-.85zM212.6 383.5h.85v.85h-.85zM205.3 387.4h.85v.85h-.85zM206.7 389.8h.85v.85h-.85zM213.3 383.5h.85v.85h-.85zM211.4 382.1h.85v.85h-.85zM203.0 389.0h.85v.85h-.85zM215.3 382.4h.85v.85h-.85zM207.0 380.5h.85v.85h-.85zM217.2 379.3h.85v.85h-.85zM205.3 385.5h.85v.85h-.85zM213.6 383.9h.85v.85h-.85zM208.9 385.1h.85v.85h-.85zM212.3 384.0h.85v.85h-.85zM209.6 384.6h.85v.85h-.85zM204.8 390.0h.85v.85h-.85zM206.4 382.0h.85v.85h-.85zM207.3 385.5h.85v.85h-.85zM212.1 380.0h.85v.85h-.85zM204.2 386.8h.85v.85h-.85zM210.5 381.5h.85v.85h-.85zM204.7 386.7h.85v.85h-.85zM208.5 380.6h.85v.85h-.85zM205.7 390.1h.85v.85h-.85zM205.0 389.1h.85v.85h-.85zM215.1 381.5h.85v.85h-.85zM206.4 387.5h.85v.85h-.85zM204.3 387.9h.85v.85h-.85zM213.7 384.5h.85v.85h-.85zM210.2 384.2h.85v.85h-.85zM212.8 381.6h.85v.85h-.85zM215.1 383.3h.85v.85h-.85zM207.8 380.7h.85v.85h-.85zM207.3 386.1h.85v.85h-.85zM213.8 379.1h.85v.85h-.85zM208.5 383.2h.85v.85h-.85zM204.4 386.3h.85v.85h-.85zM206.1 388.3h.85v.85h-.85zM198.7 389.9h.85v.85h-.85zM201.7 381.5h.85v.85h-.85zM211.0 383.5h.85v.85h-.85zM209.5 382.1h.85v.85h-.85zM205.0 384.0h.85v.85h-.85zM208.8 382.7h.85v.85h-.85zM207.4 383.0h.85v.85h-.85zM209.9 381.5h.85v.85h-.85zM201.1 379.8h.85v.85h-.85zM208.9 385.3h.85v.85h-.85zM212.7 381.9h.85v.85h-.85zM204.7 382.0h.85v.85h-.85zM211.9 382.4h.85v.85h-.85zM212.8 383.7h.85v.85h-.85zM208.0 380.0h.85v.85h-.85zM206.4 387.9h.85v.85h-.85zM206.7 387.6h.85v.85h-.85zM202.7 389.6h.85v.85h-.85zM219.6 385.2h.85v.85h-.85zM210.2 381.2h.85v.85h-.85zM207.0 383.7h.85v.85h-.85zM209.7 379.1h.85v.85h-.85zM205.7 388.1h.85v.85h-.85zM209.6 386.9h.85v.85h-.85zM212.3 380.9h.85v.85h-.85zM203.9 387.7h.85v.85h-.85zM209.1 385.2h.85v.85h-.85zM205.9 388.7h.85v.85h-.85zM210.9 387.7h.85v.85h-.85zM207.7 387.3h.85v.85h-.85zM208.8 382.4h.85v.85h-.85zM208.7 380.4h.85v.85h-.85zM208.3 385.7h.85v.85h-.85zM211.7 381.3h.85v.85h-.85zM203.9 384.3h.85v.85h-.85zM201.1 385.3h.85v.85h-.85zM219.0 382.6h.85v.85h-.85zM206.1 383.9h.85v.85h-.85zM215.7 379.9h.85v.85h-.85zM208.6 384.9h.85v.85h-.85zM206.2 383.7h.85v.85h-.85zM202.6 384.4h.85v.85h-.85zM214.0 387.6h.85v.85h-.85zM207.9 387.3h.85v.85h-.85zM210.8 384.8h.85v.85h-.85zM208.5 388.6h.85v.85h-.85zM211.2 383.8h.85v.85h-.85zM208.1 387.9h.85v.85h-.85zM206.7 383.6h.85v.85h-.85zM208.0 383.9h.85v.85h-.85zM213.8 384.7h.85v.85h-.85zM208.7 383.6h.85v.85h-.85zM214.4 384.8h.85v.85h-.85zM216.9 385.4h.85v.85h-.85zM208.2 383.7h.85v.85h-.85zM207.9 385.8h.85v.85h-.85zM212.0 385.5h.85v.85h-.85zM215.0 379.1h.85v.85h-.85zM209.1 381.0h.85v.85h-.85zM205.1 384.4h.85v.85h-.85zM206.5 383.0h.85v.85h-.85zM203.2 389.8h.85v.85h-.85zM207.8 388.1h.85v.85h-.85zM204.8 379.6h.85v.85h-.85zM206.7 388.1h.85v.85h-.85zM206.9 386.7h.85v.85h-.85zM204.9 390.1h.85v.85h-.85zM210.6 387.5h.85v.85h-.85zM207.9 388.9h.85v.85h-.85zM209.3 383.5h.85v.85h-.85zM206.6 385.8h.85v.85h-.85zM205.5 382.6h.85v.85h-.85zM209.5 386.9h.85v.85h-.85zM207.9 387.7h.85v.85h-.85zM215.0 379.8h.85v.85h-.85zM210.0 382.0h.85v.85h-.85zM206.5 386.2h.85v.85h-.85zM200.0 389.2h.85v.85h-.85zM212.2 385.6h.85v.85h-.85zM211.5 389.4h.85v.85h-.85zM207.6 388.5h.85v.85h-.85zM214.5 384.9h.85v.85h-.85zM202.2 386.4h.85v.85h-.85zM207.9 380.7h.85v.85h-.85zM208.8 387.2h.85v.85h-.85zM208.0 384.8h.85v.85h-.85zM214.6 381.7h.85v.85h-.85zM205.4 386.1h.85v.85h-.85zM213.3 385.5h.85v.85h-.85zM209.3 383.5h.85v.85h-.85zM213.7 386.2h.85v.85h-.85zM202.4 387.8h.85v.85h-.85zM211.3 382.6h.85v.85h-.85zM204.1 385.5h.85v.85h-.85zM202.3 388.4h.85v.85h-.85zM207.1 380.6h.85v.85h-.85zM208.9 388.4h.85v.85h-.85zM204.2 385.3h.85v.85h-.85zM215.9 383.6h.85v.85h-.85zM206.9 386.1h.85v.85h-.85zM212.0 381.3h.85v.85h-.85zM208.6 380.5h.85v.85h-.85zM203.0 382.3h.85v.85h-.85zM212.2 385.0h.85v.85h-.85zM211.8 387.7h.85v.85h-.85zM209.2 385.6h.85v.85h-.85zM210.5 385.9h.85v.85h-.85zM204.9 385.3h.85v.85h-.85zM208.4 385.3h.85v.85h-.85zM206.1 385.4h.85v.85h-.85zM210.1 385.2h.85v.85h-.85zM211.2 386.7h.85v.85h-.85zM211.1 387.1h.85v.85h-.85zM212.2 388.0h.85v.85h-.85zM211.4 382.6h.85v.85h-.85zM217.9 385.7h.85v.85h-.85zM213.8 385.7h.85v.85h-.85zM209.2 381.7h.85v.85h-.85zM210.7 383.5h.85v.85h-.85zM207.5 379.4h.85v.85h-.85zM214.9 380.1h.85v.85h-.85zM204.8 387.5h.85v.85h-.85zM211.2 382.2h.85v.85h-.85zM209.0 385.7h.85v.85h-.85zM209.6 386.3h.85v.85h-.85zM212.0 383.1h.85v.85h-.85zM207.5 382.6h.85v.85h-.85zM211.9 385.9h.85v.85h-.85zM208.9 385.9h.85v.85h-.85zM210.2 384.0h.85v.85h-.85zM210.2 381.0h.85v.85h-.85zM200.5 384.9h.85v.85h-.85zM212.3 382.9h.85v.85h-.85zM206.8 381.4h.85v.85h-.85zM208.5 384.6h.85v.85h-.85zM206.6 381.3h.85v.85h-.85zM209.6 386.0h.85v.85h-.85zM213.3 385.2h.85v.85h-.85zM214.8 386.8h.85v.85h-.85zM208.6 382.2h.85v.85h-.85zM210.6 387.2h.85v.85h-.85zM203.1 383.1h.85v.85h-.85zM211.6 382.7h.85v.85h-.85zM214.6 384.1h.85v.85h-.85zM206.9 381.8h.85v.85h-.85zM211.3 379.5h.85v.85h-.85zM204.0 382.7h.85v.85h-.85zM215.5 388.0h.85v.85h-.85zM208.2 384.2h.85v.85h-.85zM211.7 387.8h.85v.85h-.85zM208.2 388.4h.85v.85h-.85zM200.0 387.3h.85v.85h-.85zM208.2 381.6h.85v.85h-.85zM216.4 381.0h.85v.85h-.85zM209.0 381.5h.85v.85h-.85zM211.6 384.8h.85v.85h-.85zM207.9 384.2h.85v.85h-.85zM206.8 383.6h.85v.85h-.85zM203.6 389.9h.85v.85h-.85zM212.4 380.1h.85v.85h-.85zM204.6 387.4h.85v.85h-.85zM217.6 382.0h.85v.85h-.85zM207.8 384.6h.85v.85h-.85zM209.9 384.2h.85v.85h-.85zM213.1 386.6h.85v.85h-.85zM211.1 388.9h.85v.85h-.85zM208.1 383.7h.85v.85h-.85zM220.4 376.4h.85v.85h-.85zM203.0 380.0h.85v.85h-.85zM210.4 381.6h.85v.85h-.85zM213.0 378.0h.85v.85h-.85zM208.5 384.0h.85v.85h-.85zM204.9 389.3h.85v.85h-.85zM207.5 386.7h.85v.85h-.85zM207.0 386.0h.85v.85h-.85zM207.3 385.7h.85v.85h-.85zM208.6 383.2h.85v.85h-.85zM210.7 384.0h.85v.85h-.85zM205.3 383.1h.85v.85h-.85zM210.7 388.3h.85v.85h-.85zM204.0 385.2h.85v.85h-.85zM210.7 387.5h.85v.85h-.85zM211.7 380.9h.85v.85h-.85zM209.1 387.5h.85v.85h-.85zM209.9 384.1h.85v.85h-.85zM204.5 386.7h.85v.85h-.85zM208.7 385.2h.85v.85h-.85zM214.7 386.8h.85v.85h-.85zM206.0 386.5h.85v.85h-.85zM207.8 385.6h.85v.85h-.85zM215.2 385.9h.85v.85h-.85zM209.2 383.1h.85v.85h-.85zM208.4 386.2h.85v.85h-.85zM207.1 388.6h.85v.85h-.85zM209.1 381.6h.85v.85h-.85zM216.8 374.7h.85v.85h-.85zM208.0 384.9h.85v.85h-.85zM212.8 387.1h.85v.85h-.85zM214.6 387.9h.85v.85h-.85zM210.2 385.0h.85v.85h-.85zM212.9 383.9h.85v.85h-.85zM204.2 385.0h.85v.85h-.85zM211.5 386.0h.85v.85h-.85zM204.8 389.5h.85v.85h-.85zM210.2 380.4h.85v.85h-.85zM210.8 387.3h.85v.85h-.85zM211.0 383.6h.85v.85h-.85zM205.9 389.0h.85v.85h-.85zM209.9 384.7h.85v.85h-.85zM207.5 382.5h.85v.85h-.85zM201.8 386.0h.85v.85h-.85zM213.2 386.0h.85v.85h-.85zM206.4 390.0h.85v.85h-.85zM208.1 382.4h.85v.85h-.85zM212.7 387.9h.85v.85h-.85zM207.5 382.0h.85v.85h-.85zM208.8 378.2h.85v.85h-.85zM209.2 389.2h.85v.85h-.85zM210.0 382.6h.85v.85h-.85zM211.7 382.9h.85v.85h-.85zM213.8 382.7h.85v.85h-.85zM216.8 381.9h.85v.85h-.85zM209.7 382.1h.85v.85h-.85zM204.1 387.3h.85v.85h-.85zM210.3 381.9h.85v.85h-.85zM211.1 383.2h.85v.85h-.85zM206.9 385.4h.85v.85h-.85zM210.5 386.6h.85v.85h-.85zM213.7 384.8h.85v.85h-.85zM206.2 383.8h.85v.85h-.85zM210.4 381.2h.85v.85h-.85zM208.3 384.1h.85v.85h-.85zM208.6 385.6h.85v.85h-.85z" fill="#3f86c2" fill-opacity="0.6"/>
<path d="M221.1 372.9h.85v.85h-.85zM220.8 371.0h.85v.85h-.85zM217.9 375.1h.85v.85h-.85zM221.5 361.7h.85v.85h-.85zM223.3 362.0h.85v.85h-.85zM215.9 380.4h.85v.85h-.85zM219.6 366.2h.85v.85h-.85zM218.6 374.2h.85v.85h-.85zM219.9 367.3h.85v.85h-.85zM221.2 363.5h.85v.85h-.85zM218.2 368.9h.85v.85h-.85zM218.4 373.2h.85v.85h-.85zM219.2 365.9h.85v.85h-.85zM218.8 363.1h.85v.85h-.85zM219.7 369.2h.85v.85h-.85zM220.4 367.1h.85v.85h-.85zM220.1 365.1h.85v.85h-.85zM219.5 369.7h.85v.85h-.85zM217.7 373.8h.85v.85h-.85zM219.7 369.1h.85v.85h-.85zM218.8 377.3h.85v.85h-.85zM219.5 366.5h.85v.85h-.85zM218.2 373.0h.85v.85h-.85zM219.2 366.8h.85v.85h-.85zM218.4 374.0h.85v.85h-.85zM219.6 372.8h.85v.85h-.85zM219.5 365.0h.85v.85h-.85zM220.8 368.5h.85v.85h-.85zM218.5 369.4h.85v.85h-.85zM218.0 374.1h.85v.85h-.85zM218.9 371.8h.85v.85h-.85zM219.9 367.7h.85v.85h-.85zM220.1 367.6h.85v.85h-.85zM217.7 370.1h.85v.85h-.85zM217.7 374.3h.85v.85h-.85zM220.5 365.8h.85v.85h-.85zM220.4 368.8h.85v.85h-.85zM221.0 363.9h.85v.85h-.85zM219.5 365.6h.85v.85h-.85zM218.5 375.5h.85v.85h-.85zM216.5 370.1h.85v.85h-.85zM220.2 371.0h.85v.85h-.85zM218.3 363.6h.85v.85h-.85zM216.9 374.0h.85v.85h-.85zM221.2 370.2h.85v.85h-.85zM218.4 375.5h.85v.85h-.85zM219.2 371.8h.85v.85h-.85zM219.2 375.2h.85v.85h-.85zM218.7 362.6h.85v.85h-.85zM219.0 370.5h.85v.85h-.85zM219.9 366.1h.85v.85h-.85zM219.2 365.6h.85v.85h-.85zM219.1 370.0h.85v.85h-.85zM219.9 374.5h.85v.85h-.85zM216.5 375.1h.85v.85h-.85zM220.1 364.2h.85v.85h-.85zM219.6 369.0h.85v.85h-.85zM218.0 373.8h.85v.85h-.85zM222.4 367.7h.85v.85h-.85zM220.7 371.4h.85v.85h-.85zM219.3 372.9h.85v.85h-.85zM218.3 371.5h.85v.85h-.85zM220.6 372.4h.85v.85h-.85zM219.1 368.8h.85v.85h-.85zM220.2 368.0h.85v.85h-.85zM219.7 371.8h.85v.85h-.85zM218.4 373.9h.85v.85h-.85zM220.1 367.5h.85v.85h-.85zM217.6 369.5h.85v.85h-.85zM219.4 372.6h.85v.85h-.85zM216.6 375.7h.85v.85h-.85zM219.8 364.8h.85v.85h-.85zM220.8 368.9h.85v.85h-.85zM220.2 364.8h.85v.85h-.85zM217.8 374.7h.85v.85h-.85zM221.6 367.6h.85v.85h-.85zM219.2 368.0h.85v.85h-.85zM216.9 376.2h.85v.85h-.85zM219.4 373.7h.85v.85h-.85zM218.4 374.4h.85v.85h-.85zM218.4 372.7h.85v.85h-.85zM221.6 363.9h.85v.85h-.85zM220.9 367.3h.85v.85h-.85zM218.1 371.8h.85v.85h-.85zM220.5 365.4h.85v.85h-.85zM219.1 367.7h.85v.85h-.85zM218.4 370.0h.85v.85h-.85zM220.7 365.8h.85v.85h-.85zM221.4 365.3h.85v.85h-.85zM218.5 374.4h.85v.85h-.85zM221.6 364.0h.85v.85h-.85zM220.4 363.9h.85v.85h-.85zM218.9 368.7h.85v.85h-.85zM220.6 363.3h.85v.85h-.85zM218.7 367.8h.85v.85h-.85zM219.6 364.7h.85v.85h-.85zM217.5 381.9h.85v.85h-.85zM219.8 363.5h.85v.85h-.85zM220.7 362.9h.85v.85h-.85zM216.7 378.9h.85v.85h-.85zM221.4 363.7h.85v.85h-.85zM217.9 373.1h.85v.85h-.85zM222.5 367.2h.85v.85h-.85zM220.5 363.7h.85v.85h-.85zM216.9 374.2h.85v.85h-.85zM221.0 367.6h.85v.85h-.85zM219.5 374.1h.85v.85h-.85zM218.3 374.8h.85v.85h-.85zM220.7 365.3h.85v.85h-.85zM219.7 369.3h.85v.85h-.85zM220.4 364.6h.85v.85h-.85zM219.2 370.0h.85v.85h-.85zM219.5 369.2h.85v.85h-.85zM219.9 368.0h.85v.85h-.85zM218.8 373.8h.85v.85h-.85zM218.5 369.4h.85v.85h-.85zM218.2 367.0h.85v.85h-.85zM220.2 368.1h.85v.85h-.85zM219.3 371.1h.85v.85h-.85zM219.2 371.9h.85v.85h-.85zM222.2 366.8h.85v.85h-.85zM219.1 375.5h.85v.85h-.85zM220.5 361.9h.85v.85h-.85zM221.5 367.2h.85v.85h-.85zM220.8 363.4h.85v.85h-.85zM218.2 368.6h.85v.85h-.85zM220.3 364.1h.85v.85h-.85zM218.5 374.0h.85v.85h-.85zM218.5 370.9h.85v.85h-.85zM218.2 365.1h.85v.85h-.85zM219.4 368.9h.85v.85h-.85zM217.4 375.5h.85v.85h-.85zM220.7 370.6h.85v.85h-.85zM218.7 366.2h.85v.85h-.85zM219.4 370.0h.85v.85h-.85zM219.2 367.5h.85v.85h-.85zM218.0 368.6h.85v.85h-.85zM219.4 367.7h.85v.85h-.85zM222.0 364.9h.85v.85h-.85zM220.2 366.7h.85v.85h-.85zM219.2 366.2h.85v.85h-.85zM218.8 364.9h.85v.85h-.85zM216.4 378.1h.85v.85h-.85zM217.9 372.8h.85v.85h-.85zM219.3 367.5h.85v.85h-.85zM220.6 365.8h.85v.85h-.85zM220.1 367.0h.85v.85h-.85zM220.9 370.6h.85v.85h-.85zM219.6 372.9h.85v.85h-.85zM220.2 373.6h.85v.85h-.85zM219.3 364.1h.85v.85h-.85zM219.8 369.6h.85v.85h-.85zM219.0 369.2h.85v.85h-.85zM219.1 365.4h.85v.85h-.85zM222.0 363.0h.85v.85h-.85zM217.9 365.8h.85v.85h-.85zM218.3 370.8h.85v.85h-.85zM221.7 368.3h.85v.85h-.85zM218.4 366.3h.85v.85h-.85zM217.9 371.2h.85v.85h-.85zM220.8 365.8h.85v.85h-.85zM221.9 372.7h.85v.85h-.85zM219.7 361.3h.85v.85h-.85zM221.1 366.7h.85v.85h-.85zM220.5 371.3h.85v.85h-.85zM218.0 371.4h.85v.85h-.85zM219.8 366.2h.85v.85h-.85zM220.5 367.4h.85v.85h-.85zM218.9 376.5h.85v.85h-.85zM219.7 374.5h.85v.85h-.85zM219.3 373.1h.85v.85h-.85zM218.4 371.2h.85v.85h-.85zM221.1 359.5h.85v.85h-.85zM220.3 367.2h.85v.85h-.85zM221.1 367.6h.85v.85h-.85zM219.4 364.9h.85v.85h-.85zM223.8 360.7h.85v.85h-.85zM219.0 367.3h.85v.85h-.85zM219.1 370.6h.85v.85h-.85zM217.5 375.6h.85v.85h-.85zM219.1 371.8h.85v.85h-.85zM216.4 371.6h.85v.85h-.85zM219.1 368.4h.85v.85h-.85zM218.5 371.6h.85v.85h-.85zM220.1 365.0h.85v.85h-.85zM216.6 375.7h.85v.85h-.85zM219.0 373.6h.85v.85h-.85zM220.8 367.1h.85v.85h-.85zM217.4 370.8h.85v.85h-.85zM218.4 375.0h.85v.85h-.85zM217.0 375.8h.85v.85h-.85zM217.2 370.3h.85v.85h-.85zM217.4 369.6h.85v.85h-.85zM218.8 371.4h.85v.85h-.85zM218.6 372.8h.85v.85h-.85zM222.1 366.3h.85v.85h-.85zM217.8 370.9h.85v.85h-.85zM219.3 368.2h.85v.85h-.85zM221.2 370.9h.85v.85h-.85zM222.4 367.0h.85v.85h-.85zM215.6 374.1h.85v.85h-.85zM220.5 365.1h.85v.85h-.85zM218.6 373.6h.85v.85h-.85zM219.7 365.0h.85v.85h-.85zM218.6 359.7h.85v.85h-.85zM219.5 365.0h.85v.85h-.85zM219.4 365.2h.85v.85h-.85zM218.1 369.3h.85v.85h-.85zM223.6 359.5h.85v.85h-.85zM217.8 369.7h.85v.85h-.85zM221.0 369.9h.85v.85h-.85zM220.5 366.7h.85v.85h-.85zM219.7 366.3h.85v.85h-.85zM219.2 366.8h.85v.85h-.85zM217.4 368.7h.85v.85h-.85zM222.3 366.7h.85v.85h-.85zM218.4 370.3h.85v.85h-.85zM218.8 374.3h.85v.85h-.85zM219.4 367.1h.85v.85h-.85zM220.5 369.0h.85v.85h-.85zM218.5 367.9h.85v.85h-.85zM219.7 363.2h.85v.85h-.85zM218.2 374.5h.85v.85h-.85zM220.8 371.4h.85v.85h-.85zM218.8 368.0h.85v.85h-.85zM219.1 368.1h.85v.85h-.85zM221.4 365.9h.85v.85h-.85zM221.5 364.0h.85v.85h-.85zM220.0 374.1h.85v.85h-.85zM218.4 368.4h.85v.85h-.85zM218.6 364.8h.85v.85h-.85zM219.1 367.6h.85v.85h-.85zM222.7 363.1h.85v.85h-.85zM216.4 376.8h.85v.85h-.85zM220.9 367.2h.85v.85h-.85zM219.9 371.1h.85v.85h-.85zM218.7 370.5h.85v.85h-.85zM219.7 374.7h.85v.85h-.85zM221.5 367.0h.85v.85h-.85zM217.5 375.0h.85v.85h-.85zM219.4 373.4h.85v.85h-.85zM219.6 369.7h.85v.85h-.85zM220.4 365.4h.85v.85h-.85zM218.5 378.5h.85v.85h-.85zM218.2 374.2h.85v.85h-.85zM220.5 370.7h.85v.85h-.85zM221.5 361.8h.85v.85h-.85zM220.9 360.1h.85v.85h-.85zM219.6 370.3h.85v.85h-.85zM221.0 370.9h.85v.85h-.85zM218.1 370.1h.85v.85h-.85zM219.3 367.1h.85v.85h-.85zM218.3 368.5h.85v.85h-.85zM221.2 371.6h.85v.85h-.85zM220.6 373.6h.85v.85h-.85zM219.6 365.2h.85v.85h-.85zM218.5 371.2h.85v.85h-.85zM221.0 371.4h.85v.85h-.85zM218.2 374.3h.85v.85h-.85zM218.7 372.3h.85v.85h-.85zM220.8 372.5h.85v.85h-.85zM218.7 371.1h.85v.85h-.85zM220.1 366.9h.85v.85h-.85zM219.6 371.1h.85v.85h-.85zM217.1 370.3h.85v.85h-.85zM222.8 366.2h.85v.85h-.85zM218.7 363.9h.85v.85h-.85zM218.1 372.9h.85v.85h-.85zM220.5 369.4h.85v.85h-.85zM220.3 365.9h.85v.85h-.85zM221.8 362.1h.85v.85h-.85zM220.2 367.3h.85v.85h-.85zM217.0 375.8h.85v.85h-.85zM219.1 372.2h.85v.85h-.85zM221.3 367.3h.85v.85h-.85zM218.5 369.8h.85v.85h-.85zM219.4 374.4h.85v.85h-.85zM220.7 373.0h.85v.85h-.85zM220.6 365.0h.85v.85h-.85zM220.8 370.7h.85v.85h-.85zM219.3 371.1h.85v.85h-.85zM219.0 365.5h.85v.85h-.85zM219.3 372.1h.85v.85h-.85zM219.0 362.1h.85v.85h-.85zM218.3 374.6h.85v.85h-.85zM219.8 372.7h.85v.85h-.85zM218.4 369.3h.85v.85h-.85zM218.0 368.5h.85v.85h-.85zM220.2 368.7h.85v.85h-.85zM218.8 371.2h.85v.85h-.85zM217.6 370.5h.85v.85h-.85zM217.3 367.0h.85v.85h-.85zM217.5 368.1h.85v.85h-.85zM221.8 370.9h.85v.85h-.85zM221.3 364.7h.85v.85h-.85zM220.4 364.0h.85v.85h-.85zM218.7 371.2h.85v.85h-.85zM217.1 373.1h.85v.85h-.85zM220.4 360.8h.85v.85h-.85zM215.9 373.1h.85v.85h-.85zM219.3 370.0h.85v.85h-.85zM217.8 373.5h.85v.85h-.85zM219.7 366.4h.85v.85h-.85zM221.9 366.9h.85v.85h-.85zM220.6 374.2h.85v.85h-.85zM218.8 369.4h.85v.85h-.85zM216.9 371.9h.85v.85h-.85zM220.1 377.1h.85v.85h-.85zM220.3 368.8h.85v.85h-.85zM217.6 368.8h.85v.85h-.85zM216.8 368.1h.85v.85h-.85zM219.6 370.1h.85v.85h-.85zM218.1 370.3h.85v.85h-.85zM218.3 373.0h.85v.85h-.85zM220.4 366.0h.85v.85h-.85zM218.8 365.8h.85v.85h-.85zM218.8 377.8h.85v.85h-.85zM219.5 372.3h.85v.85h-.85zM220.3 373.2h.85v.85h-.85zM219.0 366.7h.85v.85h-.85zM221.0 370.4h.85v.85h-.85zM218.5 374.4h.85v.85h-.85zM219.5 369.1h.85v.85h-.85zM222.2 367.4h.85v.85h-.85zM219.9 367.5h.85v.85h-.85zM219.8 372.5h.85v.85h-.85zM220.1 365.7h.85v.85h-.85zM220.1 367.9h.85v.85h-.85zM219.9 367.9h.85v.85h-.85zM216.3 367.9h.85v.85h-.85zM218.9 362.3h.85v.85h-.85zM217.3 379.4h.85v.85h-.85zM220.5 366.2h.85v.85h-.85zM220.0 360.7h.85v.85h-.85zM219.8 372.2h.85v.85h-.85zM219.8 364.3h.85v.85h-.85zM220.9 365.4h.85v.85h-.85zM218.6 371.1h.85v.85h-.85zM219.0 377.0h.85v.85h-.85zM219.3 377.1h.85v.85h-.85zM220.1 364.0h.85v.85h-.85zM219.5 369.4h.85v.85h-.85zM221.6 370.9h.85v.85h-.85zM223.2 361.8h.85v.85h-.85zM218.8 378.3h.85v.85h-.85zM218.2 372.3h.85v.85h-.85zM221.8 362.4h.85v.85h-.85zM219.0 367.3h.85v.85h-.85zM220.2 369.6h.85v.85h-.85zM219.4 371.6h.85v.85h-.85zM218.3 369.5h.85v.85h-.85zM220.2 375.4h.85v.85h-.85zM219.4 369.5h.85v.85h-.85zM221.4 366.9h.85v.85h-.85zM221.4 367.5h.85v.85h-.85zM221.2 367.6h.85v.85h-.85zM218.1 368.1h.85v.85h-.85zM220.1 375.0h.85v.85h-.85zM222.2 364.4h.85v.85h-.85zM223.1 360.3h.85v.85h-.85zM218.2 374.2h.85v.85h-.85zM217.2 375.5h.85v.85h-.85zM220.0 370.7h.85v.85h-.85zM217.7 373.0h.85v.85h-.85zM220.9 367.2h.85v.85h-.85zM221.0 367.3h.85v.85h-.85zM220.0 367.4h.85v.85h-.85zM217.5 371.4h.85v.85h-.85zM220.2 365.6h.85v.85h-.85zM216.6 367.7h.85v.85h-.85zM221.4 365.8h.85v.85h-.85zM218.4 375.1h.85v.85h-.85zM219.2 364.3h.85v.85h-.85zM218.8 367.0h.85v.85h-.85zM219.2 366.4h.85v.85h-.85zM219.6 370.7h.85v.85h-.85zM218.6 369.7h.85v.85h-.85zM219.2 372.5h.85v.85h-.85zM218.4 373.3h.85v.85h-.85zM221.3 366.0h.85v.85h-.85zM218.1 370.1h.85v.85h-.85zM216.9 370.9h.85v.85h-.85zM217.7 371.0h.85v.85h-.85zM218.9 371.8h.85v.85h-.85zM219.6 370.5h.85v.85h-.85zM219.4 370.3h.85v.85h-.85zM217.8 373.8h.85v.85h-.85zM221.4 370.5h.85v.85h-.85zM217.5 373.4h.85v.85h-.85zM217.1 375.2h.85v.85h-.85zM219.2 368.0h.85v.85h-.85zM218.4 369.9h.85v.85h-.85zM219.5 365.8h.85v.85h-.85zM219.6 370.0h.85v.85h-.85zM220.3 368.0h.85v.85h-.85zM219.5 377.4h.85v.85h-.85zM221.0 368.3h.85v.85h-.85zM217.4 374.2h.85v.85h-.85zM220.3 358.7h.85v.85h-.85zM219.2 370.9h.85v.85h-.85zM219.5 369.5h.85v.85h-.85zM219.3 374.4h.85v.85h-.85zM220.0 367.5h.85v.85h-.85zM219.1 377.1h.85v.85h-.85zM218.2 369.1h.85v.85h-.85zM220.0 369.1h.85v.85h-.85zM219.9 373.4h.85v.85h-.85zM221.2 368.4h.85v.85h-.85zM219.5 368.9h.85v.85h-.85zM219.1 373.3h.85v.85h-.85zM217.6 368.1h.85v.85h-.85zM218.8 366.7h.85v.85h-.85zM218.4 375.0h.85v.85h-.85zM216.2 375.8h.85v.85h-.85zM217.5 371.0h.85v.85h-.85zM218.6 366.9h.85v.85h-.85zM217.3 372.5h.85v.85h-.85zM215.1 367.7h.85v.85h-.85zM218.9 373.9h.85v.85h-.85zM222.2 364.4h.85v.85h-.85zM218.3 369.8h.85v.85h-.85zM220.2 371.6h.85v.85h-.85zM218.1 372.8h.85v.85h-.85zM219.4 373.3h.85v.85h-.85zM218.9 369.3h.85v.85h-.85zM218.2 366.3h.85v.85h-.85zM219.9 371.2h.85v.85h-.85zM221.1 367.9h.85v.85h-.85zM218.8 366.9h.85v.85h-.85zM217.8 369.0h.85v.85h-.85zM220.0 368.9h.85v.85h-.85zM216.1 373.5h.85v.85h-.85zM219.1 366.1h.85v.85h-.85zM219.5 371.2h.85v.85h-.85zM218.0 366.5h.85v.85h-.85zM219.0 370.8h.85v.85h-.85zM219.1 375.2h.85v.85h-.85zM219.7 365.4h.85v.85h-.85zM220.6 365.4h.85v.85h-.85zM220.5 368.2h.85v.85h-.85zM221.3 363.2h.85v.85h-.85zM220.6 369.3h.85v.85h-.85zM218.1 373.6h.85v.85h-.85zM222.8 365.9h.85v.85h-.85zM218.3 370.2h.85v.85h-.85zM221.4 367.5h.85v.85h-.85zM221.7 363.9h.85v.85h-.85zM221.4 361.0h.85v.85h-.85zM219.2 368.5h.85v.85h-.85zM218.8 374.6h.85v.85h-.85zM218.6 371.7h.85v.85h-.85zM222.2 368.4h.85v.85h-.85zM218.9 367.5h.85v.85h-.85zM216.5 374.6h.85v.85h-.85zM220.8 371.4h.85v.85h-.85zM219.8 376.4h.85v.85h-.85zM220.6 359.4h.85v.85h-.85zM218.2 373.8h.85v.85h-.85zM218.9 373.0h.85v.85h-.85zM223.3 361.3h.85v.85h-.85zM222.8 364.4h.85v.85h-.85zM217.3 372.6h.85v.85h-.85zM220.8 365.3h.85v.85h-.85zM221.8 362.9h.85v.85h-.85zM219.2 372.9h.85v.85h-.85zM219.2 367.7h.85v.85h-.85zM219.5 371.6h.85v.85h-.85zM222.1 370.5h.85v.85h-.85zM222.3 365.3h.85v.85h-.85zM217.0 372.4h.85v.85h-.85zM218.9 366.5h.85v.85h-.85zM218.7 370.0h.85v.85h-.85zM219.6 372.4h.85v.85h-.85zM218.1 375.1h.85v.85h-.85zM219.6 371.7h.85v.85h-.85zM221.3 362.3h.85v.85h-.85zM221.9 363.4h.85v.85h-.85zM220.1 372.3h.85v.85h-.85zM220.9 361.8h.85v.85h-.85zM219.7 372.9h.85v.85h-.85zM219.3 369.2h.85v.85h-.85zM219.6 374.9h.85v.85h-.85zM218.7 367.0h.85v.85h-.85zM217.8 369.6h.85v.85h-.85zM219.1 370.9h.85v.85h-.85zM219.4 363.3h.85v.85h-.85zM217.1 374.8h.85v.85h-.85zM220.6 362.9h.85v.85h-.85zM220.9 358.7h.85v.85h-.85zM223.0 366.6h.85v.85h-.85zM217.0 374.4h.85v.85h-.85zM219.4 367.7h.85v.85h-.85zM218.9 369.2h.85v.85h-.85zM219.3 366.2h.85v.85h-.85zM218.6 372.4h.85v.85h-.85zM220.3 363.4h.85v.85h-.85zM218.8 375.8h.85v.85h-.85zM220.6 373.6h.85v.85h-.85zM217.5 368.3h.85v.85h-.85zM216.2 366.8h.85v.85h-.85zM218.9 366.2h.85v.85h-.85zM217.9 369.0h.85v.85h-.85zM219.2 372.5h.85v.85h-.85zM220.3 361.8h.85v.85h-.85zM221.7 365.0h.85v.85h-.85zM218.0 371.1h.85v.85h-.85zM218.9 365.1h.85v.85h-.85zM221.8 364.0h.85v.85h-.85zM218.6 372.3h.85v.85h-.85zM222.0 367.5h.85v.85h-.85zM218.1 372.6h.85v.85h-.85zM221.2 368.3h.85v.85h-.85zM220.5 366.2h.85v.85h-.85zM219.4 363.4h.85v.85h-.85zM218.4 366.6h.85v.85h-.85zM219.5 374.5h.85v.85h-.85zM216.1 369.1h.85v.85h-.85zM218.1 370.8h.85v.85h-.85zM221.2 364.1h.85v.85h-.85zM218.3 375.1h.85v.85h-.85zM220.1 370.3h.85v.85h-.85zM220.7 364.9h.85v.85h-.85zM219.8 366.4h.85v.85h-.85zM218.4 371.2h.85v.85h-.85zM220.2 363.8h.85v.85h-.85zM218.3 373.0h.85v.85h-.85zM219.7 371.2h.85v.85h-.85zM219.0 367.0h.85v.85h-.85zM220.7 369.7h.85v.85h-.85zM215.2 378.1h.85v.85h-.85zM218.4 373.1h.85v.85h-.85zM221.9 365.0h.85v.85h-.85zM218.0 372.1h.85v.85h-.85zM219.6 371.0h.85v.85h-.85zM217.4 373.0h.85v.85h-.85zM220.8 369.9h.85v.85h-.85zM220.4 372.2h.85v.85h-.85zM218.3 375.3h.85v.85h-.85zM219.8 365.2h.85v.85h-.85zM219.1 370.8h.85v.85h-.85zM220.0 373.3h.85v.85h-.85zM219.8 367.0h.85v.85h-.85zM222.8 363.5h.85v.85h-.85zM218.3 374.2h.85v.85h-.85zM218.9 367.3h.85v.85h-.85zM217.9 375.6h.85v.85h-.85zM217.9 371.8h.85v.85h-.85zM218.8 369.5h.85v.85h-.85zM218.3 371.4h.85v.85h-.85zM220.4 371.7h.85v.85h-.85zM219.0 365.8h.85v.85h-.85zM217.3 372.3h.85v.85h-.85zM215.8 379.1h.85v.85h-.85zM219.5 369.6h.85v.85h-.85zM217.4 369.8h.85v.85h-.85zM218.4 373.1h.85v.85h-.85zM218.9 372.3h.85v.85h-.85zM220.3 361.3h.85v.85h-.85zM219.1 374.2h.85v.85h-.85zM218.7 370.7h.85v.85h-.85zM219.3 365.1h.85v.85h-.85zM222.8 364.3h.85v.85h-.85zM220.5 366.3h.85v.85h-.85zM221.6 370.4h.85v.85h-.85zM221.3 370.2h.85v.85h-.85zM220.6 372.7h.85v.85h-.85zM220.1 368.9h.85v.85h-.85zM220.7 364.4h.85v.85h-.85zM215.7 377.3h.85v.85h-.85zM219.7 366.4h.85v.85h-.85zM219.1 366.4h.85v.85h-.85zM218.2 371.6h.85v.85h-.85zM219.7 371.9h.85v.85h-.85zM219.4 371.7h.85v.85h-.85zM220.5 365.3h.85v.85h-.85zM217.0 370.3h.85v.85h-.85zM219.1 367.9h.85v.85h-.85zM222.8 362.3h.85v.85h-.85zM220.2 365.5h.85v.85h-.85zM220.5 363.3h.85v.85h-.85zM220.9 367.9h.85v.85h-.85zM218.9 365.8h.85v.85h-.85zM222.0 363.7h.85v.85h-.85zM221.7 357.7h.85v.85h-.85zM217.7 378.1h.85v.85h-.85zM222.2 365.6h.85v.85h-.85zM221.0 369.3h.85v.85h-.85zM219.0 370.4h.85v.85h-.85zM217.8 366.8h.85v.85h-.85zM219.7 371.6h.85v.85h-.85zM219.7 364.6h.85v.85h-.85zM220.8 367.8h.85v.85h-.85zM220.6 366.7h.85v.85h-.85zM219.1 373.5h.85v.85h-.85zM221.6 362.1h.85v.85h-.85zM217.8 375.0h.85v.85h-.85zM220.0 368.7h.85v.85h-.85zM218.0 374.8h.85v.85h-.85zM219.8 369.6h.85v.85h-.85zM220.1 366.6h.85v.85h-.85zM220.1 368.9h.85v.85h-.85zM220.6 369.1h.85v.85h-.85zM217.6 369.4h.85v.85h-.85zM219.1 373.9h.85v.85h-.85zM218.5 374.6h.85v.85h-.85zM221.1 370.1h.85v.85h-.85zM222.9 364.6h.85v.85h-.85zM220.0 372.9h.85v.85h-.85zM220.1 371.9h.85v.85h-.85zM219.3 374.5h.85v.85h-.85zM220.0 361.7h.85v.85h-.85zM221.1 366.3h.85v.85h-.85zM218.2 370.0h.85v.85h-.85zM219.1 373.9h.85v.85h-.85zM220.0 368.3h.85v.85h-.85zM219.5 366.1h.85v.85h-.85zM218.5 368.9h.85v.85h-.85zM219.2 365.6h.85v.85h-.85zM218.9 373.6h.85v.85h-.85zM220.2 368.3h.85v.85h-.85z" fill="#2f86c6" fill-opacity="0.72"/>
<rect x="213.9" y="358.2" width="16.6" height="21.6" fill="none" stroke="#8e1a36" stroke-width="1.6"/>
<text x="235.5" y="356" font-size="7.6" text-anchor="end" font-weight="bold" fill="#000" transform="translate(235.5 356) scale(1 1.1) translate(-235.5 -356)">15.2</text>
<line x1="34.4" y1="350" x2="34.4" y2="396.7" stroke="#111" stroke-width="1.3"/>
<path d="M34.4 346 L31.4 353.2 L34.4 352.2 L37.4 353.2 Z" fill="#000"/>
<line x1="34.4" y1="396.5" x2="237" y2="396.5" stroke="#111" stroke-width="1.3"/>
<path d="M242 396.5 L234.8 393.5 L235.8 396.5 L234.8 399.5 Z" fill="#000"/>
<text x="29.2" y="369.8" font-size="8.8" text-anchor="middle" fill="#000" transform="translate(29.2 369.8) rotate(-90) scale(1 1.1) translate(-29.2 -369.8)">CD25</text>
<text x="224.5" y="407.8" font-size="8.5" text-anchor="middle" fill="#000" transform="translate(224.5 407.8) scale(1 1.13) translate(-224.5 -407.8)">Foxp3</text>
<text x="138.7" y="461.2" font-size="10" text-anchor="middle" fill="#000">Wild Type</text>
<text x="270" y="461.2" font-size="10" text-anchor="middle" fill="#000">PD-1<tspan font-size="6.8" dy="-3.6">-/-</tspan><tspan dy="3.6"></tspan></text>
<line x1="80" y1="464.5" x2="197.5" y2="464.5" stroke="#111" stroke-width="1.1"/>
<line x1="209.8" y1="464.5" x2="327" y2="464.5" stroke="#111" stroke-width="1.1"/>
<text x="108.3" y="475.3" font-size="10" text-anchor="middle" fill="#000">Vehicle</text>
<text x="171.5" y="475.3" font-size="10" text-anchor="middle" fill="#000">IL-2</text>
<text x="238.1" y="475.3" font-size="10" text-anchor="middle" fill="#000">Vehicle</text>
<text x="301" y="475.3" font-size="10" text-anchor="middle" fill="#000">IL-2</text>
<rect x="77.7" y="479.7" width="55.6" height="48.8" fill="#fff" stroke="#a8a8a8" stroke-width="0.8"/>
<path d="M92.48 504.12 L93.15 503.72 L93.35 502.99 L93.57 502.16 L94.07 501.41 L94.72 500.73 L95.44 500.15 L95.88 499.42 L95.96 498.47 L96.11 497.61 L97.01 497.55 L98.06 497.74 L98.83 497.66 L99.64 497.65 L100.41 497.61 L101.03 497.29 L101.68 496.96 L102.42 496.75 L103.18 496.56 L104.02 496.57 L104.81 496.38 L105.6 496 L106.5 496.15 L107.41 496.5 L108.3 496.45 L109.29 496.02 L110.36 495.86 L111.36 496.29 L112.4 496.46 L113.48 496.46 L114.38 496.8 L115.33 496.89 L116.35 496.76 L117.11 496.97 L117.75 497.26 L118.13 497.8 L118.45 498.33 L119.18 498.43 L119.56 498.89 L119.81 499.49 L120.56 499.74 L121.04 500.29 L121 501.28 L121.02 502.25 L121.32 503.1 L121.72 503.95 L122.07 504.88 L122.07 505.92 L122 506.94 L122.03 507.93 L121.71 508.97 L121.53 509.98 L121.81 511.02 L121.83 512.05 L121.44 512.97 L121.18 513.86 L120.84 514.66 L120.47 515.4 L120.65 516.39 L120.45 517.21 L119.81 517.74 L119.48 518.44 L119.23 519.19 L118.75 519.74 L117.99 519.99 L117.53 520.51 L117.29 521.37 L116.47 521.57 L115.36 521.29 L114.66 521.59 L114.08 522.07 L113.45 522.44 L112.87 522.78 L112.25 522.85 L111.73 523.06 L111.34 523.6 L110.99 524.25 L110.59 524.48 L110.15 524.26 L109.81 524.47 L109.53 525.13 L109.21 525.24 L108.88 524.94 L108.58 524.62 L108.29 523.94 L108.01 523.11 L107.75 522.47 L107.48 522.29 L107.2 522.07 L106.96 521.28 L106.74 520.7 L106.49 520.49 L106.22 520.23 L105.99 519.66 L105.82 518.66 L105.56 518.04 L105.02 518.13 L104.35 518.17 L103.77 517.71 L103.27 517.05 L102.69 516.53 L102.04 516.14 L101.38 515.78 L100.85 515.33 L100.57 514.75 L100.29 514.23 L100 513.74 L99.81 513.18 L99.45 512.67 L98.96 512.15 L98.84 511.51 L99.31 510.83 L99.8 510.27 L99.5 509.87 L98.74 509.52 L98.34 509.2 L97.95 508.91 L96.85 508.57 L96.19 508.25 L96.3 508.01 L96.05 507.69 L95.4 507.29 L94.59 506.85 L93.65 506.37 L93.04 505.93 L92.93 505.58 L92.74 505.16 L92.34 504.6Z" fill="#1c3d9c"/>
<path d="M109.34 523.41 L109.27 523.11 L109.09 522.72 L108.93 522.36 L108.75 522.11 L108.5 521.86 L108.27 521.61 L108.09 521.24 L107.99 520.86 L107.84 520.51 L107.65 520.11 L107.48 519.86 L107.24 519.61 L107.02 519.36 L107.01 518.86 L106.89 518.36 L106.76 518.11 L106.64 517.61 L106.48 517.36 L106.2 517.11 L105.84 516.92 L105.34 516.89 L104.84 516.96 L104.57 516.86 L104.32 516.61 L104.07 516.36 L103.83 516.11 L103.58 515.86 L103.33 515.61 L103.08 515.36 L102.59 515.11 L102.34 514.94 L102.08 514.86 L101.83 514.61 L101.59 514.11 L101.5 513.86 L101.33 513.61 L101.08 513.36 L101 512.86 L100.83 512.61 L100.58 512.36 L100.34 511.86 L100.25 511.61 L100.34 511.35 L100.59 511.1 L100.82 510.61 L100.83 510.11 L100.75 509.61 L100.58 509.36 L100.33 509.11 L100.07 508.86 L99.59 508.61 L99.34 508.44 L99.08 508.36 L98.83 508.11 L98.34 507.86 L98.09 507.69 L97.59 507.61 L97.34 507.44 L97.09 507.11 L96.84 506.86 L96.59 506.61 L96.34 506.44 L96.08 506.36 L95.59 506.11 L95.34 505.86 L95.09 505.69 L94.83 505.61 L94.34 505.36 L94.09 505.19 L93.84 504.86 L93.83 504.61 L94.08 504.36 L94.25 504.11 L94.33 503.61 L94.5 503.36 L94.58 502.86 L94.75 502.61 L94.84 502.35 L95.09 502.1 L95.34 501.85 L95.59 501.6 L95.84 501.35 L96.09 501.1 L96.34 500.85 L96.59 500.6 L96.83 500.11 L97 499.86 L97.08 499.36 L97.08 498.86 L97.34 498.85 L97.84 498.85 L98.34 498.84 L98.84 498.83 L99.34 498.82 L99.84 498.79 L100.34 498.76 L100.82 498.61 L101.09 498.44 L101.34 498.31 L101.68 498.11 L102.09 497.87 L102.34 497.74 L102.74 497.61 L103.09 497.53 L103.47 497.36 L103.84 497.27 L104.34 497.23 L104.84 497.19 L105.18 497.11 L105.59 496.91 L105.84 496.81 L106.09 496.89 L106.59 496.96 L107.07 497.11 L107.34 497.11 L107.84 497.12 L108.34 497.14 L108.65 497.11 L109.09 496.95 L109.45 496.86 L109.84 496.84 L110.09 496.86 L110.59 496.99 L110.84 497.11 L111.34 497.27 L111.59 497.39 L112.09 497.46 L112.59 497.5 L113.09 497.53 L113.46 497.61 L113.84 497.79 L114.34 497.82 L114.59 497.98 L115.09 498.08 L115.59 498.07 L116.07 497.86 L116.11 497.86 L116.59 498.08 L116.85 498.11 L117.1 498.36 L117.34 498.84 L117.59 499.09 L117.84 499.27 L118.1 499.36 L118.59 499.6 L118.68 499.86 L118.85 500.11 L119.1 500.36 L119.59 500.6 L119.84 500.84 L119.84 501.11 L119.84 501.61 L119.85 502.11 L119.86 502.61 L120.09 503.09 L120.11 503.36 L120.34 503.84 L120.43 504.11 L120.6 504.36 L120.84 504.84 L120.85 505.11 L120.85 505.61 L120.85 506.11 L120.85 506.61 L120.85 507.11 L120.86 507.61 L120.84 507.89 L120.63 508.36 L120.62 508.86 L120.59 509.17 L120.4 509.61 L120.38 510.11 L120.47 510.61 L120.62 510.86 L120.62 511.36 L120.63 511.86 L120.59 512.18 L120.39 512.61 L120.24 512.86 L120.15 513.36 L120.01 513.61 L119.91 514.11 L119.77 514.36 L119.59 514.78 L119.46 515.11 L119.43 515.61 L119.44 516.11 L119.42 516.61 L119.2 516.86 L118.97 517.11 L118.81 517.36 L118.59 517.82 L118.47 518.11 L118.34 518.57 L118.09 518.84 L117.84 519 L117.59 519.13 L117.3 519.36 L117.06 519.61 L116.82 519.86 L116.59 520.23 L116.34 520.53 L115.84 520.36 L115.59 520.35 L115.34 520.37 L114.84 520.53 L114.59 520.68 L114.24 520.86 L113.94 521.11 L113.59 521.26 L113.34 521.39 L112.91 521.61 L112.59 521.82 L112.09 521.84 L111.84 521.93 L111.45 522.11 L111.09 522.3 L110.84 522.52 L110.59 522.74 L110.34 523.01 L110.09 523.17 L109.59 523.25 L109.34 523.41Z" fill="#1f66cc" fill-rule="evenodd"/>
<path d="M110.59 520.87 L110.09 521.08 L109.65 520.86 L109.48 520.61 L109.34 520.23 L109.15 519.86 L109.01 519.61 L108.84 519.3 L108.59 518.93 L108.43 518.61 L108.34 518.25 L108.19 517.86 L108.09 517.59 L107.93 517.11 L107.81 516.86 L107.59 516.47 L107.34 516.14 L107.09 515.87 L106.84 515.66 L106.59 515.5 L106.3 515.36 L105.84 515.21 L105.34 515.15 L105.09 514.91 L104.84 514.65 L104.59 514.38 L104.34 514.12 L104.09 513.91 L103.84 513.75 L103.57 513.61 L103.2 513.36 L103.08 513.11 L102.84 512.67 L102.69 512.36 L102.59 512.11 L102.34 511.61 L102.34 511.6 L102.51 511.11 L102.59 510.62 L102.6 510.36 L102.59 510.03 L102.54 509.61 L102.39 509.11 L102.27 508.86 L102.09 508.55 L101.84 508.22 L101.59 507.96 L101.34 507.72 L101.09 507.51 L100.84 507.33 L100.42 507.11 L100.09 506.91 L99.84 506.71 L99.59 506.54 L99.25 506.36 L98.84 506.13 L98.59 506.03 L98.33 505.86 L98.09 505.61 L97.84 505.36 L97.52 505.11 L97.09 504.86 L96.84 504.74 L96.59 504.59 L96.28 504.36 L96.19 503.86 L96.34 503.38 L96.59 503.12 L96.84 502.86 L97.09 502.61 L97.34 502.36 L97.58 502.11 L97.82 501.86 L98.01 501.61 L98.17 501.36 L98.34 501.01 L98.55 500.61 L98.84 500.56 L99.34 500.5 L99.84 500.42 L100.1 500.36 L100.59 500.2 L100.84 500.08 L101.17 499.86 L101.48 499.61 L101.78 499.36 L102.09 499.11 L102.34 498.92 L102.59 498.73 L102.84 498.57 L103.31 498.36 L103.59 498.2 L103.84 498.08 L104.34 497.93 L104.63 497.86 L105.09 497.74 L105.51 497.61 L105.84 497.48 L106.34 497.49 L106.84 497.57 L107.34 497.58 L107.84 497.6 L108.09 497.62 L108.59 497.68 L109.09 497.7 L109.59 497.7 L110.09 497.79 L110.34 497.91 L110.76 498.11 L111.09 498.3 L111.34 498.43 L111.74 498.61 L112.09 498.73 L112.5 498.86 L112.84 498.95 L113.17 499.11 L113.59 499.3 L113.84 499.38 L114.34 499.6 L114.59 499.69 L115.09 499.78 L115.59 499.8 L115.93 499.86 L116.14 500.11 L116.4 500.36 L116.72 500.61 L117.09 500.81 L117.34 500.99 L117.59 501.32 L117.84 501.58 L118.09 501.84 L118.1 502.11 L118.12 502.61 L118.22 503.11 L118.34 503.45 L118.48 503.86 L118.59 504.18 L118.8 504.61 L118.91 504.86 L119.09 505.22 L119.14 505.61 L119.16 506.11 L119.17 506.61 L119.19 507.11 L119.14 507.61 L119.08 507.86 L119.02 508.36 L118.98 508.86 L118.88 509.36 L118.86 509.86 L118.89 510.36 L118.97 510.86 L119.09 511.33 L119.1 511.61 L119.05 511.86 L118.86 512.36 L118.8 512.61 L118.67 513.11 L118.59 513.43 L118.48 513.86 L118.34 514.21 L118.21 514.61 L118.11 515.11 L118.08 515.36 L118.05 515.86 L117.84 516.34 L117.69 516.61 L117.58 516.86 L117.34 517.36 L117.24 517.61 L117.09 517.87 L116.79 518.11 L116.53 518.36 L116.31 518.61 L116.08 518.86 L115.72 519.11 L115.34 519.19 L114.84 519.35 L114.59 519.46 L114.31 519.61 L113.84 519.83 L113.59 519.97 L113.34 520.13 L112.84 520.33 L112.59 520.4 L112.09 520.58 L111.76 520.61 L111.34 520.68 L110.84 520.81 L110.59 520.87Z" fill="#33a6e6" fill-rule="evenodd"/>
<path d="M110.59 519.37 L110.34 519.29 L110.09 518.89 L109.9 518.61 L109.73 518.36 L109.59 518.07 L109.4 517.61 L109.29 517.36 L109.1 516.86 L108.99 516.61 L108.84 516.27 L108.62 515.86 L108.47 515.61 L108.32 515.36 L108.09 515.03 L107.84 514.72 L107.59 514.44 L107.34 514.21 L107.09 514.01 L106.84 513.85 L106.35 513.61 L106.09 513.52 L105.84 513.27 L105.59 512.98 L105.34 512.72 L105.09 512.5 L104.84 512.32 L104.54 512.11 L104.34 511.74 L104.25 511.36 L104.32 510.86 L104.34 510.36 L104.31 509.86 L104.21 509.36 L104.09 508.97 L103.92 508.61 L103.78 508.36 L103.59 508.07 L103.34 507.75 L103.09 507.46 L102.84 507.21 L102.59 506.97 L102.34 506.73 L102.09 506.51 L101.84 506.29 L101.59 506.1 L101.24 505.86 L100.9 505.61 L100.61 505.36 L100.34 505.14 L100.09 504.97 L99.84 504.81 L99.52 504.61 L99.23 504.36 L99 504.11 L98.73 503.86 L98.54 503.61 L98.76 503.36 L98.98 503.11 L99.16 502.86 L99.34 502.58 L99.59 502.2 L99.88 502.11 L100.34 501.93 L100.59 501.8 L100.87 501.61 L101.16 501.36 L101.42 501.11 L101.65 500.86 L101.87 500.61 L102.09 500.36 L102.34 500.09 L102.59 499.84 L102.84 499.6 L103.16 499.36 L103.56 499.11 L103.84 498.92 L104.09 498.8 L104.59 498.61 L104.84 498.52 L105.34 498.37 L105.59 498.28 L106.09 498.16 L106.59 498.18 L107.09 498.19 L107.59 498.21 L108.09 498.27 L108.54 498.36 L108.84 498.41 L109.34 498.49 L109.84 498.58 L110.09 498.68 L110.4 498.86 L110.79 499.11 L111.09 499.31 L111.34 499.48 L111.59 499.64 L111.96 499.86 L112.34 500.07 L112.59 500.2 L112.84 500.37 L113.19 500.61 L113.59 500.83 L113.84 500.99 L114.09 501.13 L114.59 501.32 L114.84 501.39 L115.34 501.59 L115.59 501.81 L115.84 502 L116.09 502.17 L116.34 502.42 L116.49 502.86 L116.59 503.31 L116.68 503.61 L116.84 504.02 L116.97 504.36 L117.09 504.68 L117.29 505.11 L117.42 505.36 L117.59 505.84 L117.61 506.11 L117.66 506.61 L117.71 507.11 L117.66 507.61 L117.64 508.11 L117.63 508.61 L117.59 509.11 L117.59 509.36 L117.59 509.61 L117.62 510.11 L117.67 510.61 L117.75 511.11 L117.78 511.61 L117.67 512.11 L117.59 512.55 L117.52 512.86 L117.42 513.36 L117.34 513.61 L117.19 514.11 L117.09 514.49 L117.02 514.86 L116.94 515.36 L116.84 515.76 L116.66 516.11 L116.55 516.36 L116.34 516.79 L116.13 517.11 L115.89 517.36 L115.66 517.61 L115.41 517.86 L115.09 518 L114.83 518.11 L114.34 518.32 L114.09 518.44 L113.73 518.61 L113.34 518.77 L113.09 518.88 L112.59 519.09 L112.34 519.17 L111.84 519.27 L111.34 519.32 L110.84 519.35 L110.59 519.37Z" fill="#3fc7d6" fill-rule="evenodd"/>
<path d="M112.59 517.86 L112.09 518 L111.59 518.08 L111.09 518.1 L110.72 517.86 L110.58 517.61 L110.34 517.13 L110.2 516.86 L110.09 516.6 L109.86 516.11 L109.73 515.86 L109.59 515.56 L109.35 515.11 L109.21 514.86 L109.07 514.61 L108.84 514.21 L108.61 513.86 L108.44 513.61 L108.26 513.36 L108.06 513.11 L107.84 512.85 L107.59 512.59 L107.31 512.36 L106.94 512.11 L106.67 511.86 L106.47 511.61 L106.25 511.36 L106 511.11 L105.97 510.61 L105.96 510.11 L105.9 509.61 L105.84 509.32 L105.68 508.86 L105.56 508.61 L105.34 508.26 L105.09 507.93 L104.84 507.65 L104.59 507.4 L104.34 507.16 L104.09 506.93 L103.84 506.71 L103.59 506.49 L103.34 506.27 L103.09 506.04 L102.84 505.81 L102.59 505.57 L102.34 505.34 L102.09 505.1 L101.82 504.86 L101.55 504.61 L101.33 504.36 L101.09 504.09 L100.84 503.81 L100.84 503.48 L101.09 503.24 L101.34 502.94 L101.56 502.61 L101.72 502.36 L101.87 502.11 L102.09 501.74 L102.31 501.36 L102.47 501.11 L102.65 500.86 L102.84 500.61 L103.09 500.31 L103.34 500.07 L103.6 499.86 L103.92 499.61 L104.34 499.36 L104.59 499.24 L104.91 499.11 L105.34 498.95 L105.61 498.86 L106.09 498.73 L106.59 498.72 L107.09 498.72 L107.59 498.75 L108.09 498.82 L108.34 498.87 L108.84 499 L109.21 499.11 L109.59 499.22 L109.94 499.36 L110.34 499.59 L110.59 499.8 L110.84 500.01 L111.09 500.23 L111.34 500.45 L111.59 500.68 L111.84 500.9 L112.09 501.12 L112.37 501.36 L112.65 501.61 L112.91 501.86 L113.21 502.11 L113.53 502.36 L113.84 502.56 L114.09 502.7 L114.48 502.86 L114.84 503.09 L115.06 503.36 L115.14 503.61 L115.32 504.11 L115.43 504.36 L115.59 504.68 L115.77 505.11 L115.89 505.36 L116.09 505.72 L116.26 506.11 L116.34 506.53 L116.4 506.86 L116.42 507.36 L116.45 507.86 L116.49 508.36 L116.5 508.86 L116.53 509.36 L116.58 509.86 L116.61 510.11 L116.67 510.61 L116.74 511.11 L116.75 511.61 L116.68 512.11 L116.59 512.61 L116.55 512.86 L116.42 513.36 L116.34 513.67 L116.23 514.11 L116.11 514.61 L116.06 514.86 L115.95 515.36 L115.83 515.61 L115.59 516.11 L115.44 516.36 L115.21 516.61 L114.96 516.86 L114.59 517.06 L114.34 517.18 L113.95 517.36 L113.59 517.52 L113.34 517.62 L112.84 517.79 L112.59 517.86Z" fill="#6cc853" fill-rule="evenodd"/>
<path d="M108.59 506.39 L108.09 506.45 L107.59 506.48 L107.09 506.47 L106.59 506.38 L106.34 506.27 L106.02 506.11 L105.59 505.87 L105.34 505.73 L105.09 505.57 L104.79 505.36 L104.47 505.11 L104.19 504.86 L103.94 504.61 L103.71 504.36 L103.51 504.11 L103.42 503.61 L103.43 503.11 L103.5 502.61 L103.59 502.26 L103.73 501.86 L103.86 501.61 L104.09 501.25 L104.34 500.94 L104.59 500.71 L104.84 500.51 L105.09 500.35 L105.55 500.11 L105.84 499.98 L106.34 499.87 L106.59 499.85 L107.09 499.83 L107.42 499.86 L107.84 499.92 L108.34 500.07 L108.59 500.17 L108.96 500.36 L109.34 500.59 L109.59 500.78 L109.84 500.99 L110.09 501.24 L110.32 501.61 L110.46 501.86 L110.59 502.12 L110.78 502.61 L110.87 502.86 L111.01 503.36 L111.09 503.65 L111.22 504.11 L111.19 504.61 L111.07 504.86 L110.84 505.22 L110.59 505.52 L110.34 505.74 L110.09 505.9 L109.67 506.11 L109.34 506.22 L108.84 506.34 L108.59 506.39ZM112.59 515.14 L112.09 515.19 L111.84 515.01 L111.59 514.64 L111.41 514.36 L111.26 514.11 L111.09 513.79 L110.87 513.36 L110.75 513.11 L110.59 512.75 L110.42 512.36 L110.32 512.11 L110.13 511.61 L110.09 511.36 L110.12 511.11 L110.22 510.61 L110.34 510.17 L110.44 509.86 L110.59 509.48 L110.77 509.11 L110.91 508.86 L111.09 508.58 L111.34 508.28 L111.59 508.05 L111.92 507.86 L112.34 507.72 L112.84 507.72 L113.34 507.85 L113.59 507.96 L113.84 508.24 L113.96 508.61 L114.09 509 L114.2 509.36 L114.34 509.84 L114.41 510.11 L114.53 510.61 L114.59 510.89 L114.65 511.36 L114.61 511.86 L114.58 512.11 L114.48 512.61 L114.35 513.11 L114.27 513.36 L114.12 513.86 L114.03 514.11 L113.84 514.61 L113.59 514.82 L113.34 514.93 L112.84 515.09 L112.59 515.14Z" fill="#eedc3a" fill-rule="evenodd"/>
<path d="M107.34 504.87 L106.84 504.87 L106.59 504.84 L106.09 504.72 L105.81 504.61 L105.36 504.36 L105.17 504.11 L105.03 503.86 L104.86 503.36 L104.83 503.11 L104.84 502.75 L104.92 502.36 L105.09 501.97 L105.34 501.61 L105.59 501.36 L105.84 501.17 L106.09 501.04 L106.59 500.92 L107.09 500.89 L107.59 500.96 L107.99 501.11 L108.34 501.31 L108.59 501.52 L108.84 501.8 L109.03 502.11 L109.14 502.36 L109.25 502.86 L109.24 503.36 L109.1 503.86 L108.97 504.11 L108.78 504.36 L108.34 504.61 L108.09 504.71 L107.59 504.84 L107.34 504.87Z" fill="#f08c22" fill-rule="evenodd"/>
<path d="M107.34 503.9 L107.09 503.94 L106.84 503.93 L106.59 503.87 L106.56 503.86 L106.34 503.75 L106.14 503.61 L106.09 503.56 L105.94 503.36 L105.84 503.12 L105.83 503.11 L105.8 502.86 L105.82 502.61 L105.84 502.52 L105.9 502.36 L106.05 502.11 L106.09 502.07 L106.34 501.88 L106.38 501.86 L106.59 501.77 L106.84 501.72 L107.09 501.71 L107.34 501.75 L107.59 501.85 L107.6 501.86 L107.84 502.03 L107.92 502.11 L108.09 502.35 L108.09 502.36 L108.18 502.61 L108.2 502.86 L108.17 503.11 L108.09 503.32 L108.07 503.36 L107.88 503.61 L107.84 503.64 L107.59 503.81 L107.48 503.86 L107.34 503.9Z" fill="#e2301a" fill-rule="evenodd"/>
<line x1="77.7" y1="506.5" x2="133.3" y2="506.5" stroke="#111" stroke-width="1.3"/>
<line x1="110.5" y1="479.7" x2="110.5" y2="528.5" stroke="#111" stroke-width="1.3"/>
<text x="79.5" y="487" font-size="7.8" fill="#000">37.0</text>
<text x="131.7" y="487" font-size="7.8" text-anchor="end" fill="#000">27.1</text>
<text x="131.7" y="527" font-size="7.8" text-anchor="end" fill="#000">26.6</text>
<rect x="142.6" y="479.7" width="55.4" height="48.8" fill="#fff" stroke="#a8a8a8" stroke-width="0.8"/>
<path d="M153.09 500.7 L152.91 500.11 L152.92 499.51 L153.84 499.2 L155.08 499.02 L155.86 498.62 L156.6 498.18 L157.58 497.88 L158.53 497.61 L159.14 497.15 L159.7 496.58 L160.51 496.16 L161.6 495.97 L162.88 495.99 L163.87 495.74 L164.75 495.34 L165.83 495.26 L166.75 494.93 L167.73 494.71 L168.79 494.74 L169.73 494.49 L170.61 494.06 L171.5 493.59 L172.4 493.11 L173.3 492.96 L174.14 493.17 L174.93 493.01 L175.74 492.56 L176.51 492.4 L177.2 492.51 L178.02 492.16 L178.88 491.83 L179.71 491.73 L180.76 491.25 L181.85 490.85 L182.94 490.56 L183.9 490.54 L184.62 490.85 L185.48 490.91 L186.52 490.73 L187.49 490.68 L188.08 491.1 L188.34 491.92 L188.64 492.7 L189.01 493.41 L189.41 494.12 L189.82 494.83 L190.41 495.41 L190.9 496.04 L190.85 497.01 L190.92 497.89 L191.17 498.68 L191.15 499.59 L191.3 500.4 L191.66 501.14 L191.66 501.98 L191.54 502.82 L191.64 503.59 L191.44 504.44 L191.21 505.29 L191.17 506.11 L190.96 506.95 L190.59 507.76 L190.03 508.51 L189.56 509.21 L189.1 509.83 L188.72 510.41 L188.48 510.99 L187.78 511.42 L187.4 511.93 L187.47 512.6 L186.75 513.01 L186.12 513.46 L185.98 514.19 L185.46 514.76 L184.77 515.23 L184.02 515.64 L183.24 515.99 L182.46 516.26 L181.84 516.65 L181.56 517.38 L181.33 518.22 L181.1 519.13 L180.56 519.61 L179.77 519.62 L179.15 519.88 L178.58 520.18 L177.97 520.34 L177.41 520.5 L176.96 520.94 L176.57 521.69 L176.2 522.5 L175.83 523.34 L175.48 524.2 L175.13 525.03 L174.76 525.4 L174.41 525.62 L174.12 525.85 L173.86 525.62 L173.64 525.14 L173.44 524.72 L173.21 524.49 L172.94 524.36 L172.6 523.98 L172.18 523.52 L171.63 523.05 L170.99 522.53 L170.29 522 L169.53 521.6 L168.66 521.5 L167.91 521.12 L167.28 520.59 L166.71 520.17 L166.36 519.55 L166 519.05 L165.6 518.67 L165.51 517.91 L165.46 517.14 L165.31 516.54 L165.07 516.06 L164.56 515.84 L164.28 515.38 L163.9 515.04 L163.09 515.02 L162.78 514.62 L162.89 513.95 L162.68 513.52 L162.17 513.23 L161.96 512.76 L162.14 512.09 L162.07 511.54 L161.81 511.04 L161.8 510.45 L161.74 509.86 L161.84 509.25 L162.12 508.66 L162.25 508.14 L162 507.72 L160.91 507.33 L159.95 506.93 L159.51 506.55 L158.64 506.14 L157.92 505.73 L157.64 505.34 L157.2 504.9 L156.68 504.42 L156.14 503.92 L155.32 503.36 L154.36 502.74 L153.47 502.11 L153.02 501.57 L153.06 501.15Z" fill="#1c3d9c"/>
<path d="M174.41 523.87 L174.1 523.79 L173.82 523.54 L173.52 523.29 L173.34 523.04 L173.09 522.79 L172.84 522.54 L172.56 522.29 L172.16 522.08 L171.91 521.84 L171.66 521.58 L171.41 521.33 L171.16 521.16 L170.85 521.04 L170.41 520.81 L170.16 520.64 L169.66 520.55 L169.41 520.38 L168.91 520.29 L168.66 520.12 L168.4 520.04 L168.15 519.79 L167.9 519.54 L167.57 519.29 L167.4 519.04 L167.16 518.54 L166.91 518.29 L166.66 518.04 L166.65 517.79 L166.65 517.29 L166.64 516.79 L166.41 516.29 L166.39 516.04 L166.16 515.54 L165.91 515.29 L165.66 515.04 L165.41 514.87 L165.16 514.54 L164.91 514.29 L164.66 514.12 L164.4 514.04 L163.91 513.79 L163.9 513.54 L163.82 513.04 L163.65 512.79 L163.4 512.54 L163.15 512.29 L163.15 511.79 L163.15 511.29 L163.07 510.79 L162.9 510.54 L162.9 510.04 L162.91 509.78 L163.14 509.29 L163.16 509.03 L163.39 508.54 L163.4 508.04 L163.32 507.54 L163.15 507.29 L162.9 507.04 L162.65 506.79 L162.16 506.54 L161.91 506.37 L161.41 506.29 L161.16 506.12 L160.9 506.04 L160.41 505.79 L160.16 505.54 L159.91 505.37 L159.65 505.29 L159.16 505.04 L158.91 504.87 L158.65 504.79 L158.4 504.54 L158.15 504.29 L157.9 504.04 L157.65 503.79 L157.4 503.54 L157.15 503.29 L156.9 503.04 L156.65 502.79 L156.16 502.54 L155.91 502.29 L155.66 502.12 L155.4 502.04 L155.15 501.79 L154.66 501.54 L154.41 501.29 L154.16 501.04 L154.15 500.79 L154.15 500.29 L154.41 500.28 L154.91 500.28 L155.41 500.2 L155.66 500.03 L156.15 499.79 L156.41 499.7 L156.66 499.53 L157.15 499.29 L157.41 499.2 L157.66 499.03 L158.16 499.02 L158.65 498.79 L158.91 498.7 L159.16 498.53 L159.65 498.29 L159.9 498.04 L160.15 497.79 L160.4 497.54 L160.66 497.45 L160.91 497.28 L161.41 497.27 L161.9 497.04 L162.16 497.03 L162.66 497.03 L163.16 497.03 L163.66 497.03 L164.16 496.95 L164.41 496.78 L164.9 496.54 L165.16 496.53 L165.66 496.52 L166.15 496.29 L166.41 496.28 L166.91 496.2 L167.16 496.03 L167.66 495.94 L167.91 495.78 L168.41 495.77 L168.91 495.76 L169.41 495.75 L169.91 495.65 L170.16 495.48 L170.54 495.29 L170.91 495.2 L171.25 495.04 L171.55 494.79 L171.91 494.6 L172.16 494.44 L172.49 494.29 L172.91 494.17 L173.41 494.15 L173.91 494.15 L174.41 494.13 L174.91 494.08 L175.16 493.98 L175.57 493.79 L175.91 493.62 L176.16 493.52 L176.66 493.41 L177.16 493.4 L177.66 493.4 L178.16 493.3 L178.41 493.17 L178.74 493.04 L179.16 492.96 L179.66 492.87 L179.91 492.74 L180.41 492.65 L180.66 492.5 L181.16 492.42 L181.41 492.26 L181.88 492.04 L182.16 492.01 L182.64 491.79 L182.91 491.78 L183.41 491.78 L183.91 491.78 L184.16 491.95 L184.66 492.03 L185.16 492.03 L185.66 492.03 L186.16 492.03 L186.66 491.95 L186.91 491.78 L187.16 492.03 L187.17 492.29 L187.41 492.78 L187.49 493.04 L187.66 493.29 L187.91 493.78 L187.99 494.04 L188.16 494.29 L188.41 494.78 L188.49 495.04 L188.66 495.29 L188.91 495.54 L189.16 495.79 L189.41 496.04 L189.66 496.29 L189.66 496.79 L189.66 497.29 L189.68 497.79 L189.91 498.28 L189.91 498.54 L189.99 499.04 L189.91 499.54 L189.99 500.04 L190.16 500.29 L190.18 500.79 L190.41 501.28 L190.49 501.54 L190.41 502.04 L190.41 502.54 L190.41 503.04 L190.41 503.54 L190.41 504.04 L190.24 504.29 L190.16 504.79 L190.16 505.29 L190.16 505.54 L189.92 506.04 L189.91 506.54 L189.74 506.79 L189.66 507.04 L189.41 507.29 L189.16 507.79 L188.91 508.04 L188.74 508.29 L188.66 508.54 L188.41 508.79 L188.16 509.04 L187.91 509.54 L187.74 509.79 L187.66 510.04 L187.41 510.29 L187.16 510.54 L186.91 510.79 L186.66 511.04 L186.43 511.54 L186.41 511.79 L186.16 512.04 L185.67 512.29 L185.41 512.54 L185.17 512.79 L185 513.04 L184.91 513.54 L184.75 513.79 L184.43 514.04 L184.18 514.29 L183.91 514.4 L183.66 514.57 L183.25 514.79 L182.91 514.87 L182.58 515.04 L182.16 515.29 L181.91 515.46 L181.66 515.6 L181.41 515.81 L181.16 516.1 L180.93 516.54 L180.8 516.79 L180.66 517.22 L180.54 517.54 L180.41 517.89 L180.37 518.29 L180.16 518.63 L179.73 518.79 L179.41 518.83 L178.91 519.01 L178.66 519.17 L178.41 519.29 L177.93 519.54 L177.66 519.66 L177.16 519.72 L176.91 519.83 L176.66 520.05 L176.38 520.29 L176.16 520.67 L175.91 520.9 L175.66 521.28 L175.59 521.54 L175.41 521.88 L175.16 522.28 L175.02 522.54 L174.85 522.79 L174.66 523.17 L174.48 523.54 L174.41 523.87Z" fill="#1f66cc" fill-rule="evenodd"/>
<path d="M173.91 521.15 L173.53 521.04 L173.16 520.79 L172.91 520.58 L172.66 520.32 L172.41 520.08 L172.16 519.89 L171.91 519.72 L171.58 519.54 L171.16 519.29 L170.91 519.14 L170.66 519.02 L170.16 518.84 L169.91 518.73 L169.41 518.55 L169.16 518.3 L168.91 518.06 L168.76 517.79 L168.6 517.54 L168.42 517.04 L168.4 516.79 L168.32 516.29 L168.16 515.81 L168.07 515.54 L167.91 515.06 L167.77 514.79 L167.61 514.54 L167.41 514.28 L167.16 514.02 L166.91 513.77 L166.62 513.54 L166.41 513.27 L166.16 513.02 L165.85 512.79 L165.52 512.54 L165.41 512.28 L165.16 511.84 L164.93 511.54 L164.92 511.04 L164.89 510.79 L164.76 510.29 L164.83 509.79 L164.91 509.54 L165.08 509.04 L165.16 508.63 L165.18 508.29 L165.17 507.79 L165.14 507.54 L165.01 507.04 L164.91 506.78 L164.66 506.34 L164.42 506.04 L164.17 505.79 L163.92 505.54 L163.66 505.32 L163.41 505.16 L163.16 505.03 L162.66 504.79 L162.41 504.68 L161.91 504.54 L161.66 504.41 L161.41 504.27 L161.1 504.04 L160.66 503.79 L160.41 503.66 L160.16 503.53 L159.68 503.29 L159.42 503.04 L159.17 502.79 L158.92 502.54 L158.67 502.29 L158.42 502.04 L158.17 501.79 L157.92 501.54 L157.66 501.32 L157.66 501.05 L157.91 500.91 L158.25 500.79 L158.66 500.71 L159.16 500.54 L159.41 500.41 L159.66 500.29 L160.16 500.04 L160.41 499.91 L160.66 499.75 L160.92 499.54 L161.17 499.29 L161.5 499.04 L161.91 498.96 L162.41 498.81 L162.91 498.81 L163.41 498.81 L163.91 498.8 L164.16 498.77 L164.66 498.64 L164.91 498.54 L165.41 498.31 L165.72 498.29 L166.16 498.21 L166.66 498.04 L166.91 498 L167.41 497.86 L167.66 497.75 L168.16 497.59 L168.41 497.5 L168.91 497.47 L169.41 497.42 L169.91 497.31 L170.16 497.21 L170.51 497.04 L170.9 496.79 L171.16 496.64 L171.41 496.54 L171.86 496.29 L172.16 496.08 L172.41 495.88 L172.66 495.72 L173.01 495.54 L173.41 495.45 L173.91 495.37 L174.41 495.29 L174.66 495.25 L175.16 495.15 L175.51 495.04 L175.91 494.88 L176.19 494.79 L176.66 494.62 L177.16 494.6 L177.66 494.6 L178.16 494.58 L178.46 494.54 L178.91 494.43 L179.41 494.34 L179.91 494.31 L180.16 494.27 L180.66 494.18 L181.16 494.07 L181.41 494.03 L181.91 493.9 L182.19 493.79 L182.66 493.65 L183.08 493.54 L183.41 493.52 L183.66 493.6 L184.16 493.74 L184.58 493.79 L184.91 493.79 L185.41 493.8 L185.91 493.82 L186.16 494.27 L186.29 494.54 L186.41 494.79 L186.66 495.26 L186.79 495.54 L186.92 495.79 L187.16 496.21 L187.4 496.54 L187.65 496.79 L187.89 497.04 L187.89 497.54 L187.91 497.79 L187.99 498.29 L188.16 498.78 L188.19 499.04 L188.16 499.4 L188.16 499.64 L188.19 500.04 L188.32 500.54 L188.41 500.79 L188.49 501.29 L188.65 501.79 L188.64 502.29 L188.64 502.79 L188.64 503.29 L188.56 503.79 L188.43 504.29 L188.4 504.54 L188.39 505.04 L188.23 505.54 L188.16 505.99 L187.95 506.29 L187.79 506.54 L187.65 506.79 L187.41 507.1 L187.16 507.52 L186.91 507.78 L186.7 508.04 L186.54 508.29 L186.41 508.55 L186.16 509.02 L185.91 509.28 L185.66 509.53 L185.41 509.78 L185.21 510.04 L185.05 510.29 L184.91 510.57 L184.66 510.85 L184.41 511.06 L184.16 511.32 L183.91 511.59 L183.66 511.96 L183.49 512.29 L183.39 512.54 L183.16 512.9 L182.91 513.08 L182.56 513.29 L182.16 513.51 L181.91 513.71 L181.66 513.93 L181.41 514.16 L181.16 514.4 L180.91 514.67 L180.66 515 L180.47 515.29 L180.31 515.54 L180.16 515.82 L179.94 516.29 L179.82 516.54 L179.66 516.98 L179.51 517.29 L179.4 517.54 L179.13 517.79 L178.68 518.04 L178.41 518.22 L178.16 518.37 L177.89 518.54 L177.41 518.76 L177.16 518.81 L176.66 518.95 L176.41 519.05 L175.94 519.29 L175.66 519.44 L175.41 519.6 L175.16 519.79 L174.82 520.04 L174.5 520.29 L174.27 520.54 L174.1 520.79 L173.91 521.15Z" fill="#33a6e6" fill-rule="evenodd"/>
<path d="M173.41 518.92 L173.06 518.79 L172.74 518.54 L172.41 518.3 L172.16 518.12 L171.91 517.95 L171.66 517.77 L171.28 517.54 L170.91 517.35 L170.66 517.23 L170.31 517.04 L170.13 516.79 L170.04 516.29 L169.93 515.79 L169.85 515.54 L169.68 515.04 L169.61 514.79 L169.42 514.29 L169.3 514.04 L169.16 513.76 L168.91 513.38 L168.66 513.06 L168.41 512.79 L168.16 512.54 L167.91 512.31 L167.67 512.04 L167.43 511.79 L167.16 511.55 L166.91 511.31 L166.75 511.04 L166.66 510.62 L166.6 510.29 L166.66 509.95 L166.79 509.54 L166.89 509.04 L166.92 508.79 L166.95 508.29 L166.94 507.79 L166.91 507.4 L166.84 507.04 L166.71 506.54 L166.62 506.29 L166.41 505.82 L166.25 505.54 L166.08 505.29 L165.9 505.04 L165.66 504.76 L165.41 504.51 L165.16 504.26 L164.9 504.04 L164.55 503.79 L164.16 503.55 L163.91 503.42 L163.63 503.29 L163.16 503.07 L162.91 502.98 L162.41 502.79 L162.16 502.6 L161.91 502.44 L161.64 502.29 L161.16 502.05 L160.91 501.92 L160.91 501.65 L161.16 501.53 L161.56 501.29 L161.9 501.04 L162.16 500.82 L162.41 500.67 L162.91 500.59 L163.41 500.59 L163.91 500.58 L164.33 500.54 L164.66 500.48 L165.16 500.34 L165.41 500.25 L165.91 500.05 L166.16 500.02 L166.66 499.9 L167.01 499.79 L167.41 499.69 L167.86 499.54 L168.16 499.41 L168.44 499.29 L168.91 499.16 L169.41 499.06 L169.66 498.99 L170.16 498.79 L170.41 498.66 L170.66 498.51 L170.96 498.29 L171.28 498.04 L171.62 497.79 L171.91 497.61 L172.16 497.43 L172.41 497.25 L172.68 497.04 L173 496.79 L173.41 496.56 L173.66 496.49 L174.16 496.34 L174.41 496.28 L174.91 496.15 L175.34 496.04 L175.66 495.94 L176.14 495.79 L176.41 495.7 L176.91 495.56 L177.41 495.55 L177.91 495.56 L178.41 495.55 L178.82 495.54 L179.16 495.51 L179.66 495.47 L180.16 495.5 L180.66 495.49 L181.16 495.48 L181.66 495.45 L182.16 495.43 L182.66 495.34 L182.91 495.27 L183.41 495.25 L183.66 495.33 L184.16 495.45 L184.66 495.51 L184.91 495.61 L185.13 496.04 L185.26 496.29 L185.41 496.57 L185.66 497.02 L185.83 497.29 L186.02 497.54 L186.19 497.79 L186.26 498.29 L186.37 498.79 L186.45 499.04 L186.47 499.54 L186.5 500.04 L186.58 500.54 L186.66 500.85 L186.77 501.29 L186.87 501.79 L186.93 502.04 L186.93 502.54 L186.93 503.04 L186.91 503.33 L186.78 503.79 L186.7 504.29 L186.66 504.77 L186.58 505.04 L186.41 505.48 L186.22 505.79 L186.04 506.04 L185.87 506.29 L185.66 506.59 L185.41 506.89 L185.16 507.24 L184.98 507.54 L184.85 507.79 L184.66 508.08 L184.41 508.34 L184.16 508.61 L183.91 508.92 L183.67 509.29 L183.53 509.54 L183.31 509.79 L183.09 510.04 L182.89 510.29 L182.66 510.61 L182.41 511.04 L182.3 511.29 L182.16 511.64 L181.91 511.89 L181.66 512.1 L181.41 512.35 L181.16 512.64 L180.91 512.94 L180.66 513.26 L180.44 513.54 L180.27 513.79 L180.1 514.04 L179.91 514.36 L179.66 514.78 L179.51 515.04 L179.38 515.29 L179.16 515.74 L179 516.04 L178.87 516.29 L178.66 516.74 L178.41 516.97 L178.16 517.13 L177.91 517.31 L177.51 517.54 L177.16 517.7 L176.76 517.79 L176.41 517.87 L175.91 517.99 L175.66 518.05 L175.16 518.19 L174.83 518.29 L174.41 518.41 L174.08 518.54 L173.66 518.76 L173.41 518.92Z" fill="#3fc7d6" fill-rule="evenodd"/>
<path d="M173.16 517.04 L172.85 517.04 L172.53 516.79 L172.24 516.54 L171.93 516.29 L171.66 516.08 L171.41 515.82 L171.33 515.54 L171.18 515.04 L171.1 514.79 L170.96 514.29 L170.88 514.04 L170.7 513.54 L170.59 513.29 L170.41 512.88 L170.22 512.54 L170.07 512.29 L169.91 512.03 L169.66 511.71 L169.41 511.4 L169.16 511.13 L168.91 510.83 L168.66 510.55 L168.41 510.31 L168.41 510.22 L168.52 509.79 L168.61 509.29 L168.66 508.88 L168.68 508.54 L168.68 508.04 L168.66 507.54 L168.63 507.29 L168.56 506.79 L168.44 506.29 L168.36 506.04 L168.18 505.54 L168.07 505.29 L167.91 504.94 L167.67 504.54 L167.51 504.29 L167.33 504.04 L167.14 503.79 L166.91 503.52 L166.66 503.26 L166.41 503.01 L166.16 502.78 L165.85 502.54 L165.5 502.29 L165.68 502.04 L166.16 501.86 L166.41 501.77 L166.91 501.66 L167.3 501.54 L167.66 501.42 L168.07 501.29 L168.41 501.14 L168.66 501.01 L169.16 500.81 L169.41 500.73 L169.86 500.54 L170.16 500.37 L170.41 500.2 L170.66 500 L170.91 499.78 L171.17 499.54 L171.42 499.29 L171.66 499.04 L171.91 498.79 L172.21 498.54 L172.5 498.29 L172.79 498.04 L173.08 497.79 L173.37 497.54 L173.66 497.38 L173.91 497.27 L174.41 497.08 L174.66 497 L175.16 496.84 L175.41 496.76 L175.91 496.61 L176.16 496.54 L176.66 496.39 L177.16 496.29 L177.66 496.3 L178.16 496.31 L178.66 496.33 L179.16 496.35 L179.66 496.37 L180.16 496.43 L180.66 496.51 L180.91 496.54 L181.41 496.62 L181.91 496.69 L182.41 496.75 L182.91 496.78 L183.41 496.77 L183.66 496.87 L183.96 497.04 L184.16 497.39 L184.39 497.79 L184.54 498.04 L184.71 498.29 L184.85 498.79 L184.92 499.04 L185.01 499.54 L185.06 500.04 L185.12 500.54 L185.16 500.79 L185.26 501.29 L185.35 501.79 L185.41 502.14 L185.42 502.54 L185.41 502.93 L185.33 503.29 L185.22 503.79 L185.16 504.15 L185.1 504.54 L184.91 504.93 L184.67 505.29 L184.51 505.54 L184.31 505.79 L184.12 506.04 L183.91 506.34 L183.66 506.75 L183.49 507.04 L183.28 507.29 L183.06 507.54 L182.87 507.79 L182.66 508.09 L182.41 508.52 L182.23 508.79 L182.06 509.04 L181.89 509.29 L181.66 509.71 L181.5 510.04 L181.4 510.29 L181.17 510.79 L180.98 511.04 L180.81 511.29 L180.64 511.54 L180.41 511.91 L180.17 512.29 L180.02 512.54 L179.86 512.79 L179.66 513.15 L179.44 513.54 L179.3 513.79 L179.16 514.05 L178.91 514.49 L178.74 514.79 L178.6 515.04 L178.41 515.39 L178.16 515.79 L178.01 516.04 L177.76 516.29 L177.41 516.51 L177.16 516.64 L176.73 516.79 L176.41 516.85 L175.91 516.92 L175.41 516.96 L174.91 516.98 L174.41 516.99 L173.91 517 L173.41 517.02 L173.16 517.04Z" fill="#6cc853" fill-rule="evenodd"/>
<path d="M176.16 514.58 L175.66 514.56 L175.41 514.52 L174.91 514.36 L174.66 514.26 L174.24 514.04 L173.91 513.83 L173.66 513.65 L173.43 513.29 L173.37 513.04 L173.26 512.54 L173.18 512.04 L173.14 511.79 L173.09 511.29 L173.06 510.79 L173.05 510.29 L173.06 509.79 L173.08 509.29 L173.11 508.79 L173.14 508.29 L173.16 508.04 L173.17 507.54 L173.17 507.04 L173.16 506.78 L173.1 506.29 L173.01 505.79 L172.91 505.37 L172.81 505.04 L172.66 504.54 L172.58 504.29 L172.43 503.79 L172.36 503.54 L172.24 503.04 L172.16 502.54 L172.13 502.29 L172.16 501.95 L172.32 501.54 L172.43 501.29 L172.66 500.81 L172.81 500.54 L172.97 500.29 L173.16 500.01 L173.41 499.68 L173.66 499.37 L173.91 499.1 L174.16 498.9 L174.41 498.73 L174.75 498.54 L175.16 498.33 L175.41 498.22 L175.89 498.04 L176.16 497.95 L176.66 497.82 L176.91 497.76 L177.41 497.68 L177.91 497.7 L178.41 497.76 L178.66 497.8 L179.16 497.9 L179.66 498.03 L179.91 498.11 L180.38 498.29 L180.66 498.41 L180.91 498.54 L181.33 498.79 L181.66 498.99 L181.91 499.16 L182.16 499.48 L182.29 499.79 L182.41 500.16 L182.5 500.54 L182.57 501.04 L182.59 501.54 L182.55 502.04 L182.46 502.54 L182.39 502.79 L182.22 503.29 L182.11 503.54 L181.91 503.95 L181.71 504.29 L181.55 504.54 L181.38 504.79 L181.16 505.09 L180.91 505.43 L180.66 505.77 L180.47 506.04 L180.3 506.29 L180.15 506.54 L179.92 507.04 L179.83 507.29 L179.7 507.79 L179.66 508.05 L179.61 508.54 L179.52 509.04 L179.41 509.3 L179.21 509.79 L179.11 510.04 L178.91 510.54 L178.8 510.79 L178.66 511.14 L178.49 511.54 L178.37 511.79 L178.16 512.23 L178 512.54 L177.85 512.79 L177.66 513.09 L177.41 513.45 L177.16 513.76 L176.91 514.03 L176.66 514.27 L176.41 514.46 L176.16 514.58Z" fill="#eedc3a" fill-rule="evenodd"/>
<path d="M176.41 506.79 L176.16 506.64 L175.91 506.35 L175.68 506.04 L175.51 505.79 L175.34 505.54 L175.16 505.25 L174.91 504.85 L174.73 504.54 L174.59 504.29 L174.41 503.91 L174.24 503.54 L174.15 503.29 L174 502.79 L173.91 502.29 L173.88 502.04 L173.87 501.54 L173.91 501.29 L174.14 500.79 L174.28 500.54 L174.46 500.29 L174.7 500.04 L174.98 499.79 L175.32 499.54 L175.66 499.34 L175.91 499.21 L176.34 499.04 L176.66 498.94 L177.16 498.83 L177.64 498.79 L177.67 498.79 L178.16 498.84 L178.66 498.96 L178.91 499.04 L179.41 499.26 L179.66 499.39 L179.91 499.55 L180.23 499.79 L180.41 500.04 L180.61 500.54 L180.68 500.79 L180.76 501.29 L180.75 501.79 L180.66 502.29 L180.59 502.54 L180.41 503 L180.26 503.29 L180.1 503.54 L179.91 503.81 L179.66 504.13 L179.41 504.41 L179.16 504.66 L178.91 504.9 L178.66 505.13 L178.41 505.36 L178.16 505.58 L177.91 505.8 L177.63 506.04 L177.34 506.29 L177.03 506.54 L176.66 506.78 L176.41 506.79ZM176.16 511.32 L175.97 511.29 L175.91 511.25 L175.82 511.04 L175.75 510.79 L175.7 510.54 L175.69 510.29 L175.7 510.04 L175.73 509.79 L175.78 509.54 L175.85 509.29 L175.91 509.11 L175.95 509.04 L176.1 508.79 L176.16 508.7 L176.41 508.61 L176.56 508.79 L176.66 508.89 L176.71 509.04 L176.79 509.29 L176.86 509.54 L176.91 509.77 L176.91 509.79 L176.93 510.04 L176.93 510.29 L176.91 510.42 L176.88 510.54 L176.72 510.79 L176.66 510.88 L176.51 511.04 L176.41 511.15 L176.2 511.29 L176.16 511.32Z" fill="#f08c22" fill-rule="evenodd"/>
<path d="M177.41 504.6 L176.91 504.67 L176.41 504.57 L176.16 504.45 L175.91 504.28 L175.65 504.04 L175.41 503.75 L175.16 503.36 L175 503.04 L174.9 502.79 L174.77 502.29 L174.72 501.79 L174.76 501.29 L174.91 500.89 L175.16 500.57 L175.41 500.32 L175.66 500.11 L175.91 499.95 L176.2 499.79 L176.66 499.6 L176.91 499.53 L177.41 499.45 L177.91 499.45 L178.28 499.54 L178.66 499.67 L178.92 499.79 L179.33 500.04 L179.54 500.29 L179.67 500.54 L179.84 501.04 L179.89 501.54 L179.83 502.04 L179.68 502.54 L179.56 502.79 L179.41 503.05 L179.16 503.39 L178.91 503.67 L178.66 503.9 L178.41 504.1 L178.11 504.29 L177.66 504.52 L177.41 504.6Z" fill="#e2301a" fill-rule="evenodd"/>
<line x1="142.6" y1="506.5" x2="198" y2="506.5" stroke="#111" stroke-width="1.3"/>
<line x1="173.5" y1="479.7" x2="173.5" y2="528.5" stroke="#111" stroke-width="1.3"/>
<text x="144.4" y="487" font-size="7.8" fill="#000">14.3</text>
<text x="196.4" y="487" font-size="7.8" text-anchor="end" fill="#000">53.4</text>
<text x="196.4" y="527" font-size="7.8" text-anchor="end" fill="#000">27.5</text>
<rect x="209.3" y="479.7" width="55.3" height="48.8" fill="#fff" stroke="#a8a8a8" stroke-width="0.8"/>
<path d="M219.28 501.77 L219.72 501.54 L219.74 501.05 L219.79 500.49 L220.2 500.04 L221.05 499.79 L222.02 499.62 L222.66 499.24 L222.94 498.61 L223.46 498.11 L224.6 498.07 L225.84 498.15 L226.55 497.7 L227.09 497 L228.2 496.95 L229.41 497.12 L230.31 496.87 L231.25 496.66 L232.22 496.44 L233.2 496.17 L234.19 495.86 L235.19 495.48 L236.23 495.43 L237.24 495.44 L238.21 495.15 L239.14 495.27 L239.98 495.76 L240.85 495.92 L241.73 495.96 L242.56 496.16 L243.37 496.37 L244.25 496.41 L245.07 496.54 L245.73 496.95 L246.4 497.34 L247.13 497.64 L247.74 498.05 L248.42 498.35 L249.17 498.58 L249.8 498.9 L250.51 499.13 L250.65 499.79 L250.38 500.67 L250.48 501.28 L250.54 501.91 L250.6 502.54 L250.46 503.29 L250.18 504.08 L250.45 504.63 L251 505.1 L251.25 505.67 L251.34 506.28 L251.58 506.84 L251.71 507.42 L251.85 508 L252.35 508.57 L252.96 509.2 L253.43 509.89 L253.71 510.62 L253.61 511.34 L253.52 512.05 L253.42 512.77 L253.15 513.43 L253.3 514.2 L253.49 515 L253.25 515.68 L253.08 516.41 L253.08 517.24 L252.96 518.03 L252.67 518.71 L252.46 519.42 L252.32 520.15 L251.95 520.66 L251.62 521.16 L251.33 521.66 L250.71 521.85 L250.12 522.03 L249.9 522.57 L249.69 523.18 L249.05 523.32 L248.21 523.23 L247.57 523.43 L246.91 523.68 L245.95 523.52 L245.07 523.49 L244.26 523.66 L243.29 523.49 L242.4 523.44 L241.57 523.5 L240.69 523.38 L239.84 523.49 L238.94 523.52 L238 522.94 L237.14 522.23 L236.33 522.02 L235.51 522.2 L234.72 522.31 L234.01 522.24 L233.37 522.04 L232.79 521.84 L232.21 521.72 L231.61 521.73 L231.04 521.71 L230.56 521.52 L229.98 521.5 L229.39 521.44 L229.31 520.67 L229.22 519.95 L228.71 519.77 L228.58 519.14 L228.62 518.35 L228.33 517.89 L228.27 517.23 L228.43 516.4 L228.54 515.62 L228.54 514.92 L228.27 514.36 L228.11 513.7 L228.27 512.89 L228.05 512.24 L227.9 511.59 L228.23 510.9 L228.2 510.32 L228.11 509.78 L228.21 509.28 L227.95 508.81 L227.35 508.31 L226.92 507.84 L226.68 507.41 L226.11 506.97 L225.37 506.53 L224.72 506.15 L224.04 505.78 L223.43 505.44 L222.67 505.06 L221.89 504.66 L221.58 504.37 L221.3 504.08 L220.91 503.77 L220.67 503.51 L220.11 503.14 L219.36 502.66 L218.83 502.23 L218.74 501.91Z" fill="#1c3d9c"/>
<path d="M246.99 522.43 L246.49 522.44 L245.99 522.44 L245.49 522.45 L244.99 522.46 L244.49 522.47 L243.99 522.47 L243.49 522.48 L242.99 522.49 L242.49 522.49 L241.99 522.49 L241.49 522.49 L241.24 522.37 L240.74 522.26 L240.24 522.36 L239.99 522.48 L239.49 522.48 L239.24 522.34 L238.83 522.15 L238.49 522 L238.24 521.78 L237.99 521.55 L237.74 521.38 L237.28 521.15 L236.99 521.03 L236.49 520.99 L235.99 520.97 L235.49 520.97 L235.06 521.15 L234.74 521.18 L234.24 521.17 L233.99 521.01 L233.49 520.92 L233.24 520.75 L232.74 520.66 L232.24 520.66 L231.74 520.66 L231.48 520.65 L230.99 520.43 L230.49 520.41 L230.49 520.15 L230.41 519.65 L230.24 519.4 L229.99 519.15 L229.74 518.9 L229.74 518.4 L229.72 517.9 L229.49 517.41 L229.49 517.15 L229.49 516.65 L229.66 516.4 L229.74 515.9 L229.74 515.4 L229.74 514.9 L229.66 514.4 L229.49 514.15 L229.24 513.66 L229.24 513.65 L229.47 513.15 L229.47 512.65 L229.24 512.16 L229.22 511.9 L229.22 511.4 L229.24 510.9 L229.24 510.4 L229.24 509.9 L229.24 509.4 L229.24 508.9 L229.15 508.4 L228.98 508.15 L228.72 507.9 L228.46 507.65 L227.99 507.42 L227.89 507.15 L227.72 506.9 L227.47 506.65 L227.22 506.4 L226.97 506.15 L226.71 505.9 L226.24 505.67 L225.99 505.5 L225.72 505.4 L225.24 505.16 L224.99 504.91 L224.74 504.74 L224.48 504.65 L223.99 504.41 L223.74 504.24 L223.48 504.15 L222.99 503.91 L222.74 503.74 L222.49 503.65 L222.24 503.4 L221.99 503.15 L221.74 502.9 L221.49 502.65 L221.24 502.4 L220.74 502.16 L220.72 501.9 L220.74 501.65 L220.97 501.15 L221.24 500.9 L221.49 500.9 L221.99 500.88 L222.49 500.65 L222.74 500.57 L222.99 500.4 L223.24 500.15 L223.49 499.9 L223.74 499.65 L223.99 499.15 L224.24 499.15 L224.74 499.15 L225.24 499.15 L225.74 499.14 L226.24 499.12 L226.7 498.9 L226.99 498.79 L227.24 498.62 L227.49 498.37 L227.74 498.13 L228.24 498.11 L228.74 498.09 L229.24 498.06 L229.74 498.03 L230.24 497.97 L230.49 497.86 L230.99 497.72 L231.49 497.65 L231.74 497.54 L232.24 497.42 L232.49 497.38 L232.99 497.17 L233.3 497.15 L233.74 497.03 L234.22 496.9 L234.49 496.81 L234.84 496.65 L235.24 496.5 L235.74 496.5 L236.24 496.51 L236.74 496.51 L237.24 496.52 L237.74 496.44 L237.99 496.32 L238.49 496.33 L238.87 496.4 L239.24 496.58 L239.49 496.73 L239.99 496.84 L240.35 496.9 L240.74 497.08 L241.24 497.11 L241.74 497.13 L242.04 497.15 L242.49 497.37 L242.99 497.39 L243.49 497.39 L243.74 497.56 L244.24 497.65 L244.74 497.65 L244.99 497.9 L245.24 498.07 L245.5 498.15 L245.99 498.4 L246.24 498.57 L246.5 498.65 L246.99 498.9 L247.24 499.15 L247.49 499.32 L247.99 499.4 L248.24 499.57 L248.74 499.65 L248.99 499.82 L249.25 499.9 L249.25 500.4 L249.25 500.9 L249.25 501.4 L249.33 501.9 L249.5 502.15 L249.49 502.42 L249.27 502.9 L249.24 503.17 L249.02 503.65 L249.01 504.15 L249.11 504.65 L249.28 504.9 L249.49 505.31 L249.74 505.58 L249.99 505.75 L250.24 506.03 L250.32 506.4 L250.46 506.9 L250.6 507.15 L250.66 507.65 L250.78 507.9 L250.95 508.4 L251.06 508.65 L251.24 508.91 L251.49 509.17 L251.74 509.44 L251.99 509.71 L252.24 509.98 L252.49 510.4 L252.61 510.65 L252.62 511.15 L252.62 511.65 L252.49 511.96 L252.4 512.4 L252.29 512.9 L252.19 513.15 L252.16 513.65 L252.17 514.15 L252.25 514.4 L252.35 514.9 L252.24 515.36 L252.12 515.65 L252.08 516.15 L252.06 516.65 L252.05 517.15 L251.89 517.4 L251.78 517.9 L251.63 518.15 L251.52 518.65 L251.36 518.9 L251.27 519.4 L251.24 519.68 L250.99 519.94 L250.76 520.4 L250.51 520.65 L250.24 520.76 L249.99 520.92 L249.53 521.15 L249.27 521.4 L249.02 521.65 L248.84 521.9 L248.74 522.17 L248.24 522.17 L247.74 522.18 L247.24 522.27 L246.99 522.43Z" fill="#1f66cc" fill-rule="evenodd"/>
<path d="M242.49 521.16 L241.99 521.16 L241.74 521.14 L241.24 521.02 L240.74 520.97 L240.24 520.98 L239.74 521.05 L239.42 520.9 L239.03 520.65 L238.74 520.45 L238.49 520.29 L238.23 520.15 L237.77 519.9 L237.49 519.77 L237.18 519.65 L236.74 519.54 L236.24 519.45 L235.95 519.4 L235.49 519.35 L234.99 519.37 L234.74 519.42 L234.49 519.4 L233.99 519.23 L233.74 519.11 L233.24 518.96 L232.74 518.91 L232.49 518.9 L231.99 518.88 L231.74 518.48 L231.51 518.15 L231.49 517.88 L231.41 517.4 L231.33 516.9 L231.46 516.4 L231.49 516.15 L231.5 515.65 L231.5 515.15 L231.49 514.65 L231.46 514.4 L231.34 513.9 L231.24 513.65 L231.24 513.21 L231.26 512.9 L231.24 512.59 L231.17 512.15 L230.99 511.66 L230.99 511.64 L231.01 511.15 L231.01 510.65 L231.01 510.15 L231.01 509.65 L231 509.15 L230.99 508.89 L230.93 508.4 L230.77 507.9 L230.64 507.65 L230.48 507.4 L230.24 507.11 L229.99 506.85 L229.74 506.62 L229.49 506.4 L229.17 506.15 L228.98 505.9 L228.74 505.64 L228.49 505.39 L228.24 505.13 L227.99 504.86 L227.74 504.63 L227.45 504.4 L227.03 504.15 L226.74 503.98 L226.49 503.85 L226.19 503.65 L225.88 503.4 L225.49 503.18 L225.24 503.05 L224.97 502.9 L224.49 502.66 L224.24 502.54 L223.99 502.4 L223.51 502.15 L223.93 501.9 L224.24 501.66 L224.49 501.41 L224.74 501.16 L224.99 500.92 L225.49 500.91 L225.74 500.9 L226.24 500.87 L226.74 500.75 L226.99 500.65 L227.41 500.4 L227.74 500.2 L227.99 500.03 L228.24 499.81 L228.49 499.65 L228.99 499.54 L229.47 499.4 L229.74 499.32 L230.24 499.16 L230.49 499.05 L230.78 498.9 L231.24 498.71 L231.49 498.63 L231.99 498.43 L232.24 498.32 L232.74 498.19 L232.99 498.1 L233.49 497.97 L233.81 497.9 L234.24 497.78 L234.74 497.69 L234.99 497.63 L235.49 497.51 L235.99 497.52 L236.49 497.55 L236.99 497.59 L237.49 497.64 L237.99 497.64 L238.46 497.65 L238.74 497.77 L239.01 497.9 L239.49 498.09 L239.74 498.17 L240.24 498.37 L240.49 498.47 L240.99 498.6 L241.28 498.65 L241.74 498.78 L242.03 498.9 L242.49 499.03 L242.99 499.09 L243.24 499.18 L243.74 499.34 L244.05 499.4 L244.49 499.63 L244.74 499.76 L245.02 499.9 L245.49 500.15 L245.74 500.27 L245.99 500.41 L246.3 500.65 L246.74 500.9 L246.99 501 L247.44 501.15 L247.48 501.65 L247.52 501.9 L247.57 502.4 L247.49 502.67 L247.33 503.15 L247.26 503.65 L247.27 504.15 L247.34 504.65 L247.49 505.08 L247.66 505.4 L247.83 505.65 L247.99 505.91 L248.24 506.23 L248.49 506.48 L248.74 506.7 L248.99 507.13 L249.15 507.4 L249.26 507.65 L249.48 508.15 L249.63 508.4 L249.75 508.65 L249.99 509.12 L250.17 509.4 L250.35 509.65 L250.56 509.9 L250.76 510.15 L250.99 510.47 L251.24 510.82 L251.33 511.15 L251.27 511.65 L251.23 511.9 L251.19 512.4 L251.08 512.9 L251.02 513.4 L250.99 513.76 L250.97 514.15 L250.98 514.65 L251.02 514.9 L250.92 515.15 L250.77 515.65 L250.73 515.9 L250.65 516.4 L250.53 516.9 L250.42 517.15 L250.24 517.59 L250.1 517.9 L249.99 518.2 L249.78 518.65 L249.7 518.9 L249.49 519.27 L249.24 519.47 L248.89 519.65 L248.52 519.9 L248.24 520.14 L247.99 520.37 L247.74 520.55 L247.24 520.63 L246.99 520.7 L246.49 520.87 L246.12 520.9 L245.74 520.94 L245.24 520.99 L244.74 521.03 L244.24 521.08 L243.74 521.1 L243.24 521.13 L242.74 521.15 L242.49 521.16Z" fill="#33a6e6" fill-rule="evenodd"/>
<path d="M244.49 519.93 L243.99 520 L243.49 520.05 L242.99 520.08 L242.49 520.1 L241.99 520.1 L241.49 520.01 L240.99 519.94 L240.65 519.9 L240.24 519.87 L239.74 519.78 L239.49 519.62 L239.13 519.4 L238.74 519.18 L238.49 519.04 L238.24 518.88 L237.84 518.65 L237.49 518.47 L237.24 518.35 L236.78 518.15 L236.49 518.05 L236.04 517.9 L235.74 517.82 L235.24 517.71 L234.74 517.69 L234.49 517.64 L233.99 517.4 L233.74 517.32 L233.24 517.2 L233.12 516.9 L233.19 516.4 L233.22 515.9 L233.22 515.4 L233.22 514.9 L233.2 514.4 L233.13 513.9 L233.01 513.4 L233 512.9 L232.99 512.51 L232.96 512.15 L232.86 511.65 L232.78 511.15 L232.78 510.65 L232.78 510.15 L232.77 509.65 L232.76 509.15 L232.74 508.88 L232.67 508.4 L232.51 507.9 L232.4 507.65 L232.24 507.39 L231.99 507.04 L231.74 506.75 L231.49 506.49 L231.24 506.25 L230.99 506.03 L230.74 505.81 L230.49 505.59 L230.24 505.38 L229.99 505.14 L229.74 504.85 L229.49 504.58 L229.24 504.29 L228.99 503.98 L228.74 503.67 L228.5 503.4 L228.26 503.15 L227.99 502.92 L227.74 502.73 L227.49 502.54 L227.49 502.24 L227.74 502.06 L227.99 501.87 L228.24 501.64 L228.51 501.4 L228.76 501.15 L229.12 500.9 L229.49 500.71 L229.74 500.57 L230.03 500.4 L230.44 500.15 L230.74 499.96 L230.99 499.79 L231.24 499.63 L231.72 499.4 L231.99 499.27 L232.24 499.15 L232.74 498.95 L232.99 498.87 L233.49 498.7 L233.74 498.65 L234.24 498.52 L234.74 498.43 L234.99 498.39 L235.49 498.3 L235.99 498.3 L236.49 498.34 L236.97 498.4 L237.24 498.45 L237.74 498.53 L238.24 498.59 L238.49 498.68 L238.94 498.9 L239.24 499.05 L239.49 499.16 L239.95 499.4 L240.24 499.57 L240.49 499.7 L240.94 499.9 L241.24 500.03 L241.49 500.17 L241.92 500.4 L242.24 500.55 L242.55 500.65 L242.99 500.83 L243.24 500.93 L243.74 501.15 L243.99 501.3 L244.24 501.45 L244.61 501.65 L244.99 501.87 L245.24 502.06 L245.49 502.23 L245.63 502.65 L245.53 503.15 L245.49 503.6 L245.49 503.9 L245.5 504.15 L245.57 504.65 L245.71 505.15 L245.82 505.4 L245.99 505.72 L246.24 506.07 L246.49 506.36 L246.74 506.65 L246.99 506.9 L247.24 507.12 L247.49 507.32 L247.74 507.57 L247.98 507.9 L248.14 508.15 L248.3 508.4 L248.49 508.67 L248.74 509.05 L248.96 509.4 L249.12 509.65 L249.29 509.9 L249.49 510.21 L249.74 510.56 L249.98 510.9 L250.14 511.15 L250.19 511.65 L250.18 512.15 L250.11 512.65 L250.06 513.15 L250.01 513.65 L249.99 513.9 L249.94 514.4 L249.9 514.9 L249.74 515.38 L249.66 515.65 L249.53 516.15 L249.46 516.4 L249.24 516.9 L249.12 517.15 L248.98 517.4 L248.74 517.85 L248.57 518.15 L248.41 518.4 L248.04 518.65 L247.74 518.87 L247.49 519.07 L247.24 519.27 L246.86 519.4 L246.49 519.55 L246.11 519.65 L245.74 519.73 L245.24 519.82 L244.74 519.9 L244.49 519.93Z" fill="#3fc7d6" fill-rule="evenodd"/>
<path d="M243.99 519.17 L243.49 519.23 L242.99 519.27 L242.49 519.29 L241.99 519.26 L241.49 519.19 L241.24 519.15 L240.74 519.07 L240.24 518.99 L239.99 518.9 L239.57 518.65 L239.24 518.46 L238.99 518.31 L238.74 518.14 L238.41 517.9 L238.06 517.65 L237.74 517.43 L237.49 517.25 L237.24 517.08 L236.97 516.9 L236.55 516.65 L236.24 516.48 L235.99 516.35 L235.54 516.15 L235.24 516.06 L234.78 515.9 L234.75 515.4 L234.76 514.9 L234.75 514.4 L234.74 514.15 L234.69 513.65 L234.62 513.15 L234.63 512.65 L234.63 512.15 L234.58 511.65 L234.5 511.15 L234.5 510.65 L234.52 510.15 L234.52 509.65 L234.5 509.15 L234.49 508.9 L234.41 508.4 L234.24 507.94 L234.1 507.65 L233.93 507.4 L233.73 507.15 L233.49 506.9 L233.22 506.65 L232.93 506.4 L232.63 506.15 L232.31 505.9 L232 505.65 L231.74 505.45 L231.49 505.25 L231.24 505.04 L230.99 504.82 L230.74 504.59 L230.49 504.29 L230.24 503.98 L230 503.65 L229.83 503.4 L229.67 503.15 L229.49 502.85 L229.28 502.4 L229.54 502.15 L229.79 501.9 L230.04 501.65 L230.29 501.4 L230.54 501.15 L230.79 500.9 L231.06 500.65 L231.36 500.4 L231.73 500.15 L231.99 499.99 L232.24 499.84 L232.59 499.65 L232.99 499.49 L233.24 499.39 L233.74 499.23 L234.03 499.15 L234.49 499.05 L234.99 498.97 L235.49 498.91 L235.74 498.88 L236.13 498.9 L236.49 498.95 L236.99 499.03 L237.49 499.15 L237.74 499.21 L238.24 499.34 L238.49 499.47 L238.81 499.65 L239.23 499.9 L239.49 500.07 L239.74 500.26 L239.99 500.46 L240.24 500.65 L240.57 500.9 L240.9 501.15 L241.21 501.4 L241.48 501.65 L241.74 501.87 L241.99 502.05 L242.24 502.2 L242.63 502.4 L242.99 502.6 L243.24 502.79 L243.49 502.96 L243.77 503.15 L243.78 503.65 L243.78 504.15 L243.82 504.65 L243.92 505.15 L244 505.4 L244.24 505.9 L244.41 506.15 L244.61 506.4 L244.86 506.65 L245.15 506.9 L245.46 507.15 L245.74 507.37 L245.99 507.55 L246.24 507.72 L246.53 507.9 L246.83 508.15 L247.05 508.4 L247.27 508.65 L247.5 508.9 L247.74 509.18 L247.99 509.51 L248.24 509.85 L248.46 510.15 L248.63 510.4 L248.8 510.65 L248.99 510.96 L249.24 511.37 L249.34 511.65 L249.34 512.15 L249.31 512.65 L249.27 513.15 L249.24 513.48 L249.19 513.9 L249.12 514.4 L249.04 514.9 L248.95 515.15 L248.77 515.65 L248.69 515.9 L248.5 516.4 L248.36 516.65 L248.21 516.9 L247.99 517.24 L247.74 517.62 L247.49 517.86 L247.24 518.05 L246.99 518.24 L246.74 518.42 L246.24 518.64 L245.99 518.72 L245.49 518.86 L245.24 518.92 L244.74 519.03 L244.24 519.13 L243.99 519.17Z" fill="#6cc853" fill-rule="evenodd"/>
<path d="M236.49 505.46 L235.99 505.54 L235.49 505.58 L234.99 505.49 L234.74 505.39 L234.24 505.18 L233.99 505.07 L233.68 504.9 L233.25 504.65 L232.99 504.48 L232.74 504.3 L232.49 504.09 L232.24 503.86 L231.99 503.59 L231.79 503.15 L231.83 502.65 L231.99 502.15 L232.11 501.9 L232.26 501.65 L232.49 501.36 L232.74 501.1 L232.99 500.9 L233.37 500.65 L233.74 500.46 L233.99 500.36 L234.49 500.22 L234.78 500.15 L235.24 500.09 L235.74 500.07 L236.24 500.1 L236.49 500.16 L236.99 500.31 L237.24 500.41 L237.74 500.65 L237.99 500.81 L238.24 501.01 L238.49 501.27 L238.74 501.59 L238.94 501.9 L239.06 502.15 L239.22 502.65 L239.27 502.9 L239.32 503.4 L239.24 503.82 L238.99 504.14 L238.74 504.38 L238.49 504.59 L238.24 504.76 L237.99 504.91 L237.49 505.15 L237.24 505.25 L236.74 505.4 L236.49 505.46ZM243.99 517.66 L243.49 517.74 L242.99 517.79 L242.49 517.79 L241.99 517.73 L241.6 517.65 L241.24 517.57 L240.74 517.42 L240.49 517.31 L240.24 517.14 L239.92 516.9 L239.63 516.65 L239.38 516.4 L239.15 516.15 L238.95 515.9 L238.74 515.61 L238.49 515.21 L238.32 514.9 L238.2 514.65 L238.03 514.15 L238.13 513.65 L238.24 513.28 L238.38 512.9 L238.49 512.65 L238.74 512.19 L238.92 511.9 L239.09 511.65 L239.29 511.4 L239.5 511.15 L239.74 510.9 L240 510.65 L240.28 510.4 L240.61 510.15 L240.98 509.9 L241.24 509.74 L241.49 509.6 L241.9 509.4 L242.24 509.26 L242.53 509.15 L242.99 509.01 L243.49 508.91 L243.74 508.88 L243.99 508.95 L244.49 509.1 L244.74 509.21 L245.14 509.4 L245.49 509.59 L245.74 509.75 L245.99 509.93 L246.28 510.15 L246.55 510.4 L246.79 510.65 L247.01 510.9 L247.24 511.22 L247.49 511.6 L247.66 511.9 L247.73 512.4 L247.75 512.65 L247.75 513.15 L247.73 513.4 L247.67 513.9 L247.57 514.4 L247.49 514.68 L247.32 515.15 L247.2 515.4 L246.99 515.81 L246.79 516.15 L246.6 516.4 L246.39 516.65 L246.1 516.9 L245.74 517.1 L245.49 517.2 L244.99 517.39 L244.74 517.47 L244.24 517.6 L243.99 517.66Z" fill="#eedc3a" fill-rule="evenodd"/>
<path d="M236.24 503.97 L235.74 504.08 L235.24 504.11 L234.74 504.05 L234.37 503.9 L234.03 503.65 L233.81 503.4 L233.67 503.15 L233.57 502.65 L233.7 502.15 L233.86 501.9 L234.11 501.65 L234.49 501.42 L234.74 501.33 L235.24 501.21 L235.74 501.2 L236.24 501.28 L236.54 501.4 L236.9 501.65 L237.14 501.9 L237.3 502.15 L237.44 502.65 L237.38 503.15 L237.24 503.43 L236.95 503.65 L236.49 503.89 L236.24 503.97ZM244.24 516.44 L243.74 516.55 L243.24 516.62 L242.74 516.63 L242.24 516.56 L241.74 516.43 L241.49 516.33 L241.11 516.15 L240.77 515.9 L240.53 515.65 L240.33 515.4 L240.17 515.15 L239.99 514.66 L239.98 514.4 L240 514.15 L240.09 513.65 L240.24 513.22 L240.39 512.9 L240.54 512.65 L240.74 512.36 L240.99 512.07 L241.24 511.82 L241.49 511.6 L241.76 511.4 L242.16 511.15 L242.49 510.99 L242.74 510.89 L243.24 510.73 L243.65 510.65 L243.99 510.62 L244.47 510.65 L244.74 510.76 L245.01 510.9 L245.4 511.15 L245.71 511.4 L245.95 511.65 L246.15 511.9 L246.32 512.15 L246.47 512.65 L246.5 512.9 L246.51 513.4 L246.49 513.65 L246.4 514.15 L246.24 514.65 L246.14 514.9 L245.99 515.18 L245.74 515.57 L245.49 515.9 L245.24 516.04 L244.99 516.16 L244.49 516.36 L244.24 516.44Z" fill="#f08c22" fill-rule="evenodd"/>
<path d="M243.49 515.93 L242.99 515.96 L242.49 515.91 L242.24 515.84 L241.78 515.65 L241.49 515.48 L241.24 515.2 L241.1 514.9 L240.99 514.45 L240.98 514.15 L241.01 513.9 L241.16 513.4 L241.27 513.15 L241.49 512.82 L241.74 512.52 L241.99 512.28 L242.24 512.09 L242.54 511.9 L242.99 511.7 L243.24 511.62 L243.74 511.53 L244.24 511.53 L244.74 511.63 L244.99 511.78 L245.24 511.99 L245.49 512.27 L245.69 512.65 L245.75 512.9 L245.79 513.4 L245.74 513.88 L245.68 514.15 L245.5 514.65 L245.37 514.9 L245.19 515.15 L244.9 515.4 L244.53 515.65 L244.24 515.76 L243.74 515.89 L243.49 515.93Z" fill="#e2301a" fill-rule="evenodd"/>
<line x1="209.3" y1="506.5" x2="264.6" y2="506.5" stroke="#111" stroke-width="1.3"/>
<line x1="239.5" y1="479.7" x2="239.5" y2="528.5" stroke="#111" stroke-width="1.3"/>
<text x="211.1" y="487" font-size="7.8" fill="#000">21.5</text>
<text x="263" y="487" font-size="7.8" text-anchor="end" fill="#000">20.3</text>
<text x="263" y="527" font-size="7.8" text-anchor="end" fill="#000">43.8</text>
<rect x="273.7" y="479.7" width="54.7" height="48.8" fill="#fff" stroke="#a8a8a8" stroke-width="0.8"/>
<path d="M290.59 499.53 L291.06 499.3 L291.96 499.48 L292.24 499 L292.29 498.19 L292.78 497.8 L293.43 497.57 L294.12 497.36 L294.91 497.29 L295.73 497.2 L296.64 497.21 L297.63 497.36 L298.48 497.15 L299.31 496.79 L300.2 496.53 L301.06 496.08 L301.95 495.72 L302.86 495.85 L303.77 496.15 L304.67 496.42 L305.49 496.97 L306.31 497.29 L307.24 497.2 L308.04 497.48 L308.64 498.18 L309.41 498.44 L310.42 498.39 L311.37 498.53 L312.36 498.66 L313.16 499.01 L313.76 499.53 L314.39 499.92 L314.89 500.33 L315.19 500.79 L315.34 501.26 L315.21 501.86 L315.03 502.45 L315.06 502.89 L315.22 503.31 L315.16 503.92 L315.34 504.48 L315.88 504.98 L315.97 505.77 L316.14 506.55 L316.85 507.21 L317.38 507.95 L317.48 508.77 L317.63 509.55 L317.52 510.3 L317.4 511.03 L317.85 511.79 L318.02 512.57 L317.66 513.29 L317.24 513.96 L316.74 514.57 L316.53 515.22 L316.78 516.02 L316.86 516.76 L316.6 517.36 L316.49 518.03 L316.37 518.71 L316 519.24 L315.78 519.87 L315.35 520.37 L314.67 520.67 L314.08 521.05 L313.49 521.45 L313.12 522.11 L312.64 522.7 L311.86 522.89 L311.18 523.2 L310.64 523.69 L310.05 524.1 L309.36 524.33 L308.66 524.55 L307.95 524.77 L307.17 524.8 L306.42 524.88 L305.74 525.26 L305.02 525.37 L304.27 525.01 L303.6 525.13 L302.9 525.41 L302.22 524.97 L301.56 524.65 L300.87 524.75 L300.21 524.77 L299.62 524.53 L299.13 524.09 L298.61 523.9 L298.05 523.85 L297.68 523.32 L297.38 522.7 L297 522.3 L296.87 521.48 L296.81 520.64 L296.45 520.33 L296.06 520.05 L295.83 519.54 L295.61 519.01 L295.44 518.43 L295.43 517.71 L295.25 517.18 L295.16 516.62 L295.59 515.76 L295.56 515.35 L294.99 515.34 L294.82 515.13 L294.65 514.98 L294.03 515.07 L293.71 515 L293.51 514.87 L292.73 514.93 L292.23 514.82 L292.58 514.37 L293.2 513.83 L293.72 513.33 L294.11 512.86 L294.33 512.41 L294.47 511.96 L294.53 511.5 L294.44 511.02 L294.2 510.49 L293.98 509.91 L294.22 509.38 L294.86 508.99 L294.87 508.53 L294.28 507.93 L293.95 507.42 L293.62 506.97 L293.26 506.57 L292.89 506.21 L292.43 505.83 L292.1 505.51 L292.02 505.28 L291.77 504.91 L291.28 504.32 L291.04 503.78 L290.91 503.22 L290.7 502.57 L290.56 501.92 L290.61 501.38 L290.7 500.87 L290.68 500.24Z" fill="#1c3d9c"/>
<path d="M305.56 524.26 L305.06 524.35 L304.56 524.22 L304.31 524.22 L303.81 524.21 L303.32 524.22 L303.06 524.31 L302.81 524.2 L302.35 523.97 L302.06 523.82 L301.81 523.7 L301.31 523.65 L300.84 523.72 L300.63 523.72 L300.31 523.61 L299.93 523.47 L299.62 523.22 L299.31 523.07 L299.06 522.91 L298.67 522.72 L298.49 522.47 L298.31 522.1 L298.06 521.8 L298 521.47 L297.99 520.97 L297.96 520.47 L297.81 520.13 L297.56 519.81 L297.31 519.55 L297.06 519.36 L296.81 519.05 L296.76 518.72 L296.56 518.29 L296.53 517.97 L296.53 517.47 L296.44 516.97 L296.53 516.47 L296.68 516.22 L296.77 515.72 L296.76 515.22 L296.56 514.78 L296.31 514.5 L296.06 514.32 L295.56 514.23 L295.31 514.06 L294.81 513.98 L294.8 513.72 L295.05 513.47 L295.22 513.22 L295.31 512.96 L295.54 512.47 L295.55 511.97 L295.55 511.47 L295.55 510.97 L295.47 510.47 L295.3 510.22 L295.53 509.97 L295.79 509.72 L295.95 509.47 L296.02 508.97 L296.01 508.47 L295.87 507.97 L295.69 507.72 L295.42 507.47 L295.15 507.22 L294.89 506.97 L294.65 506.72 L294.52 506.47 L294.31 506.2 L294.06 505.96 L293.81 505.72 L293.56 505.47 L293.3 505.22 L293.05 504.97 L292.81 504.66 L292.56 504.24 L292.31 503.98 L292.1 503.72 L291.99 503.47 L291.88 502.97 L291.81 502.63 L291.64 502.22 L291.65 501.72 L291.66 501.22 L291.68 500.72 L291.81 500.35 L292.31 500.3 L292.56 500.18 L292.84 499.97 L293.06 499.64 L293.18 499.22 L293.31 498.82 L293.56 498.61 L294.06 498.48 L294.31 498.35 L294.81 498.34 L295.31 498.32 L295.72 498.22 L296.06 498.07 L296.47 498.22 L296.81 498.27 L297.31 498.26 L297.81 498.25 L298.19 498.22 L298.56 498.11 L299.06 497.97 L299.31 497.88 L299.63 497.72 L300.06 497.55 L300.45 497.47 L300.81 497.3 L301.06 497.21 L301.56 497.08 L301.84 496.97 L302.31 496.87 L302.77 496.97 L303.06 497.09 L303.55 497.22 L303.81 497.33 L304.31 497.47 L304.56 497.57 L304.81 497.78 L305.15 497.97 L305.56 498.07 L305.9 498.22 L306.31 498.32 L306.81 498.34 L307.31 498.34 L307.56 498.56 L307.81 498.8 L308.06 499.04 L308.35 499.22 L308.81 499.35 L309.31 499.37 L309.81 499.39 L310.31 499.4 L310.56 499.55 L311.06 499.67 L311.56 499.68 L311.89 499.72 L312.31 499.92 L312.6 499.97 L312.85 500.22 L313.12 500.47 L313.56 500.7 L313.81 500.94 L314.06 501.2 L314.08 501.47 L314.06 501.77 L313.86 502.22 L313.84 502.72 L313.93 503.22 L314.09 503.47 L314.09 503.97 L314.11 504.47 L314.31 504.91 L314.56 505.18 L314.81 505.44 L314.84 505.72 L314.86 506.22 L315.06 506.65 L315.19 506.97 L315.36 507.22 L315.6 507.47 L315.84 507.72 L316.06 508.17 L316.31 508.44 L316.34 508.72 L316.36 509.22 L316.43 509.72 L316.35 510.22 L316.35 510.72 L316.35 511.22 L316.44 511.72 L316.61 511.97 L316.84 512.22 L316.81 512.51 L316.56 512.79 L316.36 513.22 L316.13 513.47 L315.97 513.72 L315.81 514.11 L315.65 514.47 L315.51 514.72 L315.4 515.22 L315.49 515.72 L315.62 515.97 L315.63 516.47 L315.61 516.97 L315.46 517.22 L315.36 517.72 L315.35 518.22 L315.12 518.47 L314.95 518.72 L314.85 519.22 L314.62 519.47 L314.31 519.63 L314.06 519.8 L313.72 519.97 L313.43 520.22 L313.06 520.45 L312.81 520.63 L312.56 520.96 L312.44 521.22 L312.21 521.47 L312.04 521.72 L311.56 521.89 L311.31 522.01 L310.92 522.22 L310.56 522.46 L310.31 522.71 L310.06 522.92 L309.81 523.04 L309.48 523.22 L309.06 523.42 L308.78 523.47 L308.31 523.69 L308.06 523.73 L307.56 523.95 L307.06 523.97 L306.81 523.98 L306.31 524 L305.81 524.13 L305.56 524.26Z" fill="#1f66cc" fill-rule="evenodd"/>
<path d="M305.06 523.24 L304.81 523.2 L304.31 523.17 L303.81 523.13 L303.31 523.08 L302.94 522.97 L302.56 522.78 L302.31 522.66 L301.83 522.47 L301.56 522.4 L301.06 522.3 L300.69 522.22 L300.31 521.97 L300.06 521.81 L299.81 521.64 L299.56 521.31 L299.45 520.97 L299.4 520.47 L299.31 520.1 L299.19 519.72 L299.06 519.44 L298.81 519 L298.6 518.72 L298.41 518.47 L298.22 518.22 L298.1 517.72 L298.08 517.22 L298.06 516.97 L298.14 516.72 L298.26 516.22 L298.31 515.72 L298.31 515.47 L298.31 515.2 L298.25 514.72 L298.11 514.22 L298.01 513.97 L297.81 513.63 L297.56 513.32 L297.31 513.08 L297.24 512.72 L297.29 512.22 L297.3 511.72 L297.3 511.22 L297.29 510.72 L297.4 510.47 L297.56 510.12 L297.68 509.72 L297.75 509.22 L297.73 508.72 L297.66 508.22 L297.56 507.89 L297.36 507.47 L297.2 507.22 L296.99 506.97 L296.73 506.72 L296.42 506.47 L296.12 506.22 L295.83 505.97 L295.64 505.72 L295.42 505.47 L295.15 505.22 L294.88 504.97 L294.62 504.72 L294.37 504.47 L294.13 504.22 L293.94 503.97 L293.8 503.72 L293.56 503.37 L293.31 503.06 L293.22 502.72 L293.14 502.22 L293.06 501.85 L293.06 501.68 L293.31 501.36 L293.56 501.15 L293.81 500.91 L294.06 500.61 L294.31 500.22 L294.44 499.97 L294.79 499.72 L295.06 499.69 L295.56 499.61 L296.05 499.47 L296.09 499.47 L296.56 499.49 L296.83 499.47 L297.31 499.42 L297.81 499.38 L298.31 499.33 L298.76 499.22 L299.06 499.12 L299.56 499.01 L299.81 498.93 L300.31 498.75 L300.56 498.7 L301.06 498.59 L301.39 498.47 L301.81 498.37 L302.31 498.26 L302.81 498.4 L303.07 498.47 L303.56 498.61 L303.86 498.72 L304.28 498.97 L304.56 499.11 L304.87 499.22 L305.31 499.37 L305.56 499.47 L306.06 499.62 L306.56 499.69 L306.81 499.74 L307.06 499.98 L307.36 500.22 L307.75 500.47 L308.06 500.63 L308.31 500.73 L308.81 500.84 L309.31 500.91 L309.81 500.97 L310.06 501.06 L310.51 501.22 L310.81 501.3 L311.31 501.35 L311.65 501.47 L311.97 501.72 L312.19 501.97 L312.16 502.47 L312.17 502.97 L312.26 503.47 L312.34 503.72 L312.42 504.22 L312.48 504.72 L312.56 505.04 L312.74 505.47 L312.88 505.72 L313.06 505.99 L313.26 506.47 L313.33 506.72 L313.54 507.22 L313.68 507.47 L313.81 507.74 L314.06 508.14 L314.31 508.46 L314.52 508.72 L314.66 508.97 L314.78 509.47 L314.77 509.97 L314.79 510.47 L314.81 510.97 L314.81 511.22 L314.87 511.72 L314.99 512.22 L314.81 512.72 L314.7 512.97 L314.56 513.36 L314.43 513.72 L314.31 514.03 L314.17 514.47 L314.08 514.97 L314.06 515.22 L314.06 515.72 L314.09 515.97 L314.16 516.47 L314.06 516.81 L313.94 517.22 L313.83 517.72 L313.69 517.97 L313.56 518.25 L313.31 518.53 L313.04 518.72 L312.76 518.97 L312.51 519.22 L312.2 519.47 L311.95 519.72 L311.73 519.97 L311.55 520.22 L311.31 520.59 L311.06 520.75 L310.72 520.97 L310.34 521.22 L310.06 521.42 L309.81 521.63 L309.56 521.86 L309.31 522.03 L308.97 522.22 L308.56 522.4 L308.31 522.5 L307.81 522.71 L307.56 522.8 L307.06 522.93 L306.68 522.97 L306.31 523.01 L305.81 523.08 L305.31 523.21 L305.06 523.24Z" fill="#33a6e6" fill-rule="evenodd"/>
<path d="M306.81 521.99 L306.31 522.05 L305.81 522.11 L305.31 522.18 L304.81 522.2 L304.31 522.15 L303.81 522.08 L303.31 521.99 L303.06 521.86 L302.81 521.72 L302.32 521.47 L302.06 521.36 L301.75 521.22 L301.31 521.05 L301.06 520.96 L300.74 520.72 L300.58 520.22 L300.5 519.97 L300.34 519.47 L300.24 519.22 L300.06 518.79 L299.91 518.47 L299.79 518.22 L299.56 517.83 L299.39 517.47 L299.41 516.97 L299.49 516.47 L299.54 515.97 L299.56 515.47 L299.57 515.22 L299.56 514.72 L299.55 514.47 L299.49 513.97 L299.38 513.47 L299.31 513.22 L299.11 512.72 L298.98 512.47 L298.91 511.97 L298.94 511.47 L299.01 510.97 L299.12 510.72 L299.29 510.22 L299.36 509.97 L299.44 509.47 L299.45 508.97 L299.41 508.47 L299.32 507.97 L299.24 507.72 L299.06 507.34 L298.84 506.97 L298.66 506.72 L298.44 506.47 L298.19 506.22 L297.91 505.97 L297.6 505.72 L297.31 505.51 L297.06 505.32 L296.81 505.07 L296.56 504.79 L296.31 504.53 L296.06 504.3 L295.81 504.05 L295.56 503.79 L295.31 503.51 L295.1 503.22 L294.97 502.97 L294.81 502.68 L294.59 502.22 L294.81 501.87 L295.06 501.54 L295.28 501.22 L295.56 500.99 L295.81 500.92 L296.31 500.82 L296.81 500.75 L297.06 500.7 L297.56 500.62 L298.06 500.55 L298.49 500.47 L298.81 500.4 L299.31 500.26 L299.56 500.19 L300.06 500.06 L300.35 499.97 L300.81 499.84 L301.31 499.75 L301.56 499.69 L302.06 499.56 L302.56 499.59 L303 499.72 L303.31 499.84 L303.56 499.98 L304.06 500.22 L304.31 500.33 L304.7 500.47 L305.06 500.63 L305.31 500.74 L305.81 500.92 L306.06 500.99 L306.45 501.22 L306.75 501.47 L307.06 501.71 L307.31 501.88 L307.56 502.02 L307.98 502.22 L308.31 502.35 L308.77 502.47 L309.06 502.53 L309.56 502.62 L309.81 502.72 L310.31 502.91 L310.56 503.15 L310.6 503.47 L310.72 503.97 L310.81 504.47 L310.84 504.72 L310.95 505.22 L311.06 505.53 L311.26 505.97 L311.41 506.22 L311.57 506.47 L311.81 506.85 L311.96 507.22 L312.08 507.47 L312.31 507.89 L312.51 508.22 L312.65 508.47 L312.81 508.74 L313.06 509.11 L313.31 509.44 L313.39 509.72 L313.43 510.22 L313.49 510.72 L313.53 511.22 L313.56 511.5 L313.63 511.97 L313.56 512.45 L313.5 512.72 L313.37 513.22 L313.3 513.47 L313.18 513.97 L313.08 514.47 L313.04 514.72 L312.99 515.22 L312.95 515.72 L312.95 516.22 L312.88 516.72 L312.8 516.97 L312.63 517.47 L312.41 517.72 L312.18 517.97 L311.96 518.22 L311.72 518.47 L311.49 518.72 L311.26 518.97 L311.06 519.22 L310.81 519.55 L310.56 519.85 L310.31 520.04 L310.06 520.24 L309.73 520.47 L309.41 520.72 L309.11 520.97 L308.81 521.2 L308.56 521.35 L308.29 521.47 L307.81 521.68 L307.56 521.78 L307.06 521.95 L306.81 521.99Z" fill="#3fc7d6" fill-rule="evenodd"/>
<path d="M306.31 521.25 L305.81 521.3 L305.31 521.35 L304.81 521.37 L304.31 521.29 L303.96 521.22 L303.56 521.13 L303.27 520.97 L302.83 520.72 L302.56 520.57 L302.31 520.42 L301.97 520.22 L301.56 519.98 L301.43 519.72 L301.31 519.42 L301.14 518.97 L301.04 518.72 L300.84 518.22 L300.73 517.97 L300.56 517.56 L300.41 517.22 L300.43 516.72 L300.47 516.22 L300.49 515.72 L300.52 515.22 L300.54 514.72 L300.55 514.22 L300.55 513.72 L300.52 513.22 L300.47 512.72 L300.39 512.22 L300.31 511.81 L300.31 511.65 L300.42 511.22 L300.56 510.89 L300.71 510.47 L300.81 510.16 L300.92 509.72 L301 509.22 L301.03 508.72 L301.02 508.22 L300.93 507.72 L300.81 507.39 L300.61 506.97 L300.45 506.72 L300.26 506.47 L300.05 506.22 L299.81 505.97 L299.54 505.72 L299.26 505.47 L298.94 505.22 L298.61 504.97 L298.31 504.76 L298.06 504.57 L297.81 504.33 L297.56 504.05 L297.31 503.78 L297.06 503.51 L296.81 503.22 L296.61 502.97 L296.42 502.72 L296.25 502.47 L296.53 502.22 L296.81 502.15 L297.31 502.01 L297.56 501.95 L298.06 501.83 L298.5 501.72 L298.81 501.64 L299.31 501.49 L299.56 501.4 L300.06 501.25 L300.31 501.19 L300.81 501.04 L301.06 500.96 L301.56 500.87 L302.06 500.78 L302.31 500.72 L302.56 500.79 L302.95 500.97 L303.31 501.18 L303.56 501.31 L303.89 501.47 L304.31 501.67 L304.56 501.81 L304.87 501.97 L305.31 502.2 L305.56 502.32 L305.81 502.5 L306.06 502.75 L306.31 502.99 L306.59 503.22 L306.92 503.47 L307.31 503.72 L307.56 503.85 L307.85 503.97 L308.31 504.13 L308.73 504.22 L309.06 504.28 L309.26 504.72 L309.31 505 L309.44 505.47 L309.56 505.79 L309.78 506.22 L309.93 506.47 L310.11 506.72 L310.31 506.99 L310.56 507.3 L310.81 507.71 L310.98 507.97 L311.14 508.22 L311.32 508.47 L311.56 508.84 L311.81 509.22 L311.98 509.47 L312.15 509.72 L312.31 510.11 L312.38 510.47 L312.47 510.97 L312.55 511.47 L312.59 511.72 L312.6 512.22 L312.56 512.47 L312.48 512.97 L312.4 513.47 L312.32 513.97 L312.28 514.22 L312.22 514.72 L312.16 515.22 L312.11 515.72 L312.06 516.21 L312.04 516.47 L311.86 516.97 L311.67 517.22 L311.48 517.47 L311.28 517.72 L311.06 517.98 L310.81 518.29 L310.56 518.6 L310.31 518.92 L310.07 519.22 L309.81 519.45 L309.56 519.64 L309.31 519.84 L309.06 520.03 L308.81 520.23 L308.5 520.47 L308.06 520.72 L307.81 520.83 L307.48 520.97 L307.06 521.12 L306.56 521.22 L306.31 521.25Z" fill="#6cc853" fill-rule="evenodd"/>
<path d="M307.06 519.48 L306.56 519.62 L306.06 519.68 L305.56 519.69 L305.06 519.67 L304.56 519.59 L304.22 519.47 L303.81 519.28 L303.56 519.1 L303.31 518.91 L303.06 518.69 L302.81 518.45 L302.58 517.97 L302.48 517.72 L302.31 517.25 L302.22 516.97 L302.14 516.47 L302.15 515.97 L302.17 515.47 L302.21 514.97 L302.26 514.47 L302.31 514.11 L302.37 513.72 L302.45 513.22 L302.55 512.72 L302.6 512.47 L302.72 511.97 L302.84 511.72 L303.06 511.42 L303.31 511.09 L303.56 510.8 L303.81 510.54 L304.06 510.3 L304.31 510.08 L304.56 509.88 L304.81 509.71 L305.18 509.47 L305.56 509.27 L305.81 509.15 L306.3 508.97 L306.56 508.9 L307.06 508.8 L307.56 508.77 L308.06 508.8 L308.56 508.89 L308.81 509.05 L309.06 509.26 L309.31 509.47 L309.57 509.72 L309.81 509.98 L310.06 510.26 L310.31 510.61 L310.48 510.97 L310.57 511.22 L310.71 511.72 L310.76 512.22 L310.78 512.72 L310.79 513.22 L310.78 513.72 L310.75 514.22 L310.7 514.72 L310.64 515.22 L310.56 515.69 L310.51 515.97 L310.31 516.42 L310.11 516.72 L309.95 516.97 L309.77 517.22 L309.56 517.51 L309.31 517.84 L309.06 518.13 L308.81 518.35 L308.56 518.56 L308.31 518.76 L308.02 518.97 L307.64 519.22 L307.31 519.38 L307.06 519.48Z" fill="#eedc3a" fill-rule="evenodd"/>
<path d="M306.56 518.3 L306.06 518.35 L305.56 518.32 L305.06 518.22 L304.81 518.14 L304.43 517.97 L304.09 517.72 L303.86 517.47 L303.69 517.22 L303.56 516.92 L303.41 516.47 L303.38 515.97 L303.38 515.47 L303.42 514.97 L303.5 514.47 L303.56 514.22 L303.75 513.72 L303.87 513.47 L304.06 513.14 L304.31 512.76 L304.53 512.47 L304.76 512.22 L305.02 511.97 L305.31 511.74 L305.56 511.57 L305.81 511.42 L306.26 511.22 L306.56 511.13 L307.06 511.05 L307.56 511.06 L308.06 511.17 L308.31 511.28 L308.65 511.47 L308.96 511.72 L309.17 511.97 L309.31 512.28 L309.42 512.72 L309.51 513.22 L309.55 513.72 L309.55 514.22 L309.52 514.72 L309.46 515.22 L309.33 515.72 L309.2 515.97 L309.05 516.22 L308.81 516.59 L308.56 516.93 L308.31 517.22 L308.06 517.44 L307.81 517.64 L307.56 517.82 L307.31 517.98 L306.81 518.22 L306.56 518.3Z" fill="#f08c22" fill-rule="evenodd"/>
<path d="M306.56 517.51 L306.06 517.55 L305.56 517.49 L305.31 517.42 L304.87 517.22 L304.61 516.97 L304.48 516.72 L304.31 516.24 L304.26 515.97 L304.24 515.47 L304.29 514.97 L304.34 514.72 L304.5 514.22 L304.61 513.97 L304.81 513.62 L305.06 513.26 L305.31 512.98 L305.56 512.76 L305.81 512.57 L306.06 512.43 L306.56 512.23 L306.81 512.18 L307.31 512.18 L307.56 512.23 L308.06 512.47 L308.31 512.67 L308.56 512.97 L308.7 513.22 L308.81 513.61 L308.85 513.97 L308.86 514.47 L308.82 514.97 L308.78 515.22 L308.56 515.72 L308.42 515.97 L308.25 516.22 L308.06 516.48 L307.81 516.74 L307.52 516.97 L307.15 517.22 L306.81 517.41 L306.56 517.51Z" fill="#e2301a" fill-rule="evenodd"/>
<line x1="273.7" y1="506.5" x2="328.4" y2="506.5" stroke="#111" stroke-width="1.3"/>
<line x1="304.5" y1="479.7" x2="304.5" y2="528.5" stroke="#111" stroke-width="1.3"/>
<text x="275.5" y="487" font-size="7.8" fill="#000">10.7</text>
<text x="326.8" y="487" font-size="7.8" text-anchor="end" fill="#000">19.5</text>
<text x="326.8" y="527" font-size="7.8" text-anchor="end" fill="#000">60.0</text>
<line x1="42" y1="491" x2="42" y2="515" stroke="#111" stroke-width="1.3"/>
<path d="M42 486.4 L39.1 493.2 L42 492.2 L44.9 493.2 Z" fill="#000"/>
<line x1="41.4" y1="515" x2="66" y2="515" stroke="#111" stroke-width="1.3"/>
<path d="M70.8 515 L64 512.1 L65 515 L64 517.9 Z" fill="#000"/>
<text x="37" y="501" font-size="9" text-anchor="middle" fill="#000" transform="translate(37 501) rotate(-90) scale(1 1.14) translate(-37 -501)">CD62L</text>
<text x="52.8" y="527.2" font-size="8.6" text-anchor="middle" fill="#000" transform="translate(52.8 527.2) scale(1 1.15) translate(-52.8 -527.2)">CD44</text>
<line x1="137.1" y1="479.5" x2="137.1" y2="703.5" stroke="#111" stroke-width="1.7" stroke-dasharray="2.8 3.9"/>
<line x1="204.4" y1="479.5" x2="204.4" y2="703.5" stroke="#111" stroke-width="1.7" stroke-dasharray="2.8 3.9"/>
<line x1="270.6" y1="479.5" x2="270.6" y2="703.5" stroke="#111" stroke-width="1.7" stroke-dasharray="2.8 3.9"/>
<line x1="79.5" y1="552" x2="79.5" y2="612.5" stroke="#111" stroke-width="1.1"/>
<line x1="75.3" y1="612" x2="79.5" y2="612" stroke="#111" stroke-width="1"/>
<text x="73" y="615.17" font-size="8.8" text-anchor="end" fill="#000">0</text>
<line x1="75.3" y1="597.62" x2="79.5" y2="597.62" stroke="#111" stroke-width="1"/>
<text x="73" y="600.79" font-size="8.8" text-anchor="end" fill="#000">20</text>
<line x1="75.3" y1="583.25" x2="79.5" y2="583.25" stroke="#111" stroke-width="1"/>
<text x="73" y="586.42" font-size="8.8" text-anchor="end" fill="#000">40</text>
<line x1="75.3" y1="568.87" x2="79.5" y2="568.87" stroke="#111" stroke-width="1"/>
<text x="73" y="572.04" font-size="8.8" text-anchor="end" fill="#000">60</text>
<line x1="75.3" y1="554.5" x2="79.5" y2="554.5" stroke="#111" stroke-width="1"/>
<text x="73" y="557.66" font-size="8.8" text-anchor="end" fill="#000">80</text>
<rect x="81.25" y="583.25" width="13.1" height="28.75" fill="#c9cbe0"/>
<line x1="87.8" y1="582.17" x2="87.8" y2="583.25" stroke="#222" stroke-width="1"/>
<line x1="84.8" y1="582.17" x2="90.8" y2="582.17" stroke="#222" stroke-width="1.2"/>
<text x="87.8" y="627.3" font-size="8.5" text-anchor="middle" fill="#000">N</text>
<rect x="98.75" y="590.44" width="13.1" height="21.56" fill="#8e96c2"/>
<line x1="105.3" y1="589.86" x2="105.3" y2="590.44" stroke="#222" stroke-width="1"/>
<line x1="102.3" y1="589.86" x2="108.3" y2="589.86" stroke="#222" stroke-width="1.2"/>
<text x="105.3" y="627.3" font-size="8.5" text-anchor="middle" fill="#000">CM</text>
<rect x="115.7" y="594.03" width="13.1" height="17.97" fill="#2d4c8c"/>
<line x1="122.25" y1="593.6" x2="122.25" y2="594.03" stroke="#222" stroke-width="1"/>
<line x1="119.25" y1="593.6" x2="125.25" y2="593.6" stroke="#222" stroke-width="1.2"/>
<text x="122.25" y="627.3" font-size="8.5" text-anchor="middle" fill="#000">EM</text>
<rect x="145.75" y="597.98" width="13.1" height="14.02" fill="#c9cbe0"/>
<line x1="152.3" y1="597.41" x2="152.3" y2="597.98" stroke="#222" stroke-width="1"/>
<line x1="149.3" y1="597.41" x2="155.3" y2="597.41" stroke="#222" stroke-width="1.2"/>
<text x="152.3" y="627.3" font-size="8.5" text-anchor="middle" fill="#000">N</text>
<rect x="163.25" y="573.9" width="13.1" height="38.1" fill="#8e96c2"/>
<line x1="169.8" y1="572.83" x2="169.8" y2="573.9" stroke="#222" stroke-width="1"/>
<line x1="166.8" y1="572.83" x2="172.8" y2="572.83" stroke="#222" stroke-width="1.2"/>
<text x="169.8" y="627.3" font-size="8.5" text-anchor="middle" fill="#000">CM</text>
<rect x="180.75" y="593.67" width="13.1" height="18.33" fill="#2d4c8c"/>
<line x1="187.3" y1="593.24" x2="187.3" y2="593.67" stroke="#222" stroke-width="1"/>
<line x1="184.3" y1="593.24" x2="190.3" y2="593.24" stroke="#222" stroke-width="1.2"/>
<text x="187.3" y="627.3" font-size="8.5" text-anchor="middle" fill="#000">EM</text>
<rect x="213.75" y="595.47" width="13.1" height="16.53" fill="#ecd0c6"/>
<line x1="220.3" y1="595.04" x2="220.3" y2="595.47" stroke="#222" stroke-width="1"/>
<line x1="217.3" y1="595.04" x2="223.3" y2="595.04" stroke="#222" stroke-width="1.2"/>
<text x="220.3" y="627.3" font-size="8.5" text-anchor="middle" fill="#000">N</text>
<rect x="231.25" y="592.59" width="13.1" height="19.41" fill="#d08c7c"/>
<line x1="237.8" y1="592.16" x2="237.8" y2="592.59" stroke="#222" stroke-width="1"/>
<line x1="234.8" y1="592.16" x2="240.8" y2="592.16" stroke="#222" stroke-width="1.2"/>
<text x="237.8" y="627.3" font-size="8.5" text-anchor="middle" fill="#000">CM</text>
<rect x="249" y="581.09" width="13.1" height="30.91" fill="#b30f2e"/>
<line x1="255.55" y1="580.52" x2="255.55" y2="581.09" stroke="#222" stroke-width="1"/>
<line x1="252.55" y1="580.52" x2="258.55" y2="580.52" stroke="#222" stroke-width="1.2"/>
<text x="255.55" y="627.3" font-size="8.5" text-anchor="middle" fill="#000">EM</text>
<rect x="279.3" y="603.01" width="13.1" height="8.99" fill="#ecd0c6"/>
<line x1="285.85" y1="602.58" x2="285.85" y2="603.01" stroke="#222" stroke-width="1"/>
<line x1="282.85" y1="602.58" x2="288.85" y2="602.58" stroke="#222" stroke-width="1.2"/>
<text x="285.85" y="627.3" font-size="8.5" text-anchor="middle" fill="#000">N</text>
<rect x="297.3" y="597.98" width="13.1" height="14.02" fill="#d08c7c"/>
<line x1="303.85" y1="597.55" x2="303.85" y2="597.98" stroke="#222" stroke-width="1"/>
<line x1="300.85" y1="597.55" x2="306.85" y2="597.55" stroke="#222" stroke-width="1.2"/>
<text x="303.85" y="627.3" font-size="8.5" text-anchor="middle" fill="#000">CM</text>
<rect x="314.6" y="569.59" width="13.1" height="42.41" fill="#b30f2e"/>
<line x1="321.15" y1="569.09" x2="321.15" y2="569.59" stroke="#222" stroke-width="1"/>
<line x1="318.15" y1="569.09" x2="324.15" y2="569.09" stroke="#222" stroke-width="1.2"/>
<text x="321.15" y="627.3" font-size="8.5" text-anchor="middle" fill="#000">EM</text>
<line x1="79" y1="612" x2="329.4" y2="612" stroke="#111" stroke-width="1.2"/>
<text x="56.8" y="582.5" font-size="9" text-anchor="middle" fill="#000" transform="rotate(-90 56.8 582.5)">% of Treg</text>
<line x1="79.5" y1="642.5" x2="79.5" y2="704" stroke="#111" stroke-width="1.1"/>
<line x1="75.3" y1="703.5" x2="79.5" y2="703.5" stroke="#111" stroke-width="1"/>
<text x="73" y="706.67" font-size="8.8" text-anchor="end" fill="#000">0</text>
<line x1="75.3" y1="683.88" x2="79.5" y2="683.88" stroke="#111" stroke-width="1"/>
<text x="73" y="687.04" font-size="8.8" text-anchor="end" fill="#000">5</text>
<line x1="75.3" y1="664.25" x2="79.5" y2="664.25" stroke="#111" stroke-width="1"/>
<text x="73" y="667.42" font-size="8.8" text-anchor="end" fill="#000">10</text>
<line x1="75.3" y1="644.62" x2="79.5" y2="644.62" stroke="#111" stroke-width="1"/>
<text x="73" y="647.79" font-size="8.8" text-anchor="end" fill="#000">15</text>
<rect x="81.25" y="699.97" width="13.1" height="3.53" fill="#c9cbe0"/>
<line x1="82.25" y1="700.37" x2="93.35" y2="700.37" stroke="#777" stroke-width="0.8"/>
<text x="87.8" y="717.4" font-size="8.5" text-anchor="middle" fill="#000">N</text>
<rect x="98.75" y="690.15" width="13.1" height="13.35" fill="#8e96c2"/>
<line x1="105.3" y1="689.57" x2="105.3" y2="690.15" stroke="#222" stroke-width="1"/>
<line x1="102.3" y1="689.57" x2="108.3" y2="689.57" stroke="#222" stroke-width="1.2"/>
<text x="105.3" y="717.4" font-size="8.5" text-anchor="middle" fill="#000">CM</text>
<rect x="115.7" y="670.92" width="13.1" height="32.58" fill="#2d4c8c"/>
<line x1="122.25" y1="668.17" x2="122.25" y2="670.92" stroke="#222" stroke-width="1"/>
<line x1="119.25" y1="668.17" x2="125.25" y2="668.17" stroke="#222" stroke-width="1.2"/>
<text x="122.25" y="717.4" font-size="8.5" text-anchor="middle" fill="#000">EM</text>
<rect x="145.75" y="699.18" width="13.1" height="4.32" fill="#c9cbe0"/>
<line x1="152.3" y1="698.4" x2="152.3" y2="699.18" stroke="#222" stroke-width="1"/>
<line x1="149.3" y1="698.4" x2="155.3" y2="698.4" stroke="#222" stroke-width="1.2"/>
<text x="152.3" y="717.4" font-size="8.5" text-anchor="middle" fill="#000">N</text>
<rect x="163.25" y="690.15" width="13.1" height="13.35" fill="#8e96c2"/>
<line x1="169.8" y1="689.57" x2="169.8" y2="690.15" stroke="#222" stroke-width="1"/>
<line x1="166.8" y1="689.57" x2="172.8" y2="689.57" stroke="#222" stroke-width="1.2"/>
<text x="169.8" y="717.4" font-size="8.5" text-anchor="middle" fill="#000">CM</text>
<rect x="180.75" y="674.85" width="13.1" height="28.65" fill="#2d4c8c"/>
<line x1="187.3" y1="673.28" x2="187.3" y2="674.85" stroke="#222" stroke-width="1"/>
<line x1="184.3" y1="673.28" x2="190.3" y2="673.28" stroke="#222" stroke-width="1.2"/>
<text x="187.3" y="717.4" font-size="8.5" text-anchor="middle" fill="#000">EM</text>
<rect x="213.75" y="699.77" width="13.1" height="3.73" fill="#ecd0c6"/>
<line x1="220.3" y1="698.79" x2="220.3" y2="699.77" stroke="#222" stroke-width="1"/>
<line x1="217.3" y1="698.79" x2="223.3" y2="698.79" stroke="#222" stroke-width="1.2"/>
<text x="220.3" y="717.4" font-size="8.5" text-anchor="middle" fill="#000">N</text>
<rect x="231.25" y="688.59" width="13.1" height="14.91" fill="#d08c7c"/>
<line x1="237.8" y1="687.41" x2="237.8" y2="688.59" stroke="#222" stroke-width="1"/>
<line x1="234.8" y1="687.41" x2="240.8" y2="687.41" stroke="#222" stroke-width="1.2"/>
<text x="237.8" y="717.4" font-size="8.5" text-anchor="middle" fill="#000">CM</text>
<rect x="249" y="675.63" width="13.1" height="27.87" fill="#b30f2e"/>
<line x1="255.55" y1="673.87" x2="255.55" y2="675.63" stroke="#222" stroke-width="1"/>
<line x1="252.55" y1="673.87" x2="258.55" y2="673.87" stroke="#222" stroke-width="1.2"/>
<text x="255.55" y="717.4" font-size="8.5" text-anchor="middle" fill="#000">EM</text>
<rect x="279.3" y="698.4" width="13.1" height="5.1" fill="#ecd0c6"/>
<line x1="285.85" y1="697.81" x2="285.85" y2="698.4" stroke="#222" stroke-width="1"/>
<line x1="282.85" y1="697.81" x2="288.85" y2="697.81" stroke="#222" stroke-width="1.2"/>
<text x="285.85" y="717.4" font-size="8.5" text-anchor="middle" fill="#000">N</text>
<rect x="297.3" y="685.84" width="13.1" height="17.66" fill="#d08c7c"/>
<line x1="303.85" y1="683.48" x2="303.85" y2="685.84" stroke="#222" stroke-width="1"/>
<line x1="300.85" y1="683.48" x2="306.85" y2="683.48" stroke="#222" stroke-width="1.2"/>
<text x="303.85" y="717.4" font-size="8.5" text-anchor="middle" fill="#000">CM</text>
<rect x="314.6" y="652.08" width="13.1" height="51.42" fill="#b30f2e"/>
<line x1="321.15" y1="648.16" x2="321.15" y2="652.08" stroke="#222" stroke-width="1"/>
<line x1="318.15" y1="648.16" x2="324.15" y2="648.16" stroke="#222" stroke-width="1.2"/>
<text x="321.15" y="717.4" font-size="8.5" text-anchor="middle" fill="#000">EM</text>
<line x1="79" y1="703.5" x2="329.4" y2="703.5" stroke="#111" stroke-width="1.2"/>
<text x="56.8" y="673.5" font-size="9" text-anchor="middle" fill="#000" transform="rotate(-90 56.8 673.5)">Annexin-V(%)</text>
<path d="M187.3 586.3 L187.3 547 L321.4 547 L321.4 553.7" fill="none" stroke="#000" stroke-width="1"/>
<path d="M255.6 576.5 L255.6 557.5 L321.4 557.5 L321.4 565" fill="none" stroke="#000" stroke-width="1"/>
<text x="244.2" y="544.71" font-size="7.4" font-weight="bold" text-anchor="middle">*</text>
<text x="248.4" y="544.71" font-size="7.4" font-weight="bold" text-anchor="middle">*</text>
<text x="252.6" y="544.71" font-size="7.4" font-weight="bold" text-anchor="middle">*</text>
<text x="256.8" y="544.71" font-size="7.4" font-weight="bold" text-anchor="middle">*</text>
<text x="279.3" y="555.91" font-size="7.4" font-weight="bold" text-anchor="middle">*</text>
<text x="283.5" y="555.91" font-size="7.4" font-weight="bold" text-anchor="middle">*</text>
<text x="287.7" y="555.91" font-size="7.4" font-weight="bold" text-anchor="middle">*</text>
<text x="291.9" y="555.91" font-size="7.4" font-weight="bold" text-anchor="middle">*</text>
<path d="M187.3 671.3 L187.3 638.7 L321.4 638.7 L321.4 643" fill="none" stroke="#000" stroke-width="1"/>
<text x="251.4" y="636.91" font-size="7.4" font-weight="bold" text-anchor="middle">*</text>
<text x="255.6" y="636.91" font-size="7.4" font-weight="bold" text-anchor="middle">*</text>
</svg></body></html>
